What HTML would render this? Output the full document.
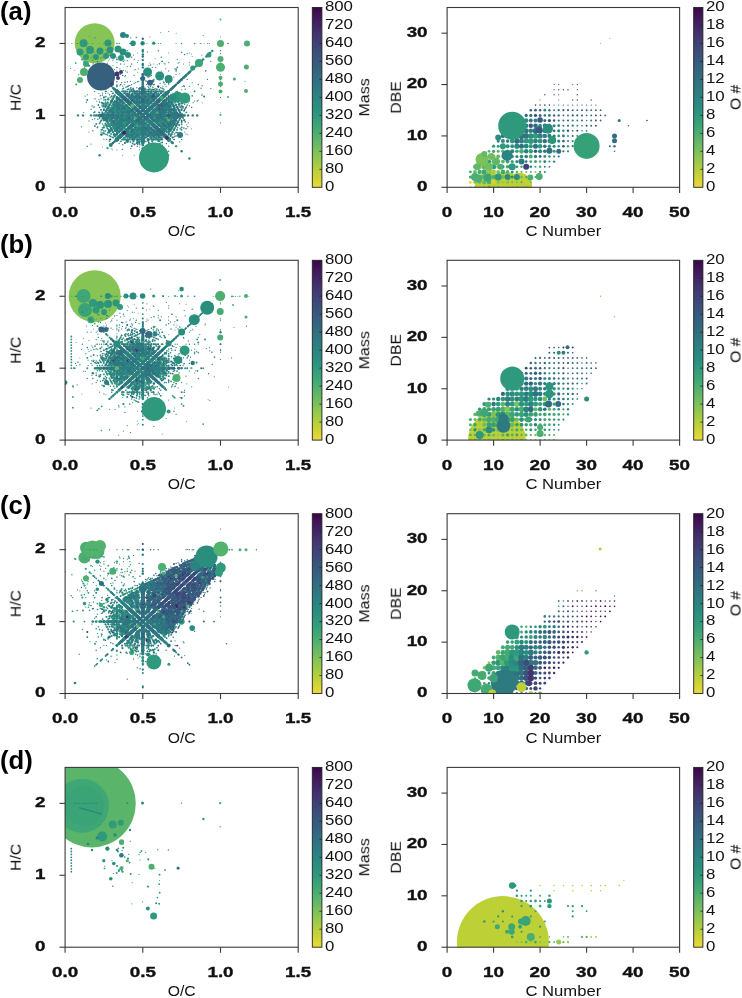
<!DOCTYPE html>
<html><head><meta charset="utf-8"><style>
html,body{margin:0;padding:0;background:#fff;}
svg{display:block;font-family:"Liberation Sans", sans-serif;}
text{will-change:transform;}
</style></head><body>
<svg width="742" height="998" viewBox="0 0 742 998">
<rect width="742" height="998" fill="#fff"/>
<defs><linearGradient id="vg" x1="0" y1="0" x2="0" y2="1"><stop offset="0.000" stop-color="#3b0648"/><stop offset="0.050" stop-color="#401657"/><stop offset="0.100" stop-color="#422566"/><stop offset="0.150" stop-color="#423470"/><stop offset="0.200" stop-color="#3f4177"/><stop offset="0.250" stop-color="#3b4e7b"/><stop offset="0.300" stop-color="#37597e"/><stop offset="0.350" stop-color="#346480"/><stop offset="0.400" stop-color="#306f81"/><stop offset="0.450" stop-color="#2d7a81"/><stop offset="0.500" stop-color="#2b8481"/><stop offset="0.550" stop-color="#2a8e7f"/><stop offset="0.600" stop-color="#2e997c"/><stop offset="0.650" stop-color="#3aa477"/><stop offset="0.700" stop-color="#4cae70"/><stop offset="0.750" stop-color="#63b866"/><stop offset="0.800" stop-color="#7bc15a"/><stop offset="0.850" stop-color="#97c94c"/><stop offset="0.900" stop-color="#b4cf3c"/><stop offset="0.950" stop-color="#d1d432"/><stop offset="1.000" stop-color="#ebd93e"/></linearGradient>
<clipPath id="cl0"><rect x="65.10" y="7.50" width="233.10" height="179.80"/></clipPath>
<clipPath id="cr0"><rect x="447.10" y="7.50" width="232.50" height="179.80"/></clipPath>
<clipPath id="cl1"><rect x="65.10" y="260.30" width="233.10" height="179.80"/></clipPath>
<clipPath id="cr1"><rect x="447.10" y="260.30" width="232.50" height="179.80"/></clipPath>
<clipPath id="cl2"><rect x="65.10" y="513.70" width="233.10" height="179.80"/></clipPath>
<clipPath id="cr2"><rect x="447.10" y="513.70" width="232.50" height="179.80"/></clipPath>
<clipPath id="cl3"><rect x="65.10" y="767.40" width="233.10" height="179.80"/></clipPath>
<clipPath id="cr3"><rect x="447.10" y="767.40" width="232.50" height="179.80"/></clipPath>
</defs>
<g clip-path="url(#cl0)">
<circle cx=94.7 cy=43.2 r=20 fill="#85c455"/>
<g fill="#2e997c"><circle cx=83.6 cy=43.2 r=4.0 /><circle cx=107.9 cy=43.0 r=3.5 /></g>
<circle cx=80.0 cy=52.0 r=3.5 fill="#319c7b"/>
<circle cx=90.0 cy=50.0 r=4.0 fill="#2e997c"/>
<g fill="#2c967d"><circle cx=100.0 cy=51.0 r=3.5 /><circle cx=110.0 cy=50.0 r=3.5 /></g>
<circle cx=118.0 cy=49.0 r=3.5 fill="#2b927e"/>
<circle cx=86.0 cy=57.0 r=3.0 fill="#319c7b"/>
<g fill="#2e997c"><circle cx=96.0 cy=57.0 r=3.0 /><circle cx=106.0 cy=56.0 r=3.0 /></g>
<g fill="#2a8e7f"><circle cx=123.0 cy=52.0 r=3.5 /><circle cx=128.0 cy=55.0 r=3.0 /></g>
<g fill="#2c967d"><circle cx=121.0 cy=58.0 r=3.0 /><circle cx=113.0 cy=56.0 r=3.0 /></g>
<g fill="#2b8481"><circle cx=123.0 cy=35.0 r=3.0 /><circle cx=127.0 cy=36.0 r=2.0 /></g>
<circle cx=133.0 cy=43.2 r=2.8 fill="#2a8e7f"/>
<g fill="#2a8780"><circle cx=116.9 cy=43.5 r=0.8 /><circle cx=106.5 cy=53.0 r=0.6 /><circle cx=116.9 cy=75.4 r=0.6 /><circle cx=103.9 cy=72.2 r=0.5 /><circle cx=94.7 cy=70.9 r=1.2 /><circle cx=109.5 cy=43.5 r=0.7 /><circle cx=93.4 cy=69.6 r=1.2 /><circle cx=119.2 cy=43.5 r=0.7 /><circle cx=114.8 cy=89.5 r=1.2 /><circle cx=92.8 cy=64.0 r=0.5 /><circle cx=106.5 cy=81.8 r=1.2 /><circle cx=106.5 cy=53.0 r=0.5 /><circle cx=112.6 cy=76.8 r=0.6 /></g>
<g fill="#2a8b80"><circle cx=113.7 cy=88.4 r=1.2 /><circle cx=102.1 cy=70.9 r=0.7 /><circle cx=93.4 cy=63.1 r=0.5 /><circle cx=107.5 cy=43.5 r=0.5 /><circle cx=105.6 cy=56.0 r=0.7 /><circle cx=84.5 cy=67.4 r=0.5 /><circle cx=108.6 cy=55.0 r=0.5 /><circle cx=114.8 cy=72.2 r=0.5 /><circle cx=89.0 cy=65.6 r=1.2 /><circle cx=101.0 cy=49.0 r=0.6 /><circle cx=99.6 cy=75.4 r=1.2 /><circle cx=111.1 cy=70.1 r=0.9 /><circle cx=87.3 cy=53.7 r=0.6 /><circle cx=70.5 cy=68.3 r=0.6 /><circle cx=75.8 cy=63.3 r=0.7 /><circle cx=75.5 cy=62.6 r=0.5 /><circle cx=101.4 cy=72.2 r=0.6 /></g>
<g fill="#2a8e7f"><circle cx=142.6 cy=43.2 r=2.2 /><circle cx=153.7 cy=43.2 r=1.6 /><circle cx=96.2 cy=72.2 r=1.2 /><circle cx=101.0 cy=76.7 r=1.2 /><circle cx=113.7 cy=79.4 r=0.6 /><circle cx=101.7 cy=85.8 r=0.8 /><circle cx=110.8 cy=43.5 r=0.6 /><circle cx=119.9 cy=68.8 r=0.6 /><circle cx=93.4 cy=56.5 r=0.5 /><circle cx=97.5 cy=73.4 r=1.2 /><circle cx=77.5 cy=43.5 r=0.5 /><circle cx=106.9 cy=76.7 r=0.6 /><circle cx=93.9 cy=80.8 r=0.6 /><circle cx=105.4 cy=75.4 r=0.7 /><circle cx=100.7 cy=58.4 r=0.6 /></g>
<g fill="#2b8481"><circle cx=108.3 cy=75.4 r=0.6 /><circle cx=106.0 cy=88.9 r=0.6 /><circle cx=116.9 cy=57.2 r=0.6 /><circle cx=100.4 cy=69.6 r=0.7 /><circle cx=107.5 cy=63.1 r=0.6 /><circle cx=105.6 cy=68.5 r=0.5 /><circle cx=103.9 cy=79.4 r=1.2 /><circle cx=103.9 cy=73.4 r=0.6 /><circle cx=110.4 cy=85.4 r=1.2 /><circle cx=108.6 cy=60.7 r=0.5 /><circle cx=108.6 cy=49.2 r=0.5 /><circle cx=112.9 cy=60.1 r=0.7 /><circle cx=92.8 cy=43.5 r=0.5 /><circle cx=85.8 cy=72.2 r=0.5 /><circle cx=91.0 cy=57.8 r=0.6 /><circle cx=96.2 cy=57.8 r=0.7 /><circle cx=106.5 cy=72.2 r=0.7 /><circle cx=105.7 cy=73.5 r=0.6 /></g>
<g fill="#2b927e"><circle cx=112.9 cy=87.7 r=1.2 /><circle cx=96.2 cy=72.2 r=1.2 /><circle cx=116.9 cy=81.8 r=0.5 /><circle cx=92.5 cy=60.4 r=0.7 /><circle cx=119.9 cy=85.8 r=0.6 /><circle cx=89.6 cy=35.9 r=0.5 /><circle cx=116.9 cy=84.6 r=0.6 /><circle cx=116.9 cy=70.9 r=0.5 /></g>
<g fill="#2c8081"><circle cx=114.5 cy=69.6 r=0.6 /><circle cx=92.1 cy=56.0 r=0.5 /><circle cx=97.5 cy=67.4 r=0.5 /><circle cx=96.2 cy=66.5 r=0.6 /><circle cx=102.4 cy=83.7 r=0.5 /><circle cx=106.9 cy=82.2 r=1.2 /><circle cx=106.9 cy=71.1 r=0.6 /><circle cx=112.9 cy=82.2 r=0.6 /><circle cx=116.9 cy=86.1 r=0.6 /><circle cx=81.2 cy=78.2 r=0.5 /><circle cx=86.5 cy=73.2 r=0.5 /><circle cx=116.9 cy=67.4 r=0.6 /></g>
<g fill="#2c967d"><circle cx=99.6 cy=75.4 r=1.2 /><circle cx=107.5 cy=82.7 r=1.2 /><circle cx=85.8 cy=62.6 r=1.2 /><circle cx=94.2 cy=52.4 r=0.5 /><circle cx=112.4 cy=81.0 r=0.7 /><circle cx=116.9 cy=73.4 r=0.6 /><circle cx=83.7 cy=43.5 r=0.5 /></g>
<g fill="#2d7a81"><circle cx=103.9 cy=65.0 r=0.7 /><circle cx=114.5 cy=56.5 r=0.6 /><circle cx=98.9 cy=68.5 r=0.5 /><circle cx=97.5 cy=61.4 r=0.6 /><circle cx=88.1 cy=80.8 r=0.5 /></g>
<g fill="#2d7d81"><circle cx=116.9 cy=62.6 r=0.5 /><circle cx=114.2 cy=88.9 r=1.2 /><circle cx=105.6 cy=49.7 r=0.5 /><circle cx=110.4 cy=79.4 r=0.6 /><circle cx=110.4 cy=55.4 r=0.8 /><circle cx=96.2 cy=83.7 r=0.5 /><circle cx=96.2 cy=55.0 r=0.6 /><circle cx=95.0 cy=37.9 r=0.6 /><circle cx=88.1 cy=48.8 r=0.5 /><circle cx=116.9 cy=59.4 r=0.9 /><circle cx=109.5 cy=74.3 r=0.6 /><circle cx=109.5 cy=58.9 r=0.5 /><circle cx=116.9 cy=86.6 r=0.8 /><circle cx=82.3 cy=71.6 r=0.6 /></g>
<g fill="#2e997c"><circle cx=93.4 cy=56.5 r=0.7 /><circle cx=116.9 cy=67.4 r=0.6 /><circle cx=112.9 cy=65.6 r=0.6 /><circle cx=84.5 cy=43.5 r=0.6 /><circle cx=83.4 cy=51.9 r=0.5 /><circle cx=92.5 cy=77.3 r=0.5 /><circle cx=76.6 cy=43.5 r=0.5 /></g>
<g fill="#2f7281"><circle cx=111.7 cy=77.0 r=0.6 /><circle cx=92.4 cy=68.7 r=0.6 /></g>
<g fill="#2f7681"><circle cx=114.5 cy=89.2 r=1.2 /><circle cx=116.9 cy=85.4 r=0.7 /><circle cx=103.9 cy=43.5 r=0.6 /><circle cx=97.3 cy=83.1 r=0.5 /><circle cx=97.3 cy=73.2 r=1.2 /><circle cx=101.4 cy=77.0 r=1.2 /></g>
<circle cx=111.1 cy=86.1 r=1.2 fill="#306f81"/>
<circle cx=116.9 cy=81.8 r=0.6 fill="#316c80"/>
<g fill="#319c7b"><circle cx=106.5 cy=43.5 r=0.5 /><circle cx=71.9 cy=43.5 r=0.6 /><circle cx=89.0 cy=43.5 r=0.5 /></g>
<g fill="#36a079"><circle cx=84.5 cy=61.4 r=1.2 /><circle cx=82.4 cy=59.4 r=1.2 /><circle cx=101.0 cy=65.6 r=0.6 /><circle cx=102.1 cy=57.2 r=0.7 /><circle cx=78.6 cy=74.7 r=0.6 /><circle cx=99.0 cy=86.0 r=0.6 /></g>
<g fill="#3aa477"><circle cx=107.5 cy=69.6 r=0.5 /><circle cx=76.2 cy=84.6 r=1.0 /></g>
<g fill="#3fa775"><circle cx=82.4 cy=43.5 r=0.5 /><circle cx=98.9 cy=43.5 r=0.5 /><circle cx=105.4 cy=64.8 r=0.5 /></g>
<circle cx=94.7 cy=77.7 r=0.7 fill="#422a69"/>
<circle cx=74.8 cy=70.4 r=0.5 fill="#45aa73"/>
<circle cx=86.3 cy=50.0 r=0.7 fill="#4cae70"/>
<circle cx=79.2 cy=43.5 r=0.5 fill="#5ab56a"/>
<circle cx=101.0 cy=76.5 r=14 fill="#35617f"/>
<g fill="#2a8b80"><circle cx=123.4 cy=133.4 r=2.0 /><circle cx=116.9 cy=107.4 r=1.3 /><circle cx=111.7 cy=101.0 r=1.3 /></g>
<g fill="#2a8e7f"><circle cx=162.2 cy=133.4 r=2.0 /><circle cx=134.2 cy=139.4 r=1.1 /><circle cx=168.7 cy=123.4 r=1.4 /></g>
<circle cx=116.9 cy=91.4 r=2.0 fill="#2b8481"/>
<g fill="#2b927e"><circle cx=142.8 cy=115.4 r=2.0 /><circle cx=142.8 cy=97.4 r=2.0 /><circle cx=116.9 cy=123.4 r=1.3 /><circle cx=134.2 cy=107.4 r=2.0 /><circle cx=151.4 cy=123.4 r=2.0 /></g>
<g fill="#2c967d"><circle cx=99.6 cy=123.4 r=0.9 /><circle cx=99.6 cy=107.4 r=0.8 /><circle cx=134.2 cy=91.4 r=1.2 /><circle cx=111.7 cy=144.1 r=1.2 /><circle cx=111.7 cy=115.4 r=2.0 /></g>
<g fill="#2e997c"><circle cx=153.9 cy=125.7 r=2.0 /><circle cx=123.4 cy=115.4 r=2.0 /><circle cx=123.4 cy=97.4 r=2.0 /><circle cx=116.9 cy=139.4 r=2.0 /><circle cx=127.3 cy=115.4 r=2.0 /><circle cx=127.3 cy=101.0 r=2.0 /></g>
<g fill="#319c7b"><circle cx=103.9 cy=115.4 r=2.0 /><circle cx=162.2 cy=115.4 r=2.0 /><circle cx=162.2 cy=97.4 r=2.0 /><circle cx=162.2 cy=61.4 r=0.8 /><circle cx=134.2 cy=123.4 r=2.0 /><circle cx=168.7 cy=139.4 r=2.0 /><circle cx=186.0 cy=75.4 r=1.2 /></g>
<g fill="#36a079"><circle cx=109.5 cy=125.7 r=1.2 /><circle cx=131.7 cy=125.7 r=2.0 /><circle cx=153.9 cy=105.1 r=2.0 /><circle cx=198.3 cy=84.6 r=0.8 /><circle cx=103.9 cy=133.4 r=1.2 /><circle cx=168.7 cy=107.4 r=1.3 /><circle cx=168.7 cy=91.4 r=1.2 /><circle cx=127.3 cy=129.8 r=2.0 /></g>
<g fill="#3aa477"><circle cx=142.8 cy=133.4 r=2.0 /><circle cx=151.4 cy=91.4 r=1.2 /></g>
<g fill="#3fa775"><circle cx=131.7 cy=105.1 r=2.0 /><circle cx=176.1 cy=146.2 r=1.2 /><circle cx=201.1 cy=43.5 r=0.6 /><circle cx=142.8 cy=144.1 r=1.3 /></g>
<g fill="#45aa73"><circle cx=176.1 cy=125.7 r=1.1 /><circle cx=176.1 cy=105.1 r=1.1 /><circle cx=201.1 cy=61.4 r=1.2 /></g>
<circle cx=220.5 cy=59.4 r=0.6 fill="#4cae70"/>
<circle cx=220.5 cy=61.4 r=0.9 fill="#6bbb62"/>
<circle cx=142.8 cy=129.8 r=3.9 fill="#2e997c"/>
<g fill="#2a8780"><circle cx=121.6 cy=135.0 r=2.0 /><circle cx=103.9 cy=115.4 r=2.0 /><circle cx=155.8 cy=67.4 r=0.6 /><circle cx=101.0 cy=109.8 r=0.9 /><circle cx=124.9 cy=120.9 r=1.3 /><circle cx=148.8 cy=98.8 r=1.2 /></g>
<g fill="#2a8b80"><circle cx=173.9 cy=86.6 r=1.2 /><circle cx=135.7 cy=121.9 r=2.0 /><circle cx=149.9 cy=95.8 r=1.2 /><circle cx=116.9 cy=91.4 r=2.0 /><circle cx=129.8 cy=103.4 r=2.0 /><circle cx=168.7 cy=151.3 r=0.8 /><circle cx=168.7 cy=103.4 r=1.4 /><circle cx=148.8 cy=132.0 r=1.3 /><circle cx=148.8 cy=120.9 r=2.0 /></g>
<g fill="#2a8e7f"><circle cx=173.9 cy=129.8 r=1.3 /><circle cx=149.9 cy=108.8 r=2.0 /><circle cx=164.0 cy=95.8 r=2.0 /><circle cx=116.9 cy=139.4 r=2.0 /><circle cx=116.9 cy=127.4 r=1.6 /><circle cx=142.8 cy=103.4 r=2.0 /><circle cx=155.8 cy=103.4 r=2.0 /><circle cx=168.7 cy=31.5 r=0.6 /><circle cx=181.6 cy=127.4 r=1.0 /><circle cx=112.9 cy=132.0 r=1.1 /><circle cx=112.9 cy=109.8 r=1.3 /><circle cx=124.9 cy=76.7 r=0.6 /><circle cx=136.8 cy=132.0 r=1.2 /></g>
<g fill="#2b8481"><circle cx=121.6 cy=95.8 r=2.0 /><circle cx=116.9 cy=103.4 r=1.4 /><circle cx=207.5 cy=79.4 r=0.6 /><circle cx=124.9 cy=98.8 r=2.0 /></g>
<g fill="#2b927e"><circle cx=107.5 cy=121.9 r=1.1 /><circle cx=107.5 cy=108.8 r=1.1 /><circle cx=135.7 cy=95.8 r=1.2 /><circle cx=164.0 cy=135.0 r=2.0 /><circle cx=178.1 cy=108.8 r=1.0 /><circle cx=178.1 cy=82.7 r=1.2 /><circle cx=192.2 cy=82.7 r=0.6 /><circle cx=248.8 cy=43.5 r=0.5 /><circle cx=103.9 cy=127.4 r=0.9 /><circle cx=142.8 cy=139.4 r=2.0 /><circle cx=155.8 cy=43.5 r=0.5 /><circle cx=168.7 cy=79.4 r=0.9 /><circle cx=148.8 cy=87.7 r=0.8 /></g>
<g fill="#2c8081"><circle cx=142.8 cy=79.4 r=1.2 /><circle cx=181.6 cy=115.4 r=2.0 /></g>
<g fill="#2c967d"><circle cx=142.8 cy=115.4 r=2.0 /><circle cx=142.8 cy=86.6 r=1.2 /><circle cx=158.3 cy=129.8 r=2.0 /><circle cx=121.6 cy=108.8 r=1.4 /><circle cx=135.7 cy=108.8 r=2.0 /><circle cx=149.9 cy=82.7 r=0.6 /><circle cx=142.8 cy=115.4 r=2.0 /><circle cx=155.8 cy=127.4 r=2.0 /><circle cx=168.7 cy=115.4 r=2.0 /><circle cx=112.9 cy=98.8 r=1.3 /><circle cx=124.9 cy=132.0 r=2.0 /><circle cx=136.8 cy=109.8 r=2.0 /><circle cx=148.8 cy=143.0 r=0.9 /><circle cx=148.8 cy=76.7 r=0.8 /><circle cx=148.8 cy=65.6 r=0.6 /></g>
<g fill="#2e997c"><circle cx=107.5 cy=148.1 r=1.2 /><circle cx=135.7 cy=82.7 r=0.6 /><circle cx=149.9 cy=121.9 r=2.0 /><circle cx=164.0 cy=121.9 r=1.3 /><circle cx=164.0 cy=82.7 r=0.6 /><circle cx=192.2 cy=95.8 r=0.9 /><circle cx=116.9 cy=115.4 r=2.0 /><circle cx=129.8 cy=127.4 r=2.0 /><circle cx=129.8 cy=115.4 r=2.0 /><circle cx=155.8 cy=139.4 r=1.1 /><circle cx=168.7 cy=127.4 r=1.5 /><circle cx=181.6 cy=79.4 r=1.2 /><circle cx=220.5 cy=43.5 r=1.2 /><circle cx=101.0 cy=132.0 r=0.7 /><circle cx=136.8 cy=143.0 r=1.0 /><circle cx=160.7 cy=143.0 r=0.8 /></g>
<g fill="#319c7b"><circle cx=142.8 cy=101.0 r=2.0 /><circle cx=158.3 cy=101.0 r=2.0 /><circle cx=155.8 cy=115.4 r=2.0 /><circle cx=155.8 cy=91.4 r=1.1 /><circle cx=168.7 cy=91.4 r=1.2 /><circle cx=220.5 cy=91.4 r=0.7 /><circle cx=89.0 cy=132.0 r=0.6 /><circle cx=101.0 cy=120.9 r=0.8 /><circle cx=101.0 cy=98.8 r=0.7 /><circle cx=124.9 cy=109.8 r=1.3 /></g>
<g fill="#36a079"><circle cx=173.9 cy=101.0 r=1.6 /><circle cx=135.7 cy=69.6 r=0.6 /><circle cx=178.1 cy=121.9 r=1.2 /><circle cx=142.8 cy=127.4 r=2.0 /><circle cx=168.7 cy=139.4 r=2.0 /><circle cx=207.5 cy=43.5 r=0.6 /><circle cx=124.9 cy=143.0 r=0.8 /><circle cx=136.8 cy=98.8 r=1.2 /><circle cx=136.8 cy=87.7 r=0.8 /><circle cx=148.8 cy=109.8 r=2.0 /></g>
<g fill="#3aa477"><circle cx=158.3 cy=86.6 r=1.0 /><circle cx=173.9 cy=115.4 r=2.0 /><circle cx=189.4 cy=101.0 r=0.6 /><circle cx=135.7 cy=135.0 r=1.2 /><circle cx=103.9 cy=139.4 r=0.7 /></g>
<g fill="#3fa775"><circle cx=158.3 cy=115.4 r=2.0 /><circle cx=129.8 cy=91.4 r=1.1 /><circle cx=194.6 cy=43.5 r=0.8 /><circle cx=112.9 cy=120.9 r=1.4 /></g>
<circle cx=136.8 cy=120.9 r=2.0 fill="#422f6d"/>
<circle cx=142.8 cy=91.4 r=2.0 fill="#5ab56a"/>
<circle cx=160.7 cy=132.0 r=4.2 fill="#2a8e7f"/>
<g fill="#2a8780"><circle cx=160.7 cy=87.7 r=0.7 /><circle cx=160.7 cy=43.5 r=0.6 /><circle cx=172.7 cy=120.9 r=1.2 /><circle cx=109.5 cy=94.8 r=0.8 /><circle cx=120.6 cy=125.7 r=1.5 /></g>
<g fill="#2a8b80"><circle cx=172.7 cy=87.7 r=1.2 /><circle cx=131.7 cy=115.4 r=2.0 /><circle cx=131.7 cy=64.0 r=0.6 /><circle cx=142.8 cy=115.4 r=2.0 /></g>
<g fill="#2a8e7f"><circle cx=160.7 cy=120.9 r=1.5 /><circle cx=184.6 cy=109.8 r=0.7 /><circle cx=109.5 cy=105.1 r=1.1 /><circle cx=120.6 cy=115.4 r=2.0 /><circle cx=142.8 cy=105.1 r=2.0 /><circle cx=153.9 cy=115.4 r=2.0 /><circle cx=153.9 cy=94.8 r=1.6 /><circle cx=153.9 cy=84.6 r=0.7 /></g>
<g fill="#2b8481"><circle cx=184.6 cy=132.0 r=0.6 /><circle cx=131.7 cy=94.8 r=1.2 /><circle cx=153.9 cy=125.7 r=2.0 /></g>
<g fill="#2b927e"><circle cx=184.6 cy=98.8 r=0.8 /><circle cx=184.6 cy=76.7 r=1.2 /><circle cx=220.5 cy=43.5 r=1.2 /><circle cx=109.5 cy=115.4 r=2.0 /><circle cx=142.8 cy=125.7 r=2.0 /><circle cx=165.0 cy=135.9 r=2.0 /></g>
<g fill="#2c8081"><circle cx=172.7 cy=98.8 r=1.0 /><circle cx=120.6 cy=74.3 r=0.6 /><circle cx=142.8 cy=94.8 r=2.0 /><circle cx=142.8 cy=74.3 r=1.2 /></g>
<g fill="#2c967d"><circle cx=160.7 cy=98.8 r=2.0 /><circle cx=98.4 cy=105.1 r=0.8 /><circle cx=109.5 cy=125.7 r=1.2 /><circle cx=120.6 cy=64.0 r=0.7 /><circle cx=165.0 cy=115.4 r=2.0 /></g>
<g fill="#2d7a81"><circle cx=131.7 cy=84.6 r=0.7 /><circle cx=153.9 cy=105.1 r=2.0 /></g>
<g fill="#2e997c"><circle cx=172.7 cy=109.8 r=1.2 /><circle cx=109.5 cy=135.9 r=0.9 /></g>
<circle cx=120.6 cy=105.1 r=1.5 fill="#2f7681"/>
<g fill="#319c7b"><circle cx=160.7 cy=32.4 r=0.5 /><circle cx=120.6 cy=135.9 r=2.0 /><circle cx=120.6 cy=94.8 r=2.0 /><circle cx=131.7 cy=135.9 r=1.4 /></g>
<circle cx=142.8 cy=135.9 r=2.0 fill="#36a079"/>
<g fill="#3aa477"><circle cx=98.4 cy=115.4 r=1.2 /><circle cx=131.7 cy=125.7 r=2.0 /></g>
<circle cx=165.0 cy=125.7 r=1.5 fill="#45aa73"/>
<circle cx=165.0 cy=105.1 r=3.4 fill="#2c8081"/>
<g fill="#2a8780"><circle cx=176.1 cy=115.4 r=2.0 /><circle cx=127.3 cy=91.4 r=0.9 /><circle cx=127.3 cy=81.8 r=0.6 /><circle cx=137.6 cy=91.4 r=1.2 /><circle cx=137.6 cy=81.8 r=0.8 /><circle cx=137.6 cy=62.6 r=0.5 /><circle cx=158.3 cy=72.2 r=0.7 /><circle cx=168.7 cy=120.2 r=1.2 /><circle cx=179.1 cy=81.8 r=1.2 /><circle cx=113.7 cy=115.4 r=2.0 /><circle cx=113.7 cy=106.4 r=1.3 /><circle cx=133.1 cy=133.4 r=1.4 /><circle cx=142.8 cy=97.4 r=2.0 /><circle cx=162.2 cy=106.4 r=1.5 /><circle cx=181.6 cy=106.4 r=1.3 /><circle cx=181.6 cy=97.4 r=0.9 /><circle cx=110.8 cy=111.1 r=1.1 /><circle cx=129.1 cy=111.1 r=1.5 /><circle cx=147.4 cy=51.9 r=0.6 /><circle cx=165.7 cy=94.2 r=2.0 /><circle cx=174.8 cy=128.1 r=1.1 /><circle cx=174.8 cy=102.7 r=0.9 /><circle cx=174.8 cy=94.2 r=0.7 /><circle cx=174.8 cy=68.8 r=0.6 /><circle cx=108.3 cy=115.4 r=2.0 /><circle cx=108.3 cy=107.4 r=1.5 /><circle cx=116.9 cy=131.4 r=1.2 /><circle cx=125.5 cy=139.4 r=1.1 /><circle cx=134.2 cy=99.4 r=1.3 /><circle cx=142.8 cy=155.3 r=1.2 /><circle cx=151.4 cy=91.4 r=1.3 /><circle cx=151.4 cy=83.4 r=0.7 /><circle cx=168.7 cy=99.4 r=1.3 /><circle cx=168.7 cy=83.4 r=0.7 /><circle cx=177.3 cy=99.4 r=1.1 /><circle cx=177.3 cy=91.4 r=0.7 /><circle cx=177.3 cy=67.4 r=0.8 /><circle cx=194.6 cy=43.5 r=0.6 /><circle cx=114.2 cy=141.9 r=1.2 /><circle cx=122.4 cy=111.6 r=1.2 /><circle cx=122.4 cy=104.0 r=1.2 /><circle cx=130.5 cy=66.2 r=0.7 /><circle cx=138.7 cy=126.7 r=1.4 /><circle cx=138.7 cy=96.5 r=1.2 /><circle cx=138.7 cy=81.3 r=0.6 /><circle cx=163.2 cy=104.0 r=1.3 /><circle cx=171.4 cy=88.9 r=1.2 /><circle cx=179.6 cy=104.0 r=0.9 /><circle cx=245.0 cy=81.3 r=0.5 /><circle cx=119.5 cy=129.8 r=1.2 /><circle cx=119.5 cy=101.0 r=1.3 /><circle cx=135.0 cy=122.6 r=2.0 /><circle cx=135.0 cy=108.2 r=2.0 /><circle cx=142.8 cy=129.8 r=2.0 /><circle cx=142.8 cy=101.0 r=2.0 /><circle cx=142.8 cy=65.0 r=1.2 /><circle cx=150.6 cy=144.1 r=0.9 /><circle cx=150.6 cy=86.6 r=0.8 /><circle cx=158.3 cy=115.4 r=2.0 /><circle cx=166.1 cy=137.0 r=2.0 /><circle cx=166.1 cy=93.8 r=2.0 /><circle cx=173.9 cy=108.2 r=1.3 /><circle cx=173.9 cy=93.8 r=0.8 /><circle cx=173.9 cy=86.6 r=1.2 /><circle cx=181.6 cy=79.4 r=1.2 /><circle cx=189.4 cy=158.5 r=1.2 /><circle cx=189.4 cy=86.6 r=0.6 /><circle cx=109.5 cy=132.5 r=0.9 /><circle cx=124.3 cy=132.5 r=2.0 /></g>
<g fill="#2a8b80"><circle cx=176.1 cy=74.3 r=0.6 /><circle cx=106.5 cy=110.6 r=1.1 /><circle cx=116.9 cy=110.6 r=1.4 /><circle cx=116.9 cy=101.0 r=1.2 /><circle cx=127.3 cy=139.4 r=1.0 /><circle cx=127.3 cy=101.0 r=2.0 /><circle cx=148.0 cy=139.4 r=1.2 /><circle cx=148.0 cy=110.6 r=2.0 /><circle cx=168.7 cy=81.8 r=0.9 /><circle cx=103.9 cy=97.4 r=1.0 /><circle cx=133.1 cy=88.4 r=0.9 /><circle cx=152.5 cy=115.4 r=2.2 /><circle cx=152.5 cy=97.4 r=1.8 /><circle cx=171.9 cy=124.4 r=1.2 /><circle cx=119.9 cy=102.7 r=1.2 /><circle cx=129.1 cy=136.5 r=1.1 /><circle cx=138.2 cy=128.1 r=1.2 /><circle cx=138.2 cy=94.2 r=1.3 /><circle cx=138.2 cy=68.8 r=0.6 /><circle cx=138.2 cy=60.4 r=0.5 /><circle cx=147.4 cy=111.1 r=2.0 /><circle cx=165.7 cy=111.1 r=1.2 /><circle cx=165.7 cy=68.8 r=0.6 /><circle cx=174.8 cy=136.5 r=0.8 /><circle cx=108.3 cy=99.4 r=1.2 /><circle cx=116.9 cy=115.4 r=2.0 /><circle cx=116.9 cy=107.4 r=1.3 /><circle cx=116.9 cy=91.4 r=2.0 /><circle cx=134.2 cy=59.4 r=0.6 /><circle cx=142.8 cy=139.4 r=2.0 /><circle cx=142.8 cy=83.4 r=1.2 /><circle cx=151.4 cy=123.4 r=2.0 /><circle cx=151.4 cy=107.4 r=2.0 /><circle cx=160.1 cy=147.3 r=0.7 /><circle cx=160.1 cy=131.4 r=2.0 /><circle cx=160.1 cy=99.4 r=2.0 /><circle cx=168.7 cy=139.4 r=2.0 /><circle cx=177.3 cy=59.4 r=0.6 /><circle cx=186.0 cy=75.4 r=1.2 /><circle cx=65.1 cy=104.0 r=0.5 /><circle cx=97.8 cy=126.7 r=0.6 /><circle cx=106.0 cy=134.3 r=0.9 /><circle cx=122.4 cy=149.4 r=0.7 /><circle cx=130.5 cy=126.7 r=2.0 /><circle cx=138.7 cy=119.2 r=2.0 /><circle cx=138.7 cy=111.6 r=2.0 /><circle cx=146.9 cy=134.3 r=1.2 /><circle cx=146.9 cy=119.2 r=2.0 /><circle cx=155.1 cy=126.7 r=2.0 /><circle cx=163.2 cy=119.2 r=1.2 /><circle cx=163.2 cy=111.6 r=1.3 /><circle cx=171.4 cy=134.3 r=1.2 /><circle cx=171.4 cy=104.0 r=1.1 /><circle cx=187.8 cy=126.7 r=0.7 /><circle cx=212.3 cy=51.0 r=1.2 /><circle cx=103.9 cy=115.4 r=2.0 /><circle cx=111.7 cy=115.4 r=2.0 /><circle cx=119.5 cy=122.6 r=1.5 /><circle cx=127.3 cy=122.6 r=1.6 /><circle cx=135.0 cy=144.1 r=0.8 /><circle cx=142.8 cy=122.6 r=2.0 /><circle cx=142.8 cy=79.4 r=1.2 /><circle cx=158.3 cy=129.8 r=2.0 /><circle cx=166.1 cy=115.4 r=2.0 /><circle cx=166.1 cy=86.6 r=0.6 /><circle cx=173.9 cy=129.8 r=1.3 /><circle cx=173.9 cy=115.4 r=2.0 /><circle cx=94.7 cy=91.4 r=0.6 /><circle cx=109.5 cy=118.8 r=1.2 /><circle cx=116.9 cy=105.1 r=1.1 /><circle cx=124.3 cy=125.7 r=1.2 /></g>
<g fill="#2a8e7f"><circle cx=176.1 cy=33.2 r=0.5 /><circle cx=106.5 cy=139.4 r=0.7 /><circle cx=116.9 cy=129.8 r=1.1 /><circle cx=127.3 cy=129.8 r=2.0 /><circle cx=127.3 cy=110.6 r=1.3 /><circle cx=137.6 cy=139.4 r=1.1 /><circle cx=137.6 cy=129.8 r=1.3 /><circle cx=137.6 cy=72.2 r=0.5 /><circle cx=148.0 cy=129.8 r=1.7 /><circle cx=158.3 cy=120.2 r=1.4 /><circle cx=158.3 cy=101.0 r=2.0 /><circle cx=158.3 cy=91.4 r=1.0 /><circle cx=168.7 cy=91.4 r=1.2 /><circle cx=168.7 cy=62.6 r=0.7 /><circle cx=168.7 cy=53.0 r=0.5 /><circle cx=179.1 cy=101.0 r=0.8 /><circle cx=179.1 cy=62.6 r=0.6 /><circle cx=189.4 cy=101.0 r=0.6 /><circle cx=189.4 cy=53.0 r=0.5 /><circle cx=103.9 cy=106.4 r=1.1 /><circle cx=113.7 cy=124.4 r=1.4 /><circle cx=113.7 cy=97.4 r=1.1 /><circle cx=123.4 cy=133.4 r=2.0 /><circle cx=123.4 cy=88.4 r=0.9 /><circle cx=123.4 cy=70.4 r=0.6 /><circle cx=133.1 cy=97.4 r=1.4 /><circle cx=142.8 cy=142.4 r=2.0 /><circle cx=162.2 cy=97.4 r=2.0 /><circle cx=171.9 cy=97.4 r=0.9 /><circle cx=101.7 cy=102.7 r=0.9 /><circle cx=119.9 cy=119.6 r=1.3 /><circle cx=119.9 cy=111.1 r=1.3 /><circle cx=129.1 cy=102.7 r=2.0 /><circle cx=138.2 cy=136.5 r=1.2 /><circle cx=138.2 cy=102.7 r=1.6 /><circle cx=147.4 cy=119.6 r=2.0 /><circle cx=156.5 cy=119.6 r=1.4 /><circle cx=156.5 cy=111.1 r=1.3 /><circle cx=165.7 cy=77.3 r=0.6 /><circle cx=183.9 cy=77.3 r=1.2 /><circle cx=193.1 cy=102.7 r=0.6 /><circle cx=202.2 cy=94.2 r=0.6 /><circle cx=91.0 cy=115.4 r=1.2 /><circle cx=125.5 cy=123.4 r=1.5 /><circle cx=125.5 cy=115.4 r=2.0 /><circle cx=125.5 cy=107.4 r=1.8 /><circle cx=134.2 cy=155.3 r=0.5 /><circle cx=134.2 cy=123.4 r=2.0 /><circle cx=134.2 cy=107.4 r=2.0 /><circle cx=142.8 cy=163.3 r=1.2 /><circle cx=142.8 cy=99.4 r=2.0 /><circle cx=142.8 cy=51.5 r=1.2 /><circle cx=151.4 cy=75.4 r=0.7 /><circle cx=168.7 cy=123.4 r=1.6 /><circle cx=106.0 cy=111.6 r=1.0 /><circle cx=114.2 cy=96.5 r=0.9 /><circle cx=122.4 cy=88.9 r=0.7 /><circle cx=130.5 cy=141.9 r=0.9 /><circle cx=130.5 cy=111.6 r=1.5 /><circle cx=130.5 cy=104.0 r=2.0 /><circle cx=130.5 cy=96.5 r=1.4 /><circle cx=146.9 cy=126.7 r=1.3 /><circle cx=146.9 cy=104.0 r=1.2 /><circle cx=111.7 cy=108.2 r=1.4 /><circle cx=142.8 cy=93.8 r=2.0 /><circle cx=150.6 cy=129.8 r=1.3 /><circle cx=150.6 cy=93.8 r=1.2 /><circle cx=158.3 cy=122.6 r=2.0 /><circle cx=158.3 cy=93.8 r=1.2 /><circle cx=181.6 cy=101.0 r=0.8 /><circle cx=220.5 cy=65.0 r=0.6 /><circle cx=102.1 cy=105.1 r=0.9 /><circle cx=109.5 cy=139.4 r=0.7 /><circle cx=116.9 cy=132.5 r=1.0 /></g>
<g fill="#2b8481"><circle cx=148.0 cy=120.2 r=2.0 /><circle cx=148.0 cy=101.0 r=1.3 /><circle cx=148.0 cy=91.4 r=0.9 /><circle cx=179.1 cy=110.6 r=1.0 /><circle cx=123.4 cy=106.4 r=1.6 /><circle cx=142.8 cy=133.4 r=2.0 /><circle cx=110.8 cy=145.0 r=1.9 /><circle cx=119.9 cy=128.1 r=1.2 /><circle cx=129.1 cy=128.1 r=2.0 /><circle cx=147.4 cy=128.1 r=1.3 /><circle cx=165.7 cy=136.5 r=2.0 /><circle cx=165.7 cy=128.1 r=1.3 /><circle cx=183.9 cy=128.1 r=0.8 /><circle cx=183.9 cy=111.1 r=0.7 /><circle cx=183.9 cy=85.8 r=0.8 /><circle cx=116.9 cy=99.4 r=1.2 /><circle cx=134.2 cy=115.4 r=2.0 /><circle cx=134.2 cy=91.4 r=1.0 /><circle cx=134.2 cy=83.4 r=0.7 /><circle cx=160.1 cy=115.4 r=2.0 /><circle cx=160.1 cy=107.4 r=1.5 /><circle cx=160.1 cy=91.4 r=1.1 /><circle cx=168.7 cy=131.4 r=1.3 /><circle cx=168.7 cy=91.4 r=1.2 /><circle cx=177.3 cy=107.4 r=1.2 /><circle cx=186.0 cy=107.4 r=0.7 /><circle cx=194.6 cy=91.4 r=0.9 /><circle cx=106.0 cy=104.0 r=1.2 /><circle cx=106.0 cy=96.5 r=0.7 /><circle cx=114.2 cy=134.3 r=1.4 /><circle cx=114.2 cy=111.6 r=1.4 /><circle cx=114.2 cy=104.0 r=1.2 /><circle cx=122.4 cy=134.3 r=2.0 /><circle cx=122.4 cy=119.2 r=1.2 /><circle cx=138.7 cy=141.9 r=1.4 /><circle cx=138.7 cy=134.3 r=1.3 /><circle cx=163.2 cy=134.3 r=2.0 /><circle cx=163.2 cy=126.7 r=1.2 /><circle cx=163.2 cy=81.3 r=0.6 /><circle cx=171.4 cy=141.9 r=1.2 /><circle cx=171.4 cy=119.2 r=1.1 /><circle cx=171.4 cy=111.6 r=1.1 /><circle cx=179.6 cy=81.3 r=1.2 /><circle cx=187.8 cy=134.3 r=0.5 /><circle cx=111.7 cy=129.8 r=1.5 /><circle cx=119.5 cy=137.0 r=2.0 /><circle cx=127.3 cy=115.4 r=2.0 /><circle cx=127.3 cy=108.2 r=1.6 /><circle cx=127.3 cy=50.7 r=0.7 /><circle cx=135.0 cy=137.0 r=1.3 /><circle cx=135.0 cy=101.0 r=1.4 /><circle cx=142.8 cy=108.2 r=2.0 /><circle cx=158.3 cy=137.0 r=1.2 /><circle cx=158.3 cy=101.0 r=2.0 /><circle cx=166.1 cy=101.0 r=1.2 /><circle cx=189.4 cy=72.2 r=1.2 /><circle cx=197.2 cy=101.0 r=0.7 /><circle cx=220.5 cy=86.6 r=0.6 /><circle cx=220.5 cy=50.7 r=0.7 /><circle cx=94.7 cy=118.8 r=0.7 /><circle cx=109.5 cy=125.7 r=1.2 /><circle cx=109.5 cy=105.1 r=1.1 /><circle cx=116.9 cy=112.0 r=1.2 /></g>
<g fill="#2b927e"><circle cx=165.0 cy=94.8 r=2.0 /><circle cx=176.1 cy=105.1 r=1.1 /><circle cx=187.2 cy=53.7 r=0.6 /><circle cx=220.5 cy=74.3 r=0.5 /><circle cx=116.9 cy=120.2 r=1.3 /><circle cx=137.6 cy=110.6 r=2.0 /><circle cx=137.6 cy=101.0 r=1.2 /><circle cx=158.3 cy=139.4 r=1.4 /><circle cx=158.3 cy=110.6 r=1.3 /><circle cx=168.7 cy=139.4 r=2.0 /><circle cx=189.4 cy=62.6 r=0.5 /><circle cx=94.2 cy=115.4 r=1.2 /><circle cx=103.9 cy=115.4 r=2.0 /><circle cx=142.8 cy=151.3 r=1.2 /><circle cx=142.8 cy=115.4 r=2.0 /><circle cx=152.5 cy=124.4 r=2.0 /><circle cx=162.2 cy=88.4 r=0.8 /><circle cx=171.9 cy=115.4 r=2.0 /><circle cx=181.6 cy=52.4 r=0.7 /><circle cx=210.8 cy=88.4 r=0.6 /><circle cx=220.5 cy=79.4 r=0.7 /><circle cx=92.5 cy=119.6 r=0.6 /><circle cx=147.4 cy=94.2 r=1.1 /><circle cx=156.5 cy=136.5 r=1.1 /><circle cx=165.7 cy=102.7 r=1.1 /><circle cx=174.8 cy=119.6 r=1.2 /><circle cx=202.2 cy=85.8 r=0.7 /><circle cx=220.5 cy=85.8 r=0.6 /><circle cx=125.5 cy=75.4 r=0.6 /><circle cx=134.2 cy=131.4 r=1.5 /><circle cx=142.8 cy=115.4 r=2.1 /><circle cx=160.1 cy=83.4 r=0.6 /><circle cx=203.2 cy=35.5 r=0.6 /><circle cx=97.8 cy=119.2 r=0.8 /><circle cx=130.5 cy=134.3 r=1.3 /><circle cx=146.9 cy=96.5 r=1.1 /><circle cx=171.4 cy=126.7 r=1.2 /><circle cx=127.3 cy=137.0 r=1.2 /><circle cx=135.0 cy=115.4 r=2.0 /><circle cx=135.0 cy=93.8 r=1.1 /><circle cx=142.8 cy=158.5 r=1.2 /><circle cx=166.1 cy=122.6 r=1.4 /><circle cx=173.9 cy=101.0 r=1.2 /><circle cx=87.3 cy=146.2 r=0.8 /><circle cx=124.3 cy=139.4 r=1.0 /></g>
<g fill="#2c8081"><circle cx=137.6 cy=120.2 r=2.0 /><circle cx=123.4 cy=61.4 r=0.6 /><circle cx=110.8 cy=119.6 r=1.1 /><circle cx=119.9 cy=94.2 r=2.0 /><circle cx=147.4 cy=102.7 r=1.4 /><circle cx=174.8 cy=111.1 r=1.1 /><circle cx=202.2 cy=102.7 r=0.5 /><circle cx=116.9 cy=123.4 r=1.3 /><circle cx=125.5 cy=99.4 r=2.0 /><circle cx=134.2 cy=75.4 r=0.6 /><circle cx=142.8 cy=91.4 r=2.0 /><circle cx=177.3 cy=123.4 r=1.1 /><circle cx=155.1 cy=134.3 r=1.2 /><circle cx=155.1 cy=88.9 r=0.8 /><circle cx=179.6 cy=141.9 r=0.7 /><circle cx=204.1 cy=96.5 r=1.0 /><circle cx=119.5 cy=115.4 r=2.0 /><circle cx=119.5 cy=108.2 r=1.3 /><circle cx=119.5 cy=93.8 r=2.0 /><circle cx=127.3 cy=93.8 r=1.2 /><circle cx=135.0 cy=129.8 r=1.4 /><circle cx=142.8 cy=137.0 r=2.0 /><circle cx=142.8 cy=86.6 r=1.5 /><circle cx=150.6 cy=137.0 r=1.2 /><circle cx=150.6 cy=122.6 r=2.0 /><circle cx=150.6 cy=108.2 r=2.0 /><circle cx=150.6 cy=101.0 r=1.3 /><circle cx=150.6 cy=65.0 r=0.7 /><circle cx=158.3 cy=79.4 r=0.7 /><circle cx=158.3 cy=50.7 r=0.7 /><circle cx=166.1 cy=108.2 r=1.3 /><circle cx=116.9 cy=139.4 r=2.0 /><circle cx=116.9 cy=125.7 r=1.1 /><circle cx=116.9 cy=98.3 r=1.2 /></g>
<g fill="#2c967d"><circle cx=176.1 cy=125.7 r=1.1 /><circle cx=187.2 cy=74.3 r=1.2 /><circle cx=106.5 cy=91.4 r=0.6 /><circle cx=158.3 cy=43.5 r=0.6 /><circle cx=168.7 cy=101.0 r=1.1 /><circle cx=123.4 cy=124.4 r=1.6 /><circle cx=133.1 cy=106.4 r=2.0 /><circle cx=142.8 cy=106.4 r=2.0 /><circle cx=162.2 cy=115.4 r=2.0 /><circle cx=210.8 cy=61.4 r=0.6 /><circle cx=220.5 cy=43.5 r=1.2 /><circle cx=110.8 cy=102.7 r=1.1 /><circle cx=129.1 cy=119.6 r=1.3 /><circle cx=138.2 cy=111.1 r=2.0 /><circle cx=156.5 cy=102.7 r=2.0 /><circle cx=142.8 cy=131.4 r=2.0 /><circle cx=142.8 cy=75.4 r=1.2 /><circle cx=151.4 cy=131.4 r=1.3 /><circle cx=151.4 cy=115.4 r=2.0 /><circle cx=151.4 cy=99.4 r=1.3 /><circle cx=160.1 cy=139.4 r=1.2 /><circle cx=168.7 cy=107.4 r=1.6 /><circle cx=81.5 cy=126.7 r=0.6 /><circle cx=130.5 cy=88.9 r=0.8 /><circle cx=146.9 cy=81.3 r=0.6 /><circle cx=146.9 cy=43.5 r=0.6 /><circle cx=111.7 cy=122.6 r=1.4 /><circle cx=150.6 cy=115.4 r=2.0 /><circle cx=189.4 cy=65.0 r=0.6 /><circle cx=94.7 cy=125.7 r=0.8 /></g>
<g fill="#2d7a81"><circle cx=162.2 cy=142.4 r=0.9 /><circle cx=162.2 cy=133.4 r=2.0 /><circle cx=147.4 cy=136.5 r=1.1 /><circle cx=108.3 cy=123.4 r=1.2 /><circle cx=125.5 cy=91.4 r=1.1 /><circle cx=122.4 cy=96.5 r=2.0 /><circle cx=130.5 cy=119.2 r=1.3 /><circle cx=138.7 cy=104.0 r=1.4 /><circle cx=155.1 cy=111.6 r=1.4 /><circle cx=155.1 cy=104.0 r=2.0 /><circle cx=179.6 cy=119.2 r=0.9 /></g>
<g fill="#2d7d81"><circle cx=123.4 cy=97.4 r=2.0 /><circle cx=110.8 cy=128.1 r=1.1 /><circle cx=129.1 cy=94.2 r=1.1 /><circle cx=156.5 cy=128.1 r=2.0 /><circle cx=165.7 cy=119.6 r=1.3 /><circle cx=168.7 cy=115.4 r=2.0 /><circle cx=130.5 cy=81.3 r=0.6 /><circle cx=138.7 cy=88.9 r=0.8 /><circle cx=155.1 cy=119.2 r=1.5 /><circle cx=155.1 cy=96.5 r=1.1 /><circle cx=163.2 cy=96.5 r=2.0 /><circle cx=163.2 cy=88.9 r=0.7 /><circle cx=171.4 cy=96.5 r=0.9 /><circle cx=179.6 cy=73.7 r=0.5 /><circle cx=142.8 cy=144.1 r=1.2 /><circle cx=173.9 cy=122.6 r=1.3 /><circle cx=181.6 cy=129.8 r=0.9 /><circle cx=181.6 cy=122.6 r=0.9 /><circle cx=197.2 cy=115.4 r=1.2 /><circle cx=102.1 cy=112.0 r=0.8 /><circle cx=109.5 cy=112.0 r=1.2 /></g>
<g fill="#2e997c"><circle cx=165.0 cy=64.0 r=0.7 /><circle cx=176.1 cy=43.5 r=0.6 /><circle cx=116.9 cy=91.4 r=2.0 /><circle cx=127.3 cy=120.2 r=1.4 /><circle cx=158.3 cy=129.8 r=2.0 /><circle cx=168.7 cy=129.8 r=1.2 /><circle cx=94.2 cy=106.4 r=0.6 /><circle cx=133.1 cy=124.4 r=2.0 /><circle cx=133.1 cy=115.4 r=2.0 /><circle cx=142.8 cy=88.4 r=2.0 /><circle cx=181.6 cy=124.4 r=0.9 /><circle cx=156.5 cy=94.2 r=1.0 /><circle cx=99.6 cy=115.4 r=1.5 /><circle cx=125.5 cy=131.4 r=2.0 /><circle cx=142.8 cy=123.4 r=2.0 /><circle cx=142.8 cy=107.4 r=2.0 /><circle cx=127.3 cy=86.6 r=0.9 /></g>
<circle cx=122.4 cy=126.7 r=1.2 fill="#2f7281"/>
<g fill="#2f7681"><circle cx=127.3 cy=129.8 r=2.0 /><circle cx=127.3 cy=101.0 r=2.0 /></g>
<circle cx=123.4 cy=115.4 r=2.0 fill="#306f81"/>
<g fill="#319c7b"><circle cx=116.9 cy=139.4 r=2.0 /><circle cx=142.8 cy=124.4 r=2.0 /><circle cx=152.5 cy=133.4 r=1.4 /><circle cx=110.8 cy=136.5 r=0.9 /><circle cx=138.2 cy=119.6 r=2.0 /><circle cx=146.9 cy=111.6 r=2.0 /><circle cx=166.1 cy=129.8 r=1.2 /><circle cx=94.7 cy=112.0 r=0.9 /></g>
<g fill="#36a079"><circle cx=168.7 cy=110.6 r=1.2 /><circle cx=181.6 cy=115.4 r=2.0 /><circle cx=160.1 cy=123.4 r=1.5 /></g>
<circle cx=209.4 cy=53.7 r=1.2 fill="#3aa477"/>
<circle cx=116.9 cy=118.8 r=1.2 fill="#3f4177"/>
<circle cx=187.2 cy=105.1 r=0.8 fill="#3fa775"/>
<circle cx=158.3 cy=108.2 r=1.5 fill="#403c75"/>
<circle cx=142.8 cy=160.3 r=1.2 fill="#422566"/>
<circle cx=158.3 cy=86.6 r=1.1 fill="#422a69"/>
<circle cx=111.7 cy=101.0 r=1.3 fill="#45aa73"/>
<circle cx=114.2 cy=126.7 r=1.1 fill="#4cae70"/>
<g fill="#53b26d"><circle cx=210.1 cy=53.0 r=1.2 /><circle cx=201.1 cy=88.4 r=0.8 /><circle cx=155.1 cy=58.6 r=0.6 /></g>
<circle cx=162.2 cy=124.4 r=1.8 fill="#5ab56a"/>
<circle cx=204.1 cy=43.5 r=0.5 fill="#63b866"/>
<circle cx=124.3 cy=118.8 r=3.2 fill="#2d7a81"/>
<g fill="#2a8780"><circle cx=131.7 cy=146.2 r=0.9 /><circle cx=131.7 cy=125.7 r=2.0 /><circle cx=131.7 cy=118.8 r=1.4 /><circle cx=131.7 cy=112.0 r=1.3 /><circle cx=131.7 cy=98.3 r=1.2 /><circle cx=139.1 cy=118.8 r=2.0 /><circle cx=146.5 cy=132.5 r=1.3 /><circle cx=146.5 cy=70.9 r=1.0 /><circle cx=153.9 cy=132.5 r=2.5 /><circle cx=161.3 cy=91.4 r=1.1 /><circle cx=161.3 cy=77.7 r=0.6 /><circle cx=168.7 cy=112.0 r=1.2 /><circle cx=176.1 cy=105.1 r=1.1 /><circle cx=176.1 cy=91.4 r=0.7 /><circle cx=114.5 cy=135.0 r=1.2 /><circle cx=114.5 cy=121.9 r=1.4 /><circle cx=121.6 cy=128.5 r=1.3 /><circle cx=121.6 cy=95.8 r=2.0 /><circle cx=128.7 cy=102.3 r=2.0 /><circle cx=135.7 cy=95.8 r=1.2 /><circle cx=142.8 cy=135.0 r=2.0 /><circle cx=142.8 cy=108.8 r=2.0 /><circle cx=142.8 cy=50.0 r=1.2 /><circle cx=149.9 cy=128.5 r=1.3 /><circle cx=149.9 cy=108.8 r=2.0 /><circle cx=149.9 cy=95.8 r=1.2 /><circle cx=164.0 cy=135.0 r=2.0 /><circle cx=164.0 cy=63.1 r=0.5 /><circle cx=178.1 cy=115.4 r=2.0 /><circle cx=192.2 cy=69.6 r=1.2 /><circle cx=206.4 cy=56.5 r=1.2 /><circle cx=112.4 cy=118.5 r=1.2 /><circle cx=119.2 cy=131.0 r=1.2 /><circle cx=125.9 cy=93.5 r=0.9 /><circle cx=132.7 cy=143.5 r=0.9 /><circle cx=132.7 cy=131.0 r=1.2 /><circle cx=132.7 cy=112.3 r=1.5 /><circle cx=139.4 cy=149.8 r=0.6 /><circle cx=139.4 cy=131.0 r=1.2 /><circle cx=146.2 cy=112.3 r=2.0 /><circle cx=146.2 cy=106.0 r=1.3 /><circle cx=152.9 cy=143.5 r=1.0 /><circle cx=152.9 cy=112.3 r=1.3 /><circle cx=166.4 cy=118.5 r=1.2 /><circle cx=166.4 cy=93.5 r=2.0 /><circle cx=173.2 cy=87.2 r=1.2 /><circle cx=207.0 cy=56.0 r=1.2 /><circle cx=220.5 cy=81.0 r=0.5 /><circle cx=97.5 cy=127.4 r=0.7 /><circle cx=103.9 cy=109.4 r=1.1 /><circle cx=110.4 cy=103.4 r=1.0 /><circle cx=116.9 cy=121.4 r=1.4 /><circle cx=123.4 cy=109.4 r=1.4 /><circle cx=123.4 cy=91.4 r=1.1 /><circle cx=129.8 cy=139.4 r=1.1 /><circle cx=129.8 cy=97.4 r=1.3 /><circle cx=136.3 cy=37.5 r=0.8 /><circle cx=142.8 cy=133.4 r=2.0 /><circle cx=142.8 cy=79.4 r=1.2 /><circle cx=149.3 cy=133.4 r=1.3 /><circle cx=155.8 cy=145.3 r=0.8 /><circle cx=162.2 cy=115.4 r=2.0 /><circle cx=168.7 cy=115.4 r=2.0 /></g>
<g fill="#2a8b80"><circle cx=131.7 cy=91.4 r=0.9 /><circle cx=146.5 cy=105.1 r=1.3 /><circle cx=153.9 cy=64.0 r=0.6 /><circle cx=176.1 cy=132.5 r=0.9 /><circle cx=205.7 cy=70.9 r=0.8 /><circle cx=100.4 cy=95.8 r=0.8 /><circle cx=114.5 cy=128.5 r=1.4 /><circle cx=114.5 cy=115.4 r=2.0 /><circle cx=135.7 cy=115.4 r=2.0 /><circle cx=142.8 cy=95.8 r=2.0 /><circle cx=149.9 cy=121.9 r=2.0 /><circle cx=164.0 cy=108.8 r=1.3 /><circle cx=192.2 cy=56.5 r=0.5 /><circle cx=92.1 cy=106.0 r=0.7 /><circle cx=98.9 cy=112.3 r=0.8 /><circle cx=105.6 cy=112.3 r=1.0 /><circle cx=119.2 cy=106.0 r=1.6 /><circle cx=125.9 cy=131.0 r=2.0 /><circle cx=125.9 cy=112.3 r=1.4 /><circle cx=152.9 cy=124.8 r=2.0 /><circle cx=159.7 cy=112.3 r=1.4 /><circle cx=180.0 cy=99.7 r=0.7 /><circle cx=186.7 cy=124.8 r=0.6 /><circle cx=103.9 cy=103.4 r=1.0 /><circle cx=103.9 cy=97.4 r=0.9 /><circle cx=116.9 cy=103.4 r=1.5 /><circle cx=129.8 cy=127.4 r=2.0 /><circle cx=142.8 cy=145.3 r=1.2 /><circle cx=142.8 cy=109.4 r=2.0 /><circle cx=142.8 cy=43.5 r=1.2 /><circle cx=149.3 cy=121.4 r=2.0 /><circle cx=162.2 cy=133.4 r=2.0 /></g>
<g fill="#2a8e7f"><circle cx=131.7 cy=57.2 r=0.7 /><circle cx=153.9 cy=146.2 r=0.7 /><circle cx=153.9 cy=125.7 r=2.0 /><circle cx=168.7 cy=146.2 r=0.7 /><circle cx=168.7 cy=132.5 r=1.0 /><circle cx=168.7 cy=105.1 r=1.1 /><circle cx=168.7 cy=98.3 r=1.0 /><circle cx=86.3 cy=102.3 r=0.7 /><circle cx=121.6 cy=135.0 r=2.0 /><circle cx=135.7 cy=135.0 r=1.2 /><circle cx=142.8 cy=121.9 r=2.1 /><circle cx=156.9 cy=128.5 r=2.0 /><circle cx=156.9 cy=76.2 r=0.6 /><circle cx=105.6 cy=106.0 r=1.0 /><circle cx=119.2 cy=143.5 r=0.7 /><circle cx=125.9 cy=87.2 r=0.7 /><circle cx=132.7 cy=118.5 r=1.4 /><circle cx=146.2 cy=137.3 r=1.1 /><circle cx=166.4 cy=124.8 r=1.2 /><circle cx=173.2 cy=124.8 r=1.2 /><circle cx=78.0 cy=115.4 r=1.2 /><circle cx=116.9 cy=133.4 r=1.2 /><circle cx=129.8 cy=121.4 r=1.6 /><circle cx=142.8 cy=127.4 r=2.0 /><circle cx=142.8 cy=103.4 r=2.0 /></g>
<g fill="#2b8481"><circle cx=131.7 cy=132.5 r=1.2 /><circle cx=131.7 cy=105.1 r=2.0 /><circle cx=139.1 cy=91.4 r=1.0 /><circle cx=146.5 cy=112.0 r=2.0 /><circle cx=153.9 cy=98.3 r=1.4 /><circle cx=161.3 cy=132.5 r=2.0 /><circle cx=161.3 cy=98.3 r=2.0 /><circle cx=168.7 cy=84.6 r=0.6 /><circle cx=168.7 cy=70.9 r=0.7 /><circle cx=176.1 cy=125.7 r=1.2 /><circle cx=176.1 cy=112.0 r=1.1 /><circle cx=107.5 cy=135.0 r=0.8 /><circle cx=107.5 cy=128.5 r=1.1 /><circle cx=114.5 cy=95.8 r=1.2 /><circle cx=128.7 cy=135.0 r=1.5 /><circle cx=128.7 cy=115.4 r=2.0 /><circle cx=128.7 cy=89.2 r=0.9 /><circle cx=135.7 cy=108.8 r=2.0 /><circle cx=142.8 cy=102.3 r=2.0 /><circle cx=142.8 cy=82.7 r=1.2 /><circle cx=149.9 cy=89.2 r=1.0 /><circle cx=164.0 cy=128.5 r=1.3 /><circle cx=164.0 cy=102.3 r=1.2 /><circle cx=164.0 cy=89.2 r=0.7 /><circle cx=164.0 cy=82.7 r=0.7 /><circle cx=171.1 cy=115.4 r=2.2 /><circle cx=171.1 cy=108.8 r=1.3 /><circle cx=178.1 cy=63.1 r=0.6 /><circle cx=220.5 cy=36.9 r=0.5 /><circle cx=105.6 cy=131.0 r=0.8 /><circle cx=119.2 cy=137.3 r=2.0 /><circle cx=119.2 cy=93.5 r=2.0 /><circle cx=125.9 cy=99.7 r=2.0 /><circle cx=132.7 cy=124.8 r=2.0 /><circle cx=139.4 cy=99.7 r=1.2 /><circle cx=146.2 cy=131.0 r=1.2 /><circle cx=159.7 cy=106.0 r=1.3 /><circle cx=166.4 cy=99.7 r=1.1 /><circle cx=173.2 cy=137.3 r=0.8 /><circle cx=180.0 cy=81.0 r=1.2 /><circle cx=110.4 cy=145.3 r=1.2 /><circle cx=110.4 cy=109.4 r=1.1 /><circle cx=116.9 cy=127.4 r=1.5 /><circle cx=123.4 cy=139.4 r=1.1 /><circle cx=123.4 cy=127.4 r=1.2 /><circle cx=129.8 cy=115.4 r=2.0 /><circle cx=129.8 cy=91.4 r=1.1 /><circle cx=136.3 cy=139.4 r=1.0 /><circle cx=142.8 cy=139.4 r=2.0 /><circle cx=149.3 cy=127.4 r=1.3 /><circle cx=155.8 cy=91.4 r=1.1 /><circle cx=162.2 cy=139.4 r=1.1 /><circle cx=162.2 cy=127.4 r=1.4 /><circle cx=162.2 cy=97.4 r=2.0 /><circle cx=162.2 cy=91.4 r=1.0 /><circle cx=168.7 cy=133.4 r=1.1 /></g>
<g fill="#2b927e"><circle cx=124.3 cy=84.6 r=0.6 /><circle cx=139.1 cy=132.5 r=1.2 /><circle cx=139.1 cy=125.7 r=1.4 /><circle cx=139.1 cy=105.1 r=1.3 /><circle cx=168.7 cy=118.8 r=1.2 /><circle cx=107.5 cy=121.9 r=1.1 /><circle cx=107.5 cy=115.4 r=2.0 /><circle cx=121.6 cy=121.9 r=1.3 /><circle cx=121.6 cy=82.7 r=0.6 /><circle cx=142.8 cy=141.5 r=2.0 /><circle cx=156.9 cy=135.0 r=1.3 /><circle cx=171.1 cy=128.5 r=1.4 /><circle cx=105.6 cy=124.8 r=0.9 /><circle cx=152.9 cy=131.0 r=1.3 /><circle cx=152.9 cy=118.5 r=2.3 /><circle cx=166.4 cy=106.0 r=1.2 /><circle cx=180.0 cy=112.3 r=1.1 /><circle cx=110.4 cy=127.4 r=1.1 /><circle cx=123.4 cy=61.4 r=0.6 /><circle cx=136.3 cy=121.4 r=2.0 /><circle cx=136.3 cy=115.4 r=2.0 /><circle cx=136.3 cy=109.4 r=2.0 /><circle cx=155.8 cy=109.4 r=1.6 /><circle cx=168.7 cy=139.4 r=2.0 /></g>
<g fill="#2c8081"><circle cx=124.3 cy=105.1 r=1.2 /><circle cx=131.7 cy=64.0 r=0.6 /><circle cx=139.1 cy=112.0 r=2.0 /><circle cx=139.1 cy=98.3 r=1.5 /><circle cx=153.9 cy=112.0 r=1.4 /><circle cx=161.3 cy=139.4 r=0.9 /><circle cx=161.3 cy=118.8 r=1.2 /><circle cx=161.3 cy=57.2 r=0.7 /><circle cx=183.5 cy=64.0 r=0.5 /><circle cx=100.4 cy=121.9 r=0.9 /><circle cx=128.7 cy=128.5 r=2.0 /><circle cx=128.7 cy=121.9 r=1.5 /><circle cx=128.7 cy=95.8 r=1.2 /><circle cx=135.7 cy=121.9 r=2.0 /><circle cx=135.7 cy=102.3 r=1.4 /><circle cx=142.8 cy=89.2 r=2.0 /><circle cx=149.9 cy=135.0 r=1.2 /><circle cx=149.9 cy=102.3 r=1.4 /><circle cx=156.9 cy=115.4 r=2.0 /><circle cx=156.9 cy=95.8 r=1.3 /><circle cx=156.9 cy=89.2 r=0.9 /><circle cx=164.0 cy=121.9 r=1.3 /><circle cx=185.2 cy=121.9 r=0.8 /><circle cx=185.2 cy=76.2 r=1.2 /><circle cx=98.9 cy=93.5 r=0.6 /><circle cx=112.4 cy=149.8 r=0.5 /><circle cx=112.4 cy=106.0 r=1.3 /><circle cx=112.4 cy=93.5 r=0.7 /><circle cx=119.2 cy=112.3 r=1.4 /><circle cx=132.7 cy=137.3 r=1.2 /><circle cx=139.4 cy=143.5 r=0.9 /><circle cx=139.4 cy=137.3 r=1.1 /><circle cx=139.4 cy=124.8 r=1.3 /><circle cx=139.4 cy=118.5 r=2.0 /><circle cx=146.2 cy=124.8 r=1.4 /><circle cx=146.2 cy=93.5 r=1.1 /><circle cx=152.9 cy=81.0 r=1.6 /><circle cx=159.7 cy=143.5 r=0.7 /><circle cx=159.7 cy=124.8 r=1.3 /><circle cx=159.7 cy=118.5 r=1.4 /><circle cx=180.0 cy=118.5 r=0.9 /><circle cx=200.2 cy=43.5 r=0.5 /><circle cx=91.0 cy=109.4 r=0.7 /><circle cx=123.4 cy=133.4 r=2.0 /><circle cx=123.4 cy=121.4 r=1.3 /><circle cx=129.8 cy=133.4 r=1.3 /><circle cx=136.3 cy=127.4 r=1.5 /><circle cx=149.3 cy=109.4 r=2.0 /><circle cx=149.3 cy=91.4 r=1.0 /><circle cx=155.8 cy=127.4 r=2.0 /><circle cx=168.7 cy=103.4 r=1.6 /></g>
<g fill="#2c967d"><circle cx=124.3 cy=91.4 r=0.8 /><circle cx=146.5 cy=125.7 r=1.3 /><circle cx=146.5 cy=91.4 r=0.9 /><circle cx=153.9 cy=105.1 r=2.0 /><circle cx=142.8 cy=128.5 r=2.0 /><circle cx=220.5 cy=63.1 r=0.5 /><circle cx=112.4 cy=124.8 r=1.3 /><circle cx=152.9 cy=93.5 r=1.0 /><circle cx=159.7 cy=131.0 r=2.0 /><circle cx=103.9 cy=127.4 r=1.0 /><circle cx=110.4 cy=121.4 r=1.2 /></g>
<g fill="#2d7a81"><circle cx=124.3 cy=64.0 r=0.6 /><circle cx=146.5 cy=84.6 r=0.6 /><circle cx=153.9 cy=91.4 r=1.0 /><circle cx=153.9 cy=84.6 r=0.7 /><circle cx=161.3 cy=125.7 r=1.2 /><circle cx=161.3 cy=112.0 r=1.3 /><circle cx=161.3 cy=70.9 r=0.5 /><circle cx=176.1 cy=98.3 r=0.9 /><circle cx=227.9 cy=43.5 r=0.8 /><circle cx=121.6 cy=115.4 r=2.0 /><circle cx=121.6 cy=108.8 r=1.5 /><circle cx=156.9 cy=108.8 r=1.5 /><circle cx=164.0 cy=115.4 r=2.1 /><circle cx=171.1 cy=102.3 r=1.5 /><circle cx=171.1 cy=89.2 r=1.2 /><circle cx=112.4 cy=112.3 r=1.1 /><circle cx=112.4 cy=99.7 r=1.1 /><circle cx=119.2 cy=118.5 r=1.3 /><circle cx=125.9 cy=106.0 r=1.4 /><circle cx=132.7 cy=93.5 r=1.1 /><circle cx=139.4 cy=93.5 r=1.2 /><circle cx=152.9 cy=99.7 r=1.2 /><circle cx=186.7 cy=112.3 r=0.7 /><circle cx=186.7 cy=106.0 r=0.6 /><circle cx=103.9 cy=115.4 r=2.0 /><circle cx=116.9 cy=115.4 r=2.0 /><circle cx=116.9 cy=109.4 r=1.5 /><circle cx=116.9 cy=91.4 r=2.0 /><circle cx=142.8 cy=91.4 r=2.0 /><circle cx=149.3 cy=115.4 r=2.0 /><circle cx=162.2 cy=61.4 r=0.6 /></g>
<g fill="#2d7d81"><circle cx=124.3 cy=112.0 r=1.3 /><circle cx=124.3 cy=98.3 r=2.0 /><circle cx=146.5 cy=98.3 r=1.4 /><circle cx=168.7 cy=125.7 r=1.6 /><circle cx=168.7 cy=91.4 r=1.2 /><circle cx=176.1 cy=70.9 r=0.8 /><circle cx=183.5 cy=77.7 r=1.2 /><circle cx=107.5 cy=102.3 r=1.0 /><circle cx=114.5 cy=108.8 r=1.5 /><circle cx=114.5 cy=102.3 r=1.6 /><circle cx=121.6 cy=102.3 r=1.2 /><circle cx=142.8 cy=115.4 r=2.0 /><circle cx=149.9 cy=115.4 r=2.0 /><circle cx=149.9 cy=36.9 r=0.5 /><circle cx=156.9 cy=121.9 r=1.5 /><circle cx=171.1 cy=121.9 r=1.4 /><circle cx=171.1 cy=95.8 r=1.0 /><circle cx=178.1 cy=121.9 r=1.1 /><circle cx=185.2 cy=95.8 r=0.8 /><circle cx=185.2 cy=89.2 r=0.7 /><circle cx=98.9 cy=99.7 r=0.6 /><circle cx=105.6 cy=118.5 r=1.1 /><circle cx=105.6 cy=99.7 r=1.0 /><circle cx=112.4 cy=137.3 r=0.8 /><circle cx=132.7 cy=106.0 r=2.0 /><circle cx=139.4 cy=106.0 r=1.2 /><circle cx=146.2 cy=99.7 r=1.2 /><circle cx=146.2 cy=81.0 r=0.6 /><circle cx=152.9 cy=106.0 r=2.0 /><circle cx=166.4 cy=143.5 r=0.7 /><circle cx=166.4 cy=112.3 r=1.3 /><circle cx=173.2 cy=106.0 r=1.2 /><circle cx=123.4 cy=103.4 r=1.3 /><circle cx=129.8 cy=109.4 r=1.5 /><circle cx=136.3 cy=133.4 r=1.2 /><circle cx=136.3 cy=97.4 r=1.3 /><circle cx=142.8 cy=121.4 r=2.1 /><circle cx=149.3 cy=139.4 r=1.0 /><circle cx=149.3 cy=103.4 r=1.5 /><circle cx=149.3 cy=97.4 r=1.3 /><circle cx=155.8 cy=139.4 r=1.1 /><circle cx=155.8 cy=133.4 r=2.6 /><circle cx=155.8 cy=103.4 r=2.0 /><circle cx=162.2 cy=145.3 r=0.7 /><circle cx=168.7 cy=127.4 r=1.4 /><circle cx=168.7 cy=121.4 r=1.5 /><circle cx=175.2 cy=121.4 r=1.1 /></g>
<g fill="#2e997c"><circle cx=139.1 cy=139.4 r=1.1 /><circle cx=128.7 cy=108.8 r=1.5 /><circle cx=164.0 cy=95.8 r=2.0 /><circle cx=112.4 cy=131.0 r=1.0 /><circle cx=152.9 cy=137.3 r=1.1 /></g>
<g fill="#2f7281"><circle cx=146.5 cy=118.8 r=2.0 /><circle cx=107.5 cy=108.8 r=1.1 /><circle cx=105.6 cy=93.5 r=0.6 /><circle cx=132.7 cy=99.7 r=1.1 /><circle cx=155.8 cy=97.4 r=1.3 /><circle cx=162.2 cy=109.4 r=1.3 /><circle cx=162.2 cy=103.4 r=1.3 /><circle cx=168.7 cy=97.4 r=1.1 /></g>
<g fill="#2f7681"><circle cx=176.1 cy=118.8 r=1.1 /><circle cx=142.8 cy=56.5 r=1.2 /><circle cx=149.9 cy=76.2 r=0.6 /><circle cx=149.9 cy=63.1 r=0.5 /><circle cx=156.9 cy=102.3 r=2.0 /><circle cx=178.1 cy=102.3 r=0.9 /><circle cx=185.2 cy=108.8 r=0.8 /><circle cx=119.2 cy=99.7 r=1.1 /><circle cx=125.9 cy=118.5 r=1.4 /><circle cx=146.2 cy=118.5 r=2.0 /><circle cx=159.7 cy=137.3 r=1.0 /><circle cx=159.7 cy=99.7 r=2.0 /><circle cx=173.2 cy=118.5 r=1.1 /><circle cx=110.4 cy=115.4 r=2.0 /><circle cx=116.9 cy=97.4 r=1.2 /><circle cx=123.4 cy=115.4 r=2.0 /><circle cx=129.8 cy=43.5 r=0.6 /><circle cx=142.8 cy=115.4 r=2.0 /><circle cx=142.8 cy=97.4 r=2.0 /><circle cx=155.8 cy=121.4 r=1.6 /><circle cx=155.8 cy=115.4 r=2.0 /><circle cx=168.7 cy=109.4 r=1.4 /></g>
<g fill="#306f81"><circle cx=152.9 cy=87.2 r=0.8 /><circle cx=123.4 cy=97.4 r=2.0 /><circle cx=129.8 cy=85.4 r=0.7 /><circle cx=136.3 cy=91.4 r=1.2 /></g>
<circle cx=139.4 cy=112.3 r=2.0 fill="#36a079"/>
<circle cx=168.7 cy=139.4 r=2.0 fill="#3aa477"/>
<circle cx=136.3 cy=103.4 r=1.3 fill="#3d497a"/>
<g fill="#3fa775"><circle cx=178.1 cy=108.8 r=1.0 /><circle cx=119.2 cy=124.8 r=1.5 /><circle cx=173.2 cy=112.3 r=1.1 /></g>
<circle cx=161.3 cy=105.1 r=1.2 fill="#422a69"/>
<circle cx=110.4 cy=139.4 r=0.9 fill="#423470"/>
<g fill="#45aa73"><circle cx=153.9 cy=139.4 r=1.2 /><circle cx=110.4 cy=97.4 r=0.9 /><circle cx=175.2 cy=127.4 r=1.0 /></g>
<circle cx=153.9 cy=118.8 r=1.4 fill="#4cae70"/>
<circle cx=162.2 cy=121.4 r=1.4 fill="#53b26d"/>
<circle cx=175.2 cy=115.4 r=3.7 fill="#2f7681"/>
<g fill="#2a8780"><circle cx=181.6 cy=139.4 r=0.7 /><circle cx=181.6 cy=43.5 r=0.7 /><circle cx=108.6 cy=112.5 r=1.1 /><circle cx=121.0 cy=135.5 r=2.0 /></g>
<g fill="#2a8b80"><circle cx=175.2 cy=109.4 r=1.1 /><circle cx=175.2 cy=85.4 r=1.2 /><circle cx=102.4 cy=124.0 r=0.8 /><circle cx=108.6 cy=129.8 r=1.0 /><circle cx=114.8 cy=106.7 r=1.3 /></g>
<g fill="#2a8e7f"><circle cx=83.7 cy=112.5 r=0.6 /><circle cx=96.2 cy=124.0 r=0.9 /><circle cx=108.6 cy=118.3 r=1.1 /><circle cx=114.8 cy=112.5 r=1.2 /><circle cx=114.8 cy=95.2 r=0.9 /></g>
<g fill="#2b8481"><circle cx=102.4 cy=129.8 r=0.7 /><circle cx=102.4 cy=118.3 r=0.9 /><circle cx=108.6 cy=124.0 r=1.1 /></g>
<g fill="#2c8081"><circle cx=175.2 cy=97.4 r=0.8 /><circle cx=181.6 cy=115.4 r=2.0 /><circle cx=207.5 cy=55.4 r=1.2 /><circle cx=220.5 cy=97.4 r=0.7 /><circle cx=102.4 cy=95.2 r=0.6 /></g>
<g fill="#2d7a81"><circle cx=181.6 cy=109.4 r=1.1 /><circle cx=220.5 cy=79.4 r=0.7 /><circle cx=102.4 cy=106.7 r=0.8 /><circle cx=108.6 cy=106.7 r=1.1 /><circle cx=114.8 cy=118.3 r=1.2 /></g>
<g fill="#2d7d81"><circle cx=181.6 cy=103.4 r=1.2 /><circle cx=114.8 cy=135.5 r=1.0 /><circle cx=114.8 cy=129.8 r=1.1 /><circle cx=121.0 cy=141.3 r=0.9 /></g>
<circle cx=102.4 cy=147.0 r=0.5 fill="#2f7281"/>
<g fill="#2f7681"><circle cx=188.1 cy=115.4 r=1.2 /><circle cx=114.8 cy=124.0 r=1.3 /><circle cx=121.0 cy=129.8 r=1.1 /></g>
<circle cx=114.8 cy=101.0 r=1.0 fill="#306f81"/>
<circle cx=181.6 cy=121.4 r=0.9 fill="#316c80"/>
<circle cx=181.6 cy=97.4 r=0.9 fill="#413873"/>
<circle cx=121.0 cy=124.0 r=2.9 fill="#2d7a81"/>
<g fill="#2a8780"><circle cx=127.3 cy=66.5 r=0.6 /><circle cx=139.7 cy=141.3 r=1.1 /><circle cx=139.7 cy=124.0 r=1.4 /><circle cx=139.7 cy=112.5 r=2.0 /><circle cx=152.1 cy=89.5 r=1.0 /><circle cx=158.3 cy=101.0 r=2.0 /><circle cx=164.6 cy=124.0 r=1.1 /><circle cx=170.8 cy=106.7 r=1.2 /><circle cx=95.0 cy=126.4 r=0.7 /><circle cx=95.0 cy=98.8 r=0.7 /></g>
<g fill="#2a8b80"><circle cx=145.9 cy=95.2 r=1.1 /><circle cx=164.6 cy=101.0 r=1.2 /><circle cx=106.9 cy=126.4 r=1.3 /><circle cx=106.9 cy=109.8 r=1.2 /><circle cx=112.9 cy=126.4 r=1.1 /></g>
<g fill="#2a8e7f"><circle cx=164.6 cy=118.3 r=1.2 /><circle cx=164.6 cy=106.7 r=1.2 /><circle cx=112.9 cy=132.0 r=1.2 /></g>
<g fill="#2b8481"><circle cx=127.3 cy=141.3 r=1.7 /><circle cx=127.3 cy=135.5 r=1.1 /><circle cx=139.7 cy=129.8 r=1.2 /><circle cx=145.9 cy=141.3 r=0.9 /><circle cx=145.9 cy=135.5 r=1.1 /><circle cx=145.9 cy=129.8 r=1.3 /><circle cx=152.1 cy=129.8 r=1.3 /><circle cx=158.3 cy=124.0 r=1.2 /><circle cx=158.3 cy=95.2 r=1.0 /><circle cx=164.6 cy=129.8 r=1.2 /><circle cx=201.9 cy=55.0 r=0.6 /><circle cx=83.0 cy=115.4 r=1.2 /><circle cx=112.9 cy=115.4 r=2.0 /></g>
<circle cx=177.0 cy=129.8 r=1.0 fill="#2b927e"/>
<g fill="#2c8081"><circle cx=121.0 cy=112.5 r=1.2 /><circle cx=121.0 cy=95.2 r=2.0 /><circle cx=127.3 cy=129.8 r=2.0 /><circle cx=127.3 cy=72.2 r=0.6 /><circle cx=133.5 cy=112.5 r=1.3 /><circle cx=133.5 cy=55.0 r=0.6 /><circle cx=139.7 cy=118.3 r=2.0 /><circle cx=139.7 cy=89.5 r=0.9 /><circle cx=152.1 cy=112.5 r=1.3 /><circle cx=158.3 cy=135.5 r=1.0 /><circle cx=164.6 cy=95.2 r=2.0 /><circle cx=170.8 cy=118.3 r=1.1 /><circle cx=177.0 cy=101.0 r=1.1 /><circle cx=183.2 cy=78.0 r=1.2 /><circle cx=201.9 cy=60.7 r=1.2 /></g>
<g fill="#2d7a81"><circle cx=121.0 cy=118.3 r=1.3 /><circle cx=121.0 cy=106.7 r=1.1 /><circle cx=121.0 cy=101.0 r=1.1 /><circle cx=133.5 cy=135.5 r=1.3 /><circle cx=133.5 cy=129.8 r=1.3 /><circle cx=133.5 cy=124.0 r=2.0 /><circle cx=139.7 cy=147.0 r=0.6 /><circle cx=139.7 cy=101.0 r=1.2 /><circle cx=152.1 cy=118.3 r=1.4 /><circle cx=152.1 cy=101.0 r=1.3 /><circle cx=158.3 cy=129.8 r=2.0 /><circle cx=164.6 cy=112.5 r=1.3 /><circle cx=177.0 cy=118.3 r=1.0 /><circle cx=183.2 cy=118.3 r=0.7 /><circle cx=183.2 cy=106.7 r=0.8 /><circle cx=101.0 cy=109.8 r=0.8 /><circle cx=106.9 cy=120.9 r=1.3 /></g>
<g fill="#2d7d81"><circle cx=127.3 cy=118.3 r=1.3 /><circle cx=133.5 cy=141.3 r=1.1 /><circle cx=133.5 cy=118.3 r=1.5 /><circle cx=133.5 cy=101.0 r=1.3 /><circle cx=133.5 cy=89.5 r=0.9 /><circle cx=139.7 cy=135.5 r=1.1 /><circle cx=139.7 cy=95.2 r=1.1 /><circle cx=145.9 cy=124.0 r=1.3 /><circle cx=145.9 cy=112.5 r=2.0 /><circle cx=145.9 cy=89.5 r=0.9 /><circle cx=152.1 cy=135.5 r=1.2 /><circle cx=152.1 cy=124.0 r=2.0 /><circle cx=152.1 cy=95.2 r=1.1 /><circle cx=158.3 cy=141.3 r=0.9 /><circle cx=170.8 cy=112.5 r=1.4 /></g>
<g fill="#2f7281"><circle cx=121.0 cy=60.7 r=0.5 /><circle cx=127.3 cy=101.0 r=2.0 /><circle cx=127.3 cy=95.2 r=1.1 /><circle cx=170.8 cy=89.5 r=1.2 /><circle cx=112.9 cy=143.0 r=1.2 /><circle cx=112.9 cy=120.9 r=1.2 /></g>
<g fill="#2f7681"><circle cx=127.3 cy=124.0 r=1.3 /><circle cx=145.9 cy=118.3 r=2.0 /><circle cx=145.9 cy=106.7 r=1.3 /><circle cx=145.9 cy=101.0 r=1.2 /><circle cx=152.1 cy=141.3 r=1.0 /><circle cx=152.1 cy=106.7 r=2.0 /><circle cx=158.3 cy=106.7 r=1.3 /><circle cx=164.6 cy=135.5 r=2.0 /><circle cx=170.8 cy=129.8 r=1.2 /><circle cx=170.8 cy=101.0 r=1.0 /><circle cx=177.0 cy=124.0 r=1.0 /><circle cx=195.6 cy=66.5 r=1.2 /><circle cx=106.9 cy=115.4 r=2.0 /></g>
<g fill="#306f81"><circle cx=127.3 cy=112.5 r=1.4 /><circle cx=127.3 cy=89.5 r=0.8 /><circle cx=133.5 cy=106.7 r=2.0 /><circle cx=158.3 cy=118.3 r=1.2 /><circle cx=158.3 cy=112.5 r=1.2 /><circle cx=170.8 cy=95.2 r=1.0 /></g>
<g fill="#316c80"><circle cx=127.3 cy=60.7 r=0.6 /><circle cx=170.8 cy=124.0 r=1.4 /><circle cx=177.0 cy=112.5 r=1.0 /></g>
<circle cx=177.0 cy=106.7 r=0.9 fill="#336880"/>
<circle cx=127.3 cy=106.7 r=1.3 fill="#3aa477"/>
<circle cx=139.7 cy=106.7 r=1.3 fill="#3e4579"/>
<circle cx=89.0 cy=120.9 r=0.7 fill="#3fa775"/>
<circle cx=106.9 cy=104.3 r=1.1 fill="#45aa73"/>
<circle cx=133.5 cy=95.2 r=1.1 fill="#4cae70"/>
<circle cx=112.9 cy=109.8 r=3.4 fill="#2b927e"/>
<g fill="#2a8780"><circle cx=118.9 cy=120.9 r=1.5 /><circle cx=118.9 cy=109.8 r=1.5 /><circle cx=124.9 cy=137.5 r=1.1 /><circle cx=124.9 cy=98.8 r=2.0 /><circle cx=130.8 cy=43.5 r=0.6 /><circle cx=136.8 cy=137.5 r=1.1 /><circle cx=136.8 cy=104.3 r=1.4 /><circle cx=142.8 cy=115.4 r=2.0 /><circle cx=154.8 cy=120.9 r=1.6 /></g>
<g fill="#2a8b80"><circle cx=130.8 cy=126.4 r=2.0 /><circle cx=148.8 cy=109.8 r=2.0 /><circle cx=154.8 cy=115.4 r=2.0 /></g>
<g fill="#2a8e7f"><circle cx=112.9 cy=98.8 r=1.0 /><circle cx=124.9 cy=132.0 r=2.0 /><circle cx=124.9 cy=126.4 r=1.3 /></g>
<g fill="#2b8481"><circle cx=118.9 cy=126.4 r=1.7 /><circle cx=118.9 cy=115.4 r=2.0 /><circle cx=130.8 cy=148.6 r=0.7 /><circle cx=136.8 cy=132.0 r=1.3 /><circle cx=154.8 cy=137.5 r=1.2 /><circle cx=160.7 cy=120.9 r=1.3 /></g>
<g fill="#2c8081"><circle cx=118.9 cy=137.5 r=2.0 /><circle cx=118.9 cy=93.3 r=2.0 /><circle cx=130.8 cy=137.5 r=1.2 /><circle cx=130.8 cy=120.9 r=1.5 /><circle cx=130.8 cy=115.4 r=2.0 /><circle cx=136.8 cy=126.4 r=1.7 /><circle cx=136.8 cy=115.4 r=2.1 /><circle cx=136.8 cy=93.3 r=1.1 /><circle cx=142.8 cy=137.5 r=2.0 /><circle cx=142.8 cy=109.8 r=2.0 /><circle cx=142.8 cy=54.5 r=1.2 /><circle cx=148.8 cy=143.0 r=0.9 /><circle cx=148.8 cy=126.4 r=1.3 /><circle cx=148.8 cy=93.3 r=1.1 /><circle cx=154.8 cy=109.8 r=1.7 /><circle cx=154.8 cy=98.8 r=1.3 /><circle cx=160.7 cy=126.4 r=1.4 /></g>
<g fill="#2d7a81"><circle cx=118.9 cy=104.3 r=1.4 /><circle cx=124.9 cy=143.0 r=1.0 /><circle cx=124.9 cy=120.9 r=1.3 /><circle cx=124.9 cy=82.2 r=0.7 /><circle cx=130.8 cy=37.9 r=0.6 /><circle cx=136.8 cy=120.9 r=2.0 /><circle cx=136.8 cy=98.8 r=1.3 /><circle cx=142.8 cy=126.4 r=2.0 /><circle cx=142.8 cy=43.5 r=1.2 /><circle cx=148.8 cy=104.3 r=1.3 /><circle cx=148.8 cy=98.8 r=1.3 /></g>
<g fill="#2d7d81"><circle cx=118.9 cy=132.0 r=1.2 /><circle cx=124.9 cy=109.8 r=1.3 /><circle cx=124.9 cy=60.1 r=0.6 /><circle cx=130.8 cy=132.0 r=1.4 /><circle cx=130.8 cy=109.8 r=1.5 /><circle cx=130.8 cy=98.8 r=1.4 /><circle cx=130.8 cy=87.7 r=0.8 /><circle cx=136.8 cy=143.0 r=0.9 /><circle cx=142.8 cy=104.3 r=2.0 /><circle cx=142.8 cy=93.3 r=2.0 /><circle cx=142.8 cy=60.1 r=1.2 /><circle cx=148.8 cy=115.4 r=2.0 /><circle cx=154.8 cy=126.4 r=2.0 /><circle cx=154.8 cy=93.3 r=1.2 /></g>
<g fill="#2f7281"><circle cx=130.8 cy=104.3 r=2.0 /><circle cx=142.8 cy=120.9 r=2.0 /><circle cx=160.7 cy=132.0 r=2.0 /></g>
<g fill="#2f7681"><circle cx=112.9 cy=104.3 r=1.1 /><circle cx=118.9 cy=98.8 r=1.4 /><circle cx=142.8 cy=132.0 r=2.0 /><circle cx=148.8 cy=132.0 r=1.4 /><circle cx=148.8 cy=120.9 r=2.0 /><circle cx=154.8 cy=132.0 r=1.4 /></g>
<g fill="#306f81"><circle cx=142.8 cy=98.8 r=2.0 /><circle cx=160.7 cy=137.5 r=1.1 /></g>
<circle cx=154.8 cy=104.3 r=2.0 fill="#316c80"/>
<circle cx=124.9 cy=93.3 r=1.0 fill="#336880"/>
<circle cx=142.8 cy=148.6 r=1.3 fill="#3e4579"/>
<circle cx=136.8 cy=109.8 r=2.0 fill="#3fa775"/>
<circle cx=124.9 cy=104.3 r=1.3 fill="#4cae70"/>
<circle cx=124.9 cy=115.4 r=2.0 fill="#53b26d"/>
<circle cx=160.7 cy=115.4 r=3.2 fill="#2d7d81"/>
<g fill="#2a8780"><circle cx=166.7 cy=137.5 r=2.0 /><circle cx=166.7 cy=126.4 r=1.5 /><circle cx=178.7 cy=115.4 r=2.0 /><circle cx=99.6 cy=118.0 r=0.9 /></g>
<g fill="#2a8e7f"><circle cx=93.9 cy=107.4 r=0.7 /><circle cx=99.6 cy=155.3 r=1.2 /></g>
<g fill="#2b8481"><circle cx=166.7 cy=132.0 r=1.2 /><circle cx=166.7 cy=120.9 r=1.6 /><circle cx=166.7 cy=109.8 r=1.4 /></g>
<circle cx=190.6 cy=71.1 r=1.2 fill="#2b927e"/>
<g fill="#2c8081"><circle cx=166.7 cy=115.4 r=2.0 /><circle cx=172.7 cy=137.5 r=0.9 /><circle cx=172.7 cy=87.7 r=1.2 /><circle cx=178.7 cy=109.8 r=1.1 /><circle cx=178.7 cy=82.2 r=1.2 /><circle cx=105.4 cy=123.4 r=1.0 /></g>
<g fill="#2d7a81"><circle cx=160.7 cy=104.3 r=1.2 /><circle cx=166.7 cy=98.8 r=1.2 /><circle cx=172.7 cy=126.4 r=1.2 /><circle cx=184.6 cy=54.5 r=0.7 /><circle cx=99.6 cy=112.7 r=0.8 /><circle cx=99.6 cy=102.1 r=0.8 /></g>
<g fill="#2d7d81"><circle cx=160.7 cy=98.8 r=2.0 /><circle cx=166.7 cy=82.2 r=0.7 /><circle cx=172.7 cy=104.3 r=1.2 /></g>
<g fill="#2f7281"><circle cx=172.7 cy=143.0 r=1.2 /><circle cx=178.7 cy=104.3 r=1.0 /></g>
<g fill="#2f7681"><circle cx=166.7 cy=104.3 r=1.5 /><circle cx=166.7 cy=93.3 r=2.0 /><circle cx=172.7 cy=132.0 r=1.1 /><circle cx=172.7 cy=98.8 r=0.9 /><circle cx=184.6 cy=115.4 r=1.2 /><circle cx=184.6 cy=109.8 r=0.7 /></g>
<g fill="#306f81"><circle cx=160.7 cy=93.3 r=1.0 /><circle cx=184.6 cy=104.3 r=0.7 /></g>
<circle cx=160.7 cy=109.8 r=1.4 fill="#316c80"/>
<circle cx=172.7 cy=109.8 r=1.3 fill="#336880"/>
<circle cx=93.9 cy=112.7 r=0.6 fill="#423470"/>
<circle cx=105.4 cy=118.0 r=3.2 fill="#2d7a81"/>
<g fill="#2a8780"><circle cx=111.1 cy=112.7 r=1.1 /><circle cx=116.9 cy=112.7 r=1.2 /></g>
<g fill="#2a8b80"><circle cx=111.1 cy=134.0 r=0.9 /><circle cx=111.1 cy=102.1 r=1.1 /></g>
<circle cx=105.4 cy=112.7 r=1.1 fill="#2a8e7f"/>
<g fill="#2b8481"><circle cx=105.4 cy=107.4 r=0.9 /><circle cx=111.1 cy=123.4 r=1.1 /><circle cx=111.1 cy=91.4 r=0.7 /><circle cx=122.7 cy=155.3 r=0.5 /><circle cx=122.7 cy=144.7 r=0.7 /></g>
<g fill="#2c8081"><circle cx=116.9 cy=150.0 r=0.6 /><circle cx=116.9 cy=107.4 r=1.3 /><circle cx=116.9 cy=91.4 r=2.0 /><circle cx=122.7 cy=128.7 r=1.2 /><circle cx=122.7 cy=123.4 r=1.3 /><circle cx=122.7 cy=118.0 r=1.3 /><circle cx=122.7 cy=96.7 r=2.0 /></g>
<g fill="#2d7a81"><circle cx=116.9 cy=123.4 r=1.4 /><circle cx=116.9 cy=96.7 r=1.0 /><circle cx=122.7 cy=134.0 r=2.0 /><circle cx=122.7 cy=107.4 r=1.2 /></g>
<g fill="#2d7d81"><circle cx=105.4 cy=102.1 r=0.8 /><circle cx=116.9 cy=139.4 r=2.0 /><circle cx=116.9 cy=134.0 r=1.0 /><circle cx=116.9 cy=128.7 r=1.4 /><circle cx=122.7 cy=112.7 r=1.2 /><circle cx=122.7 cy=102.1 r=1.2 /><circle cx=128.4 cy=139.4 r=1.0 /></g>
<g fill="#2f7281"><circle cx=105.4 cy=91.4 r=0.8 /><circle cx=111.1 cy=118.0 r=1.1 /><circle cx=116.9 cy=102.1 r=1.1 /></g>
<g fill="#2f7681"><circle cx=111.1 cy=128.7 r=1.1 /><circle cx=116.9 cy=118.0 r=1.2 /><circle cx=122.7 cy=75.4 r=0.7 /></g>
<circle cx=122.7 cy=86.1 r=0.6 fill="#306f81"/>
<circle cx=105.4 cy=96.7 r=0.9 fill="#4cae70"/>
<circle cx=128.4 cy=134.0 r=3.1 fill="#2c8081"/>
<circle cx=134.2 cy=134.0 r=1.2 fill="#2a8780"/>
<circle cx=128.4 cy=128.7 r=2.0 fill="#2a8b80"/>
<g fill="#2d7a81"><circle cx=128.4 cy=123.4 r=1.3 /><circle cx=128.4 cy=118.0 r=1.4 /><circle cx=128.4 cy=107.4 r=1.2 /><circle cx=128.4 cy=102.1 r=2.0 /></g>
<g fill="#2d7d81"><circle cx=128.4 cy=112.7 r=1.3 /><circle cx=128.4 cy=86.1 r=0.8 /></g>
<circle cx=128.4 cy=96.7 r=1.1 fill="#2f7281"/>
<circle cx=134.2 cy=139.4 r=1.1 fill="#2f7681"/>
<circle cx=134.2 cy=144.7 r=0.7 fill="#3e4579"/>
<circle cx=134.2 cy=123.4 r=3.4 fill="#2a8e7f"/>
<g fill="#2a8780"><circle cx=145.7 cy=123.4 r=1.7 /><circle cx=162.9 cy=134.0 r=2.0 /><circle cx=186.0 cy=75.4 r=1.2 /><circle cx=98.4 cy=115.4 r=1.2 /><circle cx=103.9 cy=120.5 r=0.9 /><circle cx=115.0 cy=130.8 r=1.3 /><circle cx=120.6 cy=115.4 r=2.0 /><circle cx=126.2 cy=120.5 r=1.3 /><circle cx=131.7 cy=120.5 r=1.6 /><circle cx=153.9 cy=110.2 r=1.5 /><circle cx=165.0 cy=94.8 r=2.0 /><circle cx=165.0 cy=84.6 r=0.7 /><circle cx=176.1 cy=69.1 r=0.9 /><circle cx=124.0 cy=117.9 r=1.4 /><circle cx=156.2 cy=117.9 r=1.4 /><circle cx=142.8 cy=139.4 r=2.0 /><circle cx=148.0 cy=105.8 r=1.4 /></g>
<g fill="#2a8b80"><circle cx=139.9 cy=128.7 r=1.2 /><circle cx=139.9 cy=112.7 r=2.0 /><circle cx=157.2 cy=139.4 r=0.9 /><circle cx=168.7 cy=139.4 r=2.0 /><circle cx=87.3 cy=100.0 r=1.0 /><circle cx=115.0 cy=135.9 r=1.6 /><circle cx=137.2 cy=141.1 r=1.1 /><circle cx=102.6 cy=132.7 r=0.8 /><circle cx=108.0 cy=112.9 r=1.4 /><circle cx=150.8 cy=107.9 r=2.0 /><circle cx=91.0 cy=144.1 r=0.6 /><circle cx=148.0 cy=125.0 r=1.3 /><circle cx=182.2 cy=86.6 r=0.6 /></g>
<g fill="#2a8e7f"><circle cx=157.2 cy=107.4 r=1.3 /><circle cx=109.5 cy=141.1 r=0.9 /><circle cx=126.2 cy=110.2 r=1.3 /><circle cx=131.7 cy=115.4 r=2.0 /><circle cx=176.1 cy=110.2 r=1.1 /><circle cx=113.3 cy=103.0 r=1.0 /><circle cx=124.0 cy=137.7 r=1.0 /><circle cx=151.1 cy=95.5 r=0.6 /><circle cx=179.0 cy=115.5 r=0.6 /></g>
<g fill="#2b8481"><circle cx=139.9 cy=139.4 r=1.2 /><circle cx=157.2 cy=123.4 r=1.3 /><circle cx=162.9 cy=118.0 r=1.2 /><circle cx=103.9 cy=130.8 r=0.9 /><circle cx=103.9 cy=115.4 r=2.0 /><circle cx=109.5 cy=130.8 r=1.8 /><circle cx=115.0 cy=141.1 r=1.2 /><circle cx=115.0 cy=115.4 r=2.0 /><circle cx=120.6 cy=110.2 r=1.4 /><circle cx=120.6 cy=94.8 r=2.0 /><circle cx=126.2 cy=115.4 r=2.0 /><circle cx=131.7 cy=135.9 r=1.2 /><circle cx=131.7 cy=105.1 r=2.0 /><circle cx=137.2 cy=146.2 r=0.7 /><circle cx=137.2 cy=130.8 r=1.7 /><circle cx=137.2 cy=105.1 r=1.3 /><circle cx=142.8 cy=130.8 r=2.0 /><circle cx=142.8 cy=105.1 r=2.0 /><circle cx=148.3 cy=141.1 r=1.1 /><circle cx=153.9 cy=115.4 r=2.0 /><circle cx=159.4 cy=120.5 r=1.4 /><circle cx=102.6 cy=127.8 r=0.9 /><circle cx=102.6 cy=117.9 r=0.8 /><circle cx=124.0 cy=127.8 r=1.4 /><circle cx=134.8 cy=122.8 r=2.0 /><circle cx=134.8 cy=107.9 r=2.0 /><circle cx=140.1 cy=137.7 r=1.1 /><circle cx=150.8 cy=112.9 r=1.3 /><circle cx=166.9 cy=107.9 r=1.3 /><circle cx=172.3 cy=132.7 r=0.9 /><circle cx=111.7 cy=125.0 r=1.3 /><circle cx=116.9 cy=120.2 r=1.3 /><circle cx=122.1 cy=134.6 r=2.0 /><circle cx=137.6 cy=105.8 r=1.3 /><circle cx=142.8 cy=125.0 r=2.0 /><circle cx=148.0 cy=120.2 r=2.0 /><circle cx=184.2 cy=115.4 r=1.2 /></g>
<g fill="#2b927e"><circle cx=109.5 cy=125.7 r=1.3 /><circle cx=142.8 cy=110.6 r=2.0 /></g>
<g fill="#2c8081"><circle cx=134.2 cy=112.7 r=1.3 /><circle cx=139.9 cy=134.0 r=1.3 /><circle cx=139.9 cy=123.4 r=1.3 /><circle cx=145.7 cy=112.7 r=2.0 /><circle cx=151.4 cy=134.0 r=1.2 /><circle cx=151.4 cy=112.7 r=1.3 /><circle cx=151.4 cy=102.1 r=1.2 /><circle cx=157.2 cy=128.7 r=2.0 /><circle cx=157.2 cy=75.4 r=0.7 /><circle cx=168.7 cy=128.7 r=1.1 /><circle cx=168.7 cy=123.4 r=1.4 /><circle cx=168.7 cy=112.7 r=1.3 /><circle cx=168.7 cy=96.7 r=0.9 /><circle cx=203.2 cy=59.4 r=1.2 /><circle cx=87.3 cy=94.8 r=0.6 /><circle cx=98.4 cy=105.1 r=0.8 /><circle cx=103.9 cy=105.1 r=1.0 /><circle cx=109.5 cy=120.5 r=1.2 /><circle cx=115.0 cy=125.7 r=1.2 /><circle cx=120.6 cy=120.5 r=1.8 /><circle cx=120.6 cy=105.1 r=1.5 /><circle cx=126.2 cy=125.7 r=1.2 /><circle cx=137.2 cy=135.9 r=1.3 /><circle cx=137.2 cy=110.2 r=2.0 /><circle cx=142.8 cy=115.4 r=2.0 /><circle cx=148.3 cy=130.8 r=1.2 /><circle cx=148.3 cy=120.5 r=2.0 /><circle cx=148.3 cy=105.1 r=1.3 /><circle cx=159.4 cy=100.0 r=2.0 /><circle cx=170.6 cy=125.7 r=1.3 /><circle cx=181.6 cy=151.3 r=1.2 /><circle cx=97.3 cy=127.8 r=0.7 /><circle cx=108.0 cy=103.0 r=0.9 /><circle cx=108.0 cy=98.0 r=0.8 /><circle cx=113.3 cy=127.8 r=1.1 /><circle cx=118.7 cy=132.7 r=1.0 /><circle cx=118.7 cy=112.9 r=1.2 /><circle cx=129.4 cy=122.8 r=1.4 /><circle cx=134.8 cy=103.0 r=1.2 /><circle cx=145.5 cy=103.0 r=1.2 /><circle cx=156.2 cy=122.8 r=1.2 /><circle cx=156.2 cy=103.0 r=2.0 /><circle cx=172.3 cy=122.8 r=1.2 /><circle cx=101.4 cy=129.8 r=0.9 /><circle cx=106.5 cy=125.0 r=1.0 /><circle cx=106.5 cy=115.4 r=2.0 /><circle cx=111.7 cy=120.2 r=1.3 /><circle cx=116.9 cy=110.6 r=1.2 /><circle cx=122.1 cy=129.8 r=1.3 /><circle cx=122.1 cy=125.0 r=1.6 /><circle cx=122.1 cy=110.6 r=1.4 /><circle cx=122.1 cy=105.8 r=1.5 /><circle cx=132.4 cy=115.4 r=2.0 /><circle cx=142.8 cy=67.4 r=1.2 /><circle cx=148.0 cy=96.2 r=1.2 /><circle cx=153.2 cy=134.6 r=1.2 /><circle cx=179.1 cy=120.2 r=0.9 /></g>
<g fill="#2c967d"><circle cx=92.8 cy=130.8 r=0.7 /><circle cx=129.4 cy=132.7 r=1.3 /></g>
<g fill="#2d7a81"><circle cx=134.2 cy=91.4 r=1.1 /><circle cx=139.9 cy=102.1 r=1.2 /><circle cx=145.7 cy=128.7 r=1.3 /><circle cx=151.4 cy=139.4 r=1.1 /><circle cx=157.2 cy=64.8 r=0.5 /><circle cx=162.9 cy=96.7 r=2.0 /><circle cx=168.7 cy=118.0 r=1.2 /><circle cx=174.5 cy=112.7 r=1.1 /><circle cx=174.5 cy=107.4 r=1.2 /><circle cx=180.2 cy=118.0 r=0.9 /><circle cx=180.2 cy=102.1 r=0.7 /><circle cx=103.9 cy=110.2 r=1.0 /><circle cx=103.9 cy=100.0 r=0.8 /><circle cx=115.0 cy=105.1 r=1.2 /><circle cx=120.6 cy=135.9 r=2.0 /><circle cx=131.7 cy=110.2 r=1.6 /><circle cx=137.2 cy=100.0 r=1.3 /><circle cx=142.8 cy=141.1 r=2.0 /><circle cx=142.8 cy=125.7 r=2.0 /><circle cx=142.8 cy=120.5 r=2.0 /><circle cx=142.8 cy=94.8 r=2.0 /><circle cx=148.3 cy=89.7 r=1.0 /><circle cx=159.4 cy=135.9 r=1.1 /><circle cx=159.4 cy=125.7 r=1.2 /><circle cx=159.4 cy=89.7 r=0.9 /><circle cx=165.0 cy=130.8 r=1.2 /><circle cx=165.0 cy=115.4 r=2.0 /><circle cx=165.0 cy=100.0 r=1.2 /><circle cx=170.6 cy=130.8 r=1.1 /><circle cx=170.6 cy=120.5 r=1.2 /><circle cx=176.1 cy=135.9 r=0.8 /><circle cx=176.1 cy=120.5 r=1.3 /><circle cx=192.7 cy=115.4 r=1.2 /><circle cx=198.3 cy=100.0 r=0.6 /><circle cx=102.6 cy=93.1 r=0.6 /><circle cx=108.0 cy=117.9 r=1.0 /><circle cx=113.3 cy=107.9 r=1.2 /><circle cx=118.7 cy=122.8 r=1.3 /><circle cx=118.7 cy=103.0 r=1.1 /><circle cx=124.0 cy=112.9 r=1.3 /><circle cx=124.0 cy=103.0 r=1.1 /><circle cx=129.4 cy=93.1 r=1.0 /><circle cx=134.8 cy=132.7 r=1.1 /><circle cx=140.1 cy=127.8 r=1.2 /><circle cx=140.1 cy=103.0 r=1.4 /><circle cx=145.5 cy=137.7 r=1.1 /><circle cx=145.5 cy=107.9 r=1.3 /><circle cx=145.5 cy=93.1 r=1.1 /><circle cx=150.8 cy=122.8 r=2.0 /><circle cx=156.2 cy=132.7 r=1.2 /><circle cx=156.2 cy=112.9 r=1.4 /><circle cx=156.2 cy=107.9 r=1.2 /><circle cx=161.6 cy=137.7 r=1.1 /><circle cx=161.6 cy=107.9 r=1.2 /><circle cx=166.9 cy=122.8 r=1.3 /><circle cx=166.9 cy=93.1 r=2.0 /><circle cx=172.3 cy=93.1 r=0.7 /><circle cx=106.5 cy=110.6 r=1.1 /><circle cx=122.1 cy=91.4 r=0.9 /><circle cx=127.3 cy=134.6 r=1.2 /><circle cx=127.3 cy=120.2 r=1.5 /><circle cx=132.4 cy=134.6 r=1.6 /><circle cx=132.4 cy=125.0 r=2.0 /><circle cx=132.4 cy=96.2 r=1.3 /><circle cx=137.6 cy=134.6 r=1.3 /><circle cx=137.6 cy=129.8 r=1.2 /><circle cx=137.6 cy=120.2 r=2.0 /><circle cx=137.6 cy=101.0 r=1.5 /><circle cx=137.6 cy=91.4 r=1.0 /><circle cx=142.8 cy=134.6 r=2.0 /><circle cx=142.8 cy=129.8 r=2.2 /><circle cx=153.2 cy=110.6 r=1.6 /><circle cx=153.2 cy=101.0 r=1.3 /><circle cx=158.3 cy=139.4 r=1.1 /><circle cx=158.3 cy=120.2 r=1.3 /><circle cx=158.3 cy=110.6 r=1.5 /><circle cx=163.5 cy=120.2 r=1.4 /><circle cx=163.5 cy=115.4 r=2.0 /><circle cx=163.5 cy=96.2 r=2.0 /><circle cx=163.5 cy=91.4 r=1.1 /><circle cx=173.9 cy=115.4 r=2.0 /><circle cx=179.1 cy=101.0 r=0.8 /><circle cx=152.3 cy=67.4 r=0.6 /><circle cx=161.0 cy=97.6 r=0.6 /><circle cx=201.9 cy=95.3 r=0.6 /></g>
<g fill="#2d7d81"><circle cx=145.7 cy=134.0 r=1.2 /><circle cx=145.7 cy=102.1 r=1.3 /><circle cx=145.7 cy=80.8 r=0.6 /><circle cx=151.4 cy=123.4 r=2.0 /><circle cx=157.2 cy=102.1 r=2.0 /><circle cx=157.2 cy=96.7 r=1.0 /><circle cx=162.9 cy=112.7 r=1.2 /><circle cx=162.9 cy=86.1 r=0.6 /><circle cx=174.5 cy=118.0 r=1.1 /><circle cx=180.2 cy=107.4 r=0.8 /><circle cx=115.0 cy=120.5 r=1.4 /><circle cx=120.6 cy=130.8 r=1.4 /><circle cx=120.6 cy=125.7 r=1.6 /><circle cx=126.2 cy=135.9 r=1.2 /><circle cx=126.2 cy=130.8 r=2.0 /><circle cx=142.8 cy=84.6 r=1.2 /><circle cx=142.8 cy=64.0 r=1.2 /><circle cx=148.3 cy=110.2 r=2.0 /><circle cx=165.0 cy=135.9 r=2.0 /><circle cx=181.6 cy=115.4 r=2.0 /><circle cx=209.4 cy=43.5 r=0.6 /><circle cx=108.0 cy=93.1 r=0.6 /><circle cx=118.7 cy=117.9 r=1.3 /><circle cx=118.7 cy=93.1 r=2.0 /><circle cx=129.4 cy=98.0 r=1.2 /><circle cx=134.8 cy=137.7 r=1.2 /><circle cx=134.8 cy=98.0 r=1.3 /><circle cx=140.1 cy=107.9 r=1.2 /><circle cx=145.5 cy=132.7 r=1.3 /><circle cx=145.5 cy=122.8 r=1.2 /><circle cx=145.5 cy=98.0 r=1.3 /><circle cx=150.8 cy=98.0 r=1.2 /><circle cx=156.2 cy=137.7 r=1.0 /><circle cx=161.6 cy=127.8 r=1.2 /><circle cx=172.3 cy=142.7 r=1.2 /><circle cx=172.3 cy=117.9 r=1.1 /><circle cx=172.3 cy=112.9 r=1.1 /><circle cx=188.3 cy=73.2 r=1.2 /><circle cx=101.4 cy=134.6 r=1.3 /><circle cx=116.9 cy=139.4 r=2.0 /><circle cx=116.9 cy=125.0 r=1.4 /><circle cx=116.9 cy=105.8 r=1.2 /><circle cx=116.9 cy=91.4 r=2.0 /><circle cx=122.1 cy=101.0 r=1.5 /><circle cx=127.3 cy=129.8 r=2.0 /><circle cx=127.3 cy=115.4 r=2.0 /><circle cx=127.3 cy=110.6 r=1.4 /><circle cx=127.3 cy=105.8 r=1.3 /><circle cx=132.4 cy=129.8 r=1.7 /><circle cx=132.4 cy=101.0 r=1.5 /><circle cx=132.4 cy=91.4 r=1.1 /><circle cx=137.6 cy=125.0 r=1.3 /><circle cx=137.6 cy=115.4 r=2.0 /><circle cx=142.8 cy=153.7 r=1.2 /><circle cx=142.8 cy=120.2 r=2.0 /><circle cx=142.8 cy=105.8 r=2.0 /><circle cx=142.8 cy=96.2 r=2.0 /><circle cx=148.0 cy=134.6 r=1.2 /><circle cx=153.2 cy=115.4 r=2.3 /><circle cx=153.2 cy=105.8 r=2.0 /><circle cx=163.5 cy=129.8 r=1.3 /><circle cx=210.1 cy=53.0 r=1.2 /></g>
<g fill="#2e997c"><circle cx=124.0 cy=122.8 r=1.2 /><circle cx=159.4 cy=63.6 r=0.6 /><circle cx=127.7 cy=122.0 r=0.6 /></g>
<g fill="#2f7281"><circle cx=134.2 cy=70.1 r=0.5 /><circle cx=139.9 cy=144.7 r=0.7 /><circle cx=145.7 cy=107.4 r=1.3 /><circle cx=151.4 cy=128.7 r=1.3 /><circle cx=151.4 cy=107.4 r=2.0 /><circle cx=151.4 cy=96.7 r=1.1 /><circle cx=157.2 cy=134.0 r=1.2 /><circle cx=157.2 cy=118.0 r=1.3 /><circle cx=162.9 cy=123.4 r=1.3 /><circle cx=162.9 cy=107.4 r=1.3 /><circle cx=168.7 cy=155.3 r=0.8 /><circle cx=168.7 cy=91.4 r=1.2 /><circle cx=174.5 cy=134.0 r=0.8 /><circle cx=174.5 cy=86.1 r=1.2 /><circle cx=180.2 cy=80.8 r=1.2 /><circle cx=191.7 cy=128.7 r=0.5 /><circle cx=131.7 cy=125.7 r=2.0 /><circle cx=142.8 cy=100.0 r=2.0 /><circle cx=148.3 cy=135.9 r=1.2 /><circle cx=153.9 cy=135.9 r=1.2 /><circle cx=153.9 cy=100.0 r=1.4 /><circle cx=153.9 cy=89.7 r=1.0 /><circle cx=159.4 cy=115.4 r=2.0 /><circle cx=165.0 cy=125.7 r=1.6 /><circle cx=170.6 cy=110.2 r=1.2 /><circle cx=170.6 cy=89.7 r=1.2 /><circle cx=176.1 cy=125.7 r=1.1 /><circle cx=102.6 cy=112.9 r=1.0 /><circle cx=108.0 cy=132.7 r=1.0 /><circle cx=129.4 cy=137.7 r=1.0 /><circle cx=129.4 cy=112.9 r=1.3 /><circle cx=134.8 cy=112.9 r=1.3 /><circle cx=140.1 cy=117.9 r=2.0 /><circle cx=145.5 cy=88.1 r=0.7 /><circle cx=150.8 cy=132.7 r=1.4 /><circle cx=150.8 cy=127.8 r=1.3 /><circle cx=156.2 cy=127.8 r=2.0 /><circle cx=161.6 cy=93.1 r=0.9 /><circle cx=166.9 cy=127.8 r=1.1 /><circle cx=166.9 cy=103.0 r=1.1 /><circle cx=172.3 cy=103.0 r=1.0 /><circle cx=177.6 cy=127.8 r=0.8 /><circle cx=177.6 cy=83.1 r=1.2 /><circle cx=183.0 cy=103.0 r=0.8 /><circle cx=96.2 cy=115.4 r=1.2 /><circle cx=106.5 cy=105.8 r=1.0 /><circle cx=111.7 cy=115.4 r=2.0 /><circle cx=111.7 cy=101.0 r=1.3 /><circle cx=116.9 cy=101.0 r=1.2 /><circle cx=127.3 cy=81.8 r=0.5 /><circle cx=137.6 cy=144.1 r=0.9 /><circle cx=142.8 cy=38.7 r=1.2 /><circle cx=148.0 cy=129.8 r=1.5 /><circle cx=148.0 cy=86.6 r=0.7 /><circle cx=148.0 cy=77.0 r=0.8 /><circle cx=153.2 cy=144.1 r=1.0 /><circle cx=153.2 cy=139.4 r=1.2 /><circle cx=153.2 cy=120.2 r=1.5 /><circle cx=158.3 cy=134.6 r=1.2 /><circle cx=158.3 cy=125.0 r=1.2 /><circle cx=158.3 cy=115.4 r=2.0 /><circle cx=163.5 cy=125.0 r=1.5 /><circle cx=163.5 cy=110.6 r=1.5 /><circle cx=168.7 cy=129.8 r=1.3 /><circle cx=173.9 cy=125.0 r=1.1 /><circle cx=179.1 cy=125.0 r=1.0 /><circle cx=189.4 cy=72.2 r=1.2 /><circle cx=85.1 cy=96.1 r=0.6 /></g>
<g fill="#2f7681"><circle cx=134.2 cy=118.0 r=1.3 /><circle cx=134.2 cy=107.4 r=2.0 /><circle cx=139.9 cy=118.0 r=2.0 /><circle cx=139.9 cy=96.7 r=1.2 /><circle cx=145.7 cy=118.0 r=2.0 /><circle cx=162.9 cy=128.7 r=1.2 /><circle cx=168.7 cy=107.4 r=1.3 /><circle cx=168.7 cy=102.1 r=1.1 /><circle cx=180.2 cy=128.7 r=0.8 /><circle cx=186.0 cy=128.7 r=0.8 /><circle cx=186.0 cy=112.7 r=0.7 /><circle cx=186.0 cy=107.4 r=0.9 /><circle cx=191.7 cy=54.1 r=0.5 /><circle cx=109.5 cy=115.4 r=2.0 /><circle cx=109.5 cy=110.2 r=1.3 /><circle cx=109.5 cy=105.1 r=1.1 /><circle cx=126.2 cy=105.1 r=1.2 /><circle cx=126.2 cy=94.8 r=1.1 /><circle cx=137.2 cy=115.4 r=2.0 /><circle cx=148.3 cy=125.7 r=1.4 /><circle cx=148.3 cy=94.8 r=1.2 /><circle cx=153.9 cy=125.7 r=2.0 /><circle cx=153.9 cy=120.5 r=1.6 /><circle cx=153.9 cy=105.1 r=2.0 /><circle cx=153.9 cy=84.6 r=0.8 /><circle cx=159.4 cy=141.1 r=0.9 /><circle cx=159.4 cy=130.8 r=2.0 /><circle cx=159.4 cy=94.8 r=1.1 /><circle cx=165.0 cy=120.5 r=1.4 /><circle cx=165.0 cy=110.2 r=1.4 /><circle cx=170.6 cy=115.4 r=2.0 /><circle cx=170.6 cy=105.1 r=1.1 /><circle cx=176.1 cy=115.4 r=2.0 /><circle cx=181.6 cy=110.2 r=0.9 /><circle cx=220.5 cy=53.7 r=0.6 /><circle cx=113.3 cy=137.7 r=0.8 /><circle cx=113.3 cy=117.9 r=1.2 /><circle cx=118.7 cy=127.8 r=1.3 /><circle cx=118.7 cy=107.9 r=1.5 /><circle cx=118.7 cy=98.0 r=1.0 /><circle cx=129.4 cy=127.8 r=2.0 /><circle cx=134.8 cy=127.8 r=1.3 /><circle cx=140.1 cy=122.8 r=2.5 /><circle cx=145.5 cy=112.9 r=2.0 /><circle cx=150.8 cy=137.7 r=1.3 /><circle cx=150.8 cy=117.9 r=1.3 /><circle cx=156.2 cy=98.0 r=1.2 /><circle cx=161.6 cy=112.9 r=1.3 /><circle cx=161.6 cy=103.0 r=1.1 /><circle cx=172.3 cy=127.8 r=1.0 /><circle cx=177.6 cy=132.7 r=0.8 /><circle cx=177.6 cy=122.8 r=1.0 /><circle cx=188.3 cy=122.8 r=0.6 /><circle cx=209.8 cy=53.4 r=1.2 /><circle cx=220.5 cy=122.8 r=0.6 /><circle cx=101.4 cy=120.2 r=0.9 /><circle cx=111.7 cy=110.6 r=1.4 /><circle cx=111.7 cy=96.2 r=1.0 /><circle cx=111.7 cy=91.4 r=0.7 /><circle cx=116.9 cy=134.6 r=1.2 /><circle cx=116.9 cy=129.8 r=1.4 /><circle cx=116.9 cy=115.4 r=2.0 /><circle cx=122.1 cy=139.4 r=1.0 /><circle cx=122.1 cy=120.2 r=1.4 /><circle cx=122.1 cy=115.4 r=2.0 /><circle cx=122.1 cy=96.2 r=2.0 /><circle cx=127.3 cy=125.0 r=1.3 /><circle cx=127.3 cy=96.2 r=1.1 /><circle cx=127.3 cy=53.0 r=0.6 /><circle cx=132.4 cy=120.2 r=1.5 /><circle cx=142.8 cy=115.4 r=2.0 /><circle cx=142.8 cy=81.8 r=1.2 /><circle cx=148.0 cy=115.4 r=2.0 /><circle cx=148.0 cy=110.6 r=2.0 /><circle cx=148.0 cy=101.0 r=1.3 /><circle cx=153.2 cy=129.8 r=1.3 /><circle cx=153.2 cy=125.0 r=2.0 /><circle cx=158.3 cy=96.2 r=1.1 /><circle cx=163.5 cy=134.6 r=2.0 /><circle cx=163.5 cy=105.8 r=1.6 /><circle cx=168.7 cy=134.6 r=1.1 /><circle cx=168.7 cy=110.6 r=1.2 /><circle cx=168.7 cy=91.4 r=1.2 /><circle cx=173.9 cy=139.4 r=0.7 /><circle cx=173.9 cy=105.8 r=1.3 /><circle cx=199.8 cy=62.6 r=1.2 /><circle cx=175.9 cy=103.1 r=0.6 /></g>
<g fill="#306f81"><circle cx=134.2 cy=102.1 r=1.2 /><circle cx=134.2 cy=96.7 r=1.3 /><circle cx=139.9 cy=91.4 r=0.9 /><circle cx=145.7 cy=96.7 r=1.3 /><circle cx=151.4 cy=118.0 r=1.3 /><circle cx=157.2 cy=91.4 r=0.9 /><circle cx=174.5 cy=123.4 r=1.4 /><circle cx=180.2 cy=112.7 r=1.1 /><circle cx=186.0 cy=96.7 r=0.6 /><circle cx=120.6 cy=100.0 r=1.3 /><circle cx=131.7 cy=130.8 r=1.4 /><circle cx=131.7 cy=89.7 r=0.9 /><circle cx=142.8 cy=110.2 r=2.0 /><circle cx=148.3 cy=115.4 r=2.0 /><circle cx=153.9 cy=130.8 r=1.4 /><circle cx=165.0 cy=105.1 r=1.8 /><circle cx=170.6 cy=135.9 r=1.1 /><circle cx=181.6 cy=120.5 r=0.9 /><circle cx=187.2 cy=79.4 r=0.6 /><circle cx=102.6 cy=103.0 r=0.9 /><circle cx=113.3 cy=112.9 r=1.3 /><circle cx=113.3 cy=93.1 r=0.8 /><circle cx=124.0 cy=93.1 r=0.9 /><circle cx=140.1 cy=98.0 r=1.2 /><circle cx=140.1 cy=88.1 r=1.1 /><circle cx=145.5 cy=117.9 r=2.0 /><circle cx=150.8 cy=103.0 r=1.2 /><circle cx=150.8 cy=93.1 r=1.1 /><circle cx=156.2 cy=93.1 r=1.0 /><circle cx=161.6 cy=122.8 r=1.1 /><circle cx=161.6 cy=117.9 r=1.3 /><circle cx=172.3 cy=137.7 r=0.7 /><circle cx=177.6 cy=107.9 r=0.9 /><circle cx=188.3 cy=103.0 r=0.5 /><circle cx=137.6 cy=139.4 r=1.1 /><circle cx=137.6 cy=96.2 r=1.3 /><circle cx=137.6 cy=53.0 r=0.5 /><circle cx=142.8 cy=91.4 r=2.0 /><circle cx=158.3 cy=105.8 r=1.8 /><circle cx=168.7 cy=105.8 r=1.3 /><circle cx=173.9 cy=120.2 r=1.3 /><circle cx=179.1 cy=105.8 r=0.9 /><circle cx=184.2 cy=110.6 r=0.9 /><circle cx=194.6 cy=101.0 r=0.6 /><circle cx=220.5 cy=91.4 r=0.8 /></g>
<g fill="#316c80"><circle cx=145.7 cy=91.4 r=1.0 /><circle cx=162.9 cy=102.1 r=1.1 /><circle cx=186.0 cy=134.0 r=0.6 /><circle cx=131.7 cy=94.8 r=1.2 /><circle cx=137.2 cy=120.5 r=2.0 /><circle cx=142.8 cy=89.7 r=2.0 /><circle cx=142.8 cy=74.3 r=1.2 /><circle cx=148.3 cy=100.0 r=1.3 /><circle cx=153.9 cy=146.2 r=1.1 /><circle cx=153.9 cy=94.8 r=1.5 /><circle cx=153.9 cy=79.4 r=0.7 /><circle cx=159.4 cy=64.0 r=0.5 /><circle cx=113.3 cy=122.8 r=1.1 /><circle cx=124.0 cy=107.9 r=1.2 /><circle cx=124.0 cy=98.0 r=2.0 /><circle cx=129.4 cy=117.9 r=1.5 /><circle cx=129.4 cy=107.9 r=1.2 /><circle cx=129.4 cy=103.0 r=2.0 /><circle cx=134.8 cy=93.1 r=1.2 /><circle cx=140.1 cy=112.9 r=2.0 /><circle cx=140.1 cy=93.1 r=1.0 /><circle cx=161.6 cy=132.7 r=2.0 /><circle cx=172.3 cy=88.1 r=1.2 /><circle cx=101.4 cy=115.4 r=2.0 /><circle cx=127.3 cy=139.4 r=1.0 /><circle cx=127.3 cy=101.0 r=2.0 /><circle cx=132.4 cy=139.4 r=1.3 /><circle cx=132.4 cy=110.6 r=1.5 /><circle cx=137.6 cy=110.6 r=2.0 /><circle cx=142.8 cy=86.6 r=1.2 /><circle cx=148.0 cy=139.4 r=1.2 /><circle cx=173.9 cy=110.6 r=1.3 /><circle cx=179.1 cy=115.4 r=2.0 /><circle cx=184.2 cy=120.2 r=1.1 /></g>
<g fill="#319c7b"><circle cx=125.7 cy=70.9 r=0.6 /><circle cx=181.7 cy=89.8 r=0.6 /></g>
<g fill="#336880"><circle cx=139.9 cy=107.4 r=1.3 /><circle cx=174.5 cy=139.4 r=0.7 /><circle cx=126.2 cy=100.0 r=2.0 /><circle cx=137.2 cy=94.8 r=1.1 /><circle cx=159.4 cy=110.2 r=1.3 /><circle cx=176.1 cy=84.6 r=1.2 /><circle cx=181.6 cy=100.0 r=0.7 /><circle cx=187.2 cy=94.8 r=0.8 /><circle cx=177.6 cy=117.9 r=1.0 /><circle cx=177.6 cy=112.9 r=0.9 /><circle cx=183.0 cy=107.9 r=0.8 /><circle cx=142.8 cy=101.0 r=2.0 /><circle cx=148.0 cy=91.4 r=1.0 /><circle cx=158.3 cy=129.8 r=2.0 /><circle cx=168.7 cy=125.0 r=1.2 /><circle cx=168.7 cy=101.0 r=1.2 /><circle cx=173.9 cy=77.0 r=0.6 /><circle cx=179.1 cy=110.6 r=1.2 /><circle cx=184.2 cy=86.6 r=0.7 /><circle cx=189.4 cy=105.8 r=0.6 /></g>
<g fill="#346480"><circle cx=120.6 cy=84.6 r=0.8 /><circle cx=142.8 cy=79.4 r=1.2 /><circle cx=159.4 cy=105.1 r=1.3 /><circle cx=181.6 cy=79.4 r=1.2 /><circle cx=145.5 cy=127.8 r=1.2 /><circle cx=166.9 cy=98.0 r=0.9 /><circle cx=183.0 cy=117.9 r=0.8 /><circle cx=158.3 cy=101.0 r=2.0 /></g>
<g fill="#35617f"><circle cx=131.7 cy=100.0 r=1.3 /><circle cx=163.5 cy=101.0 r=1.3 /><circle cx=168.7 cy=115.4 r=2.0 /><circle cx=168.7 cy=77.0 r=0.6 /></g>
<g fill="#36a079"><circle cx=192.6 cy=69.5 r=0.6 /><circle cx=96.8 cy=101.3 r=0.6 /></g>
<circle cx=153.2 cy=96.2 r=1.8 fill="#37597e"/>
<g fill="#3fa775"><circle cx=137.2 cy=125.7 r=1.4 /><circle cx=161.6 cy=98.0 r=2.0 /><circle cx=166.9 cy=117.9 r=1.2 /></g>
<circle cx=168.7 cy=96.2 r=0.9 fill="#403c75"/>
<circle cx=166.9 cy=137.7 r=2.0 fill="#413873"/>
<circle cx=124.0 cy=132.7 r=2.0 fill="#422566"/>
<circle cx=191.7 cy=107.4 r=0.6 fill="#422a69"/>
<circle cx=103.9 cy=125.7 r=1.0 fill="#45aa73"/>
<g fill="#4cae70"><circle cx=134.8 cy=117.9 r=1.3 /><circle cx=111.7 cy=105.8 r=1.3 /></g>
<g fill="#53b26d"><circle cx=157.2 cy=112.7 r=1.3 /><circle cx=220.5 cy=112.7 r=0.5 /><circle cx=132.4 cy=105.8 r=2.0 /></g>
<circle cx=168.7 cy=120.2 r=1.3 fill="#5ab56a"/>
<circle cx=111.7 cy=148.9 r=0.6 fill="#63b866"/>
<circle cx=84.0 cy=72.0 r=4.0 fill="#4cae70"/>
<circle cx=86.0 cy=64.0 r=3.0 fill="#3aa477"/>
<circle cx=80.0 cy=80.0 r=3.0 fill="#4cae70"/>
<g fill="#3f4177"><circle cx=118.0 cy=78.0 r=2.0 /><circle cx=112.0 cy=84.0 r=2.0 /></g>
<g fill="#423470"><circle cx=117.0 cy=74.0 r=2.5 /><circle cx=121.0 cy=72.0 r=2.0 /></g>
<g fill="#4cae70"><circle cx=220.5 cy=43.4 r=3.5 /><circle cx=247.0 cy=43.4 r=3.0 /><circle cx=220.5 cy=19.4 r=1.0 /><circle cx=220.5 cy=59.0 r=3.0 /><circle cx=220.5 cy=67.3 r=4.5 /><circle cx=220.5 cy=77.7 r=2.0 /><circle cx=220.5 cy=84.0 r=2.5 /><circle cx=220.5 cy=91.6 r=2.0 /><circle cx=220.5 cy=115.0 r=1.0 /><circle cx=246.4 cy=67.0 r=2.5 /><circle cx=246.0 cy=91.0 r=2.0 /><circle cx=234.4 cy=79.0 r=1.5 /><circle cx=228.0 cy=97.0 r=1.0 /></g>
<circle cx=199.0 cy=63.0 r=4.0 fill="#3aa477"/>
<g fill="#2e997c"><circle cx=192.7 cy=68.0 r=2.5 /><circle cx=208.9 cy=55.0 r=2.5 /></g>
<g fill="#2a8e7f"><circle cx=147.6 cy=72.0 r=4.5 /><circle cx=159.7 cy=76.0 r=4.5 /><circle cx=168.6 cy=79.0 r=4.0 /></g>
<circle cx=177.5 cy=97.0 r=5.5 fill="#2c967d"/>
<circle cx=184.8 cy=98.0 r=5.5 fill="#319c7b"/>
<circle cx=172.7 cy=98.0 r=4.0 fill="#2a8e7f"/>
<g fill="#346480"><circle cx=142.7 cy=78.6 r=2.5 /><circle cx=150.0 cy=82.7 r=3.0 /></g>
<circle cx=180.0 cy=135.0 r=3.0 fill="#2d7a81"/>
<circle cx=154.0 cy=157.5 r=15 fill="#319c7b"/>
</g>
<g clip-path="url(#cr0)">
<g fill="#bdd137"><circle cx=489.0 cy=185.8 r=14 /><circle cx=505.2 cy=185.8 r=14 /><circle cx=519.2 cy=185.8 r=13 /></g>
<circle cx=484.3 cy=161.6 r=2.3 fill="#2a8e7f"/>
<g fill="#3fa775"><circle cx=470.4 cy=177.0 r=1.5 /><circle cx=484.3 cy=171.9 r=2.6 /><circle cx=489.0 cy=177.0 r=2.2 /></g>
<g fill="#45aa73"><circle cx=470.4 cy=171.9 r=1.4 /><circle cx=479.7 cy=171.9 r=2.2 /></g>
<circle cx=489.0 cy=182.2 r=2.1 fill="#4cae70"/>
<circle cx=489.0 cy=187.3 r=1.7 fill="#53b26d"/>
<g fill="#5ab56a"><circle cx=479.7 cy=177.0 r=2.4 /><circle cx=484.3 cy=177.0 r=2.5 /></g>
<g fill="#63b866"><circle cx=475.0 cy=171.9 r=1.9 /><circle cx=484.3 cy=182.2 r=2.1 /><circle cx=484.3 cy=166.8 r=2.7 /></g>
<g fill="#6bbb62"><circle cx=475.0 cy=166.8 r=2.1 /><circle cx=484.3 cy=156.5 r=1.8 /></g>
<g fill="#73be5e"><circle cx=479.7 cy=182.2 r=1.7 /><circle cx=484.3 cy=187.3 r=1.4 /></g>
<g fill="#85c455"><circle cx=475.0 cy=182.2 r=1.6 /><circle cx=475.0 cy=177.0 r=1.8 /><circle cx=479.7 cy=161.6 r=1.6 /></g>
<g fill="#97c94c"><circle cx=470.4 cy=187.3 r=1.1 /><circle cx=475.0 cy=187.3 r=1.2 /><circle cx=479.7 cy=166.8 r=2.2 /></g>
<circle cx=479.7 cy=187.3 r=1.4 fill="#a0cb47"/>
<circle cx=470.4 cy=182.2 r=1.5 fill="#ebd93e"/>
<circle cx=489.0 cy=171.9 r=2.9 fill="#97c94c"/>
<circle cx=489.0 cy=166.8 r=2.9 fill="#319c7b"/>
<g fill="#2a8780"><circle cx=498.2 cy=141.1 r=1.6 /><circle cx=502.9 cy=166.8 r=1.7 /><circle cx=507.6 cy=141.1 r=1.8 /><circle cx=516.9 cy=146.2 r=2.6 /></g>
<g fill="#2a8b80"><circle cx=502.9 cy=141.1 r=2.0 /><circle cx=507.6 cy=156.5 r=1.9 /><circle cx=512.2 cy=177.0 r=1.5 /></g>
<circle cx=512.2 cy=146.2 r=1.9 fill="#2a8e7f"/>
<circle cx=512.2 cy=151.3 r=2.1 fill="#2b8481"/>
<g fill="#2b927e"><circle cx=507.6 cy=135.9 r=2.4 /><circle cx=512.2 cy=171.9 r=1.5 /></g>
<g fill="#2c8081"><circle cx=512.2 cy=130.8 r=2.6 /><circle cx=516.9 cy=156.5 r=1.5 /></g>
<g fill="#2c967d"><circle cx=493.6 cy=161.6 r=2.1 /><circle cx=507.6 cy=146.2 r=2.0 /><circle cx=512.2 cy=166.8 r=1.6 /><circle cx=512.2 cy=141.1 r=2.4 /><circle cx=516.9 cy=166.8 r=1.4 /><circle cx=516.9 cy=161.6 r=1.6 /></g>
<circle cx=507.6 cy=130.8 r=1.9 fill="#2d7a81"/>
<g fill="#2e997c"><circle cx=498.2 cy=161.6 r=1.8 /><circle cx=512.2 cy=156.5 r=1.8 /></g>
<circle cx=516.9 cy=141.1 r=2.7 fill="#316c80"/>
<g fill="#319c7b"><circle cx=489.0 cy=161.6 r=2.1 /><circle cx=493.6 cy=166.8 r=2.5 /><circle cx=498.2 cy=146.2 r=1.5 /><circle cx=507.6 cy=177.0 r=1.5 /></g>
<circle cx=502.9 cy=135.9 r=2.1 fill="#336880"/>
<g fill="#36a079"><circle cx=493.6 cy=146.2 r=1.6 /><circle cx=507.6 cy=151.3 r=1.9 /><circle cx=512.2 cy=161.6 r=1.6 /><circle cx=516.9 cy=177.0 r=1.3 /><circle cx=516.9 cy=151.3 r=1.8 /></g>
<g fill="#3aa477"><circle cx=489.0 cy=156.5 r=1.8 /><circle cx=507.6 cy=161.6 r=1.9 /></g>
<g fill="#3fa775"><circle cx=493.6 cy=151.3 r=1.6 /><circle cx=502.9 cy=171.9 r=2.3 /><circle cx=507.6 cy=166.8 r=1.8 /><circle cx=512.2 cy=135.9 r=2.5 /></g>
<circle cx=498.2 cy=177.0 r=2.5 fill="#45aa73"/>
<g fill="#4cae70"><circle cx=493.6 cy=177.0 r=2.1 /><circle cx=502.9 cy=146.2 r=2.0 /><circle cx=507.6 cy=171.9 r=1.8 /></g>
<g fill="#53b26d"><circle cx=489.0 cy=151.3 r=1.4 /><circle cx=498.2 cy=151.3 r=1.5 /><circle cx=516.9 cy=187.3 r=0.9 /><circle cx=516.9 cy=171.9 r=1.2 /></g>
<g fill="#5ab56a"><circle cx=493.6 cy=156.5 r=1.9 /><circle cx=502.9 cy=161.6 r=1.9 /><circle cx=502.9 cy=151.3 r=1.7 /></g>
<g fill="#63b866"><circle cx=498.2 cy=156.5 r=2.0 /><circle cx=512.2 cy=182.2 r=1.0 /></g>
<g fill="#6bbb62"><circle cx=498.2 cy=187.3 r=1.5 /><circle cx=502.9 cy=156.5 r=1.5 /><circle cx=512.2 cy=187.3 r=1.0 /></g>
<g fill="#73be5e"><circle cx=502.9 cy=177.0 r=1.9 /><circle cx=516.9 cy=182.2 r=1.0 /></g>
<g fill="#7bc15a"><circle cx=498.2 cy=171.9 r=2.0 /><circle cx=498.2 cy=166.8 r=1.9 /><circle cx=507.6 cy=187.3 r=1.0 /><circle cx=507.6 cy=182.2 r=1.4 /></g>
<g fill="#85c455"><circle cx=493.6 cy=187.3 r=1.4 /><circle cx=498.2 cy=182.2 r=1.6 /></g>
<circle cx=502.9 cy=187.3 r=1.1 fill="#97c94c"/>
<g fill="#a0cb47"><circle cx=493.6 cy=171.9 r=2.3 /><circle cx=502.9 cy=182.2 r=1.5 /></g>
<circle cx=493.6 cy=182.2 r=2.1 fill="#d1d432"/>
<circle cx=516.9 cy=135.9 r=2.9 fill="#2b8481"/>
<circle cx=521.5 cy=156.5 r=1.8 fill="#2a8e7f"/>
<circle cx=521.5 cy=141.1 r=2.5 fill="#2b8481"/>
<circle cx=521.5 cy=146.2 r=2.5 fill="#2f7281"/>
<circle cx=516.9 cy=125.7 r=2.0 fill="#336880"/>
<circle cx=516.9 cy=130.8 r=2.7 fill="#36a079"/>
<circle cx=521.5 cy=182.2 r=0.9 fill="#3aa477"/>
<g fill="#3fa775"><circle cx=521.5 cy=166.8 r=1.2 /><circle cx=521.5 cy=161.6 r=1.3 /></g>
<circle cx=521.5 cy=151.3 r=2.4 fill="#4cae70"/>
<circle cx=521.5 cy=177.0 r=1.2 fill="#63b866"/>
<circle cx=521.5 cy=171.9 r=1.1 fill="#73be5e"/>
<circle cx=521.5 cy=187.3 r=0.8 fill="#97c94c"/>
<circle cx=521.5 cy=135.9 r=3.1 fill="#2f7281"/>
<g fill="#2a8780"><circle cx=521.5 cy=120.5 r=2.4 /><circle cx=526.2 cy=146.2 r=2.4 /></g>
<g fill="#2c8081"><circle cx=526.2 cy=156.5 r=1.8 /><circle cx=526.2 cy=151.3 r=2.2 /></g>
<circle cx=526.2 cy=141.1 r=2.5 fill="#2e997c"/>
<circle cx=521.5 cy=130.8 r=2.4 fill="#2f7681"/>
<circle cx=526.2 cy=177.0 r=0.9 fill="#319c7b"/>
<circle cx=526.2 cy=161.6 r=1.3 fill="#336880"/>
<circle cx=521.5 cy=125.7 r=2.4 fill="#35617f"/>
<circle cx=526.2 cy=166.8 r=1.1 fill="#3aa477"/>
<circle cx=526.2 cy=187.3 r=1.1 fill="#63b866"/>
<circle cx=526.2 cy=171.9 r=1.0 fill="#73be5e"/>
<circle cx=526.2 cy=182.2 r=1.0 fill="#d1d432"/>
<circle cx=526.2 cy=135.9 r=2.9 fill="#2f7681"/>
<circle cx=530.8 cy=166.8 r=1.3 fill="#2a8b80"/>
<circle cx=526.2 cy=120.5 r=2.3 fill="#2a8e7f"/>
<circle cx=526.2 cy=125.7 r=2.2 fill="#2b8481"/>
<circle cx=530.8 cy=146.2 r=2.1 fill="#2e997c"/>
<circle cx=526.2 cy=130.8 r=2.5 fill="#2f7681"/>
<circle cx=526.2 cy=115.4 r=1.6 fill="#365d7f"/>
<circle cx=530.8 cy=151.3 r=2.2 fill="#36a079"/>
<circle cx=530.8 cy=161.6 r=1.4 fill="#3aa477"/>
<g fill="#45aa73"><circle cx=530.8 cy=177.0 r=0.9 /><circle cx=530.8 cy=156.5 r=1.9 /></g>
<circle cx=530.8 cy=171.9 r=1.0 fill="#5ab56a"/>
<circle cx=530.8 cy=182.2 r=0.9 fill="#63b866"/>
<circle cx=530.8 cy=141.1 r=2.9 fill="#2e997c"/>
<circle cx=535.5 cy=156.5 r=1.7 fill="#2a8780"/>
<circle cx=530.8 cy=135.9 r=2.6 fill="#2a8e7f"/>
<circle cx=535.5 cy=177.0 r=1.0 fill="#2c967d"/>
<g fill="#2d7d81"><circle cx=530.8 cy=130.8 r=2.3 /><circle cx=535.5 cy=141.1 r=2.4 /></g>
<g fill="#2f7281"><circle cx=530.8 cy=120.5 r=1.9 /><circle cx=535.5 cy=146.2 r=2.5 /></g>
<circle cx=530.8 cy=115.4 r=1.6 fill="#2f7681"/>
<circle cx=535.5 cy=135.9 r=2.8 fill="#319c7b"/>
<g fill="#365d7f"><circle cx=530.8 cy=110.2 r=1.3 /><circle cx=535.5 cy=151.3 r=1.8 /></g>
<circle cx=535.5 cy=166.8 r=1.0 fill="#36a079"/>
<circle cx=530.8 cy=125.7 r=2.2 fill="#37597e"/>
<circle cx=535.5 cy=161.6 r=1.5 fill="#3fa775"/>
<circle cx=535.5 cy=171.9 r=1.0 fill="#8ec650"/>
<circle cx=535.5 cy=130.8 r=2.8 fill="#316c80"/>
<g fill="#2a8780"><circle cx=540.1 cy=151.3 r=2.0 /><circle cx=544.8 cy=171.9 r=1.0 /><circle cx=544.8 cy=166.8 r=1.0 /><circle cx=549.4 cy=161.6 r=1.0 /><circle cx=568.0 cy=151.3 r=1.1 /><circle cx=577.3 cy=141.1 r=1.0 /><circle cx=586.6 cy=130.8 r=0.9 /></g>
<g fill="#2a8b80"><circle cx=554.1 cy=161.6 r=1.2 /><circle cx=558.7 cy=146.2 r=1.2 /></g>
<g fill="#2a8e7f"><circle cx=540.1 cy=125.7 r=1.9 /><circle cx=549.4 cy=156.5 r=1.2 /></g>
<g fill="#2b8481"><circle cx=540.1 cy=135.9 r=2.6 /><circle cx=544.8 cy=110.2 r=1.4 /><circle cx=554.1 cy=156.5 r=1.1 /><circle cx=558.7 cy=141.1 r=1.6 /><circle cx=558.7 cy=125.7 r=1.4 /><circle cx=568.0 cy=135.9 r=1.0 /></g>
<g fill="#2b927e"><circle cx=540.1 cy=141.1 r=2.4 /><circle cx=549.4 cy=146.2 r=1.7 /><circle cx=554.1 cy=151.3 r=1.5 /><circle cx=572.7 cy=141.1 r=1.1 /></g>
<g fill="#2c8081"><circle cx=549.4 cy=166.8 r=0.9 /><circle cx=554.1 cy=146.2 r=1.5 /><circle cx=558.7 cy=115.4 r=1.2 /><circle cx=563.4 cy=130.8 r=1.2 /><circle cx=572.7 cy=120.5 r=1.1 /><circle cx=577.3 cy=125.7 r=0.9 /></g>
<g fill="#2c967d"><circle cx=540.1 cy=171.9 r=1.1 /><circle cx=540.1 cy=146.2 r=2.2 /><circle cx=544.8 cy=156.5 r=1.4 /><circle cx=558.7 cy=151.3 r=1.2 /></g>
<g fill="#2d7a81"><circle cx=572.7 cy=146.2 r=1.1 /><circle cx=572.7 cy=130.8 r=0.9 /><circle cx=591.2 cy=120.5 r=1.0 /></g>
<g fill="#2d7d81"><circle cx=535.5 cy=120.5 r=2.0 /><circle cx=544.8 cy=115.4 r=1.3 /><circle cx=549.4 cy=151.3 r=1.5 /><circle cx=554.1 cy=125.7 r=1.5 /><circle cx=558.7 cy=130.8 r=1.5 /><circle cx=586.6 cy=115.4 r=0.9 /></g>
<circle cx=558.7 cy=135.9 r=1.4 fill="#2e997c"/>
<g fill="#2f7281"><circle cx=549.4 cy=110.2 r=1.2 /><circle cx=554.1 cy=130.8 r=1.4 /><circle cx=554.1 cy=105.1 r=0.7 /><circle cx=558.7 cy=156.5 r=1.1 /><circle cx=563.4 cy=135.9 r=1.4 /><circle cx=577.3 cy=135.9 r=0.9 /><circle cx=582.0 cy=130.8 r=0.8 /><circle cx=586.6 cy=120.5 r=0.8 /></g>
<g fill="#2f7681"><circle cx=544.8 cy=161.6 r=1.4 /><circle cx=544.8 cy=151.3 r=1.8 /><circle cx=544.8 cy=135.9 r=2.2 /><circle cx=544.8 cy=130.8 r=2.2 /><circle cx=549.4 cy=135.9 r=2.1 /><circle cx=549.4 cy=125.7 r=1.9 /><circle cx=549.4 cy=115.4 r=1.4 /><circle cx=568.0 cy=141.1 r=1.0 /><circle cx=577.3 cy=105.1 r=0.7 /></g>
<g fill="#306f81"><circle cx=544.8 cy=141.1 r=2.2 /><circle cx=544.8 cy=125.7 r=2.1 /><circle cx=554.1 cy=135.9 r=1.5 /><circle cx=558.7 cy=110.2 r=1.1 /><circle cx=558.7 cy=105.1 r=0.7 /><circle cx=568.0 cy=120.5 r=1.1 /><circle cx=568.0 cy=110.2 r=1.1 /><circle cx=577.3 cy=120.5 r=0.9 /><circle cx=582.0 cy=135.9 r=1.1 /></g>
<g fill="#316c80"><circle cx=540.1 cy=130.8 r=2.6 /><circle cx=540.1 cy=100.0 r=0.6 /><circle cx=544.8 cy=146.2 r=1.8 /><circle cx=554.1 cy=110.2 r=0.9 /><circle cx=558.7 cy=120.5 r=1.1 /><circle cx=563.4 cy=151.3 r=1.1 /><circle cx=563.4 cy=141.1 r=1.4 /><circle cx=563.4 cy=125.7 r=1.0 /><circle cx=568.0 cy=115.4 r=1.0 /><circle cx=577.3 cy=115.4 r=1.1 /><circle cx=582.0 cy=125.7 r=0.8 /><circle cx=591.2 cy=125.7 r=1.0 /></g>
<g fill="#336880"><circle cx=535.5 cy=125.7 r=2.3 /><circle cx=540.1 cy=156.5 r=1.4 /><circle cx=544.8 cy=120.5 r=1.5 /><circle cx=563.4 cy=105.1 r=0.6 /><circle cx=572.7 cy=135.9 r=1.0 /><circle cx=572.7 cy=125.7 r=1.1 /><circle cx=572.7 cy=84.6 r=0.6 /><circle cx=582.0 cy=120.5 r=1.0 /><circle cx=600.6 cy=120.5 r=0.9 /></g>
<g fill="#346480"><circle cx=535.5 cy=110.2 r=1.4 /><circle cx=540.1 cy=115.4 r=1.5 /><circle cx=563.4 cy=110.2 r=1.1 /><circle cx=577.3 cy=110.2 r=0.9 /><circle cx=582.0 cy=110.2 r=1.0 /><circle cx=591.2 cy=110.2 r=0.9 /></g>
<g fill="#35617f"><circle cx=540.1 cy=120.5 r=1.6 /><circle cx=540.1 cy=110.2 r=1.2 /><circle cx=544.8 cy=105.1 r=0.9 /><circle cx=549.4 cy=141.1 r=2.0 /><circle cx=549.4 cy=130.8 r=1.8 /><circle cx=554.1 cy=115.4 r=1.2 /><circle cx=554.1 cy=94.8 r=0.7 /><circle cx=568.0 cy=125.7 r=1.0 /><circle cx=568.0 cy=105.1 r=0.7 /><circle cx=600.6 cy=110.2 r=0.9 /><circle cx=605.2 cy=115.4 r=0.9 /></g>
<g fill="#365d7f"><circle cx=540.1 cy=105.1 r=0.8 /><circle cx=563.4 cy=120.5 r=1.0 /><circle cx=572.7 cy=115.4 r=1.1 /><circle cx=595.9 cy=125.7 r=1.0 /></g>
<g fill="#37597e"><circle cx=558.7 cy=100.0 r=0.6 /><circle cx=558.7 cy=89.7 r=0.7 /><circle cx=568.0 cy=130.8 r=1.2 /><circle cx=591.2 cy=115.4 r=0.9 /><circle cx=595.9 cy=110.2 r=0.9 /></g>
<g fill="#39557d"><circle cx=544.8 cy=94.8 r=0.7 /><circle cx=563.4 cy=115.4 r=0.9 /><circle cx=572.7 cy=100.0 r=0.7 /><circle cx=582.0 cy=115.4 r=1.0 /></g>
<g fill="#3a527c"><circle cx=535.5 cy=115.4 r=1.6 /><circle cx=554.1 cy=120.5 r=1.2 /><circle cx=572.7 cy=105.1 r=0.7 /><circle cx=586.6 cy=110.2 r=1.0 /><circle cx=586.6 cy=105.1 r=0.6 /></g>
<circle cx=540.1 cy=177.0 r=1.0 fill="#3aa477"/>
<g fill="#3b4e7b"><circle cx=549.4 cy=120.5 r=1.6 /><circle cx=558.7 cy=84.6 r=0.6 /><circle cx=577.3 cy=130.8 r=1.0 /><circle cx=586.6 cy=125.7 r=1.0 /></g>
<g fill="#3d497a"><circle cx=554.1 cy=89.7 r=0.6 /><circle cx=558.7 cy=94.8 r=0.6 /><circle cx=563.4 cy=146.2 r=1.3 /><circle cx=568.0 cy=89.7 r=0.7 /><circle cx=591.2 cy=105.1 r=0.6 /><circle cx=591.2 cy=100.0 r=0.7 /></g>
<g fill="#3e4579"><circle cx=535.5 cy=105.1 r=0.8 /><circle cx=549.4 cy=105.1 r=0.8 /><circle cx=572.7 cy=110.2 r=0.9 /></g>
<g fill="#3f4177"><circle cx=577.3 cy=94.8 r=0.7 /><circle cx=595.9 cy=105.1 r=0.6 /></g>
<g fill="#3fa775"><circle cx=554.1 cy=141.1 r=1.5 /><circle cx=568.0 cy=146.2 r=1.2 /></g>
<g fill="#403c75"><circle cx=563.4 cy=89.7 r=0.7 /><circle cx=582.0 cy=105.1 r=0.6 /><circle cx=595.9 cy=120.5 r=0.9 /></g>
<circle cx=577.3 cy=84.6 r=0.6 fill="#411c5d"/>
<g fill="#413873"><circle cx=577.3 cy=100.0 r=0.7 /><circle cx=577.3 cy=89.7 r=0.6 /><circle cx=595.9 cy=115.4 r=0.9 /><circle cx=600.6 cy=115.4 r=0.8 /></g>
<circle cx=554.1 cy=84.6 r=0.5 fill="#422a69"/>
<circle cx=540.1 cy=166.8 r=1.3 fill="#4cae70"/>
<circle cx=540.1 cy=161.6 r=1.3 fill="#53b26d"/>
<circle cx=482.0 cy=159.6 r=6.5 fill="#7bc15a"/>
<g fill="#4cae70"><circle cx=475.0 cy=177.0 r=4.0 /><circle cx=478.3 cy=178.6 r=4.0 /></g>
<circle cx=487.6 cy=177.5 r=4.0 fill="#3aa477"/>
<circle cx=507.1 cy=155.4 r=5.5 fill="#2b8481"/>
<circle cx=498.2 cy=137.5 r=3.0 fill="#2a8e7f"/>
<circle cx=526.2 cy=166.8 r=3.0 fill="#3f4177"/>
<circle cx=489.0 cy=166.8 r=4.0 fill="#73be5e"/>
<g fill="#63b866"><circle cx=495.9 cy=161.6 r=4.0 /><circle cx=477.3 cy=166.8 r=3.5 /></g>
<circle cx=498.2 cy=177.0 r=3.5 fill="#2e997c"/>
<g fill="#2a8e7f"><circle cx=507.6 cy=177.0 r=3.0 /><circle cx=516.9 cy=177.0 r=3.0 /></g>
<g fill="#2e997c"><circle cx=512.2 cy=166.8 r=3.5 /><circle cx=502.9 cy=146.2 r=3.0 /></g>
<circle cx=521.5 cy=161.6 r=3.0 fill="#2d7a81"/>
<circle cx=491.3 cy=156.5 r=3.5 fill="#73be5e"/>
<circle cx=484.3 cy=153.9 r=3.0 fill="#63b866"/>
<circle cx=500.6 cy=166.8 r=3.0 fill="#4cae70"/>
<g fill="#306f81"><circle cx=549.4 cy=150.8 r=3.0 /><circle cx=558.7 cy=151.3 r=2.5 /></g>
<g fill="#4cae70"><circle cx=539.2 cy=176.5 r=3.5 /><circle cx=530.3 cy=177.5 r=3.0 /></g>
<circle cx=548.0 cy=128.7 r=5.0 fill="#2a8e7f"/>
<circle cx=552.2 cy=140.0 r=4.0 fill="#2c967d"/>
<circle cx=539.2 cy=129.8 r=3.5 fill="#37597e"/>
<circle cx=540.1 cy=120.0 r=2.8 fill="#365d7f"/>
<circle cx=512.2 cy=125.7 r=14 fill="#2e997c"/>
<circle cx=586.6 cy=145.9 r=13 fill="#36a079"/>
<g fill="#306f81"><circle cx=614.5 cy=140.7 r=2.5 /><circle cx=614.5 cy=135.9 r=2.5 /><circle cx=619.2 cy=120.5 r=1.5 /><circle cx=628.5 cy=125.7 r=0.7 /><circle cx=614.5 cy=146.2 r=1.2 /><circle cx=609.9 cy=146.2 r=1.0 /><circle cx=614.5 cy=151.3 r=0.8 /></g>
<circle cx=647.0 cy=120.5 r=0.8 fill="#3f4177"/>
<g fill="#7bc15a"><circle cx=600.6 cy=43.5 r=0.6 /><circle cx=609.9 cy=38.3 r=0.6 /></g>
</g>
<rect x="65.10" y="7.50" width="233.10" height="179.80" fill="none" stroke="#3a3a3a" stroke-width="1.1"/>
<line x1="65.10" y1="187.30" x2="65.10" y2="192.90" stroke="#3a3a3a" stroke-width="1.1"/>
<text transform="translate(65.10,217.00) scale(1.240,1)" font-size="15.2" font-weight="bold" text-anchor="middle" fill="#111" stroke="#111" stroke-width="0.35">0.0</text>
<line x1="142.80" y1="187.30" x2="142.80" y2="192.90" stroke="#3a3a3a" stroke-width="1.1"/>
<text transform="translate(142.80,217.00) scale(1.240,1)" font-size="15.2" font-weight="bold" text-anchor="middle" fill="#111" stroke="#111" stroke-width="0.35">0.5</text>
<line x1="220.50" y1="187.30" x2="220.50" y2="192.90" stroke="#3a3a3a" stroke-width="1.1"/>
<text transform="translate(220.50,217.00) scale(1.240,1)" font-size="15.2" font-weight="bold" text-anchor="middle" fill="#111" stroke="#111" stroke-width="0.35">1.0</text>
<line x1="298.20" y1="187.30" x2="298.20" y2="192.90" stroke="#3a3a3a" stroke-width="1.1"/>
<text transform="translate(298.20,217.00) scale(1.240,1)" font-size="15.2" font-weight="bold" text-anchor="middle" fill="#111" stroke="#111" stroke-width="0.35">1.5</text>
<line x1="59.50" y1="187.30" x2="65.10" y2="187.30" stroke="#3a3a3a" stroke-width="1.1"/>
<text transform="translate(45.60,191.10) scale(1.240,1)" font-size="15.2" font-weight="bold" text-anchor="end" fill="#111" stroke="#111" stroke-width="0.35">0</text>
<line x1="59.50" y1="115.38" x2="65.10" y2="115.38" stroke="#3a3a3a" stroke-width="1.1"/>
<text transform="translate(45.60,119.18) scale(1.240,1)" font-size="15.2" font-weight="bold" text-anchor="end" fill="#111" stroke="#111" stroke-width="0.35">1</text>
<line x1="59.50" y1="43.46" x2="65.10" y2="43.46" stroke="#3a3a3a" stroke-width="1.1"/>
<text transform="translate(45.60,47.26) scale(1.240,1)" font-size="15.2" font-weight="bold" text-anchor="end" fill="#111" stroke="#111" stroke-width="0.35">2</text>
<text transform="translate(181.65,236.30) scale(1.050,1)" font-size="15" font-weight="normal" text-anchor="middle" fill="#111">O/C</text>
<text transform="translate(20.70,97.40) rotate(-90) scale(1.050,1)" font-size="15" font-weight="normal" text-anchor="middle" fill="#111">H/C</text>
<rect x="447.10" y="7.50" width="232.50" height="179.80" fill="none" stroke="#3a3a3a" stroke-width="1.1"/>
<line x1="447.10" y1="187.30" x2="447.10" y2="192.90" stroke="#3a3a3a" stroke-width="1.1"/>
<text transform="translate(447.10,217.00) scale(1.240,1)" font-size="15.2" font-weight="bold" text-anchor="middle" fill="#111" stroke="#111" stroke-width="0.35">0</text>
<line x1="493.60" y1="187.30" x2="493.60" y2="192.90" stroke="#3a3a3a" stroke-width="1.1"/>
<text transform="translate(493.60,217.00) scale(1.240,1)" font-size="15.2" font-weight="bold" text-anchor="middle" fill="#111" stroke="#111" stroke-width="0.35">10</text>
<line x1="540.10" y1="187.30" x2="540.10" y2="192.90" stroke="#3a3a3a" stroke-width="1.1"/>
<text transform="translate(540.10,217.00) scale(1.240,1)" font-size="15.2" font-weight="bold" text-anchor="middle" fill="#111" stroke="#111" stroke-width="0.35">20</text>
<line x1="586.60" y1="187.30" x2="586.60" y2="192.90" stroke="#3a3a3a" stroke-width="1.1"/>
<text transform="translate(586.60,217.00) scale(1.240,1)" font-size="15.2" font-weight="bold" text-anchor="middle" fill="#111" stroke="#111" stroke-width="0.35">30</text>
<line x1="633.10" y1="187.30" x2="633.10" y2="192.90" stroke="#3a3a3a" stroke-width="1.1"/>
<text transform="translate(633.10,217.00) scale(1.240,1)" font-size="15.2" font-weight="bold" text-anchor="middle" fill="#111" stroke="#111" stroke-width="0.35">40</text>
<line x1="679.60" y1="187.30" x2="679.60" y2="192.90" stroke="#3a3a3a" stroke-width="1.1"/>
<text transform="translate(679.60,217.00) scale(1.240,1)" font-size="15.2" font-weight="bold" text-anchor="middle" fill="#111" stroke="#111" stroke-width="0.35">50</text>
<line x1="441.50" y1="187.30" x2="447.10" y2="187.30" stroke="#3a3a3a" stroke-width="1.1"/>
<text transform="translate(427.60,191.10) scale(1.240,1)" font-size="15.2" font-weight="bold" text-anchor="end" fill="#111" stroke="#111" stroke-width="0.35">0</text>
<line x1="441.50" y1="135.93" x2="447.10" y2="135.93" stroke="#3a3a3a" stroke-width="1.1"/>
<text transform="translate(427.60,139.73) scale(1.240,1)" font-size="15.2" font-weight="bold" text-anchor="end" fill="#111" stroke="#111" stroke-width="0.35">10</text>
<line x1="441.50" y1="84.56" x2="447.10" y2="84.56" stroke="#3a3a3a" stroke-width="1.1"/>
<text transform="translate(427.60,88.36) scale(1.240,1)" font-size="15.2" font-weight="bold" text-anchor="end" fill="#111" stroke="#111" stroke-width="0.35">20</text>
<line x1="441.50" y1="33.19" x2="447.10" y2="33.19" stroke="#3a3a3a" stroke-width="1.1"/>
<text transform="translate(427.60,36.99) scale(1.240,1)" font-size="15.2" font-weight="bold" text-anchor="end" fill="#111" stroke="#111" stroke-width="0.35">30</text>
<text transform="translate(563.35,236.30) scale(1.110,1)" font-size="15" font-weight="normal" text-anchor="middle" fill="#111">C Number</text>
<text transform="translate(400.80,97.40) rotate(-90) scale(1.050,1)" font-size="15" font-weight="normal" text-anchor="middle" fill="#111">DBE</text>
<rect x="312.30" y="7.50" width="9.60" height="179.80" fill="url(#vg)" stroke="#222" stroke-width="0.9"/>
<text transform="translate(324.90,191.20) scale(1.100,1)" font-size="15.3" font-weight="normal" text-anchor="start" fill="#111">0</text>
<line x1="319.40" y1="169.32" x2="321.90" y2="169.32" stroke="#222" stroke-width="0.8"/>
<text transform="translate(324.90,173.22) scale(1.100,1)" font-size="15.3" font-weight="normal" text-anchor="start" fill="#111">80</text>
<line x1="319.40" y1="151.34" x2="321.90" y2="151.34" stroke="#222" stroke-width="0.8"/>
<text transform="translate(324.90,155.24) scale(1.100,1)" font-size="15.3" font-weight="normal" text-anchor="start" fill="#111">160</text>
<line x1="319.40" y1="133.36" x2="321.90" y2="133.36" stroke="#222" stroke-width="0.8"/>
<text transform="translate(324.90,137.26) scale(1.100,1)" font-size="15.3" font-weight="normal" text-anchor="start" fill="#111">240</text>
<line x1="319.40" y1="115.38" x2="321.90" y2="115.38" stroke="#222" stroke-width="0.8"/>
<text transform="translate(324.90,119.28) scale(1.100,1)" font-size="15.3" font-weight="normal" text-anchor="start" fill="#111">320</text>
<line x1="319.40" y1="97.40" x2="321.90" y2="97.40" stroke="#222" stroke-width="0.8"/>
<text transform="translate(324.90,101.30) scale(1.100,1)" font-size="15.3" font-weight="normal" text-anchor="start" fill="#111">400</text>
<line x1="319.40" y1="79.42" x2="321.90" y2="79.42" stroke="#222" stroke-width="0.8"/>
<text transform="translate(324.90,83.32) scale(1.100,1)" font-size="15.3" font-weight="normal" text-anchor="start" fill="#111">480</text>
<line x1="319.40" y1="61.44" x2="321.90" y2="61.44" stroke="#222" stroke-width="0.8"/>
<text transform="translate(324.90,65.34) scale(1.100,1)" font-size="15.3" font-weight="normal" text-anchor="start" fill="#111">560</text>
<line x1="319.40" y1="43.46" x2="321.90" y2="43.46" stroke="#222" stroke-width="0.8"/>
<text transform="translate(324.90,47.36) scale(1.100,1)" font-size="15.3" font-weight="normal" text-anchor="start" fill="#111">640</text>
<line x1="319.40" y1="25.48" x2="321.90" y2="25.48" stroke="#222" stroke-width="0.8"/>
<text transform="translate(324.90,29.38) scale(1.100,1)" font-size="15.3" font-weight="normal" text-anchor="start" fill="#111">720</text>
<text transform="translate(324.90,11.40) scale(1.100,1)" font-size="15.3" font-weight="normal" text-anchor="start" fill="#111">800</text>
<rect x="693.70" y="7.50" width="9.20" height="179.80" fill="url(#vg)" stroke="#222" stroke-width="0.9"/>
<text transform="translate(705.90,191.20) scale(1.100,1)" font-size="15.3" font-weight="normal" text-anchor="start" fill="#111">0</text>
<line x1="700.40" y1="169.32" x2="702.90" y2="169.32" stroke="#222" stroke-width="0.8"/>
<text transform="translate(705.90,173.22) scale(1.100,1)" font-size="15.3" font-weight="normal" text-anchor="start" fill="#111">2</text>
<line x1="700.40" y1="151.34" x2="702.90" y2="151.34" stroke="#222" stroke-width="0.8"/>
<text transform="translate(705.90,155.24) scale(1.100,1)" font-size="15.3" font-weight="normal" text-anchor="start" fill="#111">4</text>
<line x1="700.40" y1="133.36" x2="702.90" y2="133.36" stroke="#222" stroke-width="0.8"/>
<text transform="translate(705.90,137.26) scale(1.100,1)" font-size="15.3" font-weight="normal" text-anchor="start" fill="#111">6</text>
<line x1="700.40" y1="115.38" x2="702.90" y2="115.38" stroke="#222" stroke-width="0.8"/>
<text transform="translate(705.90,119.28) scale(1.100,1)" font-size="15.3" font-weight="normal" text-anchor="start" fill="#111">8</text>
<line x1="700.40" y1="97.40" x2="702.90" y2="97.40" stroke="#222" stroke-width="0.8"/>
<text transform="translate(705.90,101.30) scale(1.100,1)" font-size="15.3" font-weight="normal" text-anchor="start" fill="#111">10</text>
<line x1="700.40" y1="79.42" x2="702.90" y2="79.42" stroke="#222" stroke-width="0.8"/>
<text transform="translate(705.90,83.32) scale(1.100,1)" font-size="15.3" font-weight="normal" text-anchor="start" fill="#111">12</text>
<line x1="700.40" y1="61.44" x2="702.90" y2="61.44" stroke="#222" stroke-width="0.8"/>
<text transform="translate(705.90,65.34) scale(1.100,1)" font-size="15.3" font-weight="normal" text-anchor="start" fill="#111">14</text>
<line x1="700.40" y1="43.46" x2="702.90" y2="43.46" stroke="#222" stroke-width="0.8"/>
<text transform="translate(705.90,47.36) scale(1.100,1)" font-size="15.3" font-weight="normal" text-anchor="start" fill="#111">16</text>
<line x1="700.40" y1="25.48" x2="702.90" y2="25.48" stroke="#222" stroke-width="0.8"/>
<text transform="translate(705.90,29.38) scale(1.100,1)" font-size="15.3" font-weight="normal" text-anchor="start" fill="#111">18</text>
<text transform="translate(705.90,11.40) scale(1.100,1)" font-size="15.3" font-weight="normal" text-anchor="start" fill="#111">20</text>
<text transform="translate(369.20,97.40) rotate(-90) scale(1.030,1)" font-size="15.5" font-weight="normal" text-anchor="middle" fill="#111">Mass</text>
<text transform="translate(740.50,97.40) rotate(-90) scale(1.050,1)" font-size="15" font-weight="normal" text-anchor="middle" fill="#111">O #</text>
<text transform="translate(0.00,20.40) scale(1.030,1)" font-size="25" font-weight="bold" text-anchor="start" fill="#000">(a)</text>
<g clip-path="url(#cl1)">
<circle cx=94.7 cy=296.3 r=26 fill="#85c455"/>
<circle cx=83.6 cy=296.0 r=7.0 fill="#3fa775"/>
<circle cx=85.0 cy=310.0 r=7.0 fill="#3aa477"/>
<circle cx=93.0 cy=303.0 r=4.0 fill="#2e997c"/>
<g fill="#2c967d"><circle cx=100.0 cy=305.0 r=4.0 /><circle cx=108.0 cy=304.0 r=4.0 /><circle cx=116.0 cy=303.0 r=3.5 /></g>
<g fill="#2e997c"><circle cx=120.0 cy=307.0 r=3.0 /><circle cx=96.0 cy=310.0 r=3.5 /><circle cx=104.0 cy=312.0 r=3.0 /></g>
<circle cx=90.9 cy=319.8 r=3.5 fill="#3aa477"/>
<g fill="#2a8e7f"><circle cx=107.9 cy=296.0 r=3.0 /><circle cx=126.0 cy=296.0 r=2.5 /><circle cx=133.0 cy=296.0 r=3.5 /><circle cx=142.6 cy=296.0 r=2.8 /></g>
<g fill="#2a8780"><circle cx=123.4 cy=350.2 r=1.6 /><circle cx=151.4 cy=328.2 r=0.6 /></g>
<g fill="#2a8b80"><circle cx=127.3 cy=368.2 r=1.9 /><circle cx=142.8 cy=353.8 r=1.9 /><circle cx=121.6 cy=374.7 r=1.3 /><circle cx=135.7 cy=335.5 r=1.0 /><circle cx=129.8 cy=380.2 r=1.7 /></g>
<g fill="#2a8e7f"><circle cx=153.6 cy=296.0 r=1.5 /><circle cx=151.4 cy=360.2 r=1.8 /><circle cx=168.7 cy=376.2 r=1.0 /><circle cx=127.3 cy=339.4 r=1.0 /><circle cx=158.3 cy=353.8 r=1.5 /><circle cx=205.0 cy=339.4 r=1.0 /><circle cx=107.5 cy=374.7 r=1.0 /><circle cx=107.5 cy=361.6 r=1.1 /><circle cx=121.6 cy=335.5 r=0.9 /><circle cx=135.7 cy=348.6 r=1.3 /><circle cx=149.9 cy=335.5 r=0.8 /><circle cx=206.4 cy=348.6 r=0.6 /><circle cx=91.0 cy=332.2 r=0.6 /></g>
<circle cx=158.3 cy=368.2 r=1.7 fill="#2b8481"/>
<g fill="#2b927e"><circle cx=131.7 cy=357.9 r=1.9 /><circle cx=176.1 cy=337.4 r=0.9 /><circle cx=123.4 cy=314.2 r=0.7 /><circle cx=116.9 cy=392.2 r=1.2 /><circle cx=116.9 cy=360.2 r=1.3 /><circle cx=134.2 cy=312.2 r=0.5 /><circle cx=65.1 cy=368.2 r=1.0 /><circle cx=96.2 cy=368.2 r=1.3 /><circle cx=111.7 cy=382.6 r=1.1 /><circle cx=111.7 cy=368.2 r=1.8 /><circle cx=111.7 cy=339.4 r=1.1 /><circle cx=158.3 cy=310.6 r=0.6 /><circle cx=149.9 cy=361.6 r=1.8 /><circle cx=116.9 cy=356.2 r=1.6 /></g>
<g fill="#2c967d"><circle cx=109.5 cy=357.9 r=1.1 /><circle cx=153.9 cy=316.8 r=0.8 /><circle cx=162.2 cy=368.2 r=1.6 /><circle cx=151.4 cy=344.2 r=1.1 /><circle cx=127.3 cy=396.9 r=0.8 /><circle cx=121.6 cy=322.4 r=0.6 /><circle cx=135.7 cy=361.6 r=1.9 /><circle cx=149.9 cy=374.7 r=1.8 /><circle cx=164.0 cy=361.6 r=1.3 /><circle cx=164.0 cy=348.6 r=1.3 /><circle cx=178.1 cy=374.7 r=0.7 /><circle cx=178.1 cy=361.6 r=0.8 /><circle cx=178.1 cy=335.5 r=0.9 /><circle cx=116.9 cy=380.2 r=1.3 /><circle cx=116.9 cy=344.2 r=1.3 /></g>
<g fill="#2e997c"><circle cx=163.0 cy=296.0 r=1.0 /><circle cx=175.0 cy=296.0 r=1.0 /><circle cx=131.7 cy=378.5 r=1.8 /><circle cx=153.9 cy=378.5 r=1.6 /><circle cx=123.4 cy=386.2 r=1.5 /><circle cx=123.4 cy=368.2 r=1.9 /><circle cx=123.4 cy=296.3 r=0.6 /><circle cx=142.8 cy=332.2 r=1.2 /><circle cx=116.9 cy=344.2 r=1.3 /><circle cx=134.2 cy=344.2 r=1.2 /><circle cx=186.0 cy=344.2 r=0.6 /><circle cx=220.5 cy=344.2 r=0.9 /><circle cx=111.7 cy=396.9 r=1.0 /><circle cx=142.8 cy=396.9 r=1.3 /><circle cx=173.9 cy=396.9 r=0.9 /><circle cx=107.5 cy=348.6 r=0.9 /><circle cx=121.6 cy=348.6 r=1.6 /><circle cx=164.0 cy=335.5 r=0.7 /><circle cx=206.4 cy=309.3 r=0.9 /><circle cx=91.0 cy=320.2 r=0.9 /><circle cx=116.9 cy=368.2 r=1.8 /></g>
<g fill="#319c7b"><circle cx=131.7 cy=337.4 r=1.0 /><circle cx=176.1 cy=378.5 r=0.7 /><circle cx=103.9 cy=368.2 r=1.6 /><circle cx=142.8 cy=368.2 r=2.1 /><circle cx=142.8 cy=350.2 r=2.0 /><circle cx=116.9 cy=376.2 r=1.2 /><circle cx=168.7 cy=344.2 r=1.3 /><circle cx=203.2 cy=424.1 r=0.9 /><circle cx=203.2 cy=312.2 r=0.9 /><circle cx=111.7 cy=353.8 r=1.4 /><circle cx=127.3 cy=353.8 r=1.8 /><circle cx=158.3 cy=339.4 r=0.8 /><circle cx=205.0 cy=310.6 r=0.9 /><circle cx=107.5 cy=335.5 r=1.0 /><circle cx=121.6 cy=361.6 r=1.3 /><circle cx=135.7 cy=387.8 r=1.3 /><circle cx=135.7 cy=322.4 r=0.6 /><circle cx=149.9 cy=348.6 r=1.3 /><circle cx=116.9 cy=320.2 r=0.6 /></g>
<g fill="#36a079"><circle cx=142.8 cy=314.2 r=0.9 /><circle cx=162.2 cy=332.2 r=0.7 /><circle cx=65.1 cy=312.2 r=0.5 /><circle cx=134.2 cy=360.2 r=1.9 /><circle cx=151.4 cy=392.2 r=0.8 /><circle cx=186.0 cy=328.2 r=0.9 /><circle cx=127.3 cy=425.7 r=0.6 /><circle cx=127.3 cy=310.6 r=0.6 /><circle cx=142.8 cy=368.2 r=2.0 /><circle cx=149.9 cy=387.8 r=1.1 /><circle cx=164.0 cy=387.8 r=1.2 /><circle cx=164.0 cy=374.7 r=1.1 /><circle cx=248.8 cy=296.3 r=0.5 /><circle cx=91.0 cy=356.2 r=0.8 /><circle cx=103.9 cy=332.2 r=0.9 /></g>
<g fill="#3aa477"><circle cx=181.5 cy=296.0 r=1.5 /><circle cx=123.4 cy=404.1 r=0.8 /><circle cx=239.9 cy=296.3 r=0.7 /><circle cx=168.7 cy=360.2 r=1.1 /><circle cx=142.8 cy=382.6 r=1.7 /><circle cx=142.8 cy=339.4 r=1.5 /><circle cx=135.7 cy=400.9 r=0.8 /></g>
<g fill="#3fa775"><circle cx=153.9 cy=337.4 r=0.9 /><circle cx=142.8 cy=386.2 r=1.6 /><circle cx=162.2 cy=350.2 r=1.4 /><circle cx=201.1 cy=314.2 r=0.9 /><circle cx=151.4 cy=376.2 r=1.7 /><circle cx=127.3 cy=382.6 r=1.6 /><circle cx=173.9 cy=382.6 r=0.8 /><circle cx=173.9 cy=368.2 r=1.3 /><circle cx=173.9 cy=325.0 r=0.7 /><circle cx=135.7 cy=374.7 r=1.9 /><circle cx=149.9 cy=309.3 r=0.5 /></g>
<circle cx=205.0 cy=325.0 r=0.7 fill="#45aa73"/>
<g fill="#5ab56a"><circle cx=153.9 cy=357.9 r=1.7 /><circle cx=173.9 cy=339.4 r=1.0 /></g>
<g fill="#63b866"><circle cx=134.2 cy=376.2 r=1.8 /><circle cx=103.9 cy=380.2 r=0.8 /></g>
<circle cx=129.8 cy=368.2 r=3.6 fill="#2b927e"/>
<g fill="#2a8780"><circle cx=124.9 cy=351.6 r=1.7 /><circle cx=160.7 cy=395.8 r=0.8 /><circle cx=120.6 cy=368.2 r=1.8 /><circle cx=131.7 cy=337.4 r=1.0 /><circle cx=153.9 cy=399.0 r=0.8 /><circle cx=165.0 cy=388.7 r=1.1 /><circle cx=187.2 cy=347.6 r=0.8 /><circle cx=116.9 cy=373.0 r=1.2 /><circle cx=127.3 cy=344.2 r=1.1 /><circle cx=148.0 cy=382.6 r=1.3 /><circle cx=168.7 cy=344.2 r=1.1 /><circle cx=133.1 cy=350.2 r=1.5 /><circle cx=142.8 cy=341.2 r=1.5 /><circle cx=142.8 cy=332.2 r=1.2 /><circle cx=171.9 cy=341.2 r=1.0 /><circle cx=220.5 cy=350.2 r=0.8 /><circle cx=220.5 cy=332.2 r=1.2 /><circle cx=110.8 cy=347.0 r=1.0 /><circle cx=119.9 cy=380.9 r=1.0 /><circle cx=129.1 cy=296.3 r=0.7 /><circle cx=147.4 cy=347.0 r=1.1 /><circle cx=65.1 cy=352.2 r=0.6 /><circle cx=116.9 cy=368.2 r=2.0 /><circle cx=116.9 cy=352.2 r=1.3 /><circle cx=125.5 cy=328.2 r=0.7 /><circle cx=142.8 cy=408.1 r=1.1 /><circle cx=160.1 cy=376.2 r=1.3 /><circle cx=160.1 cy=360.2 r=1.5 /><circle cx=160.1 cy=352.2 r=1.5 /><circle cx=177.3 cy=320.2 r=1.0 /><circle cx=177.3 cy=296.3 r=0.6 /><circle cx=89.6 cy=319.0 r=0.9 /><circle cx=106.0 cy=349.3 r=0.9 /><circle cx=114.2 cy=364.4 r=1.3 /><circle cx=122.4 cy=364.4 r=1.4 /><circle cx=122.4 cy=341.7 r=0.8 /><circle cx=122.4 cy=326.5 r=0.6 /><circle cx=130.5 cy=341.7 r=1.0 /><circle cx=146.9 cy=356.8 r=1.3 /><circle cx=146.9 cy=341.7 r=0.9 /><circle cx=146.9 cy=334.1 r=0.8 /></g>
<g fill="#2a8b80"><circle cx=168.7 cy=308.2 r=0.6 /><circle cx=220.5 cy=344.2 r=0.8 /><circle cx=112.9 cy=362.6 r=1.2 /><circle cx=124.9 cy=362.6 r=1.3 /><circle cx=136.8 cy=384.8 r=1.2 /><circle cx=148.8 cy=362.6 r=1.8 /><circle cx=172.7 cy=340.5 r=1.0 /><circle cx=120.6 cy=357.9 r=1.5 /><circle cx=120.6 cy=316.8 r=0.6 /><circle cx=153.9 cy=368.2 r=1.8 /><circle cx=153.9 cy=357.9 r=1.7 /><circle cx=153.9 cy=306.5 r=0.6 /><circle cx=165.0 cy=368.2 r=1.5 /><circle cx=106.5 cy=344.2 r=1.0 /><circle cx=116.9 cy=353.8 r=1.1 /><circle cx=168.7 cy=334.6 r=0.5 /><circle cx=199.8 cy=334.6 r=0.6 /><circle cx=123.4 cy=377.2 r=1.5 /><circle cx=133.1 cy=377.2 r=1.8 /><circle cx=142.8 cy=386.2 r=1.6 /><circle cx=152.5 cy=368.2 r=2.0 /><circle cx=162.2 cy=368.2 r=2.2 /><circle cx=201.1 cy=368.2 r=1.0 /><circle cx=110.8 cy=372.4 r=1.2 /><circle cx=119.9 cy=355.5 r=1.3 /><circle cx=119.9 cy=347.0 r=1.5 /><circle cx=129.1 cy=380.9 r=1.7 /><circle cx=129.1 cy=338.6 r=1.2 /><circle cx=156.5 cy=380.9 r=1.5 /><circle cx=156.5 cy=372.4 r=1.4 /><circle cx=165.7 cy=347.0 r=1.2 /><circle cx=202.2 cy=304.7 r=0.5 /><circle cx=82.4 cy=296.3 r=0.5 /><circle cx=99.6 cy=328.2 r=0.9 /><circle cx=116.9 cy=328.2 r=0.6 /><circle cx=125.5 cy=336.2 r=0.9 /><circle cx=134.2 cy=376.2 r=1.8 /><circle cx=142.8 cy=384.2 r=1.7 /><circle cx=142.8 cy=352.2 r=1.8 /><circle cx=160.1 cy=320.2 r=1.0 /><circle cx=168.7 cy=368.2 r=1.4 /><circle cx=106.0 cy=319.0 r=0.5 /><circle cx=122.4 cy=387.1 r=1.4 /><circle cx=130.5 cy=379.5 r=1.8 /><circle cx=130.5 cy=349.3 r=1.2 /><circle cx=130.5 cy=334.1 r=0.8 /><circle cx=130.5 cy=326.5 r=0.7 /><circle cx=146.9 cy=379.5 r=1.4 /><circle cx=146.9 cy=303.8 r=0.6 /></g>
<g fill="#2a8e7f"><circle cx=142.8 cy=332.2 r=1.2 /><circle cx=168.7 cy=368.2 r=1.6 /><circle cx=112.9 cy=373.7 r=1.6 /><circle cx=148.8 cy=351.6 r=1.5 /><circle cx=160.7 cy=329.5 r=0.6 /><circle cx=172.7 cy=395.8 r=0.9 /><circle cx=76.2 cy=296.3 r=0.8 /><circle cx=120.6 cy=378.5 r=1.6 /><circle cx=153.9 cy=388.7 r=1.1 /><circle cx=153.9 cy=378.5 r=1.6 /><circle cx=165.0 cy=347.6 r=1.2 /><circle cx=231.6 cy=357.9 r=0.6 /><circle cx=116.9 cy=382.6 r=1.0 /><circle cx=127.3 cy=392.2 r=0.9 /><circle cx=137.6 cy=363.4 r=1.9 /><circle cx=137.6 cy=353.8 r=1.3 /><circle cx=158.3 cy=392.2 r=0.7 /><circle cx=123.4 cy=386.2 r=1.5 /><circle cx=123.4 cy=350.2 r=1.6 /><circle cx=152.5 cy=386.2 r=1.1 /><circle cx=152.5 cy=377.2 r=1.7 /><circle cx=171.9 cy=386.2 r=0.7 /><circle cx=181.6 cy=359.2 r=0.8 /><circle cx=191.4 cy=350.2 r=0.6 /><circle cx=201.1 cy=314.2 r=0.9 /><circle cx=110.8 cy=338.6 r=1.1 /><circle cx=138.2 cy=355.5 r=1.3 /><circle cx=147.4 cy=397.8 r=0.7 /><circle cx=147.4 cy=372.4 r=1.8 /><circle cx=174.8 cy=338.6 r=1.0 /><circle cx=174.8 cy=321.6 r=0.5 /><circle cx=108.3 cy=384.2 r=1.2 /><circle cx=108.3 cy=352.2 r=1.2 /><circle cx=125.5 cy=376.2 r=1.5 /><circle cx=134.2 cy=392.2 r=1.1 /><circle cx=134.2 cy=336.2 r=0.9 /><circle cx=160.1 cy=368.2 r=1.7 /><circle cx=160.1 cy=336.2 r=0.9 /><circle cx=168.7 cy=400.1 r=0.6 /><circle cx=186.0 cy=328.2 r=0.9 /><circle cx=237.8 cy=296.3 r=0.5 /><circle cx=97.8 cy=349.3 r=0.6 /><circle cx=106.0 cy=394.7 r=0.5 /><circle cx=106.0 cy=356.8 r=1.0 /><circle cx=106.0 cy=334.1 r=1.0 /><circle cx=114.2 cy=356.8 r=1.2 /><circle cx=130.5 cy=356.8 r=1.9 /><circle cx=138.7 cy=402.2 r=0.8 /><circle cx=138.7 cy=364.4 r=1.9 /></g>
<g fill="#2b8481"><circle cx=129.8 cy=356.2 r=1.8 /><circle cx=112.9 cy=351.6 r=2.3 /><circle cx=124.9 cy=340.5 r=1.0 /><circle cx=136.8 cy=395.8 r=1.0 /><circle cx=109.5 cy=357.9 r=1.1 /><circle cx=142.8 cy=337.4 r=1.4 /><circle cx=165.0 cy=378.5 r=1.1 /><circle cx=116.9 cy=325.0 r=0.5 /><circle cx=137.6 cy=344.2 r=1.1 /><circle cx=148.0 cy=373.0 r=1.8 /><circle cx=189.4 cy=344.2 r=0.8 /><circle cx=113.7 cy=368.2 r=1.7 /><circle cx=123.4 cy=359.2 r=1.5 /><circle cx=133.1 cy=359.2 r=1.9 /><circle cx=142.8 cy=350.2 r=1.9 /><circle cx=152.5 cy=341.2 r=0.9 /><circle cx=162.2 cy=359.2 r=1.4 /><circle cx=110.8 cy=363.9 r=1.1 /><circle cx=119.9 cy=363.9 r=1.3 /><circle cx=129.1 cy=372.4 r=1.4 /><circle cx=138.2 cy=389.3 r=1.2 /><circle cx=147.4 cy=380.9 r=1.3 /><circle cx=174.8 cy=330.1 r=0.5 /><circle cx=193.1 cy=330.1 r=0.5 /><circle cx=82.4 cy=312.2 r=0.9 /><circle cx=125.5 cy=352.2 r=1.7 /><circle cx=134.2 cy=368.2 r=2.0 /><circle cx=151.4 cy=360.2 r=1.8 /><circle cx=194.6 cy=344.2 r=0.8 /><circle cx=203.2 cy=368.2 r=0.9 /><circle cx=106.0 cy=364.4 r=1.0 /><circle cx=114.2 cy=341.7 r=1.2 /><circle cx=146.9 cy=364.4 r=1.9 /><circle cx=146.9 cy=319.0 r=0.5 /></g>
<g fill="#2b927e"><circle cx=142.8 cy=356.2 r=2.1 /><circle cx=155.8 cy=368.2 r=1.8 /><circle cx=155.8 cy=356.2 r=1.7 /><circle cx=168.7 cy=356.2 r=1.1 /><circle cx=101.0 cy=340.5 r=0.6 /><circle cx=112.9 cy=318.4 r=0.5 /><circle cx=136.8 cy=373.7 r=1.9 /><circle cx=136.8 cy=329.5 r=0.8 /><circle cx=148.8 cy=373.7 r=1.8 /><circle cx=172.7 cy=362.6 r=1.1 /><circle cx=87.3 cy=368.2 r=1.0 /><circle cx=109.5 cy=429.8 r=0.7 /><circle cx=120.6 cy=347.6 r=1.5 /><circle cx=120.6 cy=337.4 r=0.8 /><circle cx=131.7 cy=347.6 r=1.3 /><circle cx=142.8 cy=399.0 r=1.2 /><circle cx=142.8 cy=378.5 r=1.8 /><circle cx=198.3 cy=337.4 r=0.6 /><circle cx=220.5 cy=337.4 r=0.6 /><circle cx=127.3 cy=334.6 r=0.8 /><circle cx=137.6 cy=401.7 r=0.8 /><circle cx=137.6 cy=392.2 r=1.2 /><circle cx=137.6 cy=373.0 r=1.9 /><circle cx=148.0 cy=411.3 r=0.6 /><circle cx=148.0 cy=344.2 r=1.0 /><circle cx=103.9 cy=314.2 r=0.8 /><circle cx=113.7 cy=386.2 r=0.9 /><circle cx=113.7 cy=377.2 r=1.3 /><circle cx=113.7 cy=359.2 r=1.2 /><circle cx=123.4 cy=431.1 r=0.6 /><circle cx=123.4 cy=404.1 r=1.1 /><circle cx=142.8 cy=359.2 r=1.9 /><circle cx=142.8 cy=323.2 r=1.0 /><circle cx=171.9 cy=350.2 r=0.8 /><circle cx=181.6 cy=296.3 r=0.8 /><circle cx=83.4 cy=338.6 r=0.5 /><circle cx=110.8 cy=304.7 r=0.5 /><circle cx=119.9 cy=389.3 r=1.3 /><circle cx=119.9 cy=313.2 r=0.6 /><circle cx=129.1 cy=363.9 r=1.3 /><circle cx=138.2 cy=423.2 r=0.5 /><circle cx=138.2 cy=372.4 r=1.9 /><circle cx=138.2 cy=347.0 r=1.2 /><circle cx=138.2 cy=338.6 r=1.0 /><circle cx=147.4 cy=363.9 r=1.9 /><circle cx=156.5 cy=355.5 r=1.6 /><circle cx=156.5 cy=338.6 r=0.7 /><circle cx=156.5 cy=330.1 r=0.7 /><circle cx=174.8 cy=355.5 r=0.7 /><circle cx=183.9 cy=338.6 r=0.6 /><circle cx=91.0 cy=408.1 r=0.6 /><circle cx=116.9 cy=336.2 r=0.8 /><circle cx=134.2 cy=384.2 r=1.3 /><circle cx=142.8 cy=360.2 r=1.9 /><circle cx=142.8 cy=336.2 r=1.3 /><circle cx=151.4 cy=376.2 r=1.7 /><circle cx=168.7 cy=320.2 r=0.6 /><circle cx=177.3 cy=360.2 r=0.9 /><circle cx=194.6 cy=352.2 r=0.8 /><circle cx=81.5 cy=349.3 r=0.6 /><circle cx=106.0 cy=379.5 r=0.9 /><circle cx=106.0 cy=326.5 r=0.5 /><circle cx=122.4 cy=394.7 r=0.8 /><circle cx=130.5 cy=432.5 r=0.7 /><circle cx=138.7 cy=356.8 r=1.3 /><circle cx=146.9 cy=372.0 r=1.8 /><circle cx=155.1 cy=394.7 r=0.7 /><circle cx=155.1 cy=379.5 r=1.5 /></g>
<g fill="#2c8081"><circle cx=131.7 cy=378.5 r=1.8 /><circle cx=137.6 cy=334.6 r=1.0 /><circle cx=133.1 cy=368.2 r=1.9 /><circle cx=142.8 cy=368.2 r=2.3 /><circle cx=119.9 cy=338.6 r=0.8 /><circle cx=129.1 cy=355.5 r=1.8 /><circle cx=129.1 cy=330.1 r=1.0 /><circle cx=147.4 cy=330.1 r=0.7 /><circle cx=165.7 cy=363.9 r=1.1 /><circle cx=202.2 cy=313.2 r=0.9 /><circle cx=151.4 cy=368.2 r=1.8 /><circle cx=106.0 cy=372.0 r=1.0 /><circle cx=155.1 cy=387.1 r=0.9 /></g>
<g fill="#2c967d"><circle cx=155.8 cy=380.2 r=1.5 /><circle cx=168.7 cy=344.2 r=1.1 /><circle cx=168.7 cy=296.3 r=0.6 /><circle cx=181.6 cy=404.1 r=0.9 /><circle cx=181.6 cy=332.2 r=0.9 /><circle cx=112.9 cy=329.5 r=0.5 /><circle cx=136.8 cy=340.5 r=1.2 /><circle cx=148.8 cy=384.8 r=1.2 /><circle cx=148.8 cy=329.5 r=0.6 /><circle cx=98.4 cy=337.4 r=0.7 /><circle cx=109.5 cy=409.3 r=0.6 /><circle cx=131.7 cy=368.2 r=1.9 /><circle cx=131.7 cy=327.1 r=0.7 /><circle cx=142.8 cy=357.9 r=1.9 /><circle cx=142.8 cy=327.1 r=1.1 /><circle cx=187.2 cy=357.9 r=0.8 /><circle cx=106.5 cy=363.4 r=1.0 /><circle cx=116.9 cy=344.2 r=1.3 /><circle cx=127.3 cy=382.6 r=1.6 /><circle cx=127.3 cy=363.4 r=1.4 /><circle cx=148.0 cy=363.4 r=1.9 /><circle cx=158.3 cy=373.0 r=1.3 /><circle cx=158.3 cy=334.6 r=0.8 /><circle cx=74.8 cy=368.2 r=0.9 /><circle cx=103.9 cy=386.2 r=1.1 /><circle cx=113.7 cy=395.2 r=1.1 /><circle cx=113.7 cy=350.2 r=1.1 /><circle cx=133.1 cy=341.2 r=1.1 /><circle cx=142.8 cy=395.2 r=1.8 /><circle cx=152.5 cy=359.2 r=1.8 /><circle cx=162.2 cy=386.2 r=1.2 /><circle cx=162.2 cy=350.2 r=1.4 /><circle cx=92.5 cy=321.6 r=0.9 /><circle cx=101.7 cy=406.3 r=0.9 /><circle cx=101.7 cy=347.0 r=0.7 /><circle cx=101.7 cy=338.6 r=0.7 /><circle cx=110.8 cy=321.6 r=0.6 /><circle cx=119.9 cy=372.4 r=1.3 /><circle cx=138.2 cy=380.9 r=1.5 /><circle cx=138.2 cy=363.9 r=1.9 /><circle cx=211.4 cy=304.7 r=0.9 /><circle cx=82.4 cy=344.2 r=0.7 /><circle cx=99.6 cy=392.2 r=0.6 /><circle cx=108.3 cy=360.2 r=1.2 /><circle cx=108.3 cy=328.2 r=0.7 /><circle cx=116.9 cy=344.2 r=1.3 /><circle cx=125.5 cy=344.2 r=1.1 /><circle cx=134.2 cy=360.2 r=1.9 /><circle cx=134.2 cy=304.3 r=0.5 /><circle cx=151.4 cy=352.2 r=1.2 /><circle cx=220.5 cy=352.2 r=0.6 /><circle cx=73.3 cy=387.1 r=0.6 /><circle cx=97.8 cy=334.1 r=0.6 /><circle cx=114.2 cy=379.5 r=1.2 /><circle cx=122.4 cy=379.5 r=1.1 /><circle cx=130.5 cy=372.0 r=1.3 /><circle cx=146.9 cy=402.2 r=0.6 /><circle cx=146.9 cy=387.1 r=1.2 /></g>
<circle cx=152.5 cy=350.2 r=1.3 fill="#2d7a81"/>
<g fill="#2d7d81"><circle cx=112.9 cy=340.5 r=1.2 /><circle cx=127.3 cy=353.8 r=1.8 /><circle cx=125.5 cy=384.2 r=1.6 /><circle cx=134.2 cy=328.2 r=0.7 /><circle cx=186.0 cy=304.3 r=0.5 /><circle cx=211.9 cy=352.2 r=0.7 /><circle cx=114.2 cy=349.3 r=0.9 /><circle cx=122.4 cy=372.0 r=1.3 /><circle cx=122.4 cy=356.8 r=1.3 /><circle cx=130.5 cy=319.0 r=0.6 /><circle cx=138.7 cy=387.1 r=1.1 /><circle cx=138.7 cy=341.7 r=1.1 /></g>
<g fill="#2e997c"><circle cx=142.8 cy=380.2 r=1.8 /><circle cx=142.8 cy=368.2 r=1.9 /><circle cx=142.8 cy=344.2 r=1.6 /><circle cx=233.4 cy=296.3 r=0.5 /><circle cx=101.0 cy=362.6 r=0.9 /><circle cx=101.0 cy=318.4 r=0.6 /><circle cx=109.5 cy=368.2 r=1.6 /><circle cx=109.5 cy=347.6 r=0.9 /><circle cx=109.5 cy=337.4 r=1.0 /><circle cx=131.7 cy=388.7 r=1.2 /><circle cx=142.8 cy=368.2 r=1.9 /><circle cx=153.9 cy=347.6 r=1.1 /><circle cx=176.1 cy=337.4 r=0.9 /><circle cx=96.2 cy=373.0 r=0.7 /><circle cx=106.5 cy=353.8 r=0.9 /><circle cx=158.3 cy=353.8 r=1.5 /><circle cx=168.7 cy=305.8 r=0.6 /><circle cx=189.4 cy=325.0 r=0.9 /><circle cx=103.9 cy=359.2 r=1.1 /><circle cx=103.9 cy=341.2 r=1.0 /><circle cx=123.4 cy=395.2 r=1.1 /><circle cx=142.8 cy=404.1 r=1.1 /><circle cx=171.9 cy=368.2 r=1.3 /><circle cx=181.6 cy=332.2 r=0.9 /><circle cx=174.8 cy=397.8 r=0.9 /><circle cx=125.5 cy=360.2 r=1.8 /><circle cx=134.2 cy=344.2 r=1.2 /><circle cx=220.5 cy=320.2 r=0.6 /><circle cx=114.2 cy=372.0 r=1.1 /></g>
<g fill="#2f7681"><circle cx=129.1 cy=347.0 r=1.2 /><circle cx=134.2 cy=352.2 r=1.4 /><circle cx=142.8 cy=344.2 r=1.6 /><circle cx=177.3 cy=344.2 r=0.6 /><circle cx=130.5 cy=364.4 r=1.3 /><circle cx=138.7 cy=349.3 r=1.2 /></g>
<g fill="#319c7b"><circle cx=124.9 cy=373.7 r=1.3 /><circle cx=124.9 cy=296.3 r=0.6 /><circle cx=148.8 cy=340.5 r=0.9 /><circle cx=160.7 cy=362.6 r=1.3 /><circle cx=220.5 cy=329.5 r=0.6 /><circle cx=176.1 cy=327.1 r=0.6 /><circle cx=116.9 cy=363.4 r=1.3 /><circle cx=127.3 cy=373.0 r=1.4 /><circle cx=127.3 cy=325.0 r=0.8 /><circle cx=137.6 cy=420.9 r=0.5 /><circle cx=179.1 cy=334.6 r=0.9 /><circle cx=191.4 cy=323.2 r=0.9 /><circle cx=165.7 cy=372.4 r=1.0 /><circle cx=73.7 cy=368.2 r=0.9 /><circle cx=91.0 cy=320.2 r=0.9 /><circle cx=99.6 cy=368.2 r=1.7 /><circle cx=116.9 cy=384.2 r=1.2 /></g>
<g fill="#36a079"><circle cx=129.8 cy=320.2 r=0.6 /><circle cx=194.6 cy=296.3 r=0.9 /><circle cx=136.8 cy=362.6 r=1.9 /><circle cx=160.7 cy=351.6 r=1.4 /><circle cx=196.6 cy=351.6 r=0.8 /><circle cx=196.6 cy=318.4 r=0.9 /><circle cx=220.5 cy=318.4 r=0.5 /><circle cx=220.5 cy=296.3 r=0.9 /><circle cx=142.8 cy=347.6 r=1.7 /><circle cx=220.5 cy=296.3 r=0.9 /><circle cx=127.3 cy=305.8 r=0.5 /><circle cx=158.3 cy=315.4 r=0.6 /><circle cx=142.8 cy=377.2 r=1.8 /></g>
<g fill="#3aa477"><circle cx=160.7 cy=373.7 r=1.3 /><circle cx=172.7 cy=384.8 r=0.8 /><circle cx=196.6 cy=362.6 r=1.1 /><circle cx=208.5 cy=307.3 r=0.9 /><circle cx=142.8 cy=388.7 r=1.8 /><circle cx=153.9 cy=327.1 r=1.3 /><circle cx=96.2 cy=344.2 r=0.6 /><circle cx=181.6 cy=350.2 r=0.9 /></g>
<g fill="#3fa775"><circle cx=89.0 cy=351.6 r=0.7 /><circle cx=112.9 cy=395.8 r=1.0 /><circle cx=147.4 cy=389.3 r=1.0 /><circle cx=156.5 cy=363.9 r=1.4 /><circle cx=183.9 cy=363.9 r=0.7 /><circle cx=99.6 cy=344.2 r=0.6 /><circle cx=134.2 cy=400.1 r=0.8 /><circle cx=138.7 cy=379.5 r=1.2 /><circle cx=146.9 cy=349.3 r=1.1 /></g>
<circle cx=155.8 cy=332.2 r=0.7 fill="#403c75"/>
<circle cx=171.9 cy=314.2 r=0.7 fill="#422f6d"/>
<circle cx=131.7 cy=357.9 r=1.9 fill="#423470"/>
<g fill="#45aa73"><circle cx=124.9 cy=384.8 r=1.5 /><circle cx=109.5 cy=378.5 r=1.0 /><circle cx=147.4 cy=355.5 r=1.3 /><circle cx=183.9 cy=330.1 r=0.9 /><circle cx=142.8 cy=368.2 r=2.1 /></g>
<g fill="#4cae70"><circle cx=168.7 cy=373.0 r=1.0 /><circle cx=125.5 cy=368.2 r=1.9 /></g>
<g fill="#53b26d"><circle cx=165.0 cy=357.9 r=1.4 /><circle cx=148.0 cy=353.8 r=1.2 /><circle cx=191.4 cy=368.2 r=1.1 /></g>
<g fill="#5ab56a"><circle cx=138.2 cy=313.2 r=0.5 /><circle cx=116.9 cy=360.2 r=1.6 /></g>
<g fill="#63b866"><circle cx=158.3 cy=382.6 r=1.4 /><circle cx=158.3 cy=363.4 r=1.3 /></g>
<g fill="#2a8780"><circle cx=155.1 cy=372.0 r=3.4 /><circle cx=155.1 cy=334.1 r=2.5 /><circle cx=163.2 cy=387.1 r=1.2 /><circle cx=163.2 cy=379.5 r=0.9 /><circle cx=187.8 cy=296.3 r=0.7 /><circle cx=96.2 cy=382.6 r=0.7 /><circle cx=119.5 cy=325.0 r=0.7 /><circle cx=127.3 cy=353.8 r=1.8 /><circle cx=135.0 cy=382.6 r=1.4 /><circle cx=135.0 cy=353.8 r=1.5 /><circle cx=142.8 cy=296.3 r=0.9 /><circle cx=150.6 cy=332.2 r=0.7 /><circle cx=158.3 cy=375.4 r=1.5 /><circle cx=158.3 cy=361.0 r=1.6 /><circle cx=173.9 cy=411.3 r=0.7 /><circle cx=173.9 cy=339.4 r=1.0 /><circle cx=205.0 cy=310.6 r=0.9 /><circle cx=109.5 cy=399.0 r=1.0 /><circle cx=109.5 cy=364.8 r=1.1 /><circle cx=116.9 cy=351.1 r=1.1 /><circle cx=139.1 cy=351.1 r=1.2 /><circle cx=139.1 cy=344.2 r=1.2 /><circle cx=146.5 cy=364.8 r=1.9 /><circle cx=146.5 cy=351.1 r=1.2 /><circle cx=146.5 cy=344.2 r=1.0 /><circle cx=161.3 cy=357.9 r=1.1 /><circle cx=161.3 cy=337.4 r=0.6 /><circle cx=168.7 cy=371.6 r=0.9 /><circle cx=168.7 cy=316.8 r=0.6 /><circle cx=183.5 cy=405.9 r=0.9 /><circle cx=190.9 cy=323.7 r=0.9 /><circle cx=100.4 cy=361.6 r=0.9 /><circle cx=100.4 cy=329.0 r=0.9 /><circle cx=100.4 cy=322.4 r=0.7 /><circle cx=107.5 cy=355.1 r=1.0 /><circle cx=128.7 cy=394.3 r=0.9 /><circle cx=135.7 cy=368.2 r=2.0 /><circle cx=135.7 cy=355.1 r=1.4 /><circle cx=135.7 cy=335.5 r=1.0 /><circle cx=142.8 cy=348.6 r=1.8 /></g>
<g fill="#2a8b80"><circle cx=163.2 cy=372.0 r=1.1 /><circle cx=163.2 cy=364.4 r=1.1 /><circle cx=171.4 cy=341.7 r=1.0 /><circle cx=179.6 cy=326.5 r=0.5 /><circle cx=220.5 cy=303.8 r=0.6 /><circle cx=96.2 cy=332.2 r=0.6 /><circle cx=111.7 cy=353.8 r=1.2 /><circle cx=111.7 cy=339.4 r=1.1 /><circle cx=135.0 cy=368.2 r=1.9 /><circle cx=135.0 cy=361.0 r=1.9 /><circle cx=135.0 cy=346.6 r=1.3 /><circle cx=142.8 cy=375.4 r=1.9 /><circle cx=142.8 cy=368.2 r=1.9 /><circle cx=142.8 cy=346.6 r=1.9 /><circle cx=150.6 cy=353.8 r=1.3 /><circle cx=166.1 cy=389.8 r=1.1 /><circle cx=166.1 cy=368.2 r=1.6 /><circle cx=173.9 cy=346.6 r=0.7 /><circle cx=181.6 cy=289.1 r=2.3 /><circle cx=197.2 cy=339.4 r=0.9 /><circle cx=87.3 cy=357.9 r=0.9 /><circle cx=102.1 cy=357.9 r=1.2 /><circle cx=109.5 cy=371.6 r=1.0 /><circle cx=116.9 cy=337.4 r=0.7 /><circle cx=116.9 cy=296.3 r=0.7 /><circle cx=124.3 cy=351.1 r=1.7 /><circle cx=124.3 cy=344.2 r=1.0 /><circle cx=131.7 cy=378.5 r=1.8 /><circle cx=139.1 cy=399.0 r=0.8 /><circle cx=139.1 cy=364.8 r=1.9 /><circle cx=146.5 cy=371.6 r=1.9 /><circle cx=146.5 cy=337.4 r=0.8 /><circle cx=161.3 cy=385.3 r=1.2 /><circle cx=161.3 cy=344.2 r=0.7 /><circle cx=190.9 cy=330.5 r=0.5 /><circle cx=100.4 cy=374.7 r=0.9 /><circle cx=100.4 cy=355.1 r=0.9 /><circle cx=107.5 cy=342.0 r=0.8 /><circle cx=121.6 cy=374.7 r=1.4 /><circle cx=121.6 cy=342.0 r=1.1 /><circle cx=128.7 cy=361.6 r=1.7 /><circle cx=142.8 cy=361.6 r=2.2 /><circle cx=142.8 cy=302.8 r=0.9 /></g>
<g fill="#2a8e7f"><circle cx=155.1 cy=326.5 r=0.5 /><circle cx=163.2 cy=349.3 r=1.3 /><circle cx=179.6 cy=303.8 r=0.5 /><circle cx=212.3 cy=303.8 r=0.9 /><circle cx=220.5 cy=349.3 r=0.5 /><circle cx=103.9 cy=361.0 r=1.0 /><circle cx=111.7 cy=368.2 r=2.0 /><circle cx=111.7 cy=361.0 r=1.3 /><circle cx=111.7 cy=346.6 r=0.9 /><circle cx=119.5 cy=389.8 r=1.3 /><circle cx=119.5 cy=382.6 r=1.0 /><circle cx=119.5 cy=375.4 r=1.3 /><circle cx=119.5 cy=368.2 r=1.8 /><circle cx=142.8 cy=389.8 r=1.5 /><circle cx=142.8 cy=382.6 r=1.8 /><circle cx=150.6 cy=389.8 r=1.2 /><circle cx=150.6 cy=382.6 r=1.4 /><circle cx=150.6 cy=361.0 r=1.8 /><circle cx=150.6 cy=289.1 r=0.7 /><circle cx=166.1 cy=346.6 r=1.3 /><circle cx=166.1 cy=325.0 r=0.8 /><circle cx=173.9 cy=368.2 r=1.3 /><circle cx=181.6 cy=332.2 r=0.9 /><circle cx=124.3 cy=371.6 r=1.3 /><circle cx=153.9 cy=364.8 r=1.3 /><circle cx=168.7 cy=323.7 r=0.7 /><circle cx=198.3 cy=378.5 r=0.7 /><circle cx=114.5 cy=361.6 r=1.5 /><circle cx=121.6 cy=355.1 r=1.3 /><circle cx=128.7 cy=387.8 r=1.3 /><circle cx=142.8 cy=322.4 r=1.0 /></g>
<g fill="#2b8481"><circle cx=119.5 cy=361.0 r=1.3 /><circle cx=119.5 cy=346.6 r=1.5 /><circle cx=127.3 cy=396.9 r=0.9 /><circle cx=127.3 cy=346.6 r=1.3 /><circle cx=142.8 cy=411.3 r=1.8 /><circle cx=142.8 cy=353.8 r=2.2 /><circle cx=150.6 cy=368.2 r=1.8 /><circle cx=158.3 cy=382.6 r=1.4 /><circle cx=158.3 cy=368.2 r=2.0 /><circle cx=158.3 cy=346.6 r=1.0 /><circle cx=166.1 cy=418.5 r=0.5 /><circle cx=166.1 cy=382.6 r=0.8 /><circle cx=166.1 cy=361.0 r=1.4 /><circle cx=189.4 cy=325.0 r=0.9 /><circle cx=109.5 cy=357.9 r=1.4 /><circle cx=109.5 cy=310.0 r=0.6 /><circle cx=131.7 cy=364.8 r=1.6 /><circle cx=131.7 cy=357.9 r=1.9 /><circle cx=131.7 cy=330.5 r=0.9 /><circle cx=153.9 cy=344.2 r=1.1 /><circle cx=161.3 cy=378.5 r=1.1 /><circle cx=176.1 cy=364.8 r=1.0 /><circle cx=183.5 cy=357.9 r=0.6 /><circle cx=190.9 cy=316.8 r=0.5 /><circle cx=205.7 cy=323.7 r=0.5 /><circle cx=86.3 cy=309.3 r=0.6 /><circle cx=93.4 cy=361.6 r=0.8 /><circle cx=114.5 cy=348.6 r=1.2 /><circle cx=121.6 cy=381.3 r=1.4 /><circle cx=121.6 cy=368.2 r=1.8 /><circle cx=121.6 cy=348.6 r=1.6 /><circle cx=135.7 cy=387.8 r=1.2 /><circle cx=135.7 cy=361.6 r=1.9 /><circle cx=135.7 cy=348.6 r=1.3 /><circle cx=135.7 cy=322.4 r=0.6 /><circle cx=142.8 cy=342.0 r=1.7 /><circle cx=142.8 cy=335.5 r=1.3 /><circle cx=149.9 cy=381.3 r=1.5 /></g>
<g fill="#2b927e"><circle cx=171.4 cy=356.8 r=0.8 /><circle cx=187.8 cy=326.5 r=0.9 /><circle cx=96.2 cy=339.4 r=0.6 /><circle cx=103.9 cy=303.5 r=0.5 /><circle cx=111.7 cy=375.4 r=1.3 /><circle cx=127.3 cy=325.0 r=0.7 /><circle cx=142.8 cy=396.9 r=1.3 /><circle cx=189.4 cy=332.2 r=0.6 /><circle cx=116.9 cy=371.6 r=1.2 /><circle cx=116.9 cy=344.2 r=1.3 /><circle cx=124.3 cy=385.3 r=1.5 /><circle cx=131.7 cy=371.6 r=1.4 /><circle cx=153.9 cy=378.5 r=1.6 /><circle cx=153.9 cy=351.1 r=1.1 /><circle cx=168.7 cy=351.1 r=0.7 /><circle cx=235.3 cy=296.3 r=0.6 /><circle cx=114.5 cy=381.3 r=1.4 /><circle cx=114.5 cy=368.2 r=2.0 /><circle cx=128.7 cy=355.1 r=1.9 /></g>
<g fill="#2c8081"><circle cx=171.4 cy=387.1 r=0.6 /><circle cx=171.4 cy=364.4 r=1.0 /><circle cx=119.5 cy=353.8 r=1.2 /><circle cx=119.5 cy=339.4 r=0.8 /><circle cx=142.8 cy=361.0 r=1.9 /><circle cx=166.1 cy=375.4 r=1.1 /><circle cx=116.9 cy=357.9 r=1.2 /><circle cx=124.3 cy=378.5 r=1.2 /><circle cx=124.3 cy=357.9 r=1.2 /><circle cx=139.1 cy=385.3 r=1.1 /><circle cx=139.1 cy=371.6 r=1.9 /><circle cx=146.5 cy=392.2 r=0.9 /><circle cx=153.9 cy=426.4 r=0.6 /><circle cx=153.9 cy=371.6 r=1.3 /><circle cx=161.3 cy=371.6 r=1.2 /><circle cx=161.3 cy=316.8 r=0.6 /><circle cx=176.1 cy=378.5 r=0.7 /><circle cx=183.5 cy=337.4 r=0.6 /><circle cx=213.1 cy=296.3 r=0.5 /><circle cx=107.5 cy=361.6 r=1.3 /><circle cx=107.5 cy=315.9 r=0.6 /><circle cx=121.6 cy=335.5 r=0.8 /><circle cx=121.6 cy=322.4 r=0.6 /><circle cx=128.7 cy=368.2 r=1.9 /><circle cx=128.7 cy=335.5 r=1.0 /><circle cx=135.7 cy=381.3 r=1.4 /><circle cx=135.7 cy=342.0 r=1.1 /><circle cx=142.8 cy=387.8 r=1.9 /><circle cx=149.9 cy=387.8 r=1.1 /></g>
<g fill="#2c967d"><circle cx=111.7 cy=389.8 r=0.9 /><circle cx=127.3 cy=368.2 r=2.1 /><circle cx=142.8 cy=332.2 r=1.2 /><circle cx=150.6 cy=404.1 r=0.7 /><circle cx=158.3 cy=353.8 r=1.5 /><circle cx=166.1 cy=353.8 r=1.0 /><circle cx=87.3 cy=378.5 r=0.7 /><circle cx=102.1 cy=385.3 r=0.8 /><circle cx=153.9 cy=357.9 r=1.7 /><circle cx=100.4 cy=381.3 r=0.8 /><circle cx=142.8 cy=413.9 r=0.9 /></g>
<g fill="#2d7a81"><circle cx=127.3 cy=339.4 r=1.0 /><circle cx=135.0 cy=375.4 r=1.9 /><circle cx=142.8 cy=325.0 r=1.0 /><circle cx=116.9 cy=364.8 r=2.4 /><circle cx=131.7 cy=351.1 r=1.2 /><circle cx=139.1 cy=323.7 r=0.6 /><circle cx=146.5 cy=378.5 r=1.2 /><circle cx=168.7 cy=344.2 r=1.1 /><circle cx=114.5 cy=374.7 r=1.2 /><circle cx=114.5 cy=355.1 r=1.3 /><circle cx=114.5 cy=315.9 r=0.7 /><circle cx=135.7 cy=374.7 r=1.9 /><circle cx=142.8 cy=329.0 r=1.1 /></g>
<g fill="#2d7d81"><circle cx=196.0 cy=326.5 r=0.6 /><circle cx=96.2 cy=375.4 r=0.8 /><circle cx=127.3 cy=361.0 r=1.8 /><circle cx=150.6 cy=346.6 r=1.1 /><circle cx=158.3 cy=317.8 r=0.6 /><circle cx=181.6 cy=361.0 r=0.7 /><circle cx=109.5 cy=351.1 r=0.9 /><circle cx=124.3 cy=364.8 r=1.3 /><circle cx=131.7 cy=337.4 r=1.1 /><circle cx=131.7 cy=323.7 r=0.6 /><circle cx=146.5 cy=357.9 r=1.4 /><circle cx=146.5 cy=310.0 r=0.6 /><circle cx=153.9 cy=392.2 r=0.8 /><circle cx=198.3 cy=344.2 r=0.5 /><circle cx=198.3 cy=316.8 r=0.9 /><circle cx=100.4 cy=348.6 r=1.0 /><circle cx=121.6 cy=387.8 r=1.4 /><circle cx=128.7 cy=342.0 r=1.1 /><circle cx=142.8 cy=374.7 r=2.3 /><circle cx=142.8 cy=296.3 r=0.9 /></g>
<g fill="#2e997c"><circle cx=196.0 cy=319.0 r=0.9 /><circle cx=228.7 cy=387.1 r=0.5 /><circle cx=103.9 cy=353.8 r=0.8 /><circle cx=158.3 cy=404.1 r=0.9 /><circle cx=79.9 cy=364.8 r=0.7 /><circle cx=131.7 cy=385.3 r=1.1 /><circle cx=161.3 cy=364.8 r=1.2 /><circle cx=161.3 cy=351.1 r=1.4 /><circle cx=142.8 cy=394.3 r=1.3 /></g>
<g fill="#2f7281"><circle cx=139.1 cy=357.9 r=1.3 /><circle cx=183.5 cy=330.5 r=0.9 /><circle cx=128.7 cy=374.7 r=1.6 /></g>
<g fill="#2f7681"><circle cx=135.0 cy=339.4 r=1.0 /><circle cx=142.8 cy=339.4 r=1.4 /><circle cx=181.6 cy=382.6 r=0.6 /><circle cx=139.1 cy=378.5 r=1.3 /><circle cx=176.1 cy=337.4 r=1.0 /><circle cx=128.7 cy=348.6 r=1.4 /><circle cx=128.7 cy=329.0 r=0.7 /><circle cx=142.8 cy=381.3 r=1.8 /><circle cx=142.8 cy=368.2 r=1.9 /></g>
<g fill="#319c7b"><circle cx=127.3 cy=382.6 r=1.6 /><circle cx=127.3 cy=375.4 r=1.5 /><circle cx=150.6 cy=375.4 r=1.7 /><circle cx=100.4 cy=368.2 r=1.3 /><circle cx=121.6 cy=394.3 r=0.8 /></g>
<circle cx=79.9 cy=357.9 r=0.5 fill="#36a079"/>
<circle cx=212.3 cy=364.4 r=0.7 fill="#3aa477"/>
<circle cx=93.4 cy=355.1 r=0.8 fill="#3fa775"/>
<g fill="#422f6d"><circle cx=135.0 cy=389.8 r=1.2 /><circle cx=142.8 cy=355.1 r=1.9 /></g>
<g fill="#4cae70"><circle cx=94.7 cy=323.7 r=0.9 /><circle cx=121.6 cy=361.6 r=1.3 /><circle cx=121.6 cy=329.0 r=0.7 /><circle cx=128.7 cy=381.3 r=1.7 /></g>
<g fill="#53b26d"><circle cx=155.1 cy=356.8 r=1.7 /><circle cx=96.2 cy=361.0 r=0.8 /><circle cx=139.1 cy=337.4 r=0.9 /><circle cx=93.4 cy=329.0 r=0.5 /><circle cx=135.7 cy=329.0 r=0.8 /></g>
<circle cx=107.5 cy=368.2 r=1.5 fill="#5ab56a"/>
<g fill="#63b866"><circle cx=114.5 cy=342.0 r=1.2 /><circle cx=149.9 cy=374.7 r=1.8 /></g>
<circle cx=149.9 cy=368.2 r=3.5 fill="#2a8e7f"/>
<circle cx=156.9 cy=374.7 r=1.4 fill="#2a8780"/>
<circle cx=149.9 cy=355.1 r=1.4 fill="#2a8e7f"/>
<circle cx=156.9 cy=394.3 r=0.8 fill="#2c8081"/>
<g fill="#2d7d81"><circle cx=149.9 cy=342.0 r=1.0 /><circle cx=156.9 cy=381.3 r=1.5 /></g>
<circle cx=149.9 cy=361.6 r=1.8 fill="#2e997c"/>
<circle cx=149.9 cy=348.6 r=1.1 fill="#403c75"/>
<g fill="#2a8780"><circle cx=156.9 cy=368.2 r=3.7 /><circle cx=156.9 cy=355.1 r=1.6 /><circle cx=164.0 cy=374.7 r=1.0 /><circle cx=171.1 cy=348.6 r=0.8 /><circle cx=178.1 cy=329.0 r=0.7 /><circle cx=192.2 cy=361.6 r=0.7 /><circle cx=192.2 cy=322.4 r=0.9 /><circle cx=220.5 cy=309.3 r=0.6 /><circle cx=119.2 cy=371.3 r=1.2 /><circle cx=119.2 cy=352.5 r=1.2 /><circle cx=125.9 cy=371.3 r=1.4 /><circle cx=125.9 cy=365.1 r=1.3 /><circle cx=125.9 cy=333.8 r=0.9 /><circle cx=132.7 cy=365.1 r=1.4 /><circle cx=132.7 cy=358.8 r=1.9 /><circle cx=132.7 cy=340.0 r=1.1 /><circle cx=139.4 cy=396.3 r=0.9 /><circle cx=139.4 cy=371.3 r=1.9 /><circle cx=139.4 cy=358.8 r=1.5 /><circle cx=146.2 cy=377.6 r=1.2 /><circle cx=146.2 cy=352.5 r=1.3 /><circle cx=159.7 cy=383.8 r=1.3 /><circle cx=159.7 cy=358.8 r=1.1 /><circle cx=159.7 cy=333.8 r=0.6 /><circle cx=97.5 cy=314.2 r=0.7 /><circle cx=103.9 cy=386.2 r=0.9 /><circle cx=103.9 cy=314.2 r=0.9 /><circle cx=110.4 cy=356.2 r=1.2 /><circle cx=110.4 cy=302.3 r=0.7 /><circle cx=116.9 cy=386.2 r=1.0 /><circle cx=142.8 cy=398.1 r=1.2 /><circle cx=142.8 cy=350.2 r=1.8 /><circle cx=149.3 cy=380.2 r=1.4 /><circle cx=175.2 cy=356.2 r=0.7 /><circle cx=175.2 cy=344.2 r=0.6 /><circle cx=181.6 cy=368.2 r=1.1 /><circle cx=207.5 cy=308.2 r=0.9 /><circle cx=83.7 cy=371.1 r=0.6 /><circle cx=90.0 cy=313.5 r=0.5 /><circle cx=102.4 cy=371.1 r=0.9 /><circle cx=114.8 cy=382.6 r=0.9 /><circle cx=121.0 cy=382.6 r=1.0 /><circle cx=121.0 cy=371.1 r=1.2 /><circle cx=121.0 cy=342.3 r=0.9 /><circle cx=127.3 cy=382.6 r=1.6 /><circle cx=127.3 cy=330.8 r=0.7 /><circle cx=139.7 cy=382.6 r=1.2 /><circle cx=139.7 cy=348.0 r=1.2 /><circle cx=145.9 cy=365.3 r=1.9 /><circle cx=152.1 cy=365.3 r=1.4 /><circle cx=152.1 cy=359.5 r=1.8 /><circle cx=158.3 cy=371.1 r=1.5 /><circle cx=220.5 cy=330.8 r=0.5 /><circle cx=89.0 cy=340.5 r=0.6 /><circle cx=106.9 cy=357.1 r=1.0 /><circle cx=112.9 cy=395.8 r=1.0 /><circle cx=112.9 cy=357.1 r=1.1 /><circle cx=118.9 cy=368.2 r=1.8 /><circle cx=118.9 cy=340.5 r=0.9 /><circle cx=118.9 cy=329.5 r=0.6 /><circle cx=130.8 cy=379.2 r=1.8 /><circle cx=130.8 cy=362.6 r=1.6 /><circle cx=136.8 cy=362.6 r=1.9 /><circle cx=142.8 cy=379.2 r=1.8 /><circle cx=142.8 cy=357.1 r=2.0 /><circle cx=148.8 cy=351.6 r=1.2 /><circle cx=99.6 cy=370.8 r=0.8 /><circle cx=105.4 cy=376.2 r=0.8 /><circle cx=105.4 cy=354.9 r=1.0 /><circle cx=105.4 cy=322.9 r=0.5 /><circle cx=111.1 cy=376.2 r=1.1 /><circle cx=111.1 cy=370.8 r=1.0 /><circle cx=111.1 cy=365.5 r=1.1 /><circle cx=116.9 cy=392.2 r=1.2 /><circle cx=116.9 cy=386.8 r=0.9 /><circle cx=134.2 cy=376.2 r=1.8 /><circle cx=139.9 cy=392.2 r=0.9 /><circle cx=151.4 cy=360.2 r=1.8 /><circle cx=191.7 cy=386.8 r=0.6 /><circle cx=87.3 cy=332.2 r=0.6 /><circle cx=98.4 cy=321.9 r=0.7 /><circle cx=103.9 cy=342.5 r=0.6 /><circle cx=120.6 cy=383.6 r=1.2 /></g>
<g fill="#2a8b80"><circle cx=185.2 cy=368.2 r=1.0 /><circle cx=119.2 cy=383.8 r=1.1 /><circle cx=119.2 cy=365.1 r=1.3 /><circle cx=125.9 cy=358.8 r=1.3 /><circle cx=166.4 cy=302.5 r=0.6 /><circle cx=91.0 cy=320.2 r=0.9 /><circle cx=129.8 cy=392.2 r=1.1 /><circle cx=129.8 cy=380.2 r=1.7 /><circle cx=129.8 cy=344.2 r=1.2 /><circle cx=136.3 cy=392.2 r=1.1 /><circle cx=136.3 cy=356.2 r=1.3 /><circle cx=142.8 cy=392.2 r=1.4 /><circle cx=142.8 cy=338.2 r=1.5 /><circle cx=149.3 cy=344.2 r=1.0 /><circle cx=162.2 cy=386.2 r=1.2 /><circle cx=162.2 cy=350.2 r=1.4 /><circle cx=181.6 cy=362.2 r=0.8 /><circle cx=96.2 cy=319.3 r=0.5 /><circle cx=108.6 cy=365.3 r=1.0 /><circle cx=114.8 cy=342.3 r=1.2 /><circle cx=127.3 cy=365.3 r=1.3 /><circle cx=127.3 cy=348.0 r=1.2 /><circle cx=139.7 cy=342.3 r=1.0 /><circle cx=152.1 cy=388.3 r=0.9 /><circle cx=164.6 cy=365.3 r=1.1 /><circle cx=95.0 cy=346.1 r=0.9 /><circle cx=118.9 cy=384.8 r=1.1 /><circle cx=124.9 cy=412.4 r=0.7 /><circle cx=124.9 cy=362.6 r=1.4 /><circle cx=130.8 cy=351.6 r=1.5 /><circle cx=130.8 cy=346.1 r=1.2 /><circle cx=142.8 cy=406.9 r=1.2 /><circle cx=154.8 cy=357.1 r=1.7 /><circle cx=160.7 cy=379.2 r=1.0 /><circle cx=160.7 cy=362.6 r=1.3 /><circle cx=105.4 cy=360.2 r=0.9 /><circle cx=134.2 cy=381.5 r=1.2 /><circle cx=134.2 cy=370.8 r=1.4 /><circle cx=81.8 cy=393.9 r=0.5 /><circle cx=87.3 cy=347.6 r=0.8 /><circle cx=92.8 cy=347.6 r=0.6 /><circle cx=115.0 cy=393.9 r=1.1 /><circle cx=115.0 cy=373.3 r=1.1 /></g>
<g fill="#2a8e7f"><circle cx=164.0 cy=368.2 r=1.9 /><circle cx=220.5 cy=302.8 r=0.5 /><circle cx=98.9 cy=408.8 r=0.9 /><circle cx=112.4 cy=383.8 r=0.9 /><circle cx=125.9 cy=346.3 r=1.0 /><circle cx=132.7 cy=402.6 r=0.6 /><circle cx=146.2 cy=383.8 r=1.1 /><circle cx=146.2 cy=371.3 r=1.8 /><circle cx=146.2 cy=346.3 r=1.1 /><circle cx=146.2 cy=340.0 r=0.9 /><circle cx=159.7 cy=365.1 r=1.2 /><circle cx=180.0 cy=358.8 r=0.7 /><circle cx=97.5 cy=368.2 r=1.4 /><circle cx=97.5 cy=326.2 r=0.9 /><circle cx=110.4 cy=386.2 r=0.7 /><circle cx=116.9 cy=350.2 r=1.1 /><circle cx=142.8 cy=386.2 r=1.6 /><circle cx=142.8 cy=356.2 r=2.1 /><circle cx=142.8 cy=332.2 r=1.2 /><circle cx=162.2 cy=434.1 r=0.5 /><circle cx=162.2 cy=344.2 r=0.9 /><circle cx=102.4 cy=365.3 r=0.9 /><circle cx=121.0 cy=353.8 r=1.3 /><circle cx=127.3 cy=371.1 r=1.4 /><circle cx=139.7 cy=371.1 r=1.9 /><circle cx=145.9 cy=376.8 r=1.3 /><circle cx=152.1 cy=376.8 r=1.7 /><circle cx=106.9 cy=362.6 r=1.1 /><circle cx=148.8 cy=395.8 r=0.8 /><circle cx=160.7 cy=351.6 r=1.4 /><circle cx=172.7 cy=340.5 r=1.0 /><circle cx=220.5 cy=296.3 r=0.9 /><circle cx=122.7 cy=370.8 r=1.2 /><circle cx=134.2 cy=386.8 r=1.1 /><circle cx=145.7 cy=344.2 r=1.0 /><circle cx=76.2 cy=342.5 r=0.5 /><circle cx=103.9 cy=363.0 r=1.0 /><circle cx=109.5 cy=373.3 r=1.2 /></g>
<g fill="#2b8481"><circle cx=156.9 cy=361.6 r=1.5 /><circle cx=156.9 cy=329.0 r=0.8 /><circle cx=164.0 cy=361.6 r=1.1 /><circle cx=171.1 cy=381.3 r=0.9 /><circle cx=171.1 cy=342.0 r=1.0 /><circle cx=178.1 cy=368.2 r=1.2 /><circle cx=119.2 cy=358.8 r=1.3 /><circle cx=125.9 cy=352.5 r=2.0 /><circle cx=132.7 cy=377.6 r=1.8 /><circle cx=132.7 cy=371.3 r=1.6 /><circle cx=132.7 cy=333.8 r=0.8 /><circle cx=139.4 cy=377.6 r=1.3 /><circle cx=139.4 cy=352.5 r=1.2 /><circle cx=152.9 cy=377.6 r=1.6 /><circle cx=152.9 cy=371.3 r=1.4 /><circle cx=152.9 cy=340.0 r=1.0 /><circle cx=159.7 cy=352.5 r=1.5 /><circle cx=159.7 cy=346.3 r=1.0 /><circle cx=166.4 cy=352.5 r=0.8 /><circle cx=180.0 cy=346.3 r=0.6 /><circle cx=186.7 cy=421.3 r=0.5 /><circle cx=91.0 cy=350.2 r=0.6 /><circle cx=103.9 cy=344.2 r=0.7 /><circle cx=110.4 cy=374.2 r=1.3 /><circle cx=116.9 cy=326.2 r=0.6 /><circle cx=123.4 cy=392.2 r=1.1 /><circle cx=123.4 cy=350.2 r=1.6 /><circle cx=129.8 cy=386.2 r=1.2 /><circle cx=129.8 cy=374.2 r=1.5 /><circle cx=129.8 cy=368.2 r=2.0 /><circle cx=129.8 cy=338.2 r=1.2 /><circle cx=142.8 cy=362.2 r=1.9 /><circle cx=142.8 cy=344.2 r=1.7 /><circle cx=142.8 cy=308.2 r=0.9 /><circle cx=149.3 cy=362.2 r=1.8 /><circle cx=155.8 cy=344.2 r=1.0 /><circle cx=168.7 cy=380.2 r=0.9 /><circle cx=168.7 cy=362.2 r=1.1 /><circle cx=168.7 cy=344.2 r=1.1 /><circle cx=65.1 cy=382.6 r=2.4 /><circle cx=108.6 cy=353.8 r=0.9 /><circle cx=114.8 cy=296.3 r=0.6 /><circle cx=121.0 cy=365.3 r=1.4 /><circle cx=121.0 cy=296.3 r=0.6 /><circle cx=127.3 cy=359.5 r=1.3 /><circle cx=133.5 cy=388.3 r=1.1 /><circle cx=133.5 cy=371.1 r=1.4 /><circle cx=133.5 cy=342.3 r=1.1 /><circle cx=139.7 cy=365.3 r=1.9 /><circle cx=145.9 cy=388.3 r=1.1 /><circle cx=158.3 cy=365.3 r=1.2 /><circle cx=158.3 cy=348.0 r=0.9 /><circle cx=164.6 cy=371.1 r=1.1 /><circle cx=164.6 cy=359.5 r=1.0 /><circle cx=164.6 cy=353.8 r=1.0 /><circle cx=177.0 cy=365.3 r=0.8 /><circle cx=177.0 cy=336.5 r=0.9 /><circle cx=195.6 cy=319.3 r=0.9 /><circle cx=77.1 cy=384.8 r=0.6 /><circle cx=95.0 cy=368.2 r=1.2 /><circle cx=112.9 cy=368.2 r=1.7 /><circle cx=118.9 cy=406.9 r=0.7 /><circle cx=118.9 cy=373.7 r=1.5 /><circle cx=124.9 cy=406.9 r=0.6 /><circle cx=124.9 cy=384.8 r=1.5 /><circle cx=130.8 cy=395.8 r=1.0 /><circle cx=130.8 cy=384.8 r=1.3 /><circle cx=130.8 cy=357.1 r=1.9 /><circle cx=136.8 cy=390.3 r=1.2 /><circle cx=136.8 cy=357.1 r=1.4 /><circle cx=136.8 cy=340.5 r=1.0 /><circle cx=142.8 cy=373.7 r=1.9 /><circle cx=142.8 cy=362.6 r=1.9 /><circle cx=154.8 cy=351.6 r=1.6 /><circle cx=160.7 cy=395.8 r=0.8 /><circle cx=166.7 cy=373.7 r=1.1 /><circle cx=166.7 cy=346.1 r=1.2 /><circle cx=88.1 cy=365.5 r=0.6 /><circle cx=93.9 cy=360.2 r=0.8 /><circle cx=99.6 cy=376.2 r=1.2 /><circle cx=99.6 cy=360.2 r=0.8 /><circle cx=105.4 cy=381.5 r=0.9 /><circle cx=111.1 cy=381.5 r=0.9 /><circle cx=111.1 cy=328.2 r=0.6 /><circle cx=116.9 cy=370.8 r=1.1 /><circle cx=122.7 cy=376.2 r=1.1 /><circle cx=122.7 cy=360.2 r=1.3 /><circle cx=122.7 cy=349.5 r=1.6 /><circle cx=122.7 cy=344.2 r=0.9 /><circle cx=128.4 cy=370.8 r=1.3 /><circle cx=139.9 cy=397.5 r=0.7 /><circle cx=145.7 cy=370.8 r=1.9 /><circle cx=151.4 cy=381.5 r=1.1 /><circle cx=151.4 cy=354.9 r=1.1 /><circle cx=151.4 cy=344.2 r=1.0 /><circle cx=157.2 cy=360.2 r=1.1 /><circle cx=162.9 cy=349.5 r=1.3 /><circle cx=174.5 cy=386.8 r=0.5 /><circle cx=98.4 cy=368.2 r=1.3 /><circle cx=98.4 cy=363.0 r=1.1 /><circle cx=103.9 cy=378.5 r=1.1 /><circle cx=109.5 cy=357.9 r=1.2 /><circle cx=109.5 cy=347.6 r=0.9 /><circle cx=115.0 cy=409.3 r=0.6 /></g>
<g fill="#2b927e"><circle cx=71.9 cy=296.3 r=0.5 /><circle cx=85.4 cy=371.3 r=0.6 /><circle cx=92.1 cy=383.8 r=0.6 /><circle cx=92.1 cy=365.1 r=0.7 /><circle cx=112.4 cy=365.1 r=1.1 /><circle cx=125.9 cy=390.1 r=0.9 /><circle cx=132.7 cy=390.1 r=1.1 /><circle cx=234.0 cy=327.5 r=0.5 /><circle cx=103.9 cy=368.2 r=1.5 /><circle cx=103.9 cy=326.2 r=0.6 /><circle cx=110.4 cy=362.2 r=1.4 /><circle cx=116.9 cy=380.2 r=1.3 /><circle cx=116.9 cy=374.2 r=1.3 /><circle cx=149.3 cy=386.2 r=1.0 /><circle cx=108.6 cy=371.1 r=1.0 /><circle cx=139.7 cy=388.3 r=1.0 /><circle cx=83.0 cy=307.3 r=0.6 /><circle cx=106.9 cy=373.7 r=1.1 /></g>
<g fill="#2c8081"><circle cx=164.0 cy=335.5 r=0.7 /><circle cx=171.1 cy=329.0 r=0.7 /><circle cx=178.1 cy=387.8 r=0.6 /><circle cx=178.1 cy=355.1 r=0.7 /><circle cx=185.2 cy=329.0 r=0.9 /><circle cx=185.2 cy=315.9 r=0.6 /><circle cx=192.2 cy=329.0 r=0.5 /><circle cx=105.6 cy=365.1 r=1.0 /><circle cx=112.4 cy=377.6 r=1.1 /><circle cx=119.2 cy=390.1 r=1.3 /><circle cx=119.2 cy=327.5 r=0.5 /><circle cx=139.4 cy=383.8 r=1.2 /><circle cx=139.4 cy=333.8 r=0.8 /><circle cx=146.2 cy=390.1 r=1.2 /><circle cx=152.9 cy=352.5 r=1.3 /><circle cx=159.7 cy=377.6 r=1.0 /><circle cx=180.0 cy=327.5 r=0.6 /><circle cx=97.5 cy=362.2 r=0.8 /><circle cx=110.4 cy=350.2 r=0.9 /><circle cx=123.4 cy=374.2 r=1.4 /><circle cx=123.4 cy=368.2 r=1.9 /><circle cx=123.4 cy=344.2 r=1.0 /><circle cx=129.8 cy=404.1 r=0.8 /><circle cx=142.8 cy=326.2 r=1.1 /><circle cx=149.3 cy=356.2 r=1.3 /><circle cx=155.8 cy=374.2 r=1.5 /><circle cx=155.8 cy=362.2 r=1.7 /><circle cx=162.2 cy=380.2 r=1.0 /><circle cx=162.2 cy=356.2 r=1.2 /><circle cx=162.2 cy=332.2 r=0.8 /><circle cx=168.7 cy=368.2 r=1.8 /><circle cx=181.6 cy=398.1 r=1.1 /><circle cx=102.4 cy=353.8 r=0.7 /><circle cx=114.8 cy=371.1 r=1.3 /><circle cx=114.8 cy=353.8 r=1.0 /><circle cx=121.0 cy=376.8 r=1.2 /><circle cx=133.5 cy=394.1 r=1.1 /><circle cx=133.5 cy=365.3 r=1.4 /><circle cx=133.5 cy=353.8 r=1.2 /><circle cx=139.7 cy=394.1 r=1.0 /><circle cx=139.7 cy=376.8 r=1.4 /><circle cx=145.9 cy=371.1 r=1.9 /><circle cx=152.1 cy=399.8 r=0.6 /><circle cx=152.1 cy=371.1 r=1.4 /><circle cx=152.1 cy=353.8 r=1.1 /><circle cx=158.3 cy=376.8 r=1.1 /><circle cx=158.3 cy=353.8 r=1.5 /><circle cx=158.3 cy=330.8 r=0.7 /><circle cx=170.8 cy=342.3 r=1.0 /><circle cx=189.4 cy=319.3 r=0.5 /><circle cx=89.0 cy=301.8 r=0.6 /><circle cx=106.9 cy=351.6 r=1.2 /><circle cx=112.9 cy=390.3 r=0.9 /><circle cx=124.9 cy=346.1 r=1.2 /><circle cx=142.8 cy=368.2 r=1.9 /><circle cx=142.8 cy=318.4 r=1.0 /><circle cx=148.8 cy=368.2 r=2.0 /><circle cx=160.7 cy=384.8 r=1.3 /><circle cx=160.7 cy=368.2 r=1.7 /><circle cx=172.7 cy=379.2 r=0.7 /><circle cx=172.7 cy=368.2 r=1.3 /><circle cx=178.7 cy=290.7 r=0.5 /><circle cx=88.1 cy=360.2 r=0.6 /><circle cx=99.6 cy=328.2 r=0.9 /><circle cx=116.9 cy=338.9 r=0.7 /><circle cx=122.7 cy=386.8 r=1.4 /><circle cx=128.4 cy=386.8 r=1.0 /><circle cx=128.4 cy=349.5 r=1.2 /><circle cx=134.2 cy=397.5 r=0.8 /><circle cx=134.2 cy=365.5 r=1.4 /><circle cx=134.2 cy=354.9 r=1.4 /><circle cx=139.9 cy=381.5 r=1.3 /><circle cx=145.7 cy=349.5 r=1.1 /><circle cx=157.2 cy=381.5 r=1.4 /><circle cx=168.7 cy=381.5 r=0.7 /><circle cx=168.7 cy=365.5 r=1.0 /><circle cx=70.6 cy=342.5 r=0.6 /><circle cx=92.8 cy=373.3 r=1.2 /><circle cx=103.9 cy=393.9 r=0.6 /><circle cx=109.5 cy=368.2 r=1.6 /><circle cx=115.0 cy=378.5 r=1.3 /><circle cx=115.0 cy=352.8 r=1.2 /><circle cx=120.6 cy=373.3 r=1.5 /><circle cx=120.6 cy=368.2 r=1.8 /><circle cx=120.6 cy=357.9 r=1.5 /></g>
<g fill="#2c967d"><circle cx=112.4 cy=390.1 r=0.6 /><circle cx=146.2 cy=358.8 r=1.3 /><circle cx=103.9 cy=374.2 r=1.0 /><circle cx=114.8 cy=388.3 r=0.8 /><circle cx=76.6 cy=365.5 r=0.6 /><circle cx=122.7 cy=392.2 r=1.3 /><circle cx=128.4 cy=365.5 r=1.3 /></g>
<g fill="#2d7a81"><circle cx=192.2 cy=309.3 r=0.7 /><circle cx=105.6 cy=358.8 r=0.9 /><circle cx=112.4 cy=358.8 r=1.3 /><circle cx=125.9 cy=377.6 r=1.2 /><circle cx=132.7 cy=352.5 r=1.3 /><circle cx=139.4 cy=340.0 r=1.1 /><circle cx=152.9 cy=358.8 r=1.8 /><circle cx=166.4 cy=358.8 r=1.0 /><circle cx=173.2 cy=371.3 r=0.8 /><circle cx=110.4 cy=380.2 r=0.9 /><circle cx=110.4 cy=368.2 r=1.7 /><circle cx=129.8 cy=362.2 r=1.6 /><circle cx=136.3 cy=374.2 r=1.9 /><circle cx=136.3 cy=344.2 r=1.1 /><circle cx=149.3 cy=368.2 r=1.8 /><circle cx=175.2 cy=386.2 r=0.8 /><circle cx=108.6 cy=359.5 r=1.0 /><circle cx=121.0 cy=388.3 r=1.4 /><circle cx=121.0 cy=348.0 r=1.5 /><circle cx=127.3 cy=353.8 r=1.8 /><circle cx=133.5 cy=376.8 r=1.8 /><circle cx=139.7 cy=359.5 r=1.3 /><circle cx=145.9 cy=359.5 r=1.4 /><circle cx=145.9 cy=330.8 r=0.7 /><circle cx=152.1 cy=336.5 r=0.7 /><circle cx=158.3 cy=399.8 r=0.6 /><circle cx=158.3 cy=359.5 r=1.2 /><circle cx=189.4 cy=371.1 r=0.6 /><circle cx=189.4 cy=325.0 r=0.9 /><circle cx=195.6 cy=371.1 r=0.5 /><circle cx=208.1 cy=399.8 r=0.5 /><circle cx=112.9 cy=346.1 r=0.8 /><circle cx=118.9 cy=379.2 r=1.4 /><circle cx=124.9 cy=373.7 r=1.3 /><circle cx=124.9 cy=368.2 r=1.9 /><circle cx=124.9 cy=351.6 r=1.7 /><circle cx=136.8 cy=351.6 r=1.3 /><circle cx=142.8 cy=384.8 r=1.6 /><circle cx=154.8 cy=406.9 r=0.7 /><circle cx=154.8 cy=379.2 r=1.6 /><circle cx=154.8 cy=340.5 r=0.9 /><circle cx=160.7 cy=357.1 r=1.2 /><circle cx=172.7 cy=384.8 r=0.6 /><circle cx=184.6 cy=395.8 r=0.6 /><circle cx=190.6 cy=323.9 r=0.9 /><circle cx=208.5 cy=373.7 r=0.7 /><circle cx=111.1 cy=397.5 r=1.0 /><circle cx=111.1 cy=360.2 r=1.3 /><circle cx=111.1 cy=354.9 r=1.1 /><circle cx=116.9 cy=376.2 r=1.2 /><circle cx=116.9 cy=365.5 r=1.2 /><circle cx=116.9 cy=360.2 r=1.3 /><circle cx=122.7 cy=322.9 r=0.6 /><circle cx=134.2 cy=360.2 r=1.9 /><circle cx=134.2 cy=333.6 r=0.8 /><circle cx=139.9 cy=386.8 r=1.1 /><circle cx=139.9 cy=349.5 r=2.6 /><circle cx=145.7 cy=365.5 r=1.9 /><circle cx=145.7 cy=360.2 r=1.3 /><circle cx=151.4 cy=402.8 r=0.7 /><circle cx=151.4 cy=386.8 r=0.9 /><circle cx=151.4 cy=317.6 r=0.5 /><circle cx=157.2 cy=370.8 r=1.2 /><circle cx=157.2 cy=365.5 r=1.3 /><circle cx=157.2 cy=349.5 r=0.9 /><circle cx=232.0 cy=296.3 r=0.9 /><circle cx=92.8 cy=378.5 r=0.7 /><circle cx=109.5 cy=352.8 r=1.3 /><circle cx=115.0 cy=342.5 r=1.2 /></g>
<g fill="#2d7d81"><circle cx=185.2 cy=355.1 r=1.0 /><circle cx=112.4 cy=352.5 r=1.0 /><circle cx=119.2 cy=346.3 r=1.4 /><circle cx=125.9 cy=383.8 r=1.6 /><circle cx=132.7 cy=346.3 r=1.2 /><circle cx=139.4 cy=365.1 r=1.9 /><circle cx=146.2 cy=365.1 r=1.9 /><circle cx=152.9 cy=365.1 r=1.4 /><circle cx=159.7 cy=371.3 r=1.2 /><circle cx=200.2 cy=315.0 r=0.9 /><circle cx=97.5 cy=344.2 r=0.6 /><circle cx=103.9 cy=350.2 r=1.0 /><circle cx=116.9 cy=362.2 r=1.5 /><circle cx=116.9 cy=356.2 r=1.5 /><circle cx=129.8 cy=356.2 r=1.8 /><circle cx=136.3 cy=398.1 r=0.9 /><circle cx=136.3 cy=386.2 r=1.3 /><circle cx=136.3 cy=362.2 r=1.9 /><circle cx=136.3 cy=332.2 r=0.8 /><circle cx=136.3 cy=308.2 r=0.6 /><circle cx=142.8 cy=380.2 r=1.8 /><circle cx=142.8 cy=374.2 r=1.9 /><circle cx=142.8 cy=368.2 r=1.9 /><circle cx=149.3 cy=332.2 r=0.7 /><circle cx=155.8 cy=380.2 r=1.6 /><circle cx=155.8 cy=338.2 r=0.8 /><circle cx=162.2 cy=368.2 r=1.6 /><circle cx=188.1 cy=356.2 r=0.6 /><circle cx=102.4 cy=359.5 r=0.8 /><circle cx=121.0 cy=359.5 r=1.2 /><circle cx=127.3 cy=376.8 r=1.3 /><circle cx=133.5 cy=359.5 r=1.9 /><circle cx=145.9 cy=353.8 r=1.3 /><circle cx=152.1 cy=348.0 r=1.0 /><circle cx=164.6 cy=382.6 r=0.8 /><circle cx=164.6 cy=348.0 r=1.2 /><circle cx=164.6 cy=336.5 r=0.6 /><circle cx=177.0 cy=371.1 r=0.9 /><circle cx=177.0 cy=325.0 r=0.5 /><circle cx=95.0 cy=362.6 r=0.9 /><circle cx=101.0 cy=296.3 r=0.5 /><circle cx=106.9 cy=368.2 r=1.6 /><circle cx=106.9 cy=318.4 r=0.7 /><circle cx=112.9 cy=351.6 r=0.9 /><circle cx=118.9 cy=362.6 r=1.8 /><circle cx=124.9 cy=379.2 r=1.2 /><circle cx=124.9 cy=335.0 r=0.9 /><circle cx=136.8 cy=373.7 r=1.9 /><circle cx=136.8 cy=368.2 r=1.9 /><circle cx=136.8 cy=346.1 r=1.3 /><circle cx=142.8 cy=351.6 r=1.8 /><circle cx=142.8 cy=346.1 r=1.7 /><circle cx=142.8 cy=340.5 r=1.5 /><circle cx=142.8 cy=323.9 r=1.0 /><circle cx=148.8 cy=362.6 r=1.8 /><circle cx=154.8 cy=373.7 r=1.5 /><circle cx=154.8 cy=362.6 r=1.5 /><circle cx=160.7 cy=390.3 r=0.8 /><circle cx=88.1 cy=349.5 r=0.5 /><circle cx=93.9 cy=349.5 r=0.7 /><circle cx=105.4 cy=344.2 r=0.6 /><circle cx=111.1 cy=338.9 r=1.1 /><circle cx=116.9 cy=381.5 r=1.0 /><circle cx=122.7 cy=397.5 r=0.6 /><circle cx=122.7 cy=365.5 r=1.4 /><circle cx=128.4 cy=392.2 r=0.8 /><circle cx=128.4 cy=381.5 r=1.7 /><circle cx=128.4 cy=354.9 r=1.8 /><circle cx=128.4 cy=338.9 r=0.9 /><circle cx=128.4 cy=306.9 r=0.5 /><circle cx=134.2 cy=392.2 r=1.2 /><circle cx=139.9 cy=376.2 r=1.6 /><circle cx=139.9 cy=370.8 r=1.9 /><circle cx=139.9 cy=365.5 r=1.9 /><circle cx=139.9 cy=360.2 r=1.4 /><circle cx=139.9 cy=354.9 r=1.3 /><circle cx=139.9 cy=344.2 r=1.2 /><circle cx=139.9 cy=333.6 r=0.8 /><circle cx=145.7 cy=354.9 r=1.2 /><circle cx=151.4 cy=376.2 r=1.7 /><circle cx=151.4 cy=370.8 r=1.4 /><circle cx=151.4 cy=349.5 r=1.0 /><circle cx=157.2 cy=338.9 r=0.7 /><circle cx=162.9 cy=376.2 r=1.0 /><circle cx=174.5 cy=408.1 r=0.5 /><circle cx=174.5 cy=370.8 r=0.8 /><circle cx=103.9 cy=357.9 r=0.9 /><circle cx=109.5 cy=399.0 r=1.1 /><circle cx=115.0 cy=368.2 r=1.8 /></g>
<circle cx=112.4 cy=396.3 r=1.0 fill="#2e997c"/>
<g fill="#2f7281"><circle cx=112.4 cy=346.3 r=0.8 /><circle cx=110.4 cy=344.2 r=0.9 /><circle cx=149.3 cy=374.2 r=1.8 /><circle cx=175.2 cy=350.2 r=0.8 /><circle cx=246.4 cy=326.2 r=0.6 /><circle cx=114.8 cy=348.0 r=0.9 /><circle cx=133.5 cy=348.0 r=1.2 /><circle cx=139.7 cy=330.8 r=0.7 /><circle cx=101.0 cy=357.1 r=1.0 /><circle cx=118.9 cy=351.6 r=1.5 /><circle cx=130.8 cy=340.5 r=1.1 /><circle cx=130.8 cy=335.0 r=0.9 /><circle cx=136.8 cy=379.2 r=1.3 /><circle cx=148.8 cy=357.1 r=1.4 /><circle cx=154.8 cy=368.2 r=1.8 /><circle cx=172.7 cy=373.7 r=0.9 /><circle cx=178.7 cy=368.2 r=1.2 /><circle cx=184.6 cy=390.3 r=0.6 /><circle cx=105.4 cy=365.5 r=1.1 /><circle cx=134.2 cy=338.9 r=0.9 /><circle cx=151.4 cy=365.5 r=1.4 /><circle cx=157.2 cy=386.8 r=0.8 /><circle cx=162.9 cy=370.8 r=1.1 /><circle cx=162.9 cy=365.5 r=1.1 /><circle cx=174.5 cy=365.5 r=0.9 /><circle cx=180.2 cy=397.5 r=0.6 /><circle cx=115.0 cy=363.0 r=1.3 /></g>
<g fill="#2f7681"><circle cx=171.1 cy=361.6 r=1.1 /><circle cx=178.1 cy=361.6 r=0.9 /><circle cx=116.9 cy=344.2 r=1.3 /><circle cx=123.4 cy=362.2 r=1.3 /><circle cx=123.4 cy=356.2 r=1.3 /><circle cx=129.8 cy=350.2 r=1.3 /><circle cx=136.3 cy=320.2 r=0.7 /><circle cx=149.3 cy=350.2 r=1.2 /><circle cx=155.8 cy=368.2 r=1.9 /><circle cx=155.8 cy=356.2 r=1.7 /><circle cx=181.6 cy=392.2 r=0.9 /><circle cx=188.1 cy=326.2 r=0.9 /><circle cx=114.8 cy=365.3 r=1.3 /><circle cx=114.8 cy=359.5 r=1.5 /><circle cx=127.3 cy=394.1 r=0.8 /><circle cx=145.9 cy=348.0 r=1.1 /><circle cx=158.3 cy=382.6 r=1.4 /><circle cx=164.6 cy=388.3 r=1.1 /><circle cx=208.1 cy=307.8 r=0.9 /><circle cx=214.3 cy=376.8 r=0.6 /><circle cx=220.5 cy=336.5 r=0.7 /><circle cx=101.0 cy=368.2 r=1.4 /><circle cx=101.0 cy=351.6 r=0.8 /><circle cx=112.9 cy=362.6 r=1.3 /><circle cx=130.8 cy=373.7 r=1.7 /><circle cx=142.8 cy=390.3 r=1.8 /><circle cx=148.8 cy=373.7 r=1.8 /><circle cx=148.8 cy=346.1 r=1.0 /><circle cx=166.7 cy=362.6 r=1.3 /><circle cx=172.7 cy=362.6 r=0.9 /><circle cx=172.7 cy=346.1 r=0.6 /><circle cx=99.6 cy=365.5 r=0.8 /><circle cx=116.9 cy=344.2 r=1.3 /><circle cx=128.4 cy=376.2 r=1.3 /><circle cx=128.4 cy=333.6 r=0.7 /><circle cx=134.2 cy=349.5 r=1.3 /><circle cx=134.2 cy=344.2 r=1.2 /><circle cx=157.2 cy=376.2 r=1.4 /><circle cx=162.9 cy=386.8 r=1.2 /><circle cx=162.9 cy=354.9 r=1.0 /><circle cx=168.7 cy=344.2 r=1.1 /><circle cx=174.5 cy=338.9 r=1.0 /><circle cx=191.7 cy=322.9 r=0.9 /><circle cx=109.5 cy=363.0 r=1.3 /><circle cx=115.0 cy=383.6 r=0.9 /><circle cx=120.6 cy=378.5 r=1.5 /><circle cx=120.6 cy=363.0 r=1.5 /></g>
<g fill="#306f81"><circle cx=146.2 cy=321.3 r=0.6 /><circle cx=220.5 cy=359.5 r=0.6 /><circle cx=118.9 cy=357.1 r=1.5 /><circle cx=124.9 cy=357.1 r=1.3 /><circle cx=136.8 cy=401.4 r=0.7 /><circle cx=142.8 cy=329.5 r=1.1 /><circle cx=190.6 cy=357.1 r=0.7 /><circle cx=122.7 cy=354.9 r=1.2 /><circle cx=145.7 cy=376.2 r=1.3 /><circle cx=157.2 cy=344.2 r=0.8 /><circle cx=162.9 cy=344.2 r=0.8 /><circle cx=174.5 cy=360.2 r=0.9 /><circle cx=186.0 cy=376.2 r=0.6 /><circle cx=197.5 cy=370.8 r=0.9 /><circle cx=209.0 cy=306.9 r=0.9 /><circle cx=103.9 cy=368.2 r=1.4 /><circle cx=115.0 cy=347.6 r=0.9 /></g>
<g fill="#316c80"><circle cx=139.7 cy=353.8 r=1.2 /><circle cx=148.8 cy=379.2 r=1.2 /><circle cx=214.5 cy=357.1 r=0.8 /><circle cx=145.7 cy=333.6 r=0.9 /><circle cx=157.2 cy=354.9 r=1.6 /><circle cx=162.9 cy=360.2 r=1.0 /><circle cx=180.2 cy=365.5 r=0.8 /><circle cx=203.2 cy=312.2 r=0.9 /><circle cx=203.2 cy=306.9 r=0.7 /><circle cx=115.0 cy=357.9 r=1.2 /></g>
<g fill="#319c7b"><circle cx=98.9 cy=315.0 r=0.8 /><circle cx=136.3 cy=368.2 r=2.2 /></g>
<g fill="#336880"><circle cx=166.7 cy=340.5 r=0.8 /><circle cx=151.4 cy=328.2 r=0.6 /></g>
<g fill="#3aa477"><circle cx=164.0 cy=387.8 r=1.1 /><circle cx=162.2 cy=374.2 r=1.4 /></g>
<circle cx=93.9 cy=354.9 r=0.7 fill="#3d497a"/>
<circle cx=118.9 cy=346.1 r=1.4 fill="#3e4579"/>
<circle cx=166.7 cy=368.2 r=1.7 fill="#3fa775"/>
<circle cx=136.3 cy=380.2 r=1.4 fill="#403c75"/>
<g fill="#422566"><circle cx=136.3 cy=350.2 r=1.7 /><circle cx=128.4 cy=360.2 r=1.5 /></g>
<circle cx=78.0 cy=362.2 r=0.6 fill="#422f6d"/>
<g fill="#45aa73"><circle cx=220.5 cy=335.5 r=0.6 /><circle cx=186.7 cy=383.8 r=0.6 /><circle cx=127.3 cy=342.3 r=0.9 /><circle cx=116.9 cy=349.5 r=1.1 /></g>
<g fill="#4cae70"><circle cx=149.3 cy=338.2 r=0.9 /><circle cx=154.8 cy=296.3 r=0.6 /><circle cx=128.4 cy=344.2 r=1.0 /></g>
<g fill="#53b26d"><circle cx=123.4 cy=338.2 r=0.9 /><circle cx=145.9 cy=382.6 r=1.2 /><circle cx=105.4 cy=370.8 r=0.9 /><circle cx=116.9 cy=354.9 r=1.2 /></g>
<g fill="#5ab56a"><circle cx=108.6 cy=348.0 r=0.8 /><circle cx=133.5 cy=382.6 r=1.1 /><circle cx=124.9 cy=340.5 r=1.0 /><circle cx=116.9 cy=333.6 r=0.6 /></g>
<g fill="#63b866"><circle cx=164.0 cy=348.6 r=1.3 /><circle cx=148.8 cy=384.8 r=1.1 /></g>
<circle cx=120.6 cy=352.8 r=2.9 fill="#306f81"/>
<g fill="#2a8780"><circle cx=120.6 cy=342.5 r=0.9 /><circle cx=126.2 cy=368.2 r=1.9 /><circle cx=137.2 cy=424.7 r=0.5 /><circle cx=137.2 cy=373.3 r=1.9 /><circle cx=137.2 cy=357.9 r=2.6 /></g>
<g fill="#2a8b80"><circle cx=131.7 cy=383.6 r=1.5 /><circle cx=131.7 cy=378.5 r=1.8 /></g>
<g fill="#2a8e7f"><circle cx=126.2 cy=373.3 r=1.3 /><circle cx=137.2 cy=296.3 r=0.5 /><circle cx=142.8 cy=378.5 r=1.8 /></g>
<g fill="#2b8481"><circle cx=120.6 cy=337.4 r=0.9 /><circle cx=126.2 cy=357.9 r=1.6 /><circle cx=126.2 cy=327.1 r=0.6 /><circle cx=131.7 cy=373.3 r=1.6 /><circle cx=137.2 cy=342.5 r=1.3 /><circle cx=142.8 cy=419.6 r=0.9 /><circle cx=142.8 cy=363.0 r=1.9 /><circle cx=142.8 cy=357.9 r=1.9 /><circle cx=142.8 cy=321.9 r=1.0 /><circle cx=148.3 cy=378.5 r=1.2 /></g>
<g fill="#2c8081"><circle cx=126.2 cy=378.5 r=1.2 /><circle cx=126.2 cy=363.0 r=1.4 /><circle cx=126.2 cy=321.9 r=0.6 /><circle cx=131.7 cy=399.0 r=0.8 /><circle cx=131.7 cy=357.9 r=1.9 /><circle cx=142.8 cy=393.9 r=1.4 /><circle cx=148.3 cy=383.6 r=1.2 /></g>
<g fill="#2d7a81"><circle cx=120.6 cy=347.6 r=1.5 /><circle cx=131.7 cy=363.0 r=2.2 /><circle cx=131.7 cy=347.6 r=1.3 /><circle cx=137.2 cy=393.9 r=1.0 /><circle cx=137.2 cy=368.2 r=2.0 /><circle cx=137.2 cy=347.6 r=1.4 /><circle cx=137.2 cy=337.4 r=0.9 /><circle cx=142.8 cy=404.1 r=1.1 /><circle cx=142.8 cy=388.7 r=1.5 /><circle cx=142.8 cy=347.6 r=1.7 /><circle cx=148.3 cy=388.7 r=1.0 /><circle cx=148.3 cy=373.3 r=1.8 /></g>
<g fill="#2d7d81"><circle cx=131.7 cy=393.9 r=1.0 /><circle cx=131.7 cy=332.2 r=1.1 /><circle cx=137.2 cy=388.7 r=1.2 /><circle cx=142.8 cy=424.7 r=1.0 /><circle cx=142.8 cy=383.6 r=1.9 /><circle cx=142.8 cy=373.3 r=1.9 /></g>
<g fill="#2f7281"><circle cx=126.2 cy=347.6 r=1.2 /><circle cx=131.7 cy=368.2 r=1.9 /><circle cx=137.2 cy=378.5 r=1.4 /></g>
<g fill="#2f7681"><circle cx=126.2 cy=383.6 r=1.6 /><circle cx=126.2 cy=352.8 r=1.7 /><circle cx=131.7 cy=337.4 r=1.0 /><circle cx=137.2 cy=383.6 r=1.3 /><circle cx=137.2 cy=363.0 r=1.9 /><circle cx=137.2 cy=352.8 r=1.5 /><circle cx=142.8 cy=352.8 r=1.9 /><circle cx=142.8 cy=337.4 r=1.4 /></g>
<g fill="#306f81"><circle cx=137.2 cy=332.2 r=0.9 /><circle cx=142.8 cy=368.2 r=1.9 /><circle cx=142.8 cy=332.2 r=1.2 /></g>
<circle cx=131.7 cy=342.5 r=1.2 fill="#422f6d"/>
<circle cx=148.3 cy=393.9 r=0.9 fill="#423470"/>
<circle cx=142.8 cy=342.5 r=1.5 fill="#53b26d"/>
<circle cx=131.7 cy=352.8 r=1.5 fill="#63b866"/>
<circle cx=148.3 cy=368.2 r=4.7 fill="#2c8081"/>
<g fill="#2a8780"><circle cx=153.9 cy=393.9 r=0.8 /><circle cx=153.9 cy=357.9 r=2.3 /><circle cx=159.4 cy=388.7 r=0.8 /><circle cx=159.4 cy=368.2 r=1.7 /><circle cx=198.3 cy=342.5 r=1.0 /><circle cx=91.9 cy=360.7 r=0.7 /><circle cx=102.6 cy=380.6 r=0.8 /><circle cx=118.7 cy=390.5 r=1.3 /><circle cx=124.0 cy=385.5 r=1.5 /><circle cx=129.4 cy=365.7 r=1.3 /></g>
<g fill="#2a8b80"><circle cx=159.4 cy=399.0 r=0.8 /><circle cx=91.9 cy=375.6 r=0.6 /><circle cx=91.9 cy=345.9 r=0.6 /><circle cx=97.3 cy=355.8 r=0.7 /><circle cx=102.6 cy=360.7 r=0.9 /><circle cx=118.7 cy=405.4 r=0.6 /><circle cx=118.7 cy=380.6 r=1.0 /><circle cx=140.1 cy=370.7 r=1.9 /></g>
<g fill="#2a8e7f"><circle cx=148.3 cy=357.9 r=1.4 /><circle cx=140.1 cy=385.5 r=1.3 /></g>
<g fill="#2b8481"><circle cx=165.0 cy=368.2 r=1.6 /><circle cx=86.5 cy=326.0 r=0.6 /><circle cx=97.3 cy=370.7 r=0.7 /><circle cx=97.3 cy=365.7 r=0.8 /><circle cx=97.3 cy=331.0 r=0.5 /><circle cx=102.6 cy=355.8 r=0.9 /><circle cx=124.0 cy=370.7 r=1.3 /><circle cx=124.0 cy=355.8 r=1.4 /></g>
<circle cx=65.1 cy=365.7 r=0.5 fill="#2b927e"/>
<g fill="#2c8081"><circle cx=159.4 cy=393.9 r=0.8 /><circle cx=159.4 cy=383.6 r=1.3 /><circle cx=159.4 cy=332.2 r=0.7 /><circle cx=165.0 cy=373.3 r=1.3 /><circle cx=170.6 cy=373.3 r=0.9 /><circle cx=181.6 cy=368.2 r=1.1 /><circle cx=97.3 cy=410.3 r=0.9 /><circle cx=97.3 cy=380.6 r=0.6 /><circle cx=108.0 cy=370.7 r=0.9 /><circle cx=108.0 cy=355.8 r=0.9 /><circle cx=108.0 cy=345.9 r=0.8 /><circle cx=113.3 cy=380.6 r=0.9 /><circle cx=118.7 cy=435.1 r=0.6 /><circle cx=118.7 cy=370.7 r=1.5 /><circle cx=124.0 cy=360.7 r=1.2 /><circle cx=129.4 cy=360.7 r=1.4 /><circle cx=129.4 cy=355.8 r=1.8 /><circle cx=134.8 cy=375.6 r=1.9 /><circle cx=134.8 cy=345.9 r=1.2 /><circle cx=134.8 cy=331.0 r=0.9 /><circle cx=140.1 cy=375.6 r=1.3 /><circle cx=140.1 cy=365.7 r=1.9 /><circle cx=140.1 cy=360.7 r=1.3 /></g>
<circle cx=113.3 cy=375.6 r=1.1 fill="#2c967d"/>
<g fill="#2d7a81"><circle cx=148.3 cy=363.0 r=1.9 /><circle cx=148.3 cy=342.5 r=0.9 /><circle cx=153.9 cy=383.6 r=1.3 /><circle cx=153.9 cy=378.5 r=1.6 /><circle cx=153.9 cy=373.3 r=1.7 /><circle cx=159.4 cy=363.0 r=1.3 /><circle cx=159.4 cy=352.8 r=1.5 /><circle cx=170.6 cy=352.8 r=0.8 /><circle cx=192.7 cy=363.0 r=2.2 /><circle cx=102.6 cy=340.9 r=0.6 /><circle cx=102.6 cy=331.0 r=0.9 /><circle cx=108.0 cy=340.9 r=0.6 /><circle cx=113.3 cy=355.8 r=1.0 /><circle cx=118.7 cy=365.7 r=1.2 /><circle cx=118.7 cy=360.7 r=1.3 /><circle cx=118.7 cy=331.0 r=0.7 /><circle cx=140.1 cy=380.6 r=1.2 /><circle cx=140.1 cy=355.8 r=1.2 /></g>
<g fill="#2d7d81"><circle cx=148.3 cy=352.8 r=1.6 /><circle cx=148.3 cy=332.2 r=0.8 /><circle cx=153.9 cy=368.2 r=2.1 /><circle cx=153.9 cy=347.6 r=1.1 /><circle cx=153.9 cy=337.4 r=0.8 /><circle cx=165.0 cy=352.8 r=1.0 /><circle cx=165.0 cy=337.4 r=1.0 /><circle cx=176.1 cy=414.4 r=0.6 /><circle cx=176.1 cy=337.4 r=0.9 /><circle cx=113.3 cy=370.7 r=1.1 /><circle cx=124.0 cy=380.6 r=1.1 /><circle cx=134.8 cy=385.5 r=1.2 /><circle cx=134.8 cy=380.6 r=1.2 /></g>
<g fill="#2f7281"><circle cx=153.9 cy=332.2 r=0.8 /><circle cx=165.0 cy=347.6 r=1.2 /><circle cx=108.0 cy=365.7 r=1.0 /><circle cx=108.0 cy=360.7 r=1.1 /><circle cx=113.3 cy=340.9 r=1.2 /><circle cx=118.7 cy=350.8 r=1.0 /><circle cx=118.7 cy=340.9 r=1.0 /><circle cx=129.4 cy=370.7 r=1.5 /><circle cx=134.8 cy=350.8 r=1.2 /></g>
<g fill="#2f7681"><circle cx=148.3 cy=347.6 r=1.1 /><circle cx=153.9 cy=363.0 r=1.5 /><circle cx=153.9 cy=352.8 r=1.4 /><circle cx=159.4 cy=347.6 r=0.9 /><circle cx=170.6 cy=368.2 r=1.4 /><circle cx=176.1 cy=347.6 r=0.7 /><circle cx=181.6 cy=357.9 r=0.7 /><circle cx=187.2 cy=368.2 r=1.0 /><circle cx=198.3 cy=352.8 r=0.8 /><circle cx=209.4 cy=347.6 r=0.6 /><circle cx=118.7 cy=355.8 r=1.1 /><circle cx=124.0 cy=350.8 r=1.7 /><circle cx=124.0 cy=316.1 r=0.7 /><circle cx=129.4 cy=385.5 r=1.1 /><circle cx=129.4 cy=345.9 r=1.0 /><circle cx=134.8 cy=370.7 r=1.3 /><circle cx=134.8 cy=365.7 r=1.4 /><circle cx=134.8 cy=360.7 r=1.9 /></g>
<g fill="#306f81"><circle cx=159.4 cy=373.3 r=1.4 /><circle cx=159.4 cy=357.9 r=1.5 /><circle cx=170.6 cy=321.9 r=0.6 /><circle cx=176.1 cy=383.6 r=0.9 /><circle cx=113.3 cy=350.8 r=1.0 /><circle cx=118.7 cy=345.9 r=1.4 /><circle cx=124.0 cy=365.7 r=1.4 /><circle cx=124.0 cy=345.9 r=1.1 /><circle cx=129.4 cy=380.6 r=1.9 /><circle cx=140.1 cy=350.8 r=1.2 /></g>
<g fill="#316c80"><circle cx=176.1 cy=316.8 r=0.6 /><circle cx=129.4 cy=350.8 r=1.2 /><circle cx=134.8 cy=355.8 r=1.3 /></g>
<circle cx=113.3 cy=360.7 r=1.1 fill="#403c75"/>
<g fill="#45aa73"><circle cx=165.0 cy=363.0 r=1.3 /><circle cx=134.8 cy=390.5 r=1.0 /></g>
<circle cx=129.4 cy=375.6 r=1.2 fill="#5ab56a"/>
<circle cx=140.1 cy=345.9 r=3.1 fill="#2d7a81"/>
<g fill="#2a8780"><circle cx=96.2 cy=349.0 r=0.8 /><circle cx=101.4 cy=368.2 r=1.4 /></g>
<g fill="#2a8b80"><circle cx=145.5 cy=395.5 r=0.8 /><circle cx=150.8 cy=350.8 r=1.0 /><circle cx=166.9 cy=350.8 r=0.9 /><circle cx=75.5 cy=363.4 r=0.6 /><circle cx=111.7 cy=296.3 r=1.0 /></g>
<g fill="#2a8e7f"><circle cx=150.8 cy=360.7 r=1.8 /><circle cx=101.4 cy=430.5 r=0.7 /></g>
<g fill="#2b8481"><circle cx=145.5 cy=385.5 r=1.0 /><circle cx=145.5 cy=345.9 r=1.1 /><circle cx=150.8 cy=390.5 r=0.9 /><circle cx=150.8 cy=345.9 r=1.1 /><circle cx=156.2 cy=370.7 r=1.6 /><circle cx=172.3 cy=340.9 r=1.0 /><circle cx=75.5 cy=296.3 r=0.7 /></g>
<g fill="#2c8081"><circle cx=145.5 cy=375.6 r=1.3 /><circle cx=145.5 cy=370.7 r=1.9 /><circle cx=145.5 cy=350.8 r=1.2 /><circle cx=156.2 cy=345.9 r=0.9 /><circle cx=161.6 cy=385.5 r=1.2 /><circle cx=161.6 cy=370.7 r=1.2 /><circle cx=172.3 cy=345.9 r=0.8 /><circle cx=101.4 cy=344.2 r=0.7 /><circle cx=106.5 cy=325.0 r=0.6 /><circle cx=111.7 cy=363.4 r=1.3 /><circle cx=111.7 cy=358.6 r=1.5 /><circle cx=116.9 cy=373.0 r=1.2 /></g>
<circle cx=85.8 cy=353.8 r=0.7 fill="#2c967d"/>
<g fill="#2d7a81"><circle cx=145.5 cy=360.7 r=1.3 /><circle cx=145.5 cy=335.9 r=1.1 /><circle cx=150.8 cy=375.6 r=1.7 /><circle cx=150.8 cy=370.7 r=1.4 /><circle cx=156.2 cy=355.8 r=1.6 /><circle cx=156.2 cy=331.0 r=0.6 /><circle cx=161.6 cy=380.6 r=0.9 /><circle cx=166.9 cy=345.9 r=1.1 /><circle cx=188.3 cy=355.8 r=0.8 /><circle cx=101.4 cy=296.3 r=0.7 /><circle cx=106.5 cy=353.8 r=0.9 /><circle cx=106.5 cy=334.6 r=1.0 /></g>
<g fill="#2d7d81"><circle cx=145.5 cy=355.8 r=1.2 /><circle cx=150.8 cy=355.8 r=1.3 /><circle cx=156.2 cy=350.8 r=1.0 /><circle cx=166.9 cy=365.7 r=1.0 /><circle cx=172.3 cy=365.7 r=0.9 /><circle cx=91.0 cy=363.4 r=0.7 /><circle cx=96.2 cy=363.4 r=0.8 /><circle cx=101.4 cy=358.6 r=1.1 /><circle cx=106.5 cy=382.6 r=2.5 /><circle cx=106.5 cy=377.8 r=0.9 /><circle cx=111.7 cy=392.2 r=0.7 /></g>
<g fill="#2f7281"><circle cx=145.5 cy=340.9 r=0.9 /><circle cx=177.6 cy=335.9 r=0.9 /><circle cx=183.0 cy=365.7 r=0.6 /><circle cx=106.5 cy=315.4 r=0.6 /><circle cx=111.7 cy=377.8 r=1.1 /><circle cx=111.7 cy=353.8 r=1.4 /><circle cx=111.7 cy=349.0 r=0.9 /><circle cx=111.7 cy=320.2 r=0.6 /></g>
<g fill="#2f7681"><circle cx=145.5 cy=365.7 r=1.9 /><circle cx=156.2 cy=375.6 r=1.1 /><circle cx=166.9 cy=360.7 r=1.1 /><circle cx=199.1 cy=316.1 r=0.9 /><circle cx=209.8 cy=350.8 r=0.6 /><circle cx=106.5 cy=368.2 r=1.5 /><circle cx=106.5 cy=349.0 r=0.9 /><circle cx=111.7 cy=368.2 r=1.7 /><circle cx=111.7 cy=344.2 r=0.8 /><circle cx=116.9 cy=377.8 r=1.5 /><circle cx=116.9 cy=363.4 r=1.5 /></g>
<g fill="#306f81"><circle cx=150.8 cy=365.7 r=1.4 /><circle cx=156.2 cy=380.6 r=1.5 /><circle cx=161.6 cy=350.8 r=1.4 /><circle cx=166.9 cy=370.7 r=1.1 /><circle cx=193.7 cy=321.1 r=0.9 /><circle cx=106.5 cy=358.6 r=0.9 /><circle cx=116.9 cy=358.6 r=1.2 /></g>
<g fill="#316c80"><circle cx=156.2 cy=365.7 r=1.3 /><circle cx=220.5 cy=335.9 r=0.5 /><circle cx=106.5 cy=344.2 r=0.9 /><circle cx=116.9 cy=353.8 r=1.1 /></g>
<g fill="#35617f"><circle cx=188.3 cy=340.9 r=0.6 /><circle cx=209.8 cy=400.4 r=0.5 /></g>
<circle cx=177.6 cy=360.7 r=0.8 fill="#3f4177"/>
<circle cx=177.6 cy=365.7 r=0.7 fill="#3fa775"/>
<circle cx=156.2 cy=360.7 r=1.2 fill="#4cae70"/>
<circle cx=161.6 cy=360.7 r=1.0 fill="#53b26d"/>
<g fill="#63b866"><circle cx=116.9 cy=368.2 r=2.1 /><circle cx=116.9 cy=349.0 r=0.9 /></g>
<circle cx=116.9 cy=344.2 r=3.6 fill="#2a8b80"/>
<g fill="#2a8780"><circle cx=148.0 cy=392.2 r=0.9 /><circle cx=148.0 cy=387.4 r=1.1 /><circle cx=148.0 cy=382.6 r=1.2 /></g>
<circle cx=132.4 cy=387.4 r=1.2 fill="#2a8e7f"/>
<g fill="#2b8481"><circle cx=122.1 cy=382.6 r=1.2 /><circle cx=122.1 cy=377.8 r=1.5 /><circle cx=122.1 cy=373.0 r=1.4 /><circle cx=122.1 cy=339.4 r=1.0 /><circle cx=127.3 cy=353.8 r=1.8 /><circle cx=132.4 cy=392.2 r=1.5 /><circle cx=132.4 cy=339.4 r=1.0 /><circle cx=137.6 cy=411.3 r=0.5 /><circle cx=142.8 cy=387.4 r=1.6 /></g>
<g fill="#2c8081"><circle cx=122.1 cy=392.2 r=0.9 /><circle cx=127.3 cy=382.6 r=1.6 /><circle cx=127.3 cy=373.0 r=1.4 /><circle cx=132.4 cy=368.2 r=2.0 /><circle cx=137.6 cy=392.2 r=1.0 /><circle cx=142.8 cy=392.2 r=1.4 /></g>
<g fill="#2d7a81"><circle cx=116.9 cy=329.8 r=0.6 /><circle cx=116.9 cy=325.0 r=0.6 /><circle cx=122.1 cy=344.2 r=1.1 /><circle cx=127.3 cy=377.8 r=1.2 /><circle cx=127.3 cy=368.2 r=1.9 /><circle cx=132.4 cy=382.6 r=1.6 /><circle cx=132.4 cy=377.8 r=1.8 /><circle cx=137.6 cy=382.6 r=1.2 /><circle cx=137.6 cy=373.0 r=1.9 /><circle cx=137.6 cy=358.6 r=1.5 /></g>
<g fill="#2d7d81"><circle cx=122.1 cy=368.2 r=1.8 /><circle cx=127.3 cy=387.4 r=1.1 /><circle cx=132.4 cy=358.6 r=1.9 /><circle cx=137.6 cy=368.2 r=1.9 /><circle cx=142.8 cy=416.1 r=0.9 /><circle cx=142.8 cy=377.8 r=1.8 /><circle cx=142.8 cy=373.0 r=2.0 /><circle cx=142.8 cy=363.4 r=1.9 /></g>
<g fill="#2f7281"><circle cx=122.1 cy=363.4 r=1.5 /><circle cx=122.1 cy=358.6 r=1.6 /><circle cx=127.3 cy=339.4 r=1.4 /><circle cx=132.4 cy=363.4 r=1.6 /><circle cx=132.4 cy=349.0 r=1.3 /><circle cx=132.4 cy=344.2 r=1.2 /><circle cx=137.6 cy=344.2 r=1.1 /><circle cx=137.6 cy=334.6 r=0.8 /><circle cx=142.8 cy=382.6 r=1.7 /></g>
<g fill="#2f7681"><circle cx=122.1 cy=353.8 r=1.4 /><circle cx=122.1 cy=349.0 r=1.6 /><circle cx=127.3 cy=363.4 r=1.4 /><circle cx=127.3 cy=358.6 r=1.3 /><circle cx=127.3 cy=329.8 r=0.7 /><circle cx=132.4 cy=373.0 r=1.6 /><circle cx=137.6 cy=387.4 r=1.1 /><circle cx=137.6 cy=377.8 r=1.4 /><circle cx=137.6 cy=363.4 r=1.9 /><circle cx=137.6 cy=353.8 r=1.3 /><circle cx=137.6 cy=339.4 r=1.0 /><circle cx=142.8 cy=353.8 r=1.8 /><circle cx=142.8 cy=344.2 r=1.6 /><circle cx=142.8 cy=339.4 r=1.4 /><circle cx=148.0 cy=377.8 r=1.5 /></g>
<g fill="#306f81"><circle cx=116.9 cy=315.4 r=0.5 /><circle cx=132.4 cy=329.8 r=0.9 /><circle cx=142.8 cy=368.2 r=1.9 /><circle cx=142.8 cy=349.0 r=1.7 /></g>
<g fill="#316c80"><circle cx=127.3 cy=344.2 r=1.0 /><circle cx=127.3 cy=325.0 r=0.9 /><circle cx=132.4 cy=353.8 r=1.4 /><circle cx=132.4 cy=334.6 r=0.9 /><circle cx=132.4 cy=325.0 r=0.7 /><circle cx=137.6 cy=349.0 r=1.4 /></g>
<circle cx=142.8 cy=334.6 r=1.3 fill="#336880"/>
<circle cx=127.3 cy=349.0 r=1.2 fill="#365d7f"/>
<circle cx=142.8 cy=358.6 r=1.9 fill="#3aa477"/>
<circle cx=122.1 cy=387.4 r=1.4 fill="#3b4e7b"/>
<circle cx=132.4 cy=396.9 r=1.1 fill="#413873"/>
<circle cx=137.6 cy=401.7 r=0.7 fill="#63b866"/>
<circle cx=148.0 cy=373.0 r=3.6 fill="#2f7681"/>
<circle cx=113.9 cy=352.9 r=0.6 fill="#2a8780"/>
<circle cx=154.2 cy=331.6 r=0.6 fill="#2a8b80"/>
<g fill="#2a8e7f"><circle cx=71.3 cy=368.2 r=0.9 /><circle cx=71.3 cy=365.3 r=0.9 /><circle cx=71.3 cy=362.4 r=0.9 /><circle cx=71.3 cy=359.5 r=0.9 /><circle cx=71.3 cy=356.7 r=0.9 /><circle cx=71.3 cy=353.8 r=0.9 /><circle cx=71.3 cy=350.9 r=0.9 /><circle cx=71.3 cy=348.0 r=0.9 /><circle cx=71.3 cy=345.2 r=0.9 /><circle cx=71.3 cy=342.3 r=0.9 /><circle cx=71.3 cy=339.4 r=0.9 /><circle cx=71.3 cy=336.5 r=0.9 /><circle cx=72.9 cy=407.7 r=0.9 /><circle cx=72.9 cy=396.9 r=0.9 /><circle cx=72.9 cy=386.2 r=0.9 /></g>
<g fill="#2b8481"><circle cx=163.5 cy=377.8 r=1.3 /><circle cx=92.5 cy=325.4 r=0.6 /></g>
<g fill="#2b927e"><circle cx=132.4 cy=312.2 r=0.6 /><circle cx=153.6 cy=363.4 r=0.6 /></g>
<g fill="#2c8081"><circle cx=158.3 cy=373.0 r=1.3 /><circle cx=158.3 cy=368.2 r=2.3 /><circle cx=163.5 cy=358.6 r=1.4 /><circle cx=173.9 cy=339.4 r=1.0 /><circle cx=194.6 cy=353.8 r=0.7 /></g>
<circle cx=122.8 cy=322.4 r=0.6 fill="#2c967d"/>
<g fill="#2d7a81"><circle cx=153.2 cy=392.2 r=1.1 /><circle cx=153.2 cy=358.6 r=1.7 /><circle cx=153.2 cy=329.8 r=0.7 /><circle cx=168.7 cy=382.6 r=0.7 /><circle cx=168.7 cy=353.8 r=0.9 /><circle cx=168.7 cy=349.0 r=0.8 /><circle cx=210.1 cy=305.8 r=0.9 /><circle cx=189.6 cy=360.0 r=0.6 /></g>
<g fill="#2d7d81"><circle cx=148.0 cy=344.2 r=1.1 /><circle cx=148.0 cy=320.2 r=0.6 /><circle cx=153.2 cy=368.2 r=1.9 /><circle cx=153.2 cy=363.4 r=1.6 /><circle cx=158.3 cy=353.8 r=1.5 /><circle cx=168.7 cy=358.6 r=0.9 /><circle cx=173.9 cy=363.4 r=1.2 /><circle cx=184.2 cy=310.6 r=0.6 /></g>
<circle cx=133.4 cy=318.6 r=0.6 fill="#2e997c"/>
<g fill="#2f7281"><circle cx=148.0 cy=363.4 r=1.9 /><circle cx=153.2 cy=401.7 r=0.7 /><circle cx=153.2 cy=349.0 r=1.2 /><circle cx=179.1 cy=363.4 r=0.7 /><circle cx=184.2 cy=392.2 r=0.8 /><circle cx=189.4 cy=363.4 r=0.7 /><circle cx=194.6 cy=373.0 r=0.6 /><circle cx=215.3 cy=296.3 r=0.5 /></g>
<g fill="#2f7681"><circle cx=148.0 cy=358.6 r=1.6 /><circle cx=153.2 cy=377.8 r=1.6 /><circle cx=153.2 cy=353.8 r=1.3 /><circle cx=153.2 cy=305.8 r=0.6 /><circle cx=158.3 cy=363.4 r=1.3 /><circle cx=158.3 cy=344.2 r=0.9 /><circle cx=158.3 cy=329.8 r=0.6 /><circle cx=163.5 cy=373.0 r=1.3 /><circle cx=163.5 cy=368.2 r=1.7 /><circle cx=163.5 cy=349.0 r=1.3 /><circle cx=173.9 cy=358.6 r=1.0 /><circle cx=179.1 cy=373.0 r=0.7 /><circle cx=220.5 cy=344.2 r=0.8 /></g>
<g fill="#306f81"><circle cx=148.0 cy=353.8 r=1.2 /><circle cx=153.2 cy=373.0 r=1.6 /><circle cx=158.3 cy=382.6 r=1.4 /><circle cx=158.3 cy=334.6 r=0.6 /><circle cx=163.5 cy=363.4 r=1.3 /><circle cx=168.7 cy=368.2 r=1.4 /><circle cx=173.9 cy=368.2 r=1.5 /><circle cx=179.1 cy=368.2 r=1.2 /><circle cx=220.5 cy=339.4 r=0.6 /></g>
<g fill="#316c80"><circle cx=179.1 cy=353.8 r=0.7 /><circle cx=194.6 cy=349.0 r=0.6 /></g>
<circle cx=108.4 cy=316.3 r=0.6 fill="#319c7b"/>
<g fill="#336880"><circle cx=148.0 cy=368.2 r=1.9 /><circle cx=148.0 cy=349.0 r=1.2 /><circle cx=163.5 cy=296.3 r=0.6 /><circle cx=184.2 cy=363.4 r=0.7 /></g>
<circle cx=158.3 cy=358.6 r=1.7 fill="#346480"/>
<circle cx=158.3 cy=349.0 r=1.1 fill="#37597e"/>
<circle cx=138.9 cy=374.1 r=0.6 fill="#3aa477"/>
<circle cx=205.0 cy=310.6 r=0.9 fill="#422566"/>
<circle cx=153.2 cy=387.4 r=1.0 fill="#4cae70"/>
<g fill="#346480"><circle cx=101.4 cy=329.6 r=3.0 /><circle cx=106.0 cy=329.6 r=2.5 /></g>
<g fill="#316c80"><circle cx=142.6 cy=331.0 r=3.0 /><circle cx=149.0 cy=334.4 r=3.5 /></g>
<g fill="#2a8e7f"><circle cx=168.6 cy=343.5 r=3.0 /><circle cx=181.6 cy=332.0 r=3.5 /><circle cx=194.3 cy=319.7 r=5.5 /><circle cx=207.2 cy=307.8 r=7.0 /></g>
<circle cx=220.2 cy=296.1 r=5.0 fill="#4cae70"/>
<g fill="#45aa73"><circle cx=220.2 cy=311.6 r=3.5 /><circle cx=220.2 cy=337.5 r=3.0 /></g>
<circle cx=246.0 cy=296.0 r=2.0 fill="#4cae70"/>
<circle cx=184.6 cy=350.5 r=5.0 fill="#2e997c"/>
<circle cx=178.0 cy=360.0 r=4.0 fill="#2a8e7f"/>
<circle cx=176.5 cy=378.0 r=4.0 fill="#4cae70"/>
<g fill="#2e997c"><circle cx=154.0 cy=409.0 r=12 /><circle cx=168.6 cy=411.4 r=2.0 /></g>
<g fill="#4cae70"><circle cx=220.2 cy=280.0 r=1.0 /><circle cx=233.0 cy=305.0 r=1.0 /><circle cx=246.0 cy=317.0 r=1.5 /></g>
</g>
<g clip-path="url(#cr1)">
<circle cx=496.9 cy=440.1 r=29 fill="#bdd137"/>
<circle cx=479.7 cy=409.3 r=1.7 fill="#2b927e"/>
<g fill="#2c967d"><circle cx=475.0 cy=429.8 r=1.7 /><circle cx=484.3 cy=404.1 r=2.0 /></g>
<circle cx=479.7 cy=414.4 r=2.2 fill="#2e997c"/>
<g fill="#36a079"><circle cx=475.0 cy=440.1 r=1.2 /><circle cx=489.0 cy=429.8 r=2.4 /><circle cx=489.0 cy=424.7 r=2.4 /></g>
<circle cx=475.0 cy=424.7 r=1.8 fill="#3aa477"/>
<g fill="#45aa73"><circle cx=479.7 cy=419.6 r=2.0 /><circle cx=484.3 cy=429.8 r=1.7 /><circle cx=484.3 cy=414.4 r=2.6 /><circle cx=484.3 cy=409.3 r=2.2 /></g>
<g fill="#4cae70"><circle cx=470.4 cy=435.0 r=1.3 /><circle cx=470.4 cy=419.6 r=1.6 /><circle cx=489.0 cy=435.0 r=1.6 /></g>
<g fill="#53b26d"><circle cx=470.4 cy=424.7 r=1.5 /><circle cx=475.0 cy=435.0 r=1.2 /></g>
<g fill="#5ab56a"><circle cx=475.0 cy=414.4 r=1.7 /><circle cx=484.3 cy=419.6 r=2.2 /></g>
<circle cx=479.7 cy=440.1 r=1.3 fill="#63b866"/>
<g fill="#6bbb62"><circle cx=470.4 cy=440.1 r=1.2 /><circle cx=470.4 cy=429.8 r=1.3 /><circle cx=475.0 cy=419.6 r=1.5 /><circle cx=484.3 cy=435.0 r=1.6 /><circle cx=484.3 cy=424.7 r=2.1 /></g>
<circle cx=489.0 cy=440.1 r=1.5 fill="#73be5e"/>
<g fill="#85c455"><circle cx=479.7 cy=429.8 r=1.7 /><circle cx=484.3 cy=440.1 r=1.3 /></g>
<g fill="#abcd40"><circle cx=479.7 cy=435.0 r=1.4 /><circle cx=479.7 cy=424.7 r=1.8 /></g>
<circle cx=489.0 cy=419.6 r=2.9 fill="#45aa73"/>
<circle cx=493.6 cy=399.0 r=1.6 fill="#2a8780"/>
<circle cx=489.0 cy=399.0 r=1.6 fill="#2b8481"/>
<circle cx=489.0 cy=404.1 r=2.2 fill="#2c967d"/>
<circle cx=493.6 cy=429.8 r=1.9 fill="#2e997c"/>
<circle cx=493.6 cy=404.1 r=2.3 fill="#2f7681"/>
<circle cx=489.0 cy=414.4 r=2.4 fill="#319c7b"/>
<g fill="#36a079"><circle cx=489.0 cy=409.3 r=2.1 /><circle cx=493.6 cy=424.7 r=2.6 /><circle cx=493.6 cy=409.3 r=2.4 /></g>
<circle cx=493.6 cy=419.6 r=2.5 fill="#4cae70"/>
<circle cx=498.2 cy=424.7 r=2.6 fill="#63b866"/>
<g fill="#6bbb62"><circle cx=493.6 cy=435.0 r=1.6 /><circle cx=498.2 cy=440.1 r=1.2 /></g>
<circle cx=493.6 cy=414.4 r=2.7 fill="#7bc15a"/>
<circle cx=498.2 cy=429.8 r=2.3 fill="#85c455"/>
<circle cx=493.6 cy=440.1 r=1.5 fill="#97c94c"/>
<circle cx=498.2 cy=435.0 r=1.7 fill="#a0cb47"/>
<circle cx=498.2 cy=419.6 r=3.2 fill="#3fa775"/>
<circle cx=498.2 cy=399.0 r=2.2 fill="#2a8780"/>
<circle cx=498.2 cy=414.4 r=2.5 fill="#2b927e"/>
<g fill="#319c7b"><circle cx=498.2 cy=404.1 r=2.4 /><circle cx=502.9 cy=429.8 r=2.3 /></g>
<circle cx=498.2 cy=409.3 r=2.5 fill="#36a079"/>
<g fill="#45aa73"><circle cx=502.9 cy=440.1 r=1.2 /><circle cx=502.9 cy=424.7 r=2.6 /><circle cx=502.9 cy=419.6 r=2.6 /></g>
<circle cx=502.9 cy=435.0 r=1.6 fill="#53b26d"/>
<circle cx=502.9 cy=414.4 r=3.1 fill="#2b927e"/>
<circle cx=502.9 cy=399.0 r=2.3 fill="#2c967d"/>
<circle cx=507.6 cy=424.7 r=2.5 fill="#2e997c"/>
<circle cx=502.9 cy=393.9 r=2.1 fill="#316c80"/>
<circle cx=507.6 cy=419.6 r=2.8 fill="#319c7b"/>
<circle cx=507.6 cy=435.0 r=1.8 fill="#3fa775"/>
<circle cx=502.9 cy=409.3 r=2.7 fill="#4cae70"/>
<g fill="#5ab56a"><circle cx=502.9 cy=404.1 r=2.4 /><circle cx=507.6 cy=440.1 r=1.1 /><circle cx=507.6 cy=429.8 r=1.8 /><circle cx=507.6 cy=414.4 r=3.1 /></g>
<circle cx=507.6 cy=409.3 r=3.1 fill="#85c455"/>
<circle cx=507.6 cy=388.7 r=2.2 fill="#2a8780"/>
<g fill="#2a8e7f"><circle cx=507.6 cy=393.9 r=2.4 /><circle cx=512.2 cy=393.9 r=2.7 /><circle cx=516.9 cy=409.3 r=2.3 /></g>
<circle cx=507.6 cy=404.1 r=2.6 fill="#2b8481"/>
<circle cx=512.2 cy=399.0 r=2.5 fill="#2b927e"/>
<circle cx=507.6 cy=399.0 r=2.8 fill="#2c8081"/>
<circle cx=516.9 cy=424.7 r=1.7 fill="#2c967d"/>
<circle cx=512.2 cy=404.1 r=2.5 fill="#2e997c"/>
<circle cx=516.9 cy=414.4 r=2.3 fill="#319c7b"/>
<circle cx=512.2 cy=383.6 r=2.0 fill="#336880"/>
<circle cx=512.2 cy=419.6 r=2.5 fill="#36a079"/>
<g fill="#3aa477"><circle cx=512.2 cy=414.4 r=2.7 /><circle cx=512.2 cy=409.3 r=2.6 /><circle cx=516.9 cy=435.0 r=1.4 /></g>
<circle cx=516.9 cy=429.8 r=1.6 fill="#3fa775"/>
<circle cx=512.2 cy=435.0 r=1.4 fill="#4cae70"/>
<circle cx=512.2 cy=388.7 r=2.4 fill="#5ab56a"/>
<g fill="#63b866"><circle cx=512.2 cy=424.7 r=2.2 /><circle cx=516.9 cy=419.6 r=2.0 /></g>
<g fill="#6bbb62"><circle cx=512.2 cy=440.1 r=1.4 /><circle cx=512.2 cy=429.8 r=1.5 /></g>
<circle cx=516.9 cy=440.1 r=1.2 fill="#73be5e"/>
<circle cx=516.9 cy=404.1 r=2.9 fill="#7bc15a"/>
<circle cx=516.9 cy=378.5 r=1.9 fill="#2a8b80"/>
<circle cx=516.9 cy=383.6 r=2.3 fill="#2b8481"/>
<g fill="#2b927e"><circle cx=516.9 cy=393.9 r=2.3 /><circle cx=521.5 cy=424.7 r=1.9 /><circle cx=521.5 cy=419.6 r=2.4 /></g>
<circle cx=516.9 cy=399.0 r=2.4 fill="#2c8081"/>
<circle cx=516.9 cy=388.7 r=2.1 fill="#2e997c"/>
<circle cx=521.5 cy=414.4 r=2.6 fill="#3aa477"/>
<circle cx=521.5 cy=440.1 r=1.2 fill="#3fa775"/>
<circle cx=521.5 cy=435.0 r=1.2 fill="#53b26d"/>
<circle cx=521.5 cy=429.8 r=1.5 fill="#6bbb62"/>
<circle cx=521.5 cy=409.3 r=2.8 fill="#4cae70"/>
<circle cx=521.5 cy=404.1 r=2.7 fill="#2b927e"/>
<circle cx=521.5 cy=399.0 r=3.0 fill="#2c967d"/>
<circle cx=521.5 cy=388.7 r=2.3 fill="#2b8481"/>
<circle cx=526.2 cy=414.4 r=2.5 fill="#2b927e"/>
<circle cx=521.5 cy=393.9 r=2.6 fill="#2c967d"/>
<circle cx=521.5 cy=383.6 r=2.1 fill="#2f7681"/>
<circle cx=521.5 cy=373.3 r=1.6 fill="#316c80"/>
<circle cx=521.5 cy=378.5 r=2.0 fill="#365d7f"/>
<circle cx=526.2 cy=424.7 r=1.8 fill="#36a079"/>
<circle cx=526.2 cy=429.8 r=1.3 fill="#4cae70"/>
<circle cx=526.2 cy=419.6 r=2.1 fill="#5ab56a"/>
<circle cx=526.2 cy=435.0 r=1.4 fill="#63b866"/>
<circle cx=526.2 cy=440.1 r=1.1 fill="#8ec650"/>
<circle cx=526.2 cy=409.3 r=2.9 fill="#2b8481"/>
<circle cx=526.2 cy=404.1 r=2.3 fill="#2e997c"/>
<circle cx=526.2 cy=399.0 r=3.0 fill="#2c8081"/>
<circle cx=526.2 cy=388.7 r=2.4 fill="#2b8481"/>
<circle cx=530.8 cy=429.8 r=1.5 fill="#2b927e"/>
<circle cx=526.2 cy=393.9 r=2.4 fill="#2d7a81"/>
<circle cx=526.2 cy=378.5 r=2.1 fill="#2d7d81"/>
<g fill="#316c80"><circle cx=526.2 cy=383.6 r=2.2 /><circle cx=530.8 cy=409.3 r=2.8 /></g>
<circle cx=530.8 cy=419.6 r=1.8 fill="#319c7b"/>
<circle cx=526.2 cy=373.3 r=1.5 fill="#336880"/>
<circle cx=530.8 cy=414.4 r=2.4 fill="#36a079"/>
<circle cx=530.8 cy=440.1 r=0.9 fill="#3aa477"/>
<circle cx=526.2 cy=368.2 r=1.4 fill="#3b4e7b"/>
<g fill="#4cae70"><circle cx=530.8 cy=435.0 r=1.1 /><circle cx=530.8 cy=424.7 r=1.8 /></g>
<circle cx=530.8 cy=404.1 r=2.9 fill="#2b8481"/>
<circle cx=530.8 cy=399.0 r=2.9 fill="#319c7b"/>
<g fill="#2a8b80"><circle cx=530.8 cy=393.9 r=2.8 /><circle cx=535.5 cy=419.6 r=1.6 /></g>
<g fill="#2b927e"><circle cx=530.8 cy=388.7 r=2.5 /><circle cx=535.5 cy=399.0 r=2.2 /></g>
<circle cx=535.5 cy=424.7 r=1.7 fill="#2d7d81"/>
<circle cx=530.8 cy=373.3 r=1.4 fill="#316c80"/>
<circle cx=535.5 cy=404.1 r=2.5 fill="#319c7b"/>
<circle cx=530.8 cy=378.5 r=1.6 fill="#336880"/>
<g fill="#346480"><circle cx=530.8 cy=383.6 r=2.2 /><circle cx=530.8 cy=363.0 r=1.3 /></g>
<g fill="#36a079"><circle cx=535.5 cy=429.8 r=1.3 /><circle cx=535.5 cy=414.4 r=2.3 /></g>
<circle cx=530.8 cy=368.2 r=1.3 fill="#3a527c"/>
<circle cx=535.5 cy=409.3 r=2.1 fill="#63b866"/>
<circle cx=535.5 cy=435.0 r=1.2 fill="#73be5e"/>
<circle cx=535.5 cy=440.1 r=1.1 fill="#85c455"/>
<circle cx=535.5 cy=393.9 r=2.8 fill="#2f7281"/>
<g fill="#2a8780"><circle cx=540.1 cy=388.7 r=2.0 /><circle cx=549.4 cy=373.3 r=1.1 /><circle cx=558.7 cy=429.8 r=0.9 /><circle cx=563.4 cy=383.6 r=1.2 /><circle cx=582.0 cy=388.7 r=0.8 /></g>
<g fill="#2a8b80"><circle cx=535.5 cy=383.6 r=1.7 /><circle cx=540.1 cy=399.0 r=2.3 /><circle cx=549.4 cy=429.8 r=1.1 /><circle cx=549.4 cy=393.9 r=1.7 /><circle cx=563.4 cy=419.6 r=1.1 /></g>
<g fill="#2a8e7f"><circle cx=554.1 cy=429.8 r=0.9 /><circle cx=554.1 cy=424.7 r=1.2 /><circle cx=554.1 cy=393.9 r=1.6 /></g>
<g fill="#2b8481"><circle cx=544.8 cy=393.9 r=1.8 /><circle cx=549.4 cy=378.5 r=1.5 /><circle cx=558.7 cy=409.3 r=1.3 /><circle cx=563.4 cy=393.9 r=1.1 /><circle cx=586.6 cy=363.0 r=1.0 /></g>
<g fill="#2b927e"><circle cx=554.1 cy=399.0 r=1.6 /><circle cx=554.1 cy=388.7 r=1.7 /><circle cx=563.4 cy=409.3 r=1.1 /><circle cx=568.0 cy=399.0 r=1.2 /></g>
<g fill="#2c8081"><circle cx=554.1 cy=373.3 r=1.2 /><circle cx=558.7 cy=383.6 r=1.4 /><circle cx=563.4 cy=388.7 r=1.1 /><circle cx=568.0 cy=414.4 r=1.1 /><circle cx=568.0 cy=388.7 r=1.3 /><circle cx=572.7 cy=399.0 r=1.0 /><circle cx=582.0 cy=383.6 r=0.8 /></g>
<g fill="#2c967d"><circle cx=540.1 cy=419.6 r=1.5 /><circle cx=540.1 cy=409.3 r=2.2 /><circle cx=544.8 cy=404.1 r=2.2 /><circle cx=568.0 cy=409.3 r=1.2 /><circle cx=568.0 cy=404.1 r=1.2 /><circle cx=572.7 cy=404.1 r=1.0 /></g>
<g fill="#2d7a81"><circle cx=535.5 cy=388.7 r=2.5 /><circle cx=540.1 cy=383.6 r=2.1 /><circle cx=544.8 cy=388.7 r=1.8 /><circle cx=544.8 cy=383.6 r=1.6 /><circle cx=549.4 cy=388.7 r=2.0 /><circle cx=554.1 cy=368.2 r=1.0 /><circle cx=563.4 cy=404.1 r=1.3 /><circle cx=568.0 cy=393.9 r=1.2 /></g>
<g fill="#2d7d81"><circle cx=558.7 cy=399.0 r=1.4 /><circle cx=558.7 cy=368.2 r=1.1 /><circle cx=586.6 cy=383.6 r=1.0 /></g>
<g fill="#2e997c"><circle cx=544.8 cy=378.5 r=1.6 /><circle cx=549.4 cy=414.4 r=1.4 /><circle cx=554.1 cy=409.3 r=1.4 /><circle cx=558.7 cy=424.7 r=1.0 /></g>
<g fill="#2f7281"><circle cx=535.5 cy=363.0 r=1.2 /><circle cx=540.1 cy=363.0 r=1.0 /><circle cx=540.1 cy=357.9 r=1.1 /><circle cx=544.8 cy=373.3 r=1.2 /><circle cx=549.4 cy=368.2 r=1.1 /><circle cx=554.1 cy=383.6 r=1.6 /><circle cx=554.1 cy=378.5 r=1.3 /><circle cx=568.0 cy=378.5 r=1.0 /><circle cx=568.0 cy=373.3 r=0.9 /><circle cx=577.3 cy=383.6 r=1.0 /></g>
<g fill="#2f7681"><circle cx=535.5 cy=378.5 r=1.6 /><circle cx=540.1 cy=393.9 r=2.3 /><circle cx=544.8 cy=368.2 r=1.1 /><circle cx=549.4 cy=404.1 r=2.1 /><circle cx=549.4 cy=399.0 r=1.6 /><circle cx=549.4 cy=383.6 r=1.5 /><circle cx=558.7 cy=404.1 r=1.5 /><circle cx=563.4 cy=399.0 r=1.3 /><circle cx=563.4 cy=378.5 r=1.2 /><circle cx=577.3 cy=368.2 r=0.9 /><circle cx=582.0 cy=378.5 r=1.0 /><circle cx=582.0 cy=363.0 r=0.8 /></g>
<g fill="#306f81"><circle cx=544.8 cy=409.3 r=1.8 /><circle cx=549.4 cy=352.8 r=1.0 /><circle cx=577.3 cy=393.9 r=0.9 /><circle cx=577.3 cy=363.0 r=0.9 /><circle cx=586.6 cy=373.3 r=0.8 /><circle cx=586.6 cy=368.2 r=0.9 /></g>
<g fill="#316c80"><circle cx=572.7 cy=378.5 r=0.9 /><circle cx=572.7 cy=373.3 r=0.9 /><circle cx=572.7 cy=363.0 r=1.0 /></g>
<g fill="#319c7b"><circle cx=540.1 cy=424.7 r=1.5 /><circle cx=544.8 cy=429.8 r=1.4 /><circle cx=554.1 cy=404.1 r=1.6 /><circle cx=558.7 cy=419.6 r=1.2 /><circle cx=577.3 cy=388.7 r=0.8 /></g>
<g fill="#336880"><circle cx=535.5 cy=368.2 r=1.4 /><circle cx=540.1 cy=373.3 r=1.5 /><circle cx=554.1 cy=347.6 r=0.9 /><circle cx=558.7 cy=373.3 r=1.0 /><circle cx=558.7 cy=363.0 r=1.1 /><circle cx=558.7 cy=352.8 r=0.9 /><circle cx=568.0 cy=383.6 r=1.1 /><circle cx=572.7 cy=393.9 r=1.2 /></g>
<g fill="#346480"><circle cx=544.8 cy=363.0 r=1.2 /><circle cx=544.8 cy=357.9 r=0.9 /><circle cx=549.4 cy=363.0 r=1.1 /><circle cx=549.4 cy=347.6 r=0.9 /><circle cx=558.7 cy=393.9 r=1.6 /><circle cx=563.4 cy=357.9 r=0.9 /><circle cx=577.3 cy=378.5 r=0.9 /><circle cx=586.6 cy=378.5 r=1.0 /><circle cx=591.2 cy=373.3 r=0.8 /></g>
<g fill="#35617f"><circle cx=535.5 cy=373.3 r=1.7 /><circle cx=549.4 cy=357.9 r=1.1 /><circle cx=554.1 cy=363.0 r=1.0 /><circle cx=568.0 cy=352.8 r=1.0 /></g>
<g fill="#365d7f"><circle cx=540.1 cy=378.5 r=1.8 /><circle cx=558.7 cy=378.5 r=1.1 /><circle cx=558.7 cy=357.9 r=1.0 /><circle cx=572.7 cy=368.2 r=0.9 /><circle cx=572.7 cy=357.9 r=1.0 /><circle cx=577.3 cy=357.9 r=0.9 /><circle cx=586.6 cy=357.9 r=0.8 /></g>
<g fill="#36a079"><circle cx=540.1 cy=429.8 r=1.3 /><circle cx=540.1 cy=404.1 r=2.1 /><circle cx=549.4 cy=435.0 r=1.1 /><circle cx=558.7 cy=414.4 r=1.3 /><circle cx=558.7 cy=388.7 r=1.4 /><circle cx=572.7 cy=388.7 r=1.1 /><circle cx=577.3 cy=399.0 r=0.9 /></g>
<g fill="#37597e"><circle cx=563.4 cy=352.8 r=0.8 /><circle cx=572.7 cy=383.6 r=1.1 /><circle cx=577.3 cy=373.3 r=1.0 /><circle cx=582.0 cy=357.9 r=0.8 /></g>
<g fill="#39557d"><circle cx=535.5 cy=357.9 r=1.0 /><circle cx=563.4 cy=368.2 r=1.1 /><circle cx=568.0 cy=357.9 r=0.9 /><circle cx=595.9 cy=368.2 r=0.9 /></g>
<g fill="#3a527c"><circle cx=563.4 cy=363.0 r=0.9 /><circle cx=568.0 cy=368.2 r=0.8 /><circle cx=582.0 cy=368.2 r=0.9 /><circle cx=591.2 cy=368.2 r=0.9 /></g>
<g fill="#3aa477"><circle cx=544.8 cy=414.4 r=1.8 /><circle cx=549.4 cy=419.6 r=1.4 /></g>
<g fill="#3b4e7b"><circle cx=540.1 cy=368.2 r=1.2 /><circle cx=554.1 cy=357.9 r=1.0 /><circle cx=554.1 cy=352.8 r=1.0 /><circle cx=558.7 cy=347.6 r=0.8 /><circle cx=563.4 cy=373.3 r=1.1 /></g>
<g fill="#3d497a"><circle cx=568.0 cy=363.0 r=1.1 /><circle cx=572.7 cy=352.8 r=0.8 /><circle cx=572.7 cy=347.6 r=1.0 /><circle cx=582.0 cy=373.3 r=0.9 /></g>
<circle cx=568.0 cy=347.6 r=0.9 fill="#3e4579"/>
<circle cx=595.9 cy=363.0 r=0.8 fill="#3f4177"/>
<circle cx=554.1 cy=419.6 r=1.3 fill="#3fa775"/>
<circle cx=591.2 cy=363.0 r=0.8 fill="#422f6d"/>
<circle cx=563.4 cy=347.6 r=1.0 fill="#423470"/>
<g fill="#45aa73"><circle cx=540.1 cy=414.4 r=1.6 /><circle cx=544.8 cy=440.1 r=1.0 /><circle cx=544.8 cy=424.7 r=1.5 /><circle cx=544.8 cy=419.6 r=1.5 /><circle cx=549.4 cy=424.7 r=1.4 /><circle cx=563.4 cy=414.4 r=1.1 /></g>
<circle cx=554.1 cy=414.4 r=1.6 fill="#4cae70"/>
<g fill="#5ab56a"><circle cx=544.8 cy=435.0 r=1.2 /><circle cx=554.1 cy=440.1 r=1.1 /></g>
<g fill="#63b866"><circle cx=540.1 cy=440.1 r=1.1 /><circle cx=554.1 cy=435.0 r=1.1 /></g>
<g fill="#6bbb62"><circle cx=540.1 cy=435.0 r=1.1 /><circle cx=544.8 cy=399.0 r=2.4 /><circle cx=549.4 cy=409.3 r=1.7 /></g>
<circle cx=549.4 cy=440.1 r=1.1 fill="#abcd40"/>
<circle cx=512.2 cy=378.5 r=12 fill="#2e997c"/>
<g fill="#2d7a81"><circle cx=503.4 cy=425.7 r=7.0 /><circle cx=503.4 cy=418.5 r=5.0 /></g>
<g fill="#316c80"><circle cx=548.5 cy=404.1 r=3.5 /><circle cx=558.2 cy=404.1 r=3.0 /></g>
<circle cx=586.6 cy=399.0 r=2.5 fill="#2a8e7f"/>
<g fill="#2c967d"><circle cx=549.4 cy=386.2 r=4.0 /><circle cx=549.4 cy=393.9 r=4.5 /></g>
<g fill="#4cae70"><circle cx=488.0 cy=404.7 r=3.0 /><circle cx=478.7 cy=413.4 r=3.0 /></g>
<circle cx=484.3 cy=412.4 r=4.0 fill="#3fa775"/>
<g fill="#4cae70"><circle cx=540.1 cy=433.4 r=3.5 /><circle cx=540.1 cy=427.3 r=3.0 /></g>
<circle cx=528.5 cy=419.6 r=3.0 fill="#3aa477"/>
<g fill="#97c94c"><circle cx=600.6 cy=296.3 r=0.8 /><circle cx=614.5 cy=316.8 r=0.8 /></g>
<circle cx=479.7 cy=435.0 r=4.0 fill="#2e997c"/>
<g fill="#2a8e7f"><circle cx=489.0 cy=429.8 r=3.5 /><circle cx=558.7 cy=352.8 r=2.0 /></g>
<circle cx=563.4 cy=352.8 r=2.0 fill="#2b8481"/>
<circle cx=567.5 cy=347.3 r=2.0 fill="#306f81"/>
</g>
<rect x="65.10" y="260.30" width="233.10" height="179.80" fill="none" stroke="#3a3a3a" stroke-width="1.1"/>
<line x1="65.10" y1="440.10" x2="65.10" y2="445.70" stroke="#3a3a3a" stroke-width="1.1"/>
<text transform="translate(65.10,469.80) scale(1.240,1)" font-size="15.2" font-weight="bold" text-anchor="middle" fill="#111" stroke="#111" stroke-width="0.35">0.0</text>
<line x1="142.80" y1="440.10" x2="142.80" y2="445.70" stroke="#3a3a3a" stroke-width="1.1"/>
<text transform="translate(142.80,469.80) scale(1.240,1)" font-size="15.2" font-weight="bold" text-anchor="middle" fill="#111" stroke="#111" stroke-width="0.35">0.5</text>
<line x1="220.50" y1="440.10" x2="220.50" y2="445.70" stroke="#3a3a3a" stroke-width="1.1"/>
<text transform="translate(220.50,469.80) scale(1.240,1)" font-size="15.2" font-weight="bold" text-anchor="middle" fill="#111" stroke="#111" stroke-width="0.35">1.0</text>
<line x1="298.20" y1="440.10" x2="298.20" y2="445.70" stroke="#3a3a3a" stroke-width="1.1"/>
<text transform="translate(298.20,469.80) scale(1.240,1)" font-size="15.2" font-weight="bold" text-anchor="middle" fill="#111" stroke="#111" stroke-width="0.35">1.5</text>
<line x1="59.50" y1="440.10" x2="65.10" y2="440.10" stroke="#3a3a3a" stroke-width="1.1"/>
<text transform="translate(45.60,443.90) scale(1.240,1)" font-size="15.2" font-weight="bold" text-anchor="end" fill="#111" stroke="#111" stroke-width="0.35">0</text>
<line x1="59.50" y1="368.18" x2="65.10" y2="368.18" stroke="#3a3a3a" stroke-width="1.1"/>
<text transform="translate(45.60,371.98) scale(1.240,1)" font-size="15.2" font-weight="bold" text-anchor="end" fill="#111" stroke="#111" stroke-width="0.35">1</text>
<line x1="59.50" y1="296.26" x2="65.10" y2="296.26" stroke="#3a3a3a" stroke-width="1.1"/>
<text transform="translate(45.60,300.06) scale(1.240,1)" font-size="15.2" font-weight="bold" text-anchor="end" fill="#111" stroke="#111" stroke-width="0.35">2</text>
<text transform="translate(181.65,489.10) scale(1.050,1)" font-size="15" font-weight="normal" text-anchor="middle" fill="#111">O/C</text>
<text transform="translate(20.70,350.20) rotate(-90) scale(1.050,1)" font-size="15" font-weight="normal" text-anchor="middle" fill="#111">H/C</text>
<rect x="447.10" y="260.30" width="232.50" height="179.80" fill="none" stroke="#3a3a3a" stroke-width="1.1"/>
<line x1="447.10" y1="440.10" x2="447.10" y2="445.70" stroke="#3a3a3a" stroke-width="1.1"/>
<text transform="translate(447.10,469.80) scale(1.240,1)" font-size="15.2" font-weight="bold" text-anchor="middle" fill="#111" stroke="#111" stroke-width="0.35">0</text>
<line x1="493.60" y1="440.10" x2="493.60" y2="445.70" stroke="#3a3a3a" stroke-width="1.1"/>
<text transform="translate(493.60,469.80) scale(1.240,1)" font-size="15.2" font-weight="bold" text-anchor="middle" fill="#111" stroke="#111" stroke-width="0.35">10</text>
<line x1="540.10" y1="440.10" x2="540.10" y2="445.70" stroke="#3a3a3a" stroke-width="1.1"/>
<text transform="translate(540.10,469.80) scale(1.240,1)" font-size="15.2" font-weight="bold" text-anchor="middle" fill="#111" stroke="#111" stroke-width="0.35">20</text>
<line x1="586.60" y1="440.10" x2="586.60" y2="445.70" stroke="#3a3a3a" stroke-width="1.1"/>
<text transform="translate(586.60,469.80) scale(1.240,1)" font-size="15.2" font-weight="bold" text-anchor="middle" fill="#111" stroke="#111" stroke-width="0.35">30</text>
<line x1="633.10" y1="440.10" x2="633.10" y2="445.70" stroke="#3a3a3a" stroke-width="1.1"/>
<text transform="translate(633.10,469.80) scale(1.240,1)" font-size="15.2" font-weight="bold" text-anchor="middle" fill="#111" stroke="#111" stroke-width="0.35">40</text>
<line x1="679.60" y1="440.10" x2="679.60" y2="445.70" stroke="#3a3a3a" stroke-width="1.1"/>
<text transform="translate(679.60,469.80) scale(1.240,1)" font-size="15.2" font-weight="bold" text-anchor="middle" fill="#111" stroke="#111" stroke-width="0.35">50</text>
<line x1="441.50" y1="440.10" x2="447.10" y2="440.10" stroke="#3a3a3a" stroke-width="1.1"/>
<text transform="translate(427.60,443.90) scale(1.240,1)" font-size="15.2" font-weight="bold" text-anchor="end" fill="#111" stroke="#111" stroke-width="0.35">0</text>
<line x1="441.50" y1="388.73" x2="447.10" y2="388.73" stroke="#3a3a3a" stroke-width="1.1"/>
<text transform="translate(427.60,392.53) scale(1.240,1)" font-size="15.2" font-weight="bold" text-anchor="end" fill="#111" stroke="#111" stroke-width="0.35">10</text>
<line x1="441.50" y1="337.36" x2="447.10" y2="337.36" stroke="#3a3a3a" stroke-width="1.1"/>
<text transform="translate(427.60,341.16) scale(1.240,1)" font-size="15.2" font-weight="bold" text-anchor="end" fill="#111" stroke="#111" stroke-width="0.35">20</text>
<line x1="441.50" y1="285.99" x2="447.10" y2="285.99" stroke="#3a3a3a" stroke-width="1.1"/>
<text transform="translate(427.60,289.79) scale(1.240,1)" font-size="15.2" font-weight="bold" text-anchor="end" fill="#111" stroke="#111" stroke-width="0.35">30</text>
<text transform="translate(563.35,489.10) scale(1.110,1)" font-size="15" font-weight="normal" text-anchor="middle" fill="#111">C Number</text>
<text transform="translate(400.80,350.20) rotate(-90) scale(1.050,1)" font-size="15" font-weight="normal" text-anchor="middle" fill="#111">DBE</text>
<rect x="312.30" y="260.30" width="9.60" height="179.80" fill="url(#vg)" stroke="#222" stroke-width="0.9"/>
<text transform="translate(324.90,444.00) scale(1.100,1)" font-size="15.3" font-weight="normal" text-anchor="start" fill="#111">0</text>
<line x1="319.40" y1="422.12" x2="321.90" y2="422.12" stroke="#222" stroke-width="0.8"/>
<text transform="translate(324.90,426.02) scale(1.100,1)" font-size="15.3" font-weight="normal" text-anchor="start" fill="#111">80</text>
<line x1="319.40" y1="404.14" x2="321.90" y2="404.14" stroke="#222" stroke-width="0.8"/>
<text transform="translate(324.90,408.04) scale(1.100,1)" font-size="15.3" font-weight="normal" text-anchor="start" fill="#111">160</text>
<line x1="319.40" y1="386.16" x2="321.90" y2="386.16" stroke="#222" stroke-width="0.8"/>
<text transform="translate(324.90,390.06) scale(1.100,1)" font-size="15.3" font-weight="normal" text-anchor="start" fill="#111">240</text>
<line x1="319.40" y1="368.18" x2="321.90" y2="368.18" stroke="#222" stroke-width="0.8"/>
<text transform="translate(324.90,372.08) scale(1.100,1)" font-size="15.3" font-weight="normal" text-anchor="start" fill="#111">320</text>
<line x1="319.40" y1="350.20" x2="321.90" y2="350.20" stroke="#222" stroke-width="0.8"/>
<text transform="translate(324.90,354.10) scale(1.100,1)" font-size="15.3" font-weight="normal" text-anchor="start" fill="#111">400</text>
<line x1="319.40" y1="332.22" x2="321.90" y2="332.22" stroke="#222" stroke-width="0.8"/>
<text transform="translate(324.90,336.12) scale(1.100,1)" font-size="15.3" font-weight="normal" text-anchor="start" fill="#111">480</text>
<line x1="319.40" y1="314.24" x2="321.90" y2="314.24" stroke="#222" stroke-width="0.8"/>
<text transform="translate(324.90,318.14) scale(1.100,1)" font-size="15.3" font-weight="normal" text-anchor="start" fill="#111">560</text>
<line x1="319.40" y1="296.26" x2="321.90" y2="296.26" stroke="#222" stroke-width="0.8"/>
<text transform="translate(324.90,300.16) scale(1.100,1)" font-size="15.3" font-weight="normal" text-anchor="start" fill="#111">640</text>
<line x1="319.40" y1="278.28" x2="321.90" y2="278.28" stroke="#222" stroke-width="0.8"/>
<text transform="translate(324.90,282.18) scale(1.100,1)" font-size="15.3" font-weight="normal" text-anchor="start" fill="#111">720</text>
<text transform="translate(324.90,264.20) scale(1.100,1)" font-size="15.3" font-weight="normal" text-anchor="start" fill="#111">800</text>
<rect x="693.70" y="260.30" width="9.20" height="179.80" fill="url(#vg)" stroke="#222" stroke-width="0.9"/>
<text transform="translate(705.90,444.00) scale(1.100,1)" font-size="15.3" font-weight="normal" text-anchor="start" fill="#111">0</text>
<line x1="700.40" y1="422.12" x2="702.90" y2="422.12" stroke="#222" stroke-width="0.8"/>
<text transform="translate(705.90,426.02) scale(1.100,1)" font-size="15.3" font-weight="normal" text-anchor="start" fill="#111">2</text>
<line x1="700.40" y1="404.14" x2="702.90" y2="404.14" stroke="#222" stroke-width="0.8"/>
<text transform="translate(705.90,408.04) scale(1.100,1)" font-size="15.3" font-weight="normal" text-anchor="start" fill="#111">4</text>
<line x1="700.40" y1="386.16" x2="702.90" y2="386.16" stroke="#222" stroke-width="0.8"/>
<text transform="translate(705.90,390.06) scale(1.100,1)" font-size="15.3" font-weight="normal" text-anchor="start" fill="#111">6</text>
<line x1="700.40" y1="368.18" x2="702.90" y2="368.18" stroke="#222" stroke-width="0.8"/>
<text transform="translate(705.90,372.08) scale(1.100,1)" font-size="15.3" font-weight="normal" text-anchor="start" fill="#111">8</text>
<line x1="700.40" y1="350.20" x2="702.90" y2="350.20" stroke="#222" stroke-width="0.8"/>
<text transform="translate(705.90,354.10) scale(1.100,1)" font-size="15.3" font-weight="normal" text-anchor="start" fill="#111">10</text>
<line x1="700.40" y1="332.22" x2="702.90" y2="332.22" stroke="#222" stroke-width="0.8"/>
<text transform="translate(705.90,336.12) scale(1.100,1)" font-size="15.3" font-weight="normal" text-anchor="start" fill="#111">12</text>
<line x1="700.40" y1="314.24" x2="702.90" y2="314.24" stroke="#222" stroke-width="0.8"/>
<text transform="translate(705.90,318.14) scale(1.100,1)" font-size="15.3" font-weight="normal" text-anchor="start" fill="#111">14</text>
<line x1="700.40" y1="296.26" x2="702.90" y2="296.26" stroke="#222" stroke-width="0.8"/>
<text transform="translate(705.90,300.16) scale(1.100,1)" font-size="15.3" font-weight="normal" text-anchor="start" fill="#111">16</text>
<line x1="700.40" y1="278.28" x2="702.90" y2="278.28" stroke="#222" stroke-width="0.8"/>
<text transform="translate(705.90,282.18) scale(1.100,1)" font-size="15.3" font-weight="normal" text-anchor="start" fill="#111">18</text>
<text transform="translate(705.90,264.20) scale(1.100,1)" font-size="15.3" font-weight="normal" text-anchor="start" fill="#111">20</text>
<text transform="translate(369.20,350.20) rotate(-90) scale(1.030,1)" font-size="15.5" font-weight="normal" text-anchor="middle" fill="#111">Mass</text>
<text transform="translate(740.50,350.20) rotate(-90) scale(1.050,1)" font-size="15" font-weight="normal" text-anchor="middle" fill="#111">O #</text>
<text transform="translate(0.00,253.40) scale(1.030,1)" font-size="25" font-weight="bold" text-anchor="start" fill="#000">(b)</text>
<g clip-path="url(#cl2)">
<g fill="#4cae70"><circle cx=86.0 cy=547.8 r=6.0 /><circle cx=84.4 cy=557.5 r=6.0 /><circle cx=96.5 cy=551.0 r=8.0 /></g>
<g fill="#53b26d"><circle cx=92.5 cy=549.4 r=9.0 /><circle cx=100.0 cy=546.0 r=6.0 /></g>
<g fill="#2a8780"><circle cx=176.1 cy=590.8 r=2.0 /><circle cx=168.7 cy=613.6 r=1.4 /><circle cx=168.7 cy=597.6 r=1.6 /><circle cx=203.2 cy=549.7 r=0.7 /><circle cx=111.7 cy=621.6 r=1.5 /><circle cx=205.0 cy=578.4 r=1.5 /><circle cx=149.9 cy=602.0 r=1.4 /><circle cx=178.1 cy=628.1 r=0.9 /><circle cx=192.2 cy=549.7 r=0.7 /><circle cx=142.8 cy=633.6 r=2.1 /><circle cx=142.8 cy=597.6 r=1.8 /></g>
<g fill="#2a8b80"><circle cx=176.1 cy=570.2 r=1.5 /><circle cx=151.4 cy=581.6 r=1.3 /><circle cx=111.7 cy=592.8 r=1.1 /><circle cx=142.8 cy=592.8 r=1.9 /><circle cx=173.9 cy=621.6 r=2.2 /><circle cx=173.9 cy=564.0 r=0.9 /><circle cx=205.0 cy=564.0 r=1.7 /><circle cx=135.7 cy=628.1 r=1.8 /><circle cx=149.9 cy=588.9 r=1.5 /><circle cx=178.1 cy=654.3 r=1.0 /><circle cx=192.2 cy=628.1 r=2.8 /><circle cx=116.9 cy=621.6 r=1.7 /><circle cx=116.9 cy=597.6 r=1.3 /><circle cx=142.8 cy=645.6 r=1.8 /><circle cx=168.7 cy=621.6 r=1.9 /></g>
<g fill="#2a8e7f"><circle cx=153.9 cy=611.3 r=1.8 /><circle cx=153.9 cy=590.8 r=1.4 /><circle cx=220.5 cy=529.1 r=0.6 /><circle cx=142.8 cy=603.6 r=1.9 /><circle cx=162.2 cy=621.6 r=1.8 /><circle cx=201.1 cy=567.6 r=1.5 /><circle cx=142.8 cy=564.0 r=1.1 /><circle cx=121.6 cy=615.0 r=1.2 /><circle cx=149.9 cy=628.1 r=1.8 /><circle cx=220.5 cy=575.8 r=0.6 /><circle cx=129.8 cy=621.6 r=1.8 /><circle cx=142.8 cy=609.6 r=2.0 /><circle cx=155.8 cy=633.6 r=1.7 /><circle cx=155.8 cy=597.6 r=1.5 /><circle cx=168.7 cy=573.6 r=1.5 /></g>
<g fill="#2b8481"><circle cx=162.2 cy=585.6 r=1.5 /><circle cx=181.6 cy=603.6 r=1.8 /><circle cx=158.3 cy=607.2 r=1.8 /><circle cx=158.3 cy=592.8 r=1.5 /><circle cx=158.3 cy=578.4 r=1.6 /><circle cx=164.0 cy=588.9 r=1.3 /><circle cx=164.0 cy=575.8 r=1.4 /><circle cx=178.1 cy=615.0 r=1.4 /><circle cx=129.8 cy=597.6 r=1.7 /></g>
<g fill="#2b927e"><circle cx=198.3 cy=570.2 r=1.5 /><circle cx=142.8 cy=657.5 r=1.2 /><circle cx=181.6 cy=621.6 r=1.4 /><circle cx=134.2 cy=597.6 r=1.3 /><circle cx=96.2 cy=621.6 r=1.4 /><circle cx=142.8 cy=650.3 r=1.5 /><circle cx=158.3 cy=621.6 r=1.9 /><circle cx=135.7 cy=641.2 r=1.2 /><circle cx=135.7 cy=602.0 r=1.3 /><circle cx=149.9 cy=641.2 r=1.2 /><circle cx=149.9 cy=615.0 r=1.8 /><circle cx=164.0 cy=615.0 r=1.4 /><circle cx=103.9 cy=621.6 r=1.3 /><circle cx=103.9 cy=609.6 r=0.8 /><circle cx=103.9 cy=585.6 r=0.9 /></g>
<g fill="#2c8081"><circle cx=198.3 cy=590.8 r=1.4 /><circle cx=151.4 cy=597.6 r=1.3 /><circle cx=203.2 cy=565.6 r=1.6 /><circle cx=173.9 cy=592.8 r=1.6 /><circle cx=189.4 cy=549.7 r=0.6 /><circle cx=205.0 cy=592.8 r=0.8 /><circle cx=155.8 cy=609.6 r=1.7 /></g>
<g fill="#2c967d"><circle cx=176.1 cy=631.9 r=1.0 /><circle cx=116.9 cy=629.6 r=1.3 /><circle cx=116.9 cy=613.6 r=1.1 /><circle cx=151.4 cy=613.6 r=1.8 /><circle cx=96.2 cy=592.8 r=0.7 /><circle cx=111.7 cy=578.4 r=0.7 /><circle cx=142.8 cy=621.6 r=1.9 /><circle cx=121.6 cy=641.2 r=1.5 /><circle cx=121.6 cy=602.0 r=1.5 /><circle cx=135.7 cy=654.3 r=0.8 /><circle cx=116.9 cy=633.6 r=1.3 /><circle cx=116.9 cy=609.6 r=1.4 /><circle cx=129.8 cy=645.6 r=1.3 /><circle cx=142.8 cy=621.6 r=1.8 /><circle cx=142.8 cy=585.6 r=1.9 /><circle cx=155.8 cy=621.6 r=1.8 /></g>
<g fill="#2d7a81"><circle cx=181.6 cy=585.6 r=1.7 /><circle cx=186.0 cy=597.6 r=1.3 /><circle cx=186.0 cy=581.6 r=1.6 /><circle cx=203.2 cy=581.6 r=2.5 /><circle cx=173.9 cy=607.2 r=1.7 /><circle cx=189.4 cy=564.0 r=1.4 /><circle cx=178.1 cy=588.9 r=1.6 /><circle cx=206.4 cy=588.9 r=0.7 /></g>
<g fill="#2d7d81"><circle cx=201.1 cy=585.6 r=1.4 /><circle cx=168.7 cy=581.6 r=1.4 /><circle cx=173.9 cy=578.4 r=1.7 /><circle cx=189.4 cy=607.2 r=1.0 /><circle cx=192.2 cy=588.9 r=1.3 /><circle cx=206.4 cy=575.8 r=1.2 /><circle cx=168.7 cy=597.6 r=2.2 /></g>
<g fill="#2e997c"><circle cx=131.7 cy=631.9 r=1.8 /><circle cx=131.7 cy=611.3 r=1.8 /><circle cx=103.9 cy=621.6 r=1.4 /><circle cx=123.4 cy=585.6 r=1.0 /><circle cx=142.8 cy=639.6 r=2.1 /><circle cx=142.8 cy=621.6 r=2.0 /><circle cx=99.6 cy=581.6 r=0.9 /><circle cx=127.3 cy=636.0 r=1.7 /><circle cx=127.3 cy=621.6 r=2.0 /><circle cx=127.3 cy=592.8 r=1.0 /><circle cx=93.4 cy=575.8 r=0.9 /><circle cx=107.5 cy=602.0 r=0.8 /><circle cx=121.6 cy=588.9 r=0.9 /><circle cx=121.6 cy=575.8 r=0.7 /><circle cx=135.7 cy=615.0 r=1.8 /><circle cx=135.7 cy=588.9 r=0.8 /><circle cx=164.0 cy=628.1 r=1.4 /><circle cx=129.8 cy=633.6 r=2.0 /><circle cx=142.8 cy=657.5 r=1.3 /><circle cx=155.8 cy=585.6 r=1.7 /><circle cx=168.7 cy=633.6 r=1.1 /></g>
<g fill="#2f7281"><circle cx=186.0 cy=565.6 r=1.3 /><circle cx=189.4 cy=592.8 r=1.4 /><circle cx=189.4 cy=578.4 r=1.8 /><circle cx=178.1 cy=575.8 r=1.4 /><circle cx=168.7 cy=609.6 r=1.6 /></g>
<g fill="#2f7681"><circle cx=162.2 cy=603.6 r=1.6 /><circle cx=164.0 cy=602.0 r=1.5 /></g>
<g fill="#306f81"><circle cx=192.2 cy=602.0 r=1.4 /><circle cx=192.2 cy=575.8 r=2.0 /></g>
<g fill="#319c7b"><circle cx=151.4 cy=629.6 r=1.8 /><circle cx=127.3 cy=607.2 r=1.7 /><circle cx=103.9 cy=561.6 r=0.7 /><circle cx=116.9 cy=561.6 r=1.2 /><circle cx=129.8 cy=609.6 r=1.7 /><circle cx=129.8 cy=561.6 r=0.7 /></g>
<g fill="#36a079"><circle cx=109.5 cy=611.3 r=1.0 /><circle cx=131.7 cy=652.4 r=2.5 /><circle cx=131.7 cy=590.8 r=1.0 /><circle cx=153.9 cy=631.9 r=1.8 /><circle cx=220.5 cy=567.6 r=0.8 /><circle cx=82.4 cy=597.6 r=1.0 /><circle cx=116.9 cy=645.6 r=1.3 /><circle cx=134.2 cy=613.6 r=1.8 /><circle cx=151.4 cy=645.6 r=1.1 /><circle cx=168.7 cy=629.6 r=1.5 /><circle cx=111.7 cy=607.2 r=1.7 /><circle cx=142.8 cy=636.0 r=1.8 /></g>
<g fill="#3aa477"><circle cx=131.7 cy=570.2 r=0.8 /><circle cx=220.5 cy=570.2 r=0.7 /><circle cx=123.4 cy=603.6 r=1.5 /><circle cx=142.8 cy=585.6 r=2.0 /><circle cx=107.5 cy=575.8 r=0.6 /><circle cx=116.9 cy=645.6 r=1.3 /></g>
<g fill="#3d497a"><circle cx=123.4 cy=621.6 r=1.9 /><circle cx=121.6 cy=628.1 r=1.9 /></g>
<circle cx=134.2 cy=629.6 r=1.8 fill="#3e4579"/>
<circle cx=107.5 cy=654.3 r=1.0 fill="#3f4177"/>
<g fill="#3fa775"><circle cx=84.5 cy=585.6 r=1.0 /><circle cx=123.4 cy=639.6 r=1.5 /><circle cx=173.9 cy=650.3 r=1.1 /></g>
<circle cx=176.1 cy=611.3 r=1.6 fill="#403c75"/>
<circle cx=181.6 cy=567.6 r=1.8 fill="#422566"/>
<circle cx=168.7 cy=585.6 r=1.5 fill="#422a69"/>
<circle cx=142.8 cy=607.2 r=2.1 fill="#422f6d"/>
<circle cx=162.2 cy=639.6 r=1.5 fill="#45aa73"/>
<g fill="#4cae70"><circle cx=99.6 cy=565.6 r=0.7 /><circle cx=158.3 cy=636.0 r=1.7 /></g>
<circle cx=181.6 cy=621.6 r=3.1 fill="#2e997c"/>
<circle cx=148.8 cy=616.0 r=1.8 fill="#2a8780"/>
<g fill="#2a8b80"><circle cx=112.9 cy=605.0 r=1.0 /><circle cx=136.8 cy=616.0 r=1.8 /></g>
<g fill="#2a8e7f"><circle cx=181.6 cy=561.6 r=0.7 /><circle cx=207.5 cy=561.6 r=1.5 /><circle cx=124.9 cy=627.1 r=1.4 /></g>
<circle cx=136.8 cy=627.1 r=1.8 fill="#2b8481"/>
<g fill="#2b927e"><circle cx=181.6 cy=573.6 r=1.6 /><circle cx=112.9 cy=649.2 r=1.1 /><circle cx=124.9 cy=605.0 r=1.6 /><circle cx=136.8 cy=638.2 r=1.2 /><circle cx=136.8 cy=593.9 r=1.5 /><circle cx=148.8 cy=638.2 r=1.2 /><circle cx=148.8 cy=627.1 r=1.8 /><circle cx=148.8 cy=605.0 r=1.3 /><circle cx=160.7 cy=627.1 r=1.5 /></g>
<g fill="#2c8081"><circle cx=181.6 cy=597.6 r=1.4 /><circle cx=194.6 cy=561.6 r=1.4 /><circle cx=148.8 cy=593.9 r=1.3 /></g>
<g fill="#2c967d"><circle cx=112.9 cy=593.9 r=1.1 /><circle cx=124.9 cy=638.2 r=1.6 /><circle cx=124.9 cy=593.9 r=1.0 /><circle cx=160.7 cy=638.2 r=1.6 /></g>
<g fill="#2d7a81"><circle cx=194.6 cy=597.6 r=1.7 /><circle cx=136.8 cy=605.0 r=1.4 /><circle cx=160.7 cy=616.0 r=1.3 /></g>
<g fill="#2d7d81"><circle cx=181.6 cy=585.6 r=1.6 /><circle cx=194.6 cy=585.6 r=1.5 /><circle cx=207.5 cy=573.6 r=1.3 /><circle cx=220.5 cy=597.6 r=1.0 /></g>
<g fill="#2e997c"><circle cx=124.9 cy=571.8 r=0.7 /><circle cx=148.8 cy=582.9 r=1.4 /></g>
<circle cx=181.6 cy=609.6 r=1.6 fill="#2f7281"/>
<circle cx=194.6 cy=573.6 r=1.6 fill="#2f7681"/>
<g fill="#319c7b"><circle cx=89.0 cy=605.0 r=0.8 /><circle cx=124.9 cy=616.0 r=1.2 /><circle cx=136.8 cy=649.2 r=0.9 /></g>
<circle cx=112.9 cy=582.9 r=0.7 fill="#36a079"/>
<g fill="#3aa477"><circle cx=89.0 cy=560.7 r=0.8 /><circle cx=112.9 cy=616.0 r=1.0 /></g>
<circle cx=101.0 cy=660.3 r=0.9 fill="#3b4e7b"/>
<circle cx=101.0 cy=605.0 r=2.2 fill="#3fa775"/>
<circle cx=160.7 cy=605.0 r=3.1 fill="#2d7a81"/>
<g fill="#2a8780"><circle cx=196.6 cy=560.7 r=1.6 /><circle cx=208.5 cy=560.7 r=1.7 /><circle cx=120.6 cy=621.6 r=1.7 /></g>
<g fill="#2a8b80"><circle cx=172.7 cy=616.0 r=1.3 /><circle cx=220.5 cy=571.8 r=1.0 /><circle cx=109.5 cy=621.6 r=1.4 /><circle cx=142.8 cy=601.0 r=1.9 /><circle cx=142.8 cy=590.8 r=2.1 /></g>
<g fill="#2a8e7f"><circle cx=109.5 cy=631.9 r=0.9 /><circle cx=120.6 cy=611.3 r=1.4 /><circle cx=120.6 cy=601.0 r=1.4 /><circle cx=131.7 cy=642.1 r=1.3 /><circle cx=131.7 cy=621.6 r=1.8 /></g>
<g fill="#2b8481"><circle cx=256.4 cy=549.7 r=0.7 /><circle cx=153.9 cy=631.9 r=1.8 /><circle cx=153.9 cy=549.7 r=0.7 /></g>
<g fill="#2b927e"><circle cx=142.8 cy=642.1 r=1.7 /><circle cx=142.8 cy=611.3 r=1.9 /><circle cx=165.0 cy=642.1 r=1.4 /><circle cx=165.0 cy=631.9 r=1.6 /></g>
<g fill="#2c8081"><circle cx=160.7 cy=593.9 r=1.3 /><circle cx=184.6 cy=560.7 r=0.6 /><circle cx=153.9 cy=642.1 r=1.2 /><circle cx=153.9 cy=621.6 r=1.9 /><circle cx=153.9 cy=601.0 r=1.5 /></g>
<g fill="#2c967d"><circle cx=172.7 cy=627.1 r=1.4 /><circle cx=98.4 cy=580.5 r=0.9 /><circle cx=120.6 cy=631.9 r=1.5 /><circle cx=120.6 cy=590.8 r=1.0 /><circle cx=131.7 cy=590.8 r=1.0 /></g>
<circle cx=172.7 cy=571.8 r=1.2 fill="#2d7a81"/>
<g fill="#2d7d81"><circle cx=208.5 cy=571.8 r=1.2 /><circle cx=131.7 cy=631.9 r=1.8 /></g>
<g fill="#2e997c"><circle cx=131.7 cy=611.3 r=1.8 /><circle cx=142.8 cy=631.9 r=1.8 /></g>
<g fill="#2f7681"><circle cx=172.7 cy=605.0 r=1.4 /><circle cx=172.7 cy=582.9 r=1.2 /><circle cx=184.6 cy=605.0 r=1.3 /><circle cx=196.6 cy=593.9 r=1.6 /><circle cx=196.6 cy=582.9 r=1.3 /><circle cx=208.5 cy=582.9 r=1.4 /><circle cx=153.9 cy=590.8 r=1.4 /><circle cx=153.9 cy=580.5 r=1.3 /></g>
<g fill="#306f81"><circle cx=184.6 cy=593.9 r=1.4 /><circle cx=196.6 cy=571.8 r=1.7 /><circle cx=153.9 cy=611.3 r=1.8 /></g>
<circle cx=109.5 cy=590.8 r=1.0 fill="#319c7b"/>
<circle cx=184.6 cy=582.9 r=1.7 fill="#336880"/>
<circle cx=172.7 cy=593.9 r=1.6 fill="#35617f"/>
<circle cx=120.6 cy=642.1 r=1.4 fill="#3aa477"/>
<circle cx=131.7 cy=601.0 r=1.4 fill="#3fa775"/>
<circle cx=184.6 cy=571.8 r=1.5 fill="#422a69"/>
<circle cx=65.1 cy=549.7 r=0.9 fill="#45aa73"/>
<circle cx=142.8 cy=621.6 r=1.9 fill="#5ab56a"/>
<circle cx=165.0 cy=621.6 r=3.3 fill="#2c8081"/>
<g fill="#2a8780"><circle cx=176.1 cy=631.9 r=0.8 /><circle cx=209.4 cy=559.9 r=1.6 /><circle cx=137.6 cy=597.6 r=1.3 /><circle cx=148.0 cy=607.2 r=1.3 /><circle cx=148.0 cy=588.0 r=1.3 /><circle cx=220.5 cy=568.8 r=0.7 /><circle cx=133.1 cy=594.6 r=1.4 /><circle cx=142.8 cy=603.6 r=2.0 /><circle cx=152.5 cy=621.6 r=2.0 /><circle cx=162.2 cy=630.6 r=1.8 /><circle cx=210.8 cy=567.6 r=1.4 /><circle cx=138.2 cy=625.8 r=1.8 /><circle cx=138.2 cy=592.0 r=1.6 /><circle cx=147.4 cy=651.2 r=0.9 /><circle cx=147.4 cy=642.7 r=1.0 /><circle cx=156.5 cy=625.8 r=1.4 /><circle cx=174.8 cy=625.8 r=0.8 /><circle cx=108.3 cy=621.6 r=1.5 /><circle cx=134.2 cy=645.6 r=1.1 /><circle cx=134.2 cy=637.6 r=1.3 /></g>
<g fill="#2a8b80"><circle cx=165.0 cy=570.2 r=0.7 /><circle cx=176.1 cy=652.4 r=1.0 /><circle cx=127.3 cy=597.6 r=1.4 /><circle cx=137.6 cy=626.4 r=1.8 /><circle cx=137.6 cy=588.0 r=0.8 /><circle cx=148.0 cy=578.4 r=0.7 /><circle cx=168.7 cy=626.4 r=1.3 /><circle cx=103.9 cy=603.6 r=0.9 /><circle cx=113.7 cy=630.6 r=1.1 /><circle cx=113.7 cy=621.6 r=1.9 /><circle cx=123.4 cy=603.6 r=1.5 /><circle cx=123.4 cy=558.6 r=0.7 /><circle cx=133.1 cy=621.6 r=2.0 /><circle cx=133.1 cy=603.6 r=1.3 /><circle cx=142.8 cy=621.6 r=1.8 /><circle cx=142.8 cy=612.6 r=2.2 /><circle cx=162.2 cy=621.6 r=2.0 /><circle cx=220.5 cy=567.6 r=0.7 /><circle cx=101.7 cy=608.9 r=1.0 /><circle cx=119.9 cy=625.8 r=1.3 /><circle cx=138.2 cy=617.3 r=1.8 /><circle cx=147.4 cy=617.3 r=1.8 /><circle cx=108.3 cy=637.6 r=1.1 /><circle cx=108.3 cy=629.6 r=1.0 /><circle cx=116.9 cy=605.6 r=1.0 /><circle cx=125.5 cy=621.6 r=1.7 /><circle cx=125.5 cy=605.6 r=1.6 /><circle cx=134.2 cy=605.6 r=1.3 /><circle cx=142.8 cy=629.6 r=1.9 /><circle cx=142.8 cy=613.6 r=1.8 /></g>
<g fill="#2a8e7f"><circle cx=116.9 cy=626.4 r=1.3 /><circle cx=116.9 cy=607.2 r=1.0 /><circle cx=127.3 cy=645.6 r=1.2 /><circle cx=127.3 cy=626.4 r=1.3 /><circle cx=148.0 cy=616.8 r=1.8 /><circle cx=179.1 cy=626.4 r=0.7 /><circle cx=113.7 cy=567.6 r=0.7 /><circle cx=123.4 cy=639.6 r=1.5 /><circle cx=123.4 cy=576.6 r=1.0 /><circle cx=142.8 cy=639.6 r=2.4 /><circle cx=142.8 cy=585.6 r=1.9 /><circle cx=152.5 cy=630.6 r=1.8 /><circle cx=92.5 cy=558.1 r=0.6 /><circle cx=110.8 cy=642.7 r=0.8 /><circle cx=119.9 cy=575.0 r=0.6 /><circle cx=138.2 cy=634.3 r=1.6 /><circle cx=82.4 cy=597.6 r=0.6 /><circle cx=108.3 cy=597.6 r=0.9 /><circle cx=108.3 cy=573.6 r=1.1 /><circle cx=116.9 cy=629.6 r=1.1 /><circle cx=125.5 cy=637.6 r=1.6 /><circle cx=125.5 cy=629.6 r=1.5 /><circle cx=134.2 cy=629.6 r=1.8 /><circle cx=134.2 cy=621.6 r=1.8 /><circle cx=134.2 cy=597.6 r=2.4 /></g>
<g fill="#2b8481"><circle cx=165.0 cy=590.8 r=1.9 /><circle cx=127.3 cy=616.8 r=1.3 /><circle cx=137.6 cy=636.0 r=1.2 /><circle cx=137.6 cy=607.2 r=1.3 /><circle cx=148.0 cy=636.0 r=1.3 /><circle cx=158.3 cy=626.4 r=1.5 /><circle cx=168.7 cy=578.4 r=1.2 /><circle cx=199.8 cy=578.4 r=1.6 /><circle cx=123.4 cy=630.6 r=1.5 /><circle cx=123.4 cy=621.6 r=1.8 /><circle cx=142.8 cy=648.5 r=1.5 /><circle cx=142.8 cy=549.7 r=1.2 /><circle cx=152.5 cy=594.6 r=1.3 /><circle cx=152.5 cy=585.6 r=1.3 /><circle cx=171.9 cy=576.6 r=1.3 /><circle cx=210.8 cy=558.6 r=1.6 /><circle cx=110.8 cy=592.0 r=1.1 /><circle cx=119.9 cy=617.3 r=1.2 /><circle cx=119.9 cy=558.1 r=0.7 /><circle cx=129.1 cy=575.0 r=0.7 /><circle cx=138.2 cy=642.7 r=1.1 /><circle cx=138.2 cy=608.9 r=1.3 /><circle cx=138.2 cy=600.4 r=1.4 /><circle cx=147.4 cy=583.5 r=1.3 /><circle cx=156.5 cy=642.7 r=1.1 /><circle cx=165.7 cy=634.3 r=1.4 /><circle cx=165.7 cy=625.8 r=1.4 /><circle cx=174.8 cy=651.2 r=1.1 /><circle cx=183.9 cy=642.7 r=0.7 /><circle cx=229.6 cy=549.7 r=0.7 /><circle cx=108.3 cy=661.5 r=0.9 /><circle cx=125.5 cy=597.6 r=1.6 /><circle cx=134.2 cy=613.6 r=1.8 /><circle cx=142.8 cy=653.5 r=1.5 /></g>
<g fill="#2b927e"><circle cx=220.5 cy=570.2 r=0.8 /><circle cx=106.5 cy=626.4 r=0.9 /><circle cx=106.5 cy=616.8 r=0.9 /><circle cx=116.9 cy=655.1 r=0.7 /><circle cx=116.9 cy=597.6 r=1.3 /><circle cx=116.9 cy=568.8 r=0.8 /><circle cx=127.3 cy=559.2 r=0.6 /><circle cx=158.3 cy=645.6 r=0.9 /><circle cx=84.5 cy=594.6 r=0.8 /><circle cx=103.9 cy=585.6 r=0.9 /><circle cx=133.1 cy=612.6 r=1.8 /><circle cx=142.8 cy=594.6 r=1.9 /><circle cx=83.4 cy=583.5 r=1.0 /><circle cx=92.5 cy=608.9 r=0.8 /><circle cx=119.9 cy=608.9 r=1.0 /><circle cx=129.1 cy=617.3 r=1.5 /><circle cx=129.1 cy=600.4 r=1.5 /><circle cx=129.1 cy=558.1 r=1.0 /><circle cx=147.4 cy=625.8 r=1.8 /><circle cx=108.3 cy=565.6 r=0.9 /><circle cx=116.9 cy=637.6 r=1.0 /><circle cx=116.9 cy=621.6 r=1.6 /><circle cx=125.5 cy=613.6 r=1.5 /></g>
<g fill="#2c8081"><circle cx=187.2 cy=559.9 r=0.8 /><circle cx=198.3 cy=559.9 r=1.8 /><circle cx=209.4 cy=580.5 r=1.5 /><circle cx=127.3 cy=636.0 r=1.7 /><circle cx=168.7 cy=645.6 r=2.0 /><circle cx=179.1 cy=607.2 r=1.4 /><circle cx=199.8 cy=568.8 r=1.6 /><circle cx=123.4 cy=612.6 r=1.5 /><circle cx=133.1 cy=630.6 r=1.8 /><circle cx=162.2 cy=585.6 r=1.4 /><circle cx=171.9 cy=594.6 r=1.7 /><circle cx=210.8 cy=549.7 r=0.6 /><circle cx=129.1 cy=625.8 r=1.3 /><circle cx=156.5 cy=634.3 r=1.7 /><circle cx=156.5 cy=600.4 r=1.3 /><circle cx=156.5 cy=583.5 r=1.4 /><circle cx=202.2 cy=566.6 r=1.6 /><circle cx=211.4 cy=558.1 r=1.9 /><circle cx=134.2 cy=589.6 r=0.9 /><circle cx=142.8 cy=637.6 r=2.3 /><circle cx=142.8 cy=621.6 r=2.0 /></g>
<g fill="#2c967d"><circle cx=96.2 cy=616.8 r=0.7 /><circle cx=106.5 cy=607.2 r=0.8 /><circle cx=116.9 cy=636.0 r=1.1 /><circle cx=137.6 cy=645.6 r=1.0 /><circle cx=148.0 cy=655.1 r=0.8 /><circle cx=220.5 cy=549.7 r=0.9 /><circle cx=113.7 cy=612.6 r=1.0 /><circle cx=133.1 cy=576.6 r=0.9 /><circle cx=142.8 cy=630.6 r=1.8 /><circle cx=101.7 cy=583.5 r=0.9 /><circle cx=119.9 cy=642.7 r=1.4 /><circle cx=119.9 cy=634.3 r=1.0 /><circle cx=119.9 cy=600.4 r=1.4 /><circle cx=119.9 cy=592.0 r=0.8 /><circle cx=129.1 cy=642.7 r=1.2 /><circle cx=129.1 cy=634.3 r=1.7 /><circle cx=129.1 cy=566.6 r=0.6 /><circle cx=165.7 cy=642.7 r=1.4 /><circle cx=65.1 cy=549.7 r=0.9 /><circle cx=91.0 cy=605.6 r=0.8 /><circle cx=116.9 cy=613.6 r=1.4 /><circle cx=125.5 cy=589.6 r=0.8 /></g>
<g fill="#2d7a81"><circle cx=165.0 cy=611.3 r=1.7 /><circle cx=187.2 cy=601.0 r=1.7 /><circle cx=148.0 cy=626.4 r=1.8 /><circle cx=158.3 cy=597.6 r=1.3 /><circle cx=168.7 cy=568.8 r=0.6 /><circle cx=179.1 cy=616.8 r=1.5 /><circle cx=179.1 cy=578.4 r=1.3 /><circle cx=210.1 cy=578.4 r=1.2 /><circle cx=133.1 cy=639.6 r=1.2 /><circle cx=171.9 cy=621.6 r=2.1 /><circle cx=171.9 cy=567.6 r=0.7 /><circle cx=191.4 cy=594.6 r=1.6 /><circle cx=191.4 cy=567.6 r=1.3 /><circle cx=210.8 cy=576.6 r=1.3 /><circle cx=156.5 cy=617.3 r=1.4 /><circle cx=165.7 cy=608.9 r=1.4 /><circle cx=165.7 cy=583.5 r=1.2 /><circle cx=174.8 cy=600.4 r=1.3 /><circle cx=174.8 cy=575.0 r=1.3 /><circle cx=211.4 cy=566.6 r=1.2 /></g>
<g fill="#2d7d81"><circle cx=176.1 cy=570.2 r=1.6 /><circle cx=187.2 cy=580.5 r=1.6 /><circle cx=198.3 cy=580.5 r=1.3 /><circle cx=158.3 cy=616.8 r=1.3 /><circle cx=179.1 cy=568.8 r=1.2 /><circle cx=199.8 cy=559.2 r=1.3 /><circle cx=210.1 cy=549.7 r=0.6 /><circle cx=152.5 cy=612.6 r=1.8 /><circle cx=162.2 cy=594.6 r=1.5 /><circle cx=147.4 cy=634.3 r=1.4 /><circle cx=147.4 cy=600.4 r=1.3 /><circle cx=156.5 cy=608.9 r=1.8 /><circle cx=156.5 cy=592.0 r=1.4 /><circle cx=165.7 cy=617.3 r=1.5 /><circle cx=174.8 cy=617.3 r=1.3 /><circle cx=211.4 cy=575.0 r=1.3 /></g>
<g fill="#2e997c"><circle cx=85.8 cy=607.2 r=0.6 /><circle cx=85.8 cy=588.0 r=0.7 /><circle cx=85.8 cy=559.2 r=0.6 /><circle cx=127.3 cy=607.2 r=1.7 /><circle cx=148.0 cy=645.6 r=1.0 /><circle cx=158.3 cy=636.0 r=1.7 /><circle cx=168.7 cy=636.0 r=0.8 /><circle cx=123.4 cy=594.6 r=1.3 /><circle cx=92.5 cy=566.6 r=0.6 /><circle cx=101.7 cy=634.3 r=1.0 /><circle cx=101.7 cy=600.4 r=0.7 /><circle cx=73.7 cy=621.6 r=1.1 /><circle cx=82.4 cy=629.6 r=0.7 /><circle cx=82.4 cy=581.6 r=0.8 /><circle cx=108.3 cy=605.6 r=1.0 /></g>
<g fill="#2f7281"><circle cx=176.1 cy=621.6 r=2.0 /><circle cx=198.3 cy=570.2 r=1.6 /><circle cx=158.3 cy=607.2 r=1.7 /><circle cx=168.7 cy=597.6 r=1.6 /><circle cx=189.4 cy=597.6 r=1.4 /><circle cx=199.8 cy=588.0 r=1.6 /><circle cx=210.1 cy=588.0 r=0.7 /><circle cx=210.1 cy=568.8 r=1.2 /><circle cx=152.5 cy=603.6 r=1.4 /><circle cx=181.6 cy=603.6 r=2.3 /><circle cx=165.7 cy=575.0 r=1.3 /><circle cx=183.9 cy=592.0 r=1.3 /><circle cx=202.2 cy=558.1 r=1.4 /></g>
<g fill="#2f7681"><circle cx=165.0 cy=580.5 r=2.0 /><circle cx=176.1 cy=590.8 r=1.6 /><circle cx=187.2 cy=611.3 r=0.9 /><circle cx=198.3 cy=590.8 r=1.8 /><circle cx=158.3 cy=578.4 r=1.5 /><circle cx=168.7 cy=588.0 r=1.2 /><circle cx=189.4 cy=578.4 r=1.6 /><circle cx=162.2 cy=612.6 r=1.7 /><circle cx=181.6 cy=612.6 r=1.7 /><circle cx=191.4 cy=603.6 r=1.4 /><circle cx=201.1 cy=585.6 r=1.5 /><circle cx=201.1 cy=576.6 r=1.4 /><circle cx=147.4 cy=608.9 r=1.3 /><circle cx=147.4 cy=592.0 r=1.3 /><circle cx=183.9 cy=617.3 r=0.8 /><circle cx=193.1 cy=600.4 r=1.3 /></g>
<g fill="#306f81"><circle cx=165.0 cy=601.0 r=1.5 /><circle cx=176.1 cy=601.0 r=1.4 /><circle cx=176.1 cy=580.5 r=1.3 /><circle cx=187.2 cy=570.2 r=1.5 /><circle cx=220.5 cy=590.8 r=0.7 /><circle cx=168.7 cy=607.2 r=1.3 /><circle cx=179.1 cy=588.0 r=1.6 /><circle cx=171.9 cy=603.6 r=1.4 /><circle cx=181.6 cy=567.6 r=1.6 /><circle cx=201.1 cy=567.6 r=1.7 /><circle cx=201.1 cy=558.6 r=1.4 /><circle cx=165.7 cy=592.0 r=1.4 /><circle cx=174.8 cy=608.9 r=1.5 /><circle cx=174.8 cy=583.5 r=1.4 /><circle cx=193.1 cy=575.0 r=1.7 /><circle cx=202.2 cy=575.0 r=1.4 /></g>
<g fill="#316c80"><circle cx=209.4 cy=570.2 r=1.5 /><circle cx=189.4 cy=568.8 r=1.4 /><circle cx=162.2 cy=576.6 r=1.5 /><circle cx=171.9 cy=585.6 r=1.3 /><circle cx=191.4 cy=585.6 r=1.5 /><circle cx=165.7 cy=600.4 r=1.5 /><circle cx=183.9 cy=583.5 r=1.5 /><circle cx=183.9 cy=575.0 r=1.3 /><circle cx=183.9 cy=566.6 r=1.4 /><circle cx=193.1 cy=592.0 r=1.4 /><circle cx=193.1 cy=583.5 r=1.4 /></g>
<g fill="#319c7b"><circle cx=116.9 cy=616.8 r=1.4 /><circle cx=84.5 cy=603.6 r=1.8 /><circle cx=84.5 cy=558.6 r=0.7 /><circle cx=152.5 cy=639.6 r=1.1 /><circle cx=138.2 cy=651.2 r=1.0 /><circle cx=220.5 cy=566.6 r=0.6 /><circle cx=99.6 cy=621.6 r=1.4 /><circle cx=125.5 cy=645.6 r=1.1 /><circle cx=142.8 cy=661.5 r=1.3 /></g>
<g fill="#336880"><circle cx=176.1 cy=611.3 r=1.7 /><circle cx=189.4 cy=588.0 r=1.3 /><circle cx=162.2 cy=603.6 r=1.5 /><circle cx=181.6 cy=594.6 r=1.4 /></g>
<g fill="#346480"><circle cx=179.1 cy=597.6 r=1.3 /><circle cx=171.9 cy=612.6 r=1.4 /></g>
<circle cx=191.4 cy=576.6 r=1.6 fill="#35617f"/>
<g fill="#365d7f"><circle cx=181.6 cy=576.6 r=1.6 /><circle cx=174.8 cy=592.0 r=1.7 /></g>
<g fill="#36a079"><circle cx=85.8 cy=568.8 r=1.1 /><circle cx=106.5 cy=588.0 r=1.0 /><circle cx=84.5 cy=585.6 r=0.9 /><circle cx=94.2 cy=558.6 r=0.6 /><circle cx=103.9 cy=621.6 r=1.2 /><circle cx=133.1 cy=648.5 r=1.0 /><circle cx=129.1 cy=592.0 r=1.1 /></g>
<circle cx=193.1 cy=566.6 r=1.3 fill="#37597e"/>
<g fill="#3aa477"><circle cx=85.8 cy=597.6 r=0.7 /><circle cx=103.9 cy=639.6 r=1.1 /><circle cx=91.0 cy=557.7 r=0.6 /></g>
<circle cx=108.3 cy=589.6 r=1.0 fill="#3b4e7b"/>
<circle cx=110.8 cy=583.5 r=0.6 fill="#3f4177"/>
<g fill="#3fa775"><circle cx=74.8 cy=558.6 r=0.9 /><circle cx=84.5 cy=576.6 r=0.7 /><circle cx=99.6 cy=557.7 r=0.7 /></g>
<g fill="#413873"><circle cx=168.7 cy=616.8 r=1.4 /><circle cx=210.1 cy=559.2 r=1.7 /></g>
<circle cx=183.9 cy=600.4 r=1.4 fill="#422a69"/>
<circle cx=91.0 cy=565.6 r=0.9 fill="#45aa73"/>
<g fill="#4cae70"><circle cx=137.6 cy=616.8 r=1.8 /><circle cx=148.0 cy=597.6 r=1.3 /><circle cx=181.6 cy=585.6 r=1.6 /><circle cx=211.4 cy=549.7 r=0.6 /></g>
<circle cx=129.1 cy=608.9 r=1.7 fill="#53b26d"/>
<circle cx=142.8 cy=605.6 r=3.7 fill="#2b8481"/>
<circle cx=151.4 cy=613.6 r=1.8 fill="#2a8780"/>
<g fill="#2a8b80"><circle cx=151.4 cy=645.6 r=1.1 /><circle cx=151.4 cy=629.6 r=1.8 /></g>
<circle cx=142.8 cy=589.6 r=2.1 fill="#2b8481"/>
<g fill="#2c8081"><circle cx=142.8 cy=573.6 r=1.2 /><circle cx=151.4 cy=637.6 r=1.3 /></g>
<circle cx=151.4 cy=621.6 r=2.1 fill="#2d7d81"/>
<circle cx=151.4 cy=605.6 r=1.5 fill="#413873"/>
<circle cx=142.8 cy=597.6 r=2.1 fill="#422566"/>
<circle cx=151.4 cy=597.6 r=3.0 fill="#2f7681"/>
<g fill="#2a8780"><circle cx=122.4 cy=610.2 r=1.3 /><circle cx=130.5 cy=564.8 r=0.7 /><circle cx=146.9 cy=648.1 r=0.9 /><circle cx=155.1 cy=640.5 r=1.0 /><circle cx=171.4 cy=617.8 r=1.3 /><circle cx=111.7 cy=650.3 r=1.1 /><circle cx=111.7 cy=578.4 r=0.8 /><circle cx=127.3 cy=607.2 r=1.7 /><circle cx=135.0 cy=650.3 r=1.1 /><circle cx=135.0 cy=571.2 r=0.6 /><circle cx=142.8 cy=592.8 r=2.3 /><circle cx=150.6 cy=614.4 r=1.8 /><circle cx=181.6 cy=621.6 r=1.2 /><circle cx=94.7 cy=666.1 r=0.9 /><circle cx=116.9 cy=577.1 r=0.8 /><circle cx=124.3 cy=583.9 r=0.7 /><circle cx=139.1 cy=645.6 r=1.0 /><circle cx=153.9 cy=631.9 r=1.8 /><circle cx=161.3 cy=631.9 r=1.2 /><circle cx=168.7 cy=631.9 r=1.3 /><circle cx=93.4 cy=595.4 r=0.7 /><circle cx=114.5 cy=621.6 r=1.7 /><circle cx=121.6 cy=634.7 r=1.5 /><circle cx=128.7 cy=556.2 r=0.8 /><circle cx=135.7 cy=634.7 r=1.5 /><circle cx=135.7 cy=608.5 r=1.3 /><circle cx=142.8 cy=647.7 r=1.5 /><circle cx=142.8 cy=628.1 r=1.9 /><circle cx=171.1 cy=634.7 r=1.0 /><circle cx=220.5 cy=569.3 r=0.6 /><circle cx=112.4 cy=618.5 r=1.1 /><circle cx=119.2 cy=612.2 r=1.0 /><circle cx=125.9 cy=637.2 r=1.6 /><circle cx=125.9 cy=631.0 r=2.7 /><circle cx=132.7 cy=618.5 r=1.3 /><circle cx=139.4 cy=624.7 r=1.8 /><circle cx=173.2 cy=637.2 r=0.8 /><circle cx=220.5 cy=568.4 r=0.6 /><circle cx=97.5 cy=603.6 r=0.9 /><circle cx=129.8 cy=621.6 r=2.2 /><circle cx=136.3 cy=615.6 r=1.8 /><circle cx=136.3 cy=597.6 r=1.7 /><circle cx=142.8 cy=621.6 r=2.0 /><circle cx=149.3 cy=657.5 r=0.9 /><circle cx=149.3 cy=585.6 r=1.3 /><circle cx=168.7 cy=633.6 r=1.1 /><circle cx=102.4 cy=630.2 r=0.7 /><circle cx=114.8 cy=630.2 r=1.3 /><circle cx=121.0 cy=601.4 r=1.5 /><circle cx=121.0 cy=572.7 r=0.6 /><circle cx=133.5 cy=659.0 r=0.7 /><circle cx=133.5 cy=647.5 r=1.0 /><circle cx=133.5 cy=612.9 r=1.8 /><circle cx=139.7 cy=630.2 r=1.3 /><circle cx=101.0 cy=660.3 r=0.9 /><circle cx=106.9 cy=599.5 r=1.7 /><circle cx=112.9 cy=649.2 r=1.1 /><circle cx=118.9 cy=610.5 r=1.5 /><circle cx=124.9 cy=643.7 r=1.0 /><circle cx=124.9 cy=616.0 r=1.4 /><circle cx=124.9 cy=605.0 r=1.6 /><circle cx=136.8 cy=610.5 r=1.4 /><circle cx=142.8 cy=627.1 r=1.8 /></g>
<g fill="#2a8b80"><circle cx=160.1 cy=629.6 r=1.6 /><circle cx=89.6 cy=610.2 r=0.8 /><circle cx=122.4 cy=632.9 r=1.3 /><circle cx=122.4 cy=617.8 r=1.2 /><circle cx=130.5 cy=625.4 r=1.5 /><circle cx=130.5 cy=595.1 r=1.3 /><circle cx=138.7 cy=625.4 r=1.8 /><circle cx=138.7 cy=602.7 r=1.2 /><circle cx=146.9 cy=610.2 r=1.3 /><circle cx=88.4 cy=607.2 r=0.7 /><circle cx=96.2 cy=592.8 r=1.0 /><circle cx=103.9 cy=571.2 r=0.6 /><circle cx=103.9 cy=564.0 r=0.7 /><circle cx=111.7 cy=621.6 r=1.5 /><circle cx=119.5 cy=643.2 r=1.4 /><circle cx=135.0 cy=614.4 r=1.8 /><circle cx=135.0 cy=607.2 r=1.4 /><circle cx=142.8 cy=621.6 r=2.0 /><circle cx=150.6 cy=592.8 r=1.4 /><circle cx=79.9 cy=590.8 r=0.6 /><circle cx=116.9 cy=590.8 r=0.7 /><circle cx=124.3 cy=625.0 r=1.8 /><circle cx=124.3 cy=618.2 r=1.2 /><circle cx=131.7 cy=590.8 r=0.8 /><circle cx=146.5 cy=638.7 r=1.2 /><circle cx=153.9 cy=652.4 r=1.1 /><circle cx=93.4 cy=608.5 r=0.7 /><circle cx=93.4 cy=602.0 r=0.7 /><circle cx=93.4 cy=549.7 r=0.6 /><circle cx=100.4 cy=621.6 r=1.1 /><circle cx=100.4 cy=608.5 r=0.8 /><circle cx=107.5 cy=595.4 r=0.7 /><circle cx=114.5 cy=615.0 r=1.5 /><circle cx=121.6 cy=608.5 r=1.1 /><circle cx=121.6 cy=569.3 r=0.9 /><circle cx=128.7 cy=602.0 r=1.4 /><circle cx=149.9 cy=654.3 r=0.9 /><circle cx=149.9 cy=628.1 r=1.8 /><circle cx=164.0 cy=621.6 r=2.0 /><circle cx=125.9 cy=618.5 r=1.4 /><circle cx=125.9 cy=605.9 r=1.6 /><circle cx=125.9 cy=593.4 r=0.8 /><circle cx=132.7 cy=593.4 r=1.4 /><circle cx=116.9 cy=549.7 r=0.7 /><circle cx=123.4 cy=615.6 r=1.5 /><circle cx=123.4 cy=603.6 r=1.5 /><circle cx=129.8 cy=627.6 r=1.5 /><circle cx=129.8 cy=591.6 r=0.9 /><circle cx=142.8 cy=669.5 r=1.0 /><circle cx=142.8 cy=663.5 r=1.1 /><circle cx=149.3 cy=645.6 r=1.0 /><circle cx=96.2 cy=549.7 r=0.7 /><circle cx=114.8 cy=618.7 r=1.2 /><circle cx=127.3 cy=624.5 r=1.5 /><circle cx=127.3 cy=549.7 r=0.8 /><circle cx=101.0 cy=566.3 r=0.6 /><circle cx=106.9 cy=621.6 r=1.6 /><circle cx=112.9 cy=643.7 r=0.8 /><circle cx=118.9 cy=605.0 r=1.3 /><circle cx=136.8 cy=599.5 r=1.4 /></g>
<g fill="#2a8e7f"><circle cx=168.7 cy=629.6 r=1.6 /><circle cx=106.0 cy=602.7 r=0.7 /><circle cx=114.2 cy=625.4 r=1.1 /><circle cx=114.2 cy=617.8 r=1.4 /><circle cx=114.2 cy=572.4 r=0.7 /><circle cx=122.4 cy=572.4 r=0.6 /><circle cx=130.5 cy=648.1 r=0.9 /><circle cx=130.5 cy=572.4 r=0.9 /><circle cx=138.7 cy=632.9 r=1.2 /><circle cx=138.7 cy=610.2 r=1.3 /><circle cx=111.7 cy=600.0 r=0.9 /><circle cx=119.5 cy=621.6 r=1.7 /><circle cx=119.5 cy=556.9 r=0.7 /><circle cx=127.3 cy=636.0 r=1.7 /><circle cx=135.0 cy=636.0 r=1.3 /><circle cx=135.0 cy=628.8 r=1.8 /><circle cx=135.0 cy=600.0 r=1.3 /><circle cx=142.8 cy=585.6 r=2.3 /><circle cx=150.6 cy=650.3 r=1.2 /><circle cx=150.6 cy=643.2 r=1.1 /><circle cx=150.6 cy=636.0 r=1.2 /><circle cx=150.6 cy=628.8 r=1.8 /><circle cx=150.6 cy=621.6 r=2.0 /><circle cx=158.3 cy=614.4 r=1.8 /><circle cx=166.1 cy=650.3 r=0.8 /><circle cx=87.3 cy=583.9 r=0.6 /><circle cx=94.7 cy=618.2 r=0.7 /><circle cx=94.7 cy=597.6 r=0.9 /><circle cx=94.7 cy=590.8 r=0.7 /><circle cx=102.1 cy=556.5 r=0.7 /><circle cx=116.9 cy=625.0 r=1.5 /><circle cx=116.9 cy=563.4 r=0.6 /><circle cx=124.3 cy=631.9 r=1.1 /><circle cx=124.3 cy=604.5 r=1.6 /><circle cx=139.1 cy=583.9 r=0.7 /><circle cx=146.5 cy=645.6 r=1.1 /><circle cx=93.4 cy=582.4 r=0.6 /><circle cx=114.5 cy=634.7 r=1.8 /><circle cx=114.5 cy=628.1 r=1.2 /><circle cx=114.5 cy=588.9 r=0.9 /><circle cx=121.6 cy=621.6 r=1.7 /><circle cx=121.6 cy=588.9 r=0.7 /><circle cx=128.7 cy=647.7 r=1.1 /><circle cx=128.7 cy=608.5 r=1.7 /><circle cx=125.9 cy=612.2 r=1.2 /><circle cx=173.2 cy=631.0 r=0.9 /><circle cx=97.5 cy=633.6 r=0.7 /><circle cx=162.2 cy=633.6 r=1.3 /><circle cx=90.0 cy=641.7 r=0.6 /><circle cx=90.0 cy=549.7 r=0.7 /><circle cx=102.4 cy=584.2 r=0.9 /><circle cx=127.3 cy=653.2 r=0.8 /><circle cx=65.1 cy=571.8 r=0.7 /><circle cx=112.9 cy=621.6 r=2.2 /><circle cx=118.9 cy=621.6 r=1.7 /><circle cx=118.9 cy=616.0 r=1.2 /><circle cx=130.8 cy=649.2 r=1.1 /></g>
<g fill="#2b8481"><circle cx=151.4 cy=581.6 r=1.3 /><circle cx=177.3 cy=621.6 r=2.0 /><circle cx=211.9 cy=557.7 r=1.6 /><circle cx=114.2 cy=602.7 r=1.0 /><circle cx=122.4 cy=625.4 r=1.3 /><circle cx=130.5 cy=617.8 r=1.3 /><circle cx=138.7 cy=595.1 r=1.2 /><circle cx=138.7 cy=587.5 r=0.7 /><circle cx=146.9 cy=595.1 r=1.2 /><circle cx=111.7 cy=592.8 r=1.1 /><circle cx=119.5 cy=592.8 r=0.8 /><circle cx=119.5 cy=564.0 r=0.6 /><circle cx=127.3 cy=643.2 r=1.5 /><circle cx=127.3 cy=614.4 r=1.6 /><circle cx=127.3 cy=600.0 r=2.0 /><circle cx=142.8 cy=628.8 r=1.8 /><circle cx=142.8 cy=600.0 r=1.9 /><circle cx=166.1 cy=628.8 r=1.4 /><circle cx=87.3 cy=590.8 r=0.8 /><circle cx=94.7 cy=577.1 r=0.9 /><circle cx=109.5 cy=597.6 r=0.8 /><circle cx=124.3 cy=638.7 r=1.6 /><circle cx=124.3 cy=590.8 r=0.8 /><circle cx=131.7 cy=638.7 r=1.1 /><circle cx=131.7 cy=625.0 r=1.3 /><circle cx=131.7 cy=604.5 r=1.2 /><circle cx=139.1 cy=638.7 r=1.2 /><circle cx=139.1 cy=625.0 r=1.8 /><circle cx=161.3 cy=638.7 r=1.6 /><circle cx=161.3 cy=625.0 r=1.7 /><circle cx=100.4 cy=660.8 r=0.9 /><circle cx=100.4 cy=569.3 r=0.7 /><circle cx=128.7 cy=641.2 r=1.2 /><circle cx=128.7 cy=615.0 r=1.5 /><circle cx=142.8 cy=654.3 r=1.3 /><circle cx=142.8 cy=634.7 r=2.1 /><circle cx=142.8 cy=621.6 r=1.9 /><circle cx=164.0 cy=634.7 r=1.3 /><circle cx=105.6 cy=624.7 r=0.8 /><circle cx=112.4 cy=624.7 r=1.1 /><circle cx=112.4 cy=605.9 r=0.8 /><circle cx=119.2 cy=618.5 r=1.2 /><circle cx=139.4 cy=612.2 r=1.2 /><circle cx=146.2 cy=587.2 r=1.2 /><circle cx=110.4 cy=621.6 r=1.4 /><circle cx=116.9 cy=627.6 r=1.3 /><circle cx=116.9 cy=621.6 r=1.7 /><circle cx=116.9 cy=609.6 r=1.4 /><circle cx=129.8 cy=603.6 r=1.7 /><circle cx=142.8 cy=687.5 r=1.1 /><circle cx=142.8 cy=645.6 r=1.6 /><circle cx=162.2 cy=627.6 r=1.4 /><circle cx=214.0 cy=567.6 r=1.3 /><circle cx=108.6 cy=624.5 r=0.9 /><circle cx=108.6 cy=618.7 r=0.8 /><circle cx=114.8 cy=624.5 r=1.1 /><circle cx=139.7 cy=584.2 r=0.6 /><circle cx=112.9 cy=616.0 r=1.1 /><circle cx=124.9 cy=632.6 r=2.5 /><circle cx=124.9 cy=599.5 r=2.5 /><circle cx=130.8 cy=621.6 r=1.8 /><circle cx=130.8 cy=616.0 r=1.6 /><circle cx=136.8 cy=649.2 r=1.0 /><circle cx=142.8 cy=649.2 r=1.5 /></g>
<g fill="#2b927e"><circle cx=220.5 cy=565.6 r=0.7 /><circle cx=81.5 cy=579.9 r=0.6 /><circle cx=106.0 cy=610.2 r=1.0 /><circle cx=114.2 cy=587.5 r=0.6 /><circle cx=122.4 cy=602.7 r=1.5 /><circle cx=130.5 cy=632.9 r=1.7 /><circle cx=130.5 cy=610.2 r=1.7 /><circle cx=163.2 cy=632.9 r=1.3 /><circle cx=179.6 cy=625.4 r=0.8 /><circle cx=88.4 cy=592.8 r=0.9 /><circle cx=96.2 cy=628.8 r=0.8 /><circle cx=96.2 cy=585.6 r=0.7 /><circle cx=103.9 cy=621.6 r=1.5 /><circle cx=111.7 cy=585.6 r=0.8 /><circle cx=119.5 cy=607.2 r=1.2 /><circle cx=127.3 cy=571.2 r=0.8 /><circle cx=135.0 cy=585.6 r=0.8 /><circle cx=158.3 cy=636.0 r=1.7 /><circle cx=65.1 cy=611.3 r=0.7 /><circle cx=94.7 cy=570.2 r=0.7 /><circle cx=102.1 cy=597.6 r=0.9 /><circle cx=116.9 cy=659.3 r=0.7 /><circle cx=116.9 cy=638.7 r=1.0 /><circle cx=116.9 cy=597.6 r=1.3 /><circle cx=116.9 cy=570.2 r=0.7 /><circle cx=131.7 cy=631.9 r=1.8 /><circle cx=86.3 cy=575.8 r=0.8 /><circle cx=135.7 cy=588.9 r=0.9 /><circle cx=119.2 cy=637.2 r=1.1 /><circle cx=119.2 cy=631.0 r=1.1 /><circle cx=119.2 cy=605.9 r=1.2 /><circle cx=84.5 cy=621.6 r=0.9 /><circle cx=97.5 cy=561.6 r=2.2 /><circle cx=123.4 cy=633.6 r=1.2 /><circle cx=77.5 cy=589.9 r=0.6 /><circle cx=96.2 cy=641.7 r=0.7 /></g>
<g fill="#2c8081"><circle cx=160.1 cy=621.6 r=2.0 /><circle cx=203.2 cy=573.6 r=1.3 /><circle cx=203.2 cy=565.6 r=1.8 /><circle cx=211.9 cy=565.6 r=1.3 /><circle cx=114.2 cy=595.1 r=1.2 /><circle cx=146.9 cy=617.8 r=1.8 /><circle cx=146.9 cy=602.7 r=1.4 /><circle cx=146.9 cy=587.5 r=1.4 /><circle cx=155.1 cy=602.7 r=1.3 /><circle cx=163.2 cy=625.4 r=1.5 /><circle cx=179.6 cy=617.8 r=1.6 /><circle cx=187.8 cy=663.2 r=0.9 /><circle cx=119.5 cy=600.0 r=1.4 /><circle cx=135.0 cy=578.4 r=0.7 /><circle cx=142.8 cy=686.3 r=1.0 /><circle cx=150.6 cy=585.6 r=1.4 /><circle cx=116.9 cy=618.2 r=1.0 /><circle cx=124.3 cy=577.1 r=0.6 /><circle cx=139.1 cy=597.6 r=1.4 /><circle cx=146.5 cy=631.9 r=1.2 /><circle cx=146.5 cy=611.3 r=1.3 /><circle cx=153.9 cy=618.2 r=1.5 /><circle cx=198.3 cy=563.4 r=1.4 /><circle cx=114.5 cy=608.5 r=1.4 /><circle cx=128.7 cy=634.7 r=1.7 /><circle cx=128.7 cy=628.1 r=1.7 /><circle cx=128.7 cy=595.4 r=1.4 /><circle cx=128.7 cy=588.9 r=1.0 /><circle cx=135.7 cy=641.2 r=1.1 /><circle cx=135.7 cy=621.6 r=1.9 /><circle cx=135.7 cy=602.0 r=1.3 /><circle cx=142.8 cy=582.4 r=1.1 /><circle cx=142.8 cy=549.7 r=1.0 /><circle cx=156.9 cy=628.1 r=1.5 /><circle cx=171.1 cy=628.1 r=1.8 /><circle cx=213.4 cy=562.7 r=1.5 /><circle cx=112.4 cy=612.2 r=1.1 /><circle cx=132.7 cy=631.0 r=1.8 /><circle cx=132.7 cy=612.2 r=1.8 /><circle cx=139.4 cy=618.5 r=1.8 /><circle cx=146.2 cy=618.5 r=1.8 /><circle cx=152.9 cy=624.7 r=1.3 /><circle cx=159.7 cy=624.7 r=1.3 /><circle cx=166.4 cy=631.0 r=1.2 /><circle cx=166.4 cy=580.9 r=1.5 /><circle cx=213.7 cy=562.2 r=1.2 /><circle cx=220.5 cy=562.2 r=0.8 /><circle cx=97.5 cy=609.6 r=0.8 /><circle cx=110.4 cy=603.6 r=0.8 /><circle cx=116.9 cy=651.5 r=0.8 /><circle cx=116.9 cy=615.6 r=1.2 /><circle cx=123.4 cy=561.6 r=0.6 /><circle cx=129.8 cy=639.6 r=1.3 /><circle cx=129.8 cy=609.6 r=1.7 /><circle cx=136.3 cy=621.6 r=1.8 /><circle cx=136.3 cy=591.6 r=1.3 /><circle cx=142.8 cy=591.6 r=1.9 /><circle cx=142.8 cy=573.6 r=1.1 /><circle cx=149.3 cy=621.6 r=2.2 /><circle cx=149.3 cy=609.6 r=1.3 /><circle cx=149.3 cy=579.6 r=0.7 /><circle cx=155.8 cy=579.6 r=1.5 /><circle cx=162.2 cy=639.6 r=1.5 /><circle cx=207.5 cy=567.6 r=1.4 /><circle cx=139.7 cy=618.7 r=1.8 /><circle cx=145.9 cy=624.5 r=1.8 /><circle cx=201.9 cy=566.9 r=1.8 /><circle cx=214.3 cy=561.2 r=1.2 /><circle cx=214.3 cy=555.4 r=0.9 /><circle cx=83.0 cy=610.5 r=0.9 /><circle cx=95.0 cy=643.7 r=0.9 /><circle cx=101.0 cy=621.6 r=1.2 /><circle cx=118.9 cy=599.5 r=1.4 /><circle cx=124.9 cy=638.2 r=1.6 /><circle cx=124.9 cy=627.1 r=1.4 /><circle cx=124.9 cy=621.6 r=1.7 /><circle cx=130.8 cy=627.1 r=1.5 /><circle cx=130.8 cy=588.4 r=0.8 /><circle cx=136.8 cy=616.0 r=1.8 /><circle cx=136.8 cy=593.9 r=1.3 /><circle cx=142.8 cy=621.6 r=1.8 /></g>
<g fill="#2c967d"><circle cx=114.2 cy=632.9 r=0.9 /><circle cx=122.4 cy=595.1 r=0.8 /><circle cx=146.9 cy=625.4 r=1.8 /><circle cx=155.1 cy=632.9 r=1.7 /><circle cx=103.9 cy=607.2 r=1.2 /><circle cx=103.9 cy=578.4 r=0.8 /><circle cx=72.5 cy=611.3 r=0.9 /><circle cx=72.5 cy=597.6 r=0.7 /><circle cx=116.9 cy=611.3 r=1.3 /><circle cx=93.4 cy=575.8 r=1.1 /><circle cx=100.4 cy=647.7 r=0.7 /><circle cx=100.4 cy=562.7 r=0.7 /><circle cx=107.5 cy=608.5 r=0.8 /><circle cx=107.5 cy=602.0 r=0.7 /><circle cx=121.6 cy=602.0 r=1.5 /><circle cx=121.6 cy=582.4 r=0.7 /><circle cx=128.7 cy=621.6 r=1.8 /><circle cx=71.9 cy=574.7 r=0.7 /><circle cx=105.6 cy=656.0 r=1.0 /><circle cx=152.9 cy=649.7 r=1.0 /><circle cx=103.9 cy=645.6 r=0.7 /><circle cx=110.4 cy=615.6 r=0.9 /><circle cx=110.4 cy=573.6 r=0.8 /><circle cx=102.4 cy=612.9 r=0.8 /></g>
<g fill="#2d7a81"><circle cx=160.1 cy=573.6 r=0.7 /><circle cx=168.7 cy=589.6 r=1.4 /><circle cx=177.3 cy=605.6 r=1.8 /><circle cx=194.6 cy=597.6 r=1.8 /><circle cx=211.9 cy=549.7 r=0.6 /><circle cx=138.7 cy=617.8 r=1.8 /><circle cx=171.4 cy=632.9 r=0.8 /><circle cx=212.3 cy=557.2 r=1.8 /><circle cx=142.8 cy=607.2 r=1.8 /><circle cx=142.8 cy=571.2 r=1.1 /><circle cx=158.3 cy=621.6 r=1.9 /><circle cx=158.3 cy=592.8 r=1.6 /><circle cx=173.9 cy=628.8 r=0.9 /><circle cx=181.6 cy=614.4 r=1.4 /><circle cx=205.0 cy=556.9 r=1.4 /><circle cx=109.5 cy=618.2 r=1.0 /><circle cx=139.1 cy=631.9 r=1.4 /><circle cx=146.5 cy=625.0 r=1.8 /><circle cx=146.5 cy=604.5 r=1.5 /><circle cx=153.9 cy=583.9 r=1.3 /><circle cx=161.3 cy=618.2 r=1.3 /><circle cx=213.1 cy=563.4 r=1.3 /><circle cx=213.1 cy=556.5 r=1.7 /><circle cx=121.6 cy=628.1 r=1.3 /><circle cx=135.7 cy=595.4 r=1.3 /><circle cx=142.8 cy=615.0 r=1.8 /><circle cx=142.8 cy=608.5 r=1.9 /><circle cx=149.9 cy=588.9 r=1.3 /><circle cx=156.9 cy=615.0 r=1.6 /><circle cx=156.9 cy=588.9 r=1.4 /><circle cx=164.0 cy=615.0 r=1.4 /><circle cx=171.1 cy=641.2 r=0.9 /><circle cx=171.1 cy=621.6 r=1.9 /><circle cx=178.1 cy=562.7 r=0.6 /><circle cx=206.4 cy=562.7 r=1.8 /><circle cx=119.2 cy=624.7 r=1.1 /><circle cx=125.9 cy=624.7 r=1.2 /><circle cx=132.7 cy=624.7 r=1.3 /><circle cx=139.4 cy=631.0 r=1.3 /><circle cx=146.2 cy=624.7 r=1.8 /><circle cx=146.2 cy=612.2 r=1.3 /><circle cx=152.9 cy=618.5 r=1.4 /><circle cx=159.7 cy=637.2 r=1.6 /><circle cx=159.7 cy=580.9 r=1.5 /><circle cx=166.4 cy=587.2 r=1.3 /><circle cx=173.2 cy=649.7 r=1.1 /><circle cx=110.4 cy=633.6 r=0.9 /><circle cx=123.4 cy=621.6 r=2.1 /><circle cx=129.8 cy=633.6 r=1.7 /><circle cx=136.3 cy=651.5 r=1.0 /><circle cx=136.3 cy=639.6 r=1.2 /><circle cx=142.8 cy=627.6 r=1.9 /><circle cx=149.3 cy=615.6 r=1.8 /><circle cx=155.8 cy=573.6 r=0.8 /><circle cx=162.2 cy=615.6 r=1.4 /><circle cx=175.2 cy=621.6 r=1.9 /><circle cx=214.0 cy=549.7 r=0.6 /><circle cx=220.5 cy=567.6 r=0.8 /><circle cx=108.6 cy=601.4 r=0.7 /><circle cx=114.8 cy=572.7 r=0.9 /><circle cx=121.0 cy=612.9 r=1.0 /><circle cx=133.5 cy=618.7 r=1.5 /><circle cx=145.9 cy=584.2 r=1.2 /><circle cx=152.1 cy=578.4 r=0.8 /><circle cx=183.2 cy=641.7 r=0.6 /><circle cx=208.1 cy=555.4 r=1.2 /><circle cx=220.5 cy=566.9 r=0.9 /><circle cx=130.8 cy=610.5 r=1.7 /><circle cx=136.8 cy=621.6 r=1.9 /><circle cx=136.8 cy=588.4 r=0.7 /></g>
<g fill="#2d7d81"><circle cx=160.1 cy=613.6 r=1.7 /><circle cx=203.2 cy=557.7 r=1.4 /><circle cx=114.2 cy=610.2 r=0.9 /><circle cx=122.4 cy=648.1 r=1.1 /><circle cx=146.9 cy=579.9 r=0.8 /><circle cx=155.1 cy=617.8 r=1.5 /><circle cx=155.1 cy=610.2 r=1.7 /><circle cx=171.4 cy=572.4 r=1.5 /><circle cx=196.0 cy=557.2 r=1.2 /><circle cx=127.3 cy=621.6 r=1.8 /><circle cx=135.0 cy=621.6 r=1.8 /><circle cx=135.0 cy=592.8 r=1.4 /><circle cx=142.8 cy=643.2 r=1.9 /><circle cx=142.8 cy=636.0 r=1.8 /><circle cx=142.8 cy=549.7 r=1.0 /><circle cx=166.1 cy=621.6 r=2.0 /><circle cx=181.6 cy=571.2 r=1.4 /><circle cx=212.7 cy=564.0 r=1.3 /><circle cx=168.7 cy=625.0 r=1.4 /><circle cx=176.1 cy=645.6 r=0.7 /><circle cx=183.5 cy=570.2 r=1.3 /><circle cx=213.1 cy=570.2 r=1.3 /><circle cx=114.5 cy=562.7 r=0.6 /><circle cx=121.6 cy=641.2 r=1.5 /><circle cx=128.7 cy=549.7 r=0.8 /><circle cx=135.7 cy=615.0 r=1.8 /><circle cx=142.8 cy=641.2 r=1.9 /><circle cx=149.9 cy=634.7 r=1.3 /><circle cx=156.9 cy=647.7 r=0.9 /><circle cx=156.9 cy=641.2 r=1.1 /><circle cx=156.9 cy=575.8 r=0.8 /><circle cx=132.7 cy=587.2 r=0.7 /><circle cx=152.9 cy=580.9 r=1.2 /><circle cx=159.7 cy=574.7 r=0.7 /><circle cx=116.9 cy=633.6 r=1.4 /><circle cx=123.4 cy=627.6 r=1.3 /><circle cx=129.8 cy=615.6 r=1.6 /><circle cx=136.3 cy=627.6 r=1.8 /><circle cx=136.3 cy=603.6 r=1.4 /><circle cx=142.8 cy=633.6 r=1.8 /><circle cx=142.8 cy=615.6 r=1.8 /><circle cx=142.8 cy=597.6 r=2.0 /><circle cx=149.3 cy=651.5 r=0.9 /><circle cx=155.8 cy=627.6 r=1.6 /><circle cx=162.2 cy=621.6 r=2.0 /><circle cx=175.2 cy=645.6 r=0.7 /><circle cx=181.6 cy=621.6 r=1.2 /><circle cx=108.6 cy=612.9 r=0.8 /><circle cx=121.0 cy=641.7 r=1.5 /><circle cx=121.0 cy=630.2 r=1.3 /><circle cx=127.3 cy=630.2 r=1.3 /><circle cx=127.3 cy=607.2 r=1.7 /><circle cx=133.5 cy=624.5 r=1.3 /><circle cx=152.1 cy=612.9 r=1.8 /><circle cx=158.3 cy=636.0 r=1.7 /><circle cx=158.3 cy=630.2 r=1.4 /><circle cx=164.6 cy=641.7 r=1.5 /><circle cx=164.6 cy=612.9 r=1.2 /><circle cx=77.1 cy=610.5 r=0.8 /><circle cx=112.9 cy=627.1 r=1.0 /><circle cx=112.9 cy=610.5 r=1.0 /><circle cx=112.9 cy=593.9 r=1.1 /><circle cx=118.9 cy=627.1 r=1.3 /><circle cx=130.8 cy=643.7 r=1.2 /><circle cx=130.8 cy=638.2 r=1.3 /><circle cx=130.8 cy=605.0 r=1.5 /><circle cx=130.8 cy=593.9 r=1.4 /><circle cx=136.8 cy=632.6 r=1.4 /><circle cx=136.8 cy=605.0 r=1.3 /><circle cx=142.8 cy=660.3 r=1.2 /></g>
<g fill="#2e997c"><circle cx=160.1 cy=637.6 r=1.6 /><circle cx=89.6 cy=602.7 r=0.7 /><circle cx=89.6 cy=557.2 r=0.6 /><circle cx=106.0 cy=579.9 r=0.6 /><circle cx=130.5 cy=602.7 r=1.3 /><circle cx=96.2 cy=578.4 r=0.9 /><circle cx=119.5 cy=614.4 r=1.2 /><circle cx=94.7 cy=556.5 r=0.6 /><circle cx=79.2 cy=654.3 r=0.7 /></g>
<g fill="#2f7281"><circle cx=160.1 cy=589.6 r=1.6 /><circle cx=168.7 cy=621.6 r=2.1 /><circle cx=168.7 cy=573.6 r=1.5 /><circle cx=177.3 cy=597.6 r=1.6 /><circle cx=186.0 cy=605.6 r=1.4 /><circle cx=186.0 cy=597.6 r=1.3 /><circle cx=194.6 cy=589.6 r=1.4 /><circle cx=163.2 cy=610.2 r=1.4 /><circle cx=187.8 cy=549.7 r=0.6 /><circle cx=196.0 cy=564.8 r=1.3 /><circle cx=150.6 cy=549.7 r=0.8 /><circle cx=158.3 cy=628.8 r=1.6 /><circle cx=158.3 cy=585.6 r=1.4 /><circle cx=173.9 cy=614.4 r=1.5 /><circle cx=173.9 cy=578.4 r=1.8 /><circle cx=181.6 cy=578.4 r=1.3 /><circle cx=212.7 cy=549.7 r=0.7 /><circle cx=146.5 cy=583.9 r=1.3 /><circle cx=161.3 cy=590.8 r=1.2 /><circle cx=168.7 cy=618.2 r=1.3 /><circle cx=183.5 cy=611.3 r=1.3 /><circle cx=190.9 cy=611.3 r=0.9 /><circle cx=190.9 cy=563.4 r=1.2 /><circle cx=142.8 cy=595.4 r=1.8 /><circle cx=171.1 cy=615.0 r=1.6 /><circle cx=192.2 cy=569.3 r=1.4 /><circle cx=146.2 cy=631.0 r=1.2 /><circle cx=152.9 cy=612.2 r=1.8 /><circle cx=152.9 cy=587.2 r=1.3 /><circle cx=159.7 cy=618.5 r=1.3 /><circle cx=159.7 cy=612.2 r=1.2 /><circle cx=166.4 cy=624.7 r=1.6 /><circle cx=166.4 cy=593.4 r=1.2 /><circle cx=173.2 cy=624.7 r=1.5 /><circle cx=173.2 cy=574.7 r=1.3 /><circle cx=193.5 cy=562.2 r=1.2 /><circle cx=207.0 cy=562.2 r=1.6 /><circle cx=207.0 cy=555.9 r=1.3 /><circle cx=213.7 cy=568.4 r=1.2 /><circle cx=142.8 cy=651.5 r=1.4 /><circle cx=142.8 cy=609.6 r=1.8 /><circle cx=142.8 cy=585.6 r=2.5 /><circle cx=149.3 cy=639.6 r=1.3 /><circle cx=149.3 cy=627.6 r=1.8 /><circle cx=149.3 cy=597.6 r=1.4 /><circle cx=155.8 cy=633.6 r=1.7 /><circle cx=155.8 cy=621.6 r=1.9 /><circle cx=155.8 cy=615.6 r=1.7 /><circle cx=168.7 cy=579.6 r=1.4 /><circle cx=121.0 cy=618.7 r=1.5 /><circle cx=133.5 cy=630.2 r=1.8 /><circle cx=133.5 cy=595.7 r=1.4 /><circle cx=152.1 cy=630.2 r=1.8 /><circle cx=152.1 cy=624.5 r=1.3 /><circle cx=158.3 cy=612.9 r=1.3 /><circle cx=158.3 cy=607.2 r=1.7 /><circle cx=164.6 cy=630.2 r=1.3 /><circle cx=164.6 cy=624.5 r=1.3 /><circle cx=170.8 cy=624.5 r=1.5 /><circle cx=183.2 cy=566.9 r=1.2 /><circle cx=201.9 cy=561.2 r=1.3 /><circle cx=136.8 cy=638.2 r=1.2 /><circle cx=142.8 cy=638.2 r=2.3 /><circle cx=142.8 cy=616.0 r=1.8 /><circle cx=142.8 cy=599.5 r=1.8 /><circle cx=142.8 cy=593.9 r=1.9 /></g>
<g fill="#2f7681"><circle cx=151.4 cy=589.6 r=1.7 /><circle cx=177.3 cy=613.6 r=1.7 /><circle cx=194.6 cy=557.7 r=0.9 /><circle cx=211.9 cy=573.6 r=1.5 /><circle cx=229.1 cy=549.7 r=0.7 /><circle cx=155.1 cy=595.1 r=1.4 /><circle cx=155.1 cy=579.9 r=1.4 /><circle cx=171.4 cy=625.4 r=1.4 /><circle cx=171.4 cy=587.5 r=1.5 /><circle cx=179.6 cy=648.1 r=0.7 /><circle cx=187.8 cy=602.7 r=1.5 /><circle cx=204.1 cy=557.2 r=1.2 /><circle cx=212.3 cy=572.4 r=2.3 /><circle cx=212.3 cy=564.8 r=1.2 /><circle cx=142.8 cy=614.4 r=1.8 /><circle cx=150.6 cy=578.4 r=0.7 /><circle cx=181.6 cy=607.2 r=1.3 /><circle cx=197.2 cy=556.9 r=1.3 /><circle cx=205.0 cy=564.0 r=1.5 /><circle cx=139.1 cy=604.5 r=1.2 /><circle cx=139.1 cy=563.4 r=0.7 /><circle cx=139.1 cy=549.7 r=0.8 /><circle cx=146.5 cy=618.2 r=1.8 /><circle cx=153.9 cy=590.8 r=1.4 /><circle cx=161.3 cy=577.1 r=1.3 /><circle cx=205.7 cy=570.2 r=1.2 /><circle cx=205.7 cy=556.5 r=1.2 /><circle cx=135.7 cy=647.7 r=1.4 /><circle cx=135.7 cy=628.1 r=1.8 /><circle cx=142.8 cy=588.9 r=1.9 /><circle cx=149.9 cy=602.0 r=1.3 /><circle cx=149.9 cy=582.4 r=1.5 /><circle cx=156.9 cy=621.6 r=2.3 /><circle cx=199.3 cy=588.9 r=1.3 /><circle cx=206.4 cy=556.2 r=1.2 /><circle cx=159.7 cy=631.0 r=1.2 /><circle cx=166.4 cy=618.5 r=1.4 /><circle cx=173.2 cy=618.5 r=1.4 /><circle cx=173.2 cy=599.7 r=1.2 /><circle cx=123.4 cy=639.6 r=1.5 /><circle cx=136.3 cy=633.6 r=1.3 /><circle cx=149.3 cy=591.6 r=1.4 /><circle cx=155.8 cy=639.6 r=1.2 /><circle cx=155.8 cy=591.6 r=1.5 /><circle cx=162.2 cy=579.6 r=1.3 /><circle cx=168.7 cy=615.6 r=1.6 /><circle cx=188.1 cy=609.6 r=0.9 /><circle cx=214.0 cy=561.6 r=1.2 /><circle cx=133.5 cy=555.4 r=0.6 /><circle cx=145.9 cy=612.9 r=1.3 /><circle cx=152.1 cy=584.2 r=1.3 /><circle cx=112.9 cy=599.5 r=0.8 /><circle cx=124.9 cy=610.5 r=1.1 /><circle cx=130.8 cy=632.6 r=1.7 /><circle cx=130.8 cy=599.5 r=1.5 /><circle cx=136.8 cy=627.1 r=1.8 /></g>
<g fill="#306f81"><circle cx=160.1 cy=581.6 r=1.5 /><circle cx=168.7 cy=597.6 r=1.6 /><circle cx=177.3 cy=581.6 r=1.5 /><circle cx=194.6 cy=573.6 r=1.6 /><circle cx=220.5 cy=589.6 r=0.7 /><circle cx=163.2 cy=617.8 r=1.5 /><circle cx=171.4 cy=595.1 r=1.6 /><circle cx=179.6 cy=602.7 r=1.3 /><circle cx=187.8 cy=579.9 r=1.7 /><circle cx=196.0 cy=572.4 r=1.6 /><circle cx=204.1 cy=587.5 r=1.4 /><circle cx=150.6 cy=607.2 r=1.4 /><circle cx=166.1 cy=585.6 r=1.4 /><circle cx=189.4 cy=578.4 r=1.8 /><circle cx=197.2 cy=578.4 r=1.3 /><circle cx=205.0 cy=578.4 r=1.5 /><circle cx=212.7 cy=571.2 r=1.3 /><circle cx=139.1 cy=618.2 r=1.8 /><circle cx=139.1 cy=611.3 r=1.5 /><circle cx=161.3 cy=570.2 r=0.7 /><circle cx=168.7 cy=611.3 r=1.5 /><circle cx=168.7 cy=590.8 r=1.2 /><circle cx=168.7 cy=577.1 r=1.2 /><circle cx=176.1 cy=618.2 r=1.6 /><circle cx=176.1 cy=604.5 r=1.3 /><circle cx=190.9 cy=597.6 r=1.3 /><circle cx=190.9 cy=590.8 r=1.3 /><circle cx=190.9 cy=577.1 r=1.6 /><circle cx=213.1 cy=577.1 r=1.2 /><circle cx=156.9 cy=595.4 r=1.5 /><circle cx=164.0 cy=628.1 r=1.4 /><circle cx=164.0 cy=608.5 r=1.6 /><circle cx=164.0 cy=575.8 r=1.6 /><circle cx=185.2 cy=615.0 r=0.8 /><circle cx=185.2 cy=602.0 r=1.7 /><circle cx=199.3 cy=556.2 r=1.4 /><circle cx=213.4 cy=575.8 r=1.4 /><circle cx=213.4 cy=569.3 r=1.3 /><circle cx=152.9 cy=593.4 r=1.5 /><circle cx=173.2 cy=612.2 r=1.5 /><circle cx=200.2 cy=593.4 r=1.3 /><circle cx=200.2 cy=555.9 r=0.6 /><circle cx=213.7 cy=574.7 r=1.4 /><circle cx=142.8 cy=639.6 r=1.7 /><circle cx=181.6 cy=573.6 r=1.4 /><circle cx=188.1 cy=567.6 r=1.3 /><circle cx=188.1 cy=561.6 r=1.4 /><circle cx=201.1 cy=567.6 r=1.9 /><circle cx=207.5 cy=585.6 r=0.8 /><circle cx=139.7 cy=612.9 r=1.2 /><circle cx=158.3 cy=624.5 r=1.3 /><circle cx=158.3 cy=589.9 r=1.2 /><circle cx=183.2 cy=618.7 r=0.6 /><circle cx=214.3 cy=566.9 r=1.3 /><circle cx=142.8 cy=605.0 r=1.8 /></g>
<g fill="#316c80"><circle cx=160.1 cy=605.6 r=1.6 /><circle cx=168.7 cy=645.6 r=1.3 /><circle cx=168.7 cy=613.6 r=1.6 /><circle cx=177.3 cy=573.6 r=1.6 /><circle cx=203.2 cy=581.6 r=1.3 /><circle cx=155.1 cy=625.4 r=1.3 /><circle cx=179.6 cy=579.9 r=1.3 /><circle cx=179.6 cy=572.4 r=1.3 /><circle cx=187.8 cy=595.1 r=1.3 /><circle cx=196.0 cy=595.1 r=1.2 /><circle cx=204.1 cy=579.9 r=1.2 /><circle cx=173.9 cy=621.6 r=2.0 /><circle cx=173.9 cy=571.2 r=2.4 /><circle cx=189.4 cy=571.2 r=1.3 /><circle cx=197.2 cy=571.2 r=1.6 /><circle cx=197.2 cy=564.0 r=1.3 /><circle cx=212.7 cy=556.9 r=1.7 /><circle cx=153.9 cy=611.3 r=1.8 /><circle cx=161.3 cy=611.3 r=1.4 /><circle cx=161.3 cy=604.5 r=1.6 /><circle cx=168.7 cy=604.5 r=1.3 /><circle cx=198.3 cy=570.2 r=1.6 /><circle cx=198.3 cy=556.5 r=1.2 /><circle cx=205.7 cy=563.4 r=1.7 /><circle cx=149.9 cy=641.2 r=1.1 /><circle cx=149.9 cy=608.5 r=1.6 /><circle cx=178.1 cy=621.6 r=1.3 /><circle cx=192.2 cy=602.0 r=1.5 /><circle cx=206.4 cy=582.4 r=1.4 /><circle cx=166.4 cy=574.7 r=1.4 /><circle cx=180.0 cy=605.9 r=1.3 /><circle cx=186.7 cy=568.4 r=1.3 /><circle cx=200.2 cy=580.9 r=1.5 /><circle cx=207.0 cy=587.2 r=0.7 /><circle cx=207.0 cy=580.9 r=1.2 /><circle cx=207.0 cy=568.4 r=1.3 /><circle cx=220.5 cy=605.9 r=0.7 /><circle cx=129.8 cy=597.6 r=1.4 /><circle cx=149.3 cy=633.6 r=1.4 /><circle cx=155.8 cy=597.6 r=1.4 /><circle cx=168.7 cy=621.6 r=1.9 /><circle cx=168.7 cy=573.6 r=1.6 /><circle cx=175.2 cy=609.6 r=1.4 /><circle cx=175.2 cy=597.6 r=1.3 /><circle cx=181.6 cy=609.6 r=1.6 /><circle cx=181.6 cy=591.6 r=1.4 /><circle cx=194.6 cy=561.6 r=1.4 /><circle cx=194.6 cy=555.7 r=0.8 /><circle cx=201.1 cy=561.6 r=1.3 /><circle cx=201.1 cy=555.7 r=0.6 /><circle cx=207.5 cy=555.7 r=1.3 /><circle cx=214.0 cy=573.6 r=1.3 /><circle cx=139.7 cy=624.5 r=1.8 /><circle cx=152.1 cy=589.9 r=1.2 /><circle cx=158.3 cy=584.2 r=1.2 /><circle cx=164.6 cy=572.7 r=0.6 /><circle cx=177.0 cy=618.7 r=1.3 /><circle cx=189.4 cy=566.9 r=1.2 /><circle cx=208.1 cy=578.4 r=1.3 /><circle cx=142.8 cy=643.7 r=2.2 /><circle cx=142.8 cy=610.5 r=1.8 /></g>
<g fill="#319c7b"><circle cx=81.5 cy=595.1 r=0.9 /><circle cx=89.6 cy=572.4 r=1.1 /><circle cx=103.9 cy=556.9 r=0.9 /><circle cx=102.1 cy=659.3 r=1.0 /><circle cx=71.3 cy=595.7 r=0.7 /></g>
<g fill="#336880"><circle cx=160.1 cy=597.6 r=1.7 /><circle cx=186.0 cy=565.6 r=1.3 /><circle cx=203.2 cy=589.6 r=1.3 /><circle cx=196.0 cy=587.5 r=1.3 /><circle cx=196.0 cy=579.9 r=1.2 /><circle cx=158.3 cy=607.2 r=1.7 /><circle cx=166.1 cy=592.8 r=1.3 /><circle cx=205.0 cy=585.6 r=1.6 /><circle cx=153.9 cy=604.5 r=1.2 /><circle cx=183.5 cy=604.5 r=1.3 /><circle cx=183.5 cy=583.9 r=1.7 /><circle cx=183.5 cy=577.1 r=1.3 /><circle cx=183.5 cy=563.4 r=1.2 /><circle cx=198.3 cy=583.9 r=1.2 /><circle cx=164.0 cy=595.4 r=1.4 /><circle cx=178.1 cy=615.0 r=1.6 /><circle cx=185.2 cy=608.5 r=1.7 /><circle cx=185.2 cy=588.9 r=1.7 /><circle cx=185.2 cy=569.3 r=1.4 /><circle cx=166.4 cy=605.9 r=1.4 /><circle cx=166.4 cy=599.7 r=1.7 /><circle cx=166.4 cy=568.4 r=0.6 /><circle cx=173.2 cy=580.9 r=1.2 /><circle cx=180.0 cy=618.5 r=1.4 /><circle cx=180.0 cy=612.2 r=1.4 /><circle cx=186.7 cy=580.9 r=1.7 /><circle cx=186.7 cy=562.2 r=1.3 /><circle cx=193.5 cy=580.9 r=1.2 /><circle cx=220.5 cy=580.9 r=0.9 /><circle cx=142.8 cy=549.7 r=0.9 /><circle cx=149.3 cy=603.6 r=1.5 /><circle cx=155.8 cy=585.6 r=1.8 /><circle cx=162.2 cy=597.6 r=1.7 /><circle cx=162.2 cy=591.6 r=1.3 /><circle cx=175.2 cy=585.6 r=1.3 /><circle cx=188.1 cy=603.6 r=1.6 /><circle cx=201.1 cy=591.6 r=1.3 /><circle cx=145.9 cy=618.7 r=2.0 /><circle cx=152.1 cy=618.7 r=1.4 /><circle cx=158.3 cy=618.7 r=1.3 /><circle cx=164.6 cy=595.7 r=1.3 /><circle cx=170.8 cy=618.7 r=1.4 /><circle cx=170.8 cy=566.9 r=0.6 /><circle cx=177.0 cy=612.9 r=1.3 /><circle cx=177.0 cy=607.2 r=1.2 /><circle cx=183.2 cy=612.9 r=1.2 /><circle cx=189.4 cy=612.9 r=0.9 /><circle cx=201.9 cy=578.4 r=1.3 /><circle cx=208.1 cy=572.7 r=1.2 /><circle cx=208.1 cy=566.9 r=1.6 /><circle cx=208.1 cy=561.2 r=1.6 /><circle cx=214.3 cy=572.7 r=1.2 /></g>
<g fill="#346480"><circle cx=168.7 cy=581.6 r=1.3 /><circle cx=186.0 cy=589.6 r=1.3 /><circle cx=186.0 cy=581.6 r=1.7 /><circle cx=186.0 cy=573.6 r=1.5 /><circle cx=163.2 cy=602.7 r=1.5 /><circle cx=163.2 cy=595.1 r=2.0 /><circle cx=163.2 cy=587.5 r=1.3 /><circle cx=171.4 cy=579.9 r=1.2 /><circle cx=179.6 cy=595.1 r=1.3 /><circle cx=187.8 cy=564.8 r=1.2 /><circle cx=166.1 cy=614.4 r=1.7 /><circle cx=166.1 cy=578.4 r=1.5 /><circle cx=181.6 cy=600.0 r=1.3 /><circle cx=197.2 cy=592.8 r=1.3 /><circle cx=197.2 cy=585.6 r=1.3 /><circle cx=168.7 cy=570.2 r=0.6 /><circle cx=183.5 cy=618.2 r=0.7 /><circle cx=190.9 cy=583.9 r=1.4 /><circle cx=198.3 cy=597.6 r=0.6 /><circle cx=198.3 cy=577.1 r=1.5 /><circle cx=205.7 cy=583.9 r=1.2 /><circle cx=205.7 cy=577.1 r=1.3 /><circle cx=156.9 cy=608.5 r=1.7 /><circle cx=164.0 cy=588.9 r=1.5 /><circle cx=171.1 cy=608.5 r=1.8 /><circle cx=171.1 cy=602.0 r=1.9 /><circle cx=171.1 cy=582.4 r=1.5 /><circle cx=171.1 cy=575.8 r=1.4 /><circle cx=178.1 cy=602.0 r=1.4 /><circle cx=178.1 cy=569.3 r=1.4 /><circle cx=185.2 cy=562.7 r=1.5 /><circle cx=206.4 cy=575.8 r=1.3 /><circle cx=206.4 cy=569.3 r=1.3 /><circle cx=159.7 cy=605.9 r=1.6 /><circle cx=173.2 cy=593.4 r=1.6 /><circle cx=173.2 cy=587.2 r=1.2 /><circle cx=186.7 cy=574.7 r=1.2 /><circle cx=193.5 cy=568.4 r=1.2 /><circle cx=200.2 cy=587.2 r=1.2 /><circle cx=200.2 cy=568.4 r=1.5 /><circle cx=207.0 cy=574.7 r=1.2 /><circle cx=162.2 cy=585.6 r=1.5 /><circle cx=175.2 cy=615.6 r=1.4 /><circle cx=175.2 cy=573.6 r=1.3 /><circle cx=181.6 cy=579.6 r=1.4 /><circle cx=194.6 cy=597.6 r=1.7 /><circle cx=201.1 cy=549.7 r=0.7 /><circle cx=214.0 cy=621.6 r=0.9 /><circle cx=145.9 cy=630.2 r=1.3 /><circle cx=189.4 cy=578.4 r=1.6 /></g>
<g fill="#35617f"><circle cx=168.7 cy=605.6 r=1.4 /><circle cx=171.4 cy=602.7 r=1.4 /><circle cx=187.8 cy=572.4 r=1.2 /><circle cx=173.9 cy=607.2 r=1.7 /><circle cx=181.6 cy=585.6 r=1.6 /><circle cx=189.4 cy=592.8 r=1.7 /><circle cx=189.4 cy=585.6 r=1.5 /><circle cx=161.3 cy=583.9 r=1.3 /><circle cx=168.7 cy=597.6 r=1.8 /><circle cx=168.7 cy=583.9 r=1.3 /><circle cx=176.1 cy=597.6 r=1.3 /><circle cx=176.1 cy=563.4 r=0.7 /><circle cx=183.5 cy=597.6 r=1.5 /><circle cx=183.5 cy=590.8 r=1.2 /><circle cx=190.9 cy=570.2 r=1.3 /><circle cx=156.9 cy=602.0 r=1.5 /><circle cx=178.1 cy=608.5 r=1.3 /><circle cx=178.1 cy=582.4 r=1.3 /><circle cx=185.2 cy=575.8 r=1.3 /><circle cx=199.3 cy=575.8 r=1.4 /><circle cx=152.9 cy=631.0 r=1.8 /><circle cx=159.7 cy=587.2 r=1.3 /><circle cx=180.0 cy=599.7 r=1.2 /><circle cx=180.0 cy=580.9 r=1.2 /><circle cx=186.7 cy=599.7 r=1.3 /><circle cx=193.5 cy=599.7 r=1.4 /><circle cx=193.5 cy=587.2 r=1.3 /><circle cx=193.5 cy=574.7 r=1.8 /><circle cx=155.8 cy=609.6 r=1.7 /><circle cx=168.7 cy=585.6 r=2.0 /><circle cx=175.2 cy=579.6 r=1.3 /><circle cx=181.6 cy=585.6 r=1.7 /><circle cx=188.1 cy=585.6 r=1.3 /><circle cx=188.1 cy=579.6 r=1.5 /><circle cx=201.1 cy=579.6 r=1.3 /><circle cx=164.6 cy=584.2 r=1.3 /><circle cx=170.8 cy=612.9 r=1.5 /><circle cx=170.8 cy=601.4 r=1.3 /><circle cx=177.0 cy=595.7 r=1.3 /><circle cx=177.0 cy=572.7 r=1.2 /><circle cx=189.4 cy=607.2 r=0.7 /><circle cx=189.4 cy=561.2 r=1.3 /><circle cx=195.6 cy=578.4 r=1.3 /><circle cx=195.6 cy=561.2 r=1.4 /><circle cx=195.6 cy=555.4 r=0.6 /><circle cx=201.9 cy=589.9 r=1.2 /><circle cx=201.9 cy=584.2 r=1.3 /><circle cx=201.9 cy=572.7 r=1.2 /></g>
<g fill="#365d7f"><circle cx=177.3 cy=589.6 r=1.8 /><circle cx=179.6 cy=587.5 r=1.6 /><circle cx=187.8 cy=587.5 r=1.3 /><circle cx=158.3 cy=600.0 r=1.5 /><circle cx=173.9 cy=600.0 r=1.6 /><circle cx=173.9 cy=585.6 r=2.4 /><circle cx=164.0 cy=582.4 r=1.6 /><circle cx=171.1 cy=595.4 r=1.7 /><circle cx=171.1 cy=588.9 r=1.4 /><circle cx=192.2 cy=588.9 r=1.5 /><circle cx=192.2 cy=575.8 r=1.9 /><circle cx=192.2 cy=562.7 r=1.3 /><circle cx=199.3 cy=582.4 r=1.7 /><circle cx=199.3 cy=569.3 r=1.7 /><circle cx=206.4 cy=588.9 r=0.7 /><circle cx=173.2 cy=568.4 r=1.5 /><circle cx=180.0 cy=593.4 r=1.3 /><circle cx=193.5 cy=593.4 r=1.3 /><circle cx=200.2 cy=562.2 r=1.2 /><circle cx=155.8 cy=603.6 r=1.5 /><circle cx=162.2 cy=609.6 r=1.3 /><circle cx=168.7 cy=609.6 r=1.6 /><circle cx=168.7 cy=597.6 r=1.8 /><circle cx=175.2 cy=603.6 r=1.5 /><circle cx=175.2 cy=567.6 r=1.3 /><circle cx=181.6 cy=561.6 r=0.6 /><circle cx=194.6 cy=585.6 r=1.5 /><circle cx=194.6 cy=579.6 r=1.3 /><circle cx=201.1 cy=573.6 r=1.3 /><circle cx=207.5 cy=591.6 r=1.0 /><circle cx=207.5 cy=579.6 r=1.4 /><circle cx=158.3 cy=578.4 r=1.4 /><circle cx=164.6 cy=589.9 r=1.3 /><circle cx=164.6 cy=578.4 r=1.2 /><circle cx=170.8 cy=589.9 r=1.4 /><circle cx=177.0 cy=578.4 r=1.2 /><circle cx=177.0 cy=566.9 r=1.2 /><circle cx=183.2 cy=589.9 r=1.2 /><circle cx=189.4 cy=601.4 r=1.5 /><circle cx=189.4 cy=589.9 r=1.3 /><circle cx=195.6 cy=589.9 r=1.6 /><circle cx=195.6 cy=572.7 r=1.8 /></g>
<g fill="#36a079"><circle cx=65.1 cy=549.7 r=1.0 /><circle cx=105.6 cy=568.4 r=0.6 /></g>
<g fill="#37597e"><circle cx=171.4 cy=610.2 r=1.3 /><circle cx=176.1 cy=590.8 r=1.6 /><circle cx=190.9 cy=604.5 r=1.3 /><circle cx=164.0 cy=602.0 r=1.7 /><circle cx=178.1 cy=588.9 r=1.8 /><circle cx=185.2 cy=595.4 r=1.7 /><circle cx=185.2 cy=582.4 r=1.6 /><circle cx=159.7 cy=593.4 r=1.2 /><circle cx=166.4 cy=612.2 r=1.2 /><circle cx=180.0 cy=574.7 r=1.2 /><circle cx=200.2 cy=574.7 r=1.2 /><circle cx=168.7 cy=591.6 r=1.5 /><circle cx=188.1 cy=597.6 r=1.8 /><circle cx=188.1 cy=573.6 r=1.3 /><circle cx=194.6 cy=591.6 r=1.4 /><circle cx=194.6 cy=573.6 r=1.6 /><circle cx=201.1 cy=585.6 r=1.4 /><circle cx=177.0 cy=601.4 r=1.3 /><circle cx=183.2 cy=607.2 r=1.3 /><circle cx=183.2 cy=595.7 r=1.2 /><circle cx=189.4 cy=595.7 r=1.3 /><circle cx=189.4 cy=584.2 r=1.3 /><circle cx=195.6 cy=595.7 r=1.3 /></g>
<g fill="#39557d"><circle cx=173.9 cy=592.8 r=1.6 /><circle cx=189.4 cy=600.0 r=1.9 /><circle cx=186.7 cy=605.9 r=1.3 /><circle cx=186.7 cy=587.2 r=1.2 /><circle cx=162.2 cy=603.6 r=1.9 /><circle cx=201.1 cy=597.6 r=0.7 /><circle cx=170.8 cy=595.7 r=1.7 /><circle cx=183.2 cy=601.4 r=1.2 /><circle cx=183.2 cy=578.4 r=1.3 /><circle cx=189.4 cy=572.7 r=1.2 /><circle cx=195.6 cy=584.2 r=1.2 /></g>
<g fill="#3a527c"><circle cx=166.1 cy=600.0 r=1.7 /><circle cx=176.1 cy=611.3 r=1.5 /><circle cx=178.1 cy=575.8 r=1.4 /><circle cx=192.2 cy=595.4 r=1.4 /><circle cx=168.7 cy=603.6 r=1.4 /><circle cx=175.2 cy=591.6 r=1.7 /><circle cx=181.6 cy=603.6 r=1.7 /><circle cx=188.1 cy=591.6 r=1.3 /><circle cx=177.0 cy=589.9 r=1.6 /><circle cx=177.0 cy=584.2 r=1.2 /></g>
<g fill="#3aa477"><circle cx=109.5 cy=611.3 r=1.2 /><circle cx=127.3 cy=612.9 r=1.1 /></g>
<g fill="#3b4e7b"><circle cx=212.7 cy=578.4 r=1.6 /><circle cx=176.1 cy=583.9 r=1.3 /><circle cx=178.1 cy=595.4 r=1.3 /><circle cx=173.2 cy=605.9 r=1.3 /><circle cx=181.6 cy=597.6 r=1.4 /></g>
<g fill="#3d497a"><circle cx=181.6 cy=592.8 r=1.4 /><circle cx=142.8 cy=602.0 r=2.5 /><circle cx=156.9 cy=634.7 r=1.7 /><circle cx=199.3 cy=562.7 r=1.4 /><circle cx=180.0 cy=587.2 r=1.6 /><circle cx=183.2 cy=572.7 r=1.3 /></g>
<g fill="#3f4177"><circle cx=127.3 cy=636.0 r=1.7 /><circle cx=142.8 cy=632.6 r=1.9 /></g>
<g fill="#3fa775"><circle cx=150.6 cy=600.0 r=1.3 /><circle cx=86.3 cy=549.7 r=0.7 /><circle cx=93.4 cy=556.2 r=0.7 /><circle cx=91.0 cy=573.6 r=0.9 /><circle cx=175.2 cy=627.6 r=1.2 /></g>
<g fill="#403c75"><circle cx=81.5 cy=587.5 r=0.7 /><circle cx=207.5 cy=573.6 r=1.3 /><circle cx=183.2 cy=584.2 r=1.7 /></g>
<g fill="#413873"><circle cx=87.3 cy=631.9 r=1.0 /><circle cx=112.9 cy=632.6 r=1.0 /></g>
<g fill="#422566"><circle cx=146.9 cy=640.5 r=1.4 /><circle cx=170.8 cy=578.4 r=1.4 /></g>
<g fill="#422a69"><circle cx=179.6 cy=610.2 r=1.6 /><circle cx=146.5 cy=597.6 r=1.3 /></g>
<g fill="#422f6d"><circle cx=131.7 cy=611.3 r=1.8 /><circle cx=207.5 cy=561.6 r=1.6 /><circle cx=106.9 cy=627.1 r=1.0 /></g>
<g fill="#423470"><circle cx=177.3 cy=645.6 r=0.9 /><circle cx=142.8 cy=603.6 r=1.8 /><circle cx=168.7 cy=627.6 r=1.5 /></g>
<g fill="#45aa73"><circle cx=204.1 cy=564.8 r=1.6 /><circle cx=127.3 cy=592.8 r=0.9 /><circle cx=142.8 cy=650.3 r=1.5 /><circle cx=158.3 cy=578.4 r=1.4 /><circle cx=153.9 cy=625.0 r=1.5 /><circle cx=100.4 cy=575.8 r=0.8 /><circle cx=136.3 cy=609.6 r=1.4 /><circle cx=181.6 cy=615.6 r=1.5 /><circle cx=208.1 cy=584.2 r=1.3 /></g>
<circle cx=133.5 cy=653.2 r=0.8 fill="#4cae70"/>
<g fill="#53b26d"><circle cx=124.3 cy=611.3 r=1.1 /><circle cx=149.9 cy=621.6 r=1.8 /><circle cx=156.9 cy=582.4 r=1.4 /></g>
<circle cx=189.4 cy=564.0 r=1.4 fill="#63b866"/>
<g fill="#2a8780"><circle cx=142.8 cy=588.4 r=4.0 /><circle cx=148.8 cy=654.8 r=0.9 /><circle cx=148.8 cy=643.7 r=1.1 /><circle cx=148.8 cy=582.9 r=1.4 /><circle cx=111.1 cy=656.2 r=0.7 /><circle cx=111.1 cy=624.2 r=1.0 /><circle cx=111.1 cy=592.3 r=1.1 /><circle cx=122.7 cy=592.3 r=0.7 /><circle cx=139.9 cy=656.2 r=0.7 /><circle cx=139.9 cy=624.2 r=2.5 /><circle cx=151.4 cy=629.6 r=1.8 /></g>
<g fill="#2a8b80"><circle cx=166.7 cy=638.2 r=0.9 /><circle cx=99.6 cy=629.6 r=0.8 /></g>
<circle cx=65.1 cy=549.7 r=0.9 fill="#2a8e7f"/>
<g fill="#2b8481"><circle cx=154.8 cy=643.7 r=1.1 /><circle cx=166.7 cy=643.7 r=1.4 /><circle cx=99.6 cy=581.6 r=0.9 /><circle cx=116.9 cy=618.9 r=1.1 /><circle cx=116.9 cy=597.6 r=1.3 /><circle cx=122.7 cy=629.6 r=1.1 /></g>
<g fill="#2b927e"><circle cx=154.8 cy=649.2 r=1.0 /><circle cx=122.7 cy=602.9 r=1.5 /></g>
<g fill="#2c8081"><circle cx=154.8 cy=627.1 r=1.5 /><circle cx=160.7 cy=660.3 r=0.7 /><circle cx=160.7 cy=627.1 r=1.4 /><circle cx=214.5 cy=560.7 r=1.3 /><circle cx=99.6 cy=602.9 r=0.7 /><circle cx=116.9 cy=645.6 r=1.3 /><circle cx=122.7 cy=624.2 r=1.1 /><circle cx=122.7 cy=549.7 r=0.6 /><circle cx=128.4 cy=624.2 r=1.4 /><circle cx=128.4 cy=613.6 r=1.2 /><circle cx=134.2 cy=629.6 r=1.8 /><circle cx=139.9 cy=618.9 r=1.8 /></g>
<circle cx=88.1 cy=581.6 r=0.7 fill="#2c967d"/>
<g fill="#2d7a81"><circle cx=148.8 cy=638.2 r=1.2 /><circle cx=148.8 cy=588.4 r=1.4 /><circle cx=154.8 cy=632.6 r=1.7 /><circle cx=160.7 cy=571.8 r=0.9 /><circle cx=172.7 cy=616.0 r=1.4 /><circle cx=178.7 cy=621.6 r=1.3 /><circle cx=220.5 cy=571.8 r=0.7 /><circle cx=105.4 cy=624.2 r=1.0 /><circle cx=111.1 cy=629.6 r=1.0 /><circle cx=116.9 cy=624.2 r=1.1 /><circle cx=116.9 cy=613.6 r=1.4 /><circle cx=128.4 cy=618.9 r=1.2 /><circle cx=128.4 cy=608.3 r=1.9 /><circle cx=134.2 cy=613.6 r=1.8 /><circle cx=134.2 cy=597.6 r=1.4 /><circle cx=134.2 cy=581.6 r=0.8 /><circle cx=139.9 cy=613.6 r=1.4 /><circle cx=139.9 cy=587.0 r=1.2 /><circle cx=145.7 cy=661.5 r=0.7 /><circle cx=145.7 cy=629.6 r=1.4 /><circle cx=151.4 cy=624.2 r=1.4 /><circle cx=157.2 cy=634.9 r=1.7 /></g>
<g fill="#2d7d81"><circle cx=148.8 cy=616.0 r=1.8 /><circle cx=148.8 cy=577.3 r=0.6 /><circle cx=154.8 cy=616.0 r=1.7 /><circle cx=160.7 cy=638.2 r=1.6 /><circle cx=166.7 cy=632.6 r=1.6 /><circle cx=122.7 cy=640.2 r=1.5 /><circle cx=134.2 cy=618.9 r=1.3 /><circle cx=151.4 cy=581.6 r=1.4 /><circle cx=162.9 cy=640.2 r=1.5 /><circle cx=162.9 cy=629.6 r=1.2 /><circle cx=162.9 cy=624.2 r=1.3 /></g>
<g fill="#2f7281"><circle cx=148.8 cy=649.2 r=0.9 /><circle cx=148.8 cy=632.6 r=1.4 /><circle cx=148.8 cy=621.6 r=2.4 /><circle cx=148.8 cy=599.5 r=1.3 /><circle cx=160.7 cy=632.6 r=1.3 /><circle cx=166.7 cy=616.0 r=1.6 /><circle cx=196.6 cy=566.3 r=1.3 /><circle cx=122.7 cy=618.9 r=1.2 /><circle cx=122.7 cy=613.6 r=1.1 /><circle cx=139.9 cy=576.3 r=0.8 /><circle cx=145.7 cy=624.2 r=1.8 /><circle cx=151.4 cy=618.9 r=1.5 /><circle cx=157.2 cy=629.6 r=1.2 /><circle cx=157.2 cy=618.9 r=1.3 /><circle cx=162.9 cy=581.6 r=1.2 /><circle cx=174.5 cy=618.9 r=1.3 /></g>
<g fill="#2f7681"><circle cx=154.8 cy=621.6 r=2.1 /><circle cx=160.7 cy=605.0 r=1.6 /><circle cx=166.7 cy=627.1 r=1.6 /><circle cx=202.6 cy=560.7 r=1.4 /><circle cx=116.9 cy=629.6 r=1.5 /><circle cx=128.4 cy=634.9 r=1.7 /><circle cx=139.9 cy=629.6 r=1.2 /><circle cx=145.7 cy=587.0 r=1.2 /><circle cx=145.7 cy=581.6 r=0.6 /><circle cx=174.5 cy=656.2 r=0.6 /></g>
<g fill="#306f81"><circle cx=154.8 cy=610.5 r=1.7 /><circle cx=160.7 cy=577.3 r=1.3 /><circle cx=166.7 cy=577.3 r=1.6 /><circle cx=172.7 cy=621.6 r=1.9 /><circle cx=172.7 cy=577.3 r=1.3 /><circle cx=184.6 cy=616.0 r=0.8 /><circle cx=196.6 cy=582.9 r=1.3 /><circle cx=208.5 cy=577.3 r=1.3 /><circle cx=134.2 cy=624.2 r=1.3 /><circle cx=145.7 cy=613.6 r=1.3 /><circle cx=151.4 cy=587.0 r=1.5 /><circle cx=174.5 cy=624.2 r=1.3 /><circle cx=180.2 cy=613.6 r=1.3 /></g>
<g fill="#316c80"><circle cx=148.8 cy=610.5 r=1.5 /><circle cx=148.8 cy=605.0 r=1.4 /><circle cx=154.8 cy=599.5 r=1.5 /><circle cx=160.7 cy=588.4 r=1.7 /><circle cx=172.7 cy=627.1 r=1.5 /><circle cx=178.7 cy=654.8 r=1.0 /><circle cx=178.7 cy=627.1 r=0.9 /><circle cx=178.7 cy=605.0 r=1.7 /><circle cx=178.7 cy=599.5 r=1.6 /><circle cx=196.6 cy=560.7 r=1.5 /><circle cx=202.6 cy=571.8 r=1.3 /><circle cx=214.5 cy=566.3 r=1.4 /><circle cx=157.2 cy=613.6 r=1.2 /><circle cx=157.2 cy=592.3 r=1.2 /><circle cx=157.2 cy=581.6 r=1.4 /><circle cx=162.9 cy=618.9 r=1.4 /><circle cx=197.5 cy=565.6 r=1.3 /></g>
<g fill="#336880"><circle cx=148.8 cy=627.1 r=1.8 /><circle cx=148.8 cy=593.9 r=1.4 /><circle cx=154.8 cy=588.4 r=1.4 /><circle cx=154.8 cy=582.9 r=1.5 /><circle cx=166.7 cy=621.6 r=2.0 /><circle cx=166.7 cy=571.8 r=1.4 /><circle cx=172.7 cy=610.5 r=1.3 /><circle cx=172.7 cy=588.4 r=1.4 /><circle cx=178.7 cy=616.0 r=1.6 /><circle cx=184.6 cy=599.5 r=1.3 /><circle cx=202.6 cy=582.9 r=1.6 /><circle cx=128.4 cy=629.6 r=1.2 /><circle cx=145.7 cy=618.9 r=1.8 /><circle cx=157.2 cy=624.2 r=1.3 /><circle cx=162.9 cy=587.0 r=1.3 /><circle cx=162.9 cy=571.0 r=0.6 /><circle cx=168.7 cy=618.9 r=1.4 /><circle cx=180.2 cy=592.3 r=1.2 /><circle cx=197.5 cy=581.6 r=1.2 /><circle cx=197.5 cy=576.3 r=1.2 /></g>
<g fill="#346480"><circle cx=160.7 cy=643.7 r=0.9 /><circle cx=160.7 cy=621.6 r=2.0 /><circle cx=160.7 cy=582.9 r=1.5 /><circle cx=166.7 cy=610.5 r=1.6 /><circle cx=166.7 cy=582.9 r=1.4 /><circle cx=178.7 cy=610.5 r=1.5 /><circle cx=178.7 cy=582.9 r=1.5 /><circle cx=184.6 cy=577.3 r=1.3 /><circle cx=190.6 cy=571.8 r=1.3 /><circle cx=208.5 cy=560.7 r=2.1 /><circle cx=208.5 cy=555.2 r=1.5 /><circle cx=226.5 cy=643.7 r=0.7 /><circle cx=151.4 cy=613.6 r=1.8 /><circle cx=151.4 cy=597.6 r=1.7 /><circle cx=162.9 cy=613.6 r=1.2 /><circle cx=168.7 cy=624.2 r=1.4 /><circle cx=168.7 cy=587.0 r=1.3 /><circle cx=186.0 cy=571.0 r=1.2 /><circle cx=191.7 cy=560.3 r=1.2 /><circle cx=197.5 cy=560.3 r=1.4 /></g>
<g fill="#35617f"><circle cx=154.8 cy=605.0 r=1.5 /><circle cx=154.8 cy=593.9 r=1.6 /><circle cx=160.7 cy=616.0 r=1.7 /><circle cx=172.7 cy=571.8 r=1.4 /><circle cx=178.7 cy=571.8 r=1.6 /><circle cx=184.6 cy=610.5 r=1.4 /><circle cx=190.6 cy=610.5 r=0.8 /><circle cx=190.6 cy=599.5 r=1.8 /><circle cx=190.6 cy=593.9 r=1.4 /><circle cx=190.6 cy=582.9 r=1.5 /><circle cx=202.6 cy=566.3 r=2.1 /><circle cx=208.5 cy=566.3 r=1.2 /><circle cx=157.2 cy=608.3 r=1.7 /><circle cx=162.9 cy=576.3 r=1.2 /><circle cx=168.7 cy=613.6 r=1.4 /><circle cx=168.7 cy=597.6 r=1.8 /><circle cx=174.5 cy=650.9 r=1.1 /><circle cx=174.5 cy=602.9 r=1.4 /><circle cx=180.2 cy=597.6 r=1.2 /><circle cx=186.0 cy=549.7 r=0.6 /><circle cx=203.2 cy=581.6 r=1.7 /></g>
<g fill="#365d7f"><circle cx=160.7 cy=599.5 r=1.3 /><circle cx=172.7 cy=582.9 r=1.2 /><circle cx=178.7 cy=588.4 r=1.6 /><circle cx=184.6 cy=605.0 r=1.4 /><circle cx=190.6 cy=566.3 r=1.5 /><circle cx=196.6 cy=593.9 r=1.4 /><circle cx=157.2 cy=587.0 r=1.3 /><circle cx=162.9 cy=592.3 r=1.3 /><circle cx=174.5 cy=608.3 r=1.3 /><circle cx=174.5 cy=592.3 r=1.9 /><circle cx=174.5 cy=576.3 r=1.2 /><circle cx=186.0 cy=565.6 r=1.3 /><circle cx=191.7 cy=608.3 r=0.6 /><circle cx=191.7 cy=581.6 r=1.2 /><circle cx=191.7 cy=571.0 r=1.2 /><circle cx=197.5 cy=587.0 r=1.2 /><circle cx=203.2 cy=592.3 r=0.7 /><circle cx=203.2 cy=587.0 r=1.3 /></g>
<g fill="#37597e"><circle cx=172.7 cy=605.0 r=1.4 /><circle cx=172.7 cy=593.9 r=1.6 /><circle cx=184.6 cy=566.3 r=1.3 /><circle cx=190.6 cy=605.0 r=1.6 /><circle cx=190.6 cy=560.7 r=1.3 /><circle cx=196.6 cy=588.4 r=1.4 /><circle cx=208.5 cy=582.9 r=1.3 /><circle cx=208.5 cy=571.8 r=1.5 /><circle cx=168.7 cy=592.3 r=1.2 /><circle cx=168.7 cy=581.6 r=1.3 /><circle cx=168.7 cy=571.0 r=1.2 /><circle cx=174.5 cy=587.0 r=1.3 /><circle cx=174.5 cy=571.0 r=1.3 /><circle cx=180.2 cy=602.9 r=1.4 /><circle cx=180.2 cy=571.0 r=1.3 /><circle cx=180.2 cy=565.6 r=1.3 /><circle cx=186.0 cy=608.3 r=1.6 /><circle cx=186.0 cy=597.6 r=1.3 /><circle cx=191.7 cy=576.3 r=1.6 /><circle cx=197.5 cy=592.3 r=1.2 /><circle cx=203.2 cy=576.3 r=1.3 /></g>
<g fill="#39557d"><circle cx=166.7 cy=599.5 r=1.5 /><circle cx=166.7 cy=593.9 r=1.5 /><circle cx=166.7 cy=588.4 r=1.7 /><circle cx=172.7 cy=599.5 r=1.3 /><circle cx=178.7 cy=593.9 r=1.4 /><circle cx=184.6 cy=593.9 r=1.4 /><circle cx=184.6 cy=588.4 r=1.2 /><circle cx=184.6 cy=582.9 r=1.6 /><circle cx=196.6 cy=571.8 r=1.6 /><circle cx=186.0 cy=592.3 r=1.3 /><circle cx=191.7 cy=565.6 r=1.2 /></g>
<g fill="#3a527c"><circle cx=190.6 cy=577.3 r=1.7 /><circle cx=202.6 cy=588.4 r=1.5 /><circle cx=180.2 cy=608.3 r=1.3 /><circle cx=180.2 cy=581.6 r=1.2 /><circle cx=180.2 cy=576.3 r=1.2 /><circle cx=186.0 cy=581.6 r=1.7 /><circle cx=186.0 cy=576.3 r=1.2 /><circle cx=197.5 cy=571.0 r=1.6 /></g>
<g fill="#3b4e7b"><circle cx=196.6 cy=577.3 r=1.4 /><circle cx=111.1 cy=613.6 r=0.9 /><circle cx=162.9 cy=602.9 r=1.5 /><circle cx=191.7 cy=587.0 r=1.2 /></g>
<g fill="#3d497a"><circle cx=166.7 cy=605.0 r=2.0 /><circle cx=197.5 cy=602.9 r=0.8 /></g>
<g fill="#3e4579"><circle cx=184.6 cy=571.8 r=1.2 /><circle cx=174.5 cy=597.6 r=1.3 /><circle cx=180.2 cy=587.0 r=1.6 /><circle cx=191.7 cy=602.9 r=1.5 /></g>
<g fill="#3fa775"><circle cx=202.6 cy=577.3 r=1.3 /><circle cx=186.0 cy=602.9 r=1.2 /></g>
<circle cx=105.4 cy=640.2 r=0.7 fill="#403c75"/>
<circle cx=111.1 cy=602.9 r=0.7 fill="#422566"/>
<circle cx=172.7 cy=632.6 r=0.8 fill="#422a69"/>
<circle cx=142.8 cy=544.1 r=1.0 fill="#422f6d"/>
<circle cx=168.7 cy=576.3 r=1.2 fill="#423470"/>
<g fill="#45aa73"><circle cx=160.7 cy=593.9 r=1.4 /><circle cx=168.7 cy=629.6 r=1.5 /></g>
<circle cx=191.7 cy=613.6 r=0.6 fill="#5ab56a"/>
<circle cx=203.2 cy=571.0 r=3.0 fill="#2f7681"/>
<g fill="#2a8780"><circle cx=92.8 cy=621.6 r=1.3 /><circle cx=98.4 cy=626.7 r=0.8 /><circle cx=109.5 cy=606.2 r=1.1 /><circle cx=120.6 cy=606.2 r=1.3 /><circle cx=126.2 cy=626.7 r=1.6 /><circle cx=126.2 cy=616.4 r=1.3 /><circle cx=142.8 cy=554.8 r=1.2 /><circle cx=148.3 cy=637.0 r=1.2 /><circle cx=101.4 cy=636.0 r=0.8 /><circle cx=101.4 cy=583.2 r=0.9 /></g>
<g fill="#2a8b80"><circle cx=115.0 cy=616.4 r=1.2 /><circle cx=126.2 cy=606.2 r=1.6 /><circle cx=131.7 cy=626.7 r=1.6 /><circle cx=108.0 cy=589.3 r=1.0 /><circle cx=118.7 cy=599.3 r=1.4 /><circle cx=156.2 cy=624.1 r=1.4 /><circle cx=96.2 cy=616.8 r=0.7 /><circle cx=106.5 cy=621.6 r=1.3 /></g>
<g fill="#2a8e7f"><circle cx=109.5 cy=616.4 r=1.1 /><circle cx=115.0 cy=601.0 r=0.9 /><circle cx=131.7 cy=642.1 r=1.3 /><circle cx=165.0 cy=637.0 r=1.0 /><circle cx=97.3 cy=589.3 r=1.7 /><circle cx=108.0 cy=638.9 r=0.8 /></g>
<g fill="#2b8481"><circle cx=115.0 cy=662.7 r=0.6 /><circle cx=115.0 cy=580.5 r=0.8 /><circle cx=120.6 cy=611.3 r=1.5 /><circle cx=126.2 cy=652.4 r=0.9 /><circle cx=126.2 cy=611.3 r=1.6 /><circle cx=126.2 cy=601.0 r=1.5 /><circle cx=131.7 cy=616.4 r=1.7 /><circle cx=137.2 cy=590.8 r=1.3 /><circle cx=142.8 cy=585.6 r=2.1 /><circle cx=159.4 cy=637.0 r=1.6 /><circle cx=97.3 cy=663.7 r=0.9 /><circle cx=102.6 cy=619.1 r=0.9 /><circle cx=102.6 cy=609.2 r=0.8 /><circle cx=113.3 cy=619.1 r=1.0 /><circle cx=113.3 cy=614.1 r=0.9 /><circle cx=124.0 cy=638.9 r=1.6 /><circle cx=124.0 cy=619.1 r=1.2 /><circle cx=96.2 cy=650.3 r=0.8 /><circle cx=111.7 cy=636.0 r=1.1 /><circle cx=111.7 cy=621.6 r=1.7 /><circle cx=127.3 cy=640.8 r=1.1 /></g>
<g fill="#2b927e"><circle cx=87.3 cy=637.0 r=0.9 /><circle cx=142.8 cy=657.5 r=1.2 /></g>
<g fill="#2c8081"><circle cx=98.4 cy=637.0 r=0.8 /><circle cx=103.9 cy=611.3 r=1.2 /><circle cx=120.6 cy=595.9 r=1.0 /><circle cx=126.2 cy=590.8 r=0.9 /><circle cx=137.2 cy=667.8 r=0.7 /><circle cx=137.2 cy=601.0 r=1.3 /><circle cx=142.8 cy=652.4 r=1.5 /><circle cx=91.9 cy=624.1 r=0.7 /><circle cx=97.3 cy=614.1 r=0.7 /><circle cx=108.0 cy=629.0 r=0.8 /><circle cx=113.3 cy=624.1 r=1.1 /><circle cx=118.7 cy=624.1 r=1.1 /><circle cx=124.0 cy=594.3 r=0.8 /><circle cx=134.8 cy=643.9 r=1.3 /><circle cx=134.8 cy=599.3 r=1.4 /><circle cx=140.1 cy=668.7 r=0.8 /><circle cx=140.1 cy=584.4 r=0.6 /><circle cx=145.5 cy=624.1 r=1.8 /><circle cx=101.4 cy=621.6 r=1.2 /><circle cx=111.7 cy=616.8 r=1.2 /><circle cx=111.7 cy=602.4 r=1.0 /><circle cx=116.9 cy=621.6 r=1.6 /><circle cx=116.9 cy=612.0 r=1.1 /><circle cx=116.9 cy=607.2 r=1.3 /><circle cx=116.9 cy=592.8 r=0.8 /><circle cx=122.1 cy=645.6 r=1.1 /><circle cx=122.1 cy=621.6 r=1.7 /><circle cx=122.1 cy=612.0 r=1.4 /><circle cx=122.1 cy=602.4 r=1.5 /><circle cx=122.1 cy=592.8 r=1.0 /><circle cx=127.3 cy=631.2 r=1.3 /></g>
<g fill="#2c967d"><circle cx=115.0 cy=611.3 r=1.0 /><circle cx=108.0 cy=619.1 r=0.8 /></g>
<g fill="#2d7a81"><circle cx=103.9 cy=621.6 r=1.3 /><circle cx=109.5 cy=631.9 r=1.0 /><circle cx=115.0 cy=621.6 r=1.9 /><circle cx=120.6 cy=642.1 r=1.4 /><circle cx=131.7 cy=631.9 r=1.8 /><circle cx=131.7 cy=595.9 r=1.3 /><circle cx=137.2 cy=616.4 r=1.8 /><circle cx=142.8 cy=647.3 r=1.5 /><circle cx=142.8 cy=642.1 r=1.7 /><circle cx=142.8 cy=626.7 r=1.9 /><circle cx=142.8 cy=595.9 r=1.8 /><circle cx=148.3 cy=631.9 r=1.9 /><circle cx=148.3 cy=595.9 r=1.4 /><circle cx=153.9 cy=631.9 r=1.8 /><circle cx=153.9 cy=626.7 r=1.5 /><circle cx=159.4 cy=626.7 r=1.7 /><circle cx=159.4 cy=621.6 r=1.8 /><circle cx=159.4 cy=590.8 r=1.5 /><circle cx=165.0 cy=626.7 r=1.6 /><circle cx=124.0 cy=629.0 r=1.1 /><circle cx=124.0 cy=604.2 r=1.6 /><circle cx=156.2 cy=653.8 r=0.7 /><circle cx=161.6 cy=638.9 r=1.6 /><circle cx=96.2 cy=664.7 r=0.9 /><circle cx=106.5 cy=655.1 r=1.0 /><circle cx=111.7 cy=626.4 r=1.1 /><circle cx=122.1 cy=636.0 r=1.3 /><circle cx=122.1 cy=616.8 r=1.4 /><circle cx=122.1 cy=607.2 r=1.1 /><circle cx=127.3 cy=626.4 r=1.3 /></g>
<g fill="#2d7d81"><circle cx=109.5 cy=637.0 r=1.4 /><circle cx=109.5 cy=621.6 r=1.4 /><circle cx=120.6 cy=626.7 r=1.5 /><circle cx=120.6 cy=621.6 r=1.7 /><circle cx=131.7 cy=601.0 r=1.6 /><circle cx=137.2 cy=611.3 r=1.4 /><circle cx=137.2 cy=585.6 r=0.9 /><circle cx=142.8 cy=673.0 r=1.0 /><circle cx=142.8 cy=611.3 r=1.9 /><circle cx=153.9 cy=621.6 r=1.8 /><circle cx=97.3 cy=658.8 r=0.8 /><circle cx=102.6 cy=584.4 r=1.1 /><circle cx=108.0 cy=624.1 r=1.0 /><circle cx=118.7 cy=643.9 r=1.4 /><circle cx=156.2 cy=634.0 r=1.7 /><circle cx=106.5 cy=659.9 r=0.7 /><circle cx=106.5 cy=616.8 r=0.9 /><circle cx=111.7 cy=607.2 r=1.1 /><circle cx=116.9 cy=636.0 r=1.1 /><circle cx=116.9 cy=616.8 r=1.1 /><circle cx=116.9 cy=602.4 r=1.0 /></g>
<g fill="#2f7281"><circle cx=209.0 cy=555.0 r=1.4 /><circle cx=214.7 cy=565.6 r=1.3 /><circle cx=214.7 cy=555.0 r=1.0 /><circle cx=120.6 cy=590.8 r=1.1 /><circle cx=131.7 cy=621.6 r=1.8 /><circle cx=131.7 cy=611.3 r=1.8 /><circle cx=137.2 cy=647.3 r=1.0 /><circle cx=137.2 cy=642.1 r=1.1 /><circle cx=137.2 cy=606.2 r=1.4 /><circle cx=142.8 cy=631.9 r=1.8 /><circle cx=142.8 cy=621.6 r=1.8 /><circle cx=142.8 cy=616.4 r=1.8 /><circle cx=142.8 cy=601.0 r=2.4 /><circle cx=148.3 cy=621.6 r=1.8 /><circle cx=148.3 cy=585.6 r=1.3 /><circle cx=159.4 cy=580.5 r=1.3 /><circle cx=181.6 cy=657.5 r=0.9 /><circle cx=129.4 cy=634.0 r=1.7 /><circle cx=140.1 cy=653.8 r=0.8 /><circle cx=140.1 cy=589.3 r=1.2 /><circle cx=145.5 cy=584.4 r=1.7 /><circle cx=150.8 cy=614.1 r=1.8 /><circle cx=150.8 cy=589.3 r=1.4 /><circle cx=150.8 cy=579.4 r=0.7 /><circle cx=156.2 cy=609.2 r=1.7 /><circle cx=156.2 cy=584.4 r=1.5 /><circle cx=209.8 cy=559.6 r=1.6 /><circle cx=111.7 cy=631.2 r=1.2 /><circle cx=116.9 cy=650.3 r=0.9 /><circle cx=122.1 cy=631.2 r=1.4 /></g>
<g fill="#2f7681"><circle cx=109.5 cy=626.7 r=1.0 /><circle cx=109.5 cy=611.3 r=1.0 /><circle cx=120.6 cy=652.4 r=0.9 /><circle cx=126.2 cy=621.6 r=2.0 /><circle cx=137.2 cy=637.0 r=1.4 /><circle cx=137.2 cy=631.9 r=1.3 /><circle cx=137.2 cy=595.9 r=1.4 /><circle cx=142.8 cy=590.8 r=2.1 /><circle cx=148.3 cy=642.1 r=1.1 /><circle cx=153.9 cy=652.4 r=1.0 /><circle cx=153.9 cy=642.1 r=1.1 /><circle cx=159.4 cy=642.1 r=1.0 /><circle cx=159.4 cy=631.9 r=1.4 /><circle cx=165.0 cy=621.6 r=1.8 /><circle cx=181.6 cy=616.4 r=1.7 /><circle cx=214.9 cy=559.9 r=0.6 /><circle cx=118.7 cy=629.0 r=1.2 /><circle cx=129.4 cy=619.1 r=1.3 /><circle cx=129.4 cy=609.2 r=1.7 /><circle cx=134.8 cy=614.1 r=1.8 /><circle cx=140.1 cy=624.1 r=1.8 /><circle cx=150.8 cy=629.0 r=1.8 /><circle cx=156.2 cy=658.8 r=0.7 /><circle cx=156.2 cy=619.1 r=1.4 /><circle cx=106.5 cy=645.6 r=0.7 /><circle cx=116.9 cy=631.2 r=1.0 /><circle cx=122.1 cy=640.8 r=1.5 /></g>
<g fill="#306f81"><circle cx=209.0 cy=549.7 r=0.6 /><circle cx=126.2 cy=631.9 r=1.4 /><circle cx=142.8 cy=637.0 r=1.7 /><circle cx=142.8 cy=606.2 r=1.8 /><circle cx=148.3 cy=626.7 r=1.8 /><circle cx=148.3 cy=611.3 r=1.3 /><circle cx=198.3 cy=559.9 r=1.4 /><circle cx=209.4 cy=570.2 r=1.6 /><circle cx=124.0 cy=624.1 r=1.3 /><circle cx=134.8 cy=629.0 r=2.0 /><circle cx=134.8 cy=624.1 r=1.5 /><circle cx=134.8 cy=619.1 r=1.3 /><circle cx=145.5 cy=619.1 r=1.8 /><circle cx=150.8 cy=624.1 r=1.3 /><circle cx=150.8 cy=619.1 r=1.5 /><circle cx=161.6 cy=619.1 r=1.5 /><circle cx=166.9 cy=624.1 r=1.3 /><circle cx=166.9 cy=574.5 r=1.7 /></g>
<g fill="#316c80"><circle cx=214.7 cy=581.6 r=0.8 /><circle cx=232.0 cy=549.7 r=0.8 /><circle cx=131.7 cy=637.0 r=1.5 /><circle cx=131.7 cy=606.2 r=1.5 /><circle cx=148.3 cy=647.3 r=1.0 /><circle cx=153.9 cy=585.6 r=1.3 /><circle cx=165.0 cy=631.9 r=1.7 /><circle cx=165.0 cy=616.4 r=1.5 /><circle cx=165.0 cy=585.6 r=1.5 /><circle cx=165.0 cy=575.3 r=1.5 /><circle cx=170.6 cy=621.6 r=1.9 /><circle cx=176.1 cy=626.7 r=0.8 /><circle cx=203.8 cy=570.2 r=1.3 /><circle cx=209.4 cy=559.9 r=1.6 /><circle cx=214.9 cy=565.1 r=1.4 /><circle cx=145.5 cy=589.3 r=1.2 /><circle cx=156.2 cy=579.4 r=1.3 /><circle cx=161.6 cy=624.1 r=1.5 /><circle cx=161.6 cy=614.1 r=1.3 /><circle cx=172.3 cy=624.1 r=1.3 /><circle cx=209.8 cy=574.5 r=1.2 /><circle cx=127.3 cy=679.1 r=0.7 /><circle cx=127.3 cy=636.0 r=1.7 /></g>
<g fill="#336880"><circle cx=214.7 cy=571.0 r=1.2 /><circle cx=220.5 cy=581.6 r=0.8 /><circle cx=220.5 cy=576.3 r=0.9 /><circle cx=153.9 cy=611.3 r=1.8 /><circle cx=153.9 cy=590.8 r=1.4 /><circle cx=153.9 cy=580.5 r=1.4 /><circle cx=159.4 cy=611.3 r=1.5 /><circle cx=159.4 cy=585.6 r=1.6 /><circle cx=170.6 cy=626.7 r=1.5 /><circle cx=181.6 cy=621.6 r=1.2 /><circle cx=181.6 cy=590.8 r=1.3 /><circle cx=181.6 cy=559.9 r=0.8 /><circle cx=187.2 cy=565.1 r=1.3 /><circle cx=192.7 cy=570.2 r=1.2 /><circle cx=192.7 cy=559.9 r=1.4 /><circle cx=198.3 cy=590.8 r=1.3 /><circle cx=209.4 cy=565.1 r=1.4 /><circle cx=209.4 cy=554.8 r=1.2 /><circle cx=220.5 cy=611.3 r=0.7 /><circle cx=145.5 cy=579.4 r=0.6 /><circle cx=150.8 cy=584.4 r=1.3 /><circle cx=161.6 cy=629.0 r=1.3 /><circle cx=161.6 cy=589.3 r=1.3 /><circle cx=166.9 cy=629.0 r=1.9 /><circle cx=172.3 cy=629.0 r=2.4 /><circle cx=188.3 cy=604.2 r=1.2 /><circle cx=193.7 cy=589.3 r=1.2 /><circle cx=193.7 cy=549.7 r=0.6 /><circle cx=204.4 cy=574.5 r=1.2 /></g>
<g fill="#346480"><circle cx=203.2 cy=565.6 r=1.6 /><circle cx=148.3 cy=616.4 r=1.8 /><circle cx=148.3 cy=606.2 r=1.3 /><circle cx=148.3 cy=590.8 r=1.3 /><circle cx=153.9 cy=616.4 r=1.6 /><circle cx=159.4 cy=595.9 r=1.3 /><circle cx=176.1 cy=616.4 r=1.6 /><circle cx=187.2 cy=590.8 r=1.7 /><circle cx=198.3 cy=575.3 r=1.3 /><circle cx=203.8 cy=611.3 r=0.7 /><circle cx=209.4 cy=549.7 r=0.7 /><circle cx=214.9 cy=570.2 r=1.5 /><circle cx=150.8 cy=599.3 r=1.7 /><circle cx=199.1 cy=574.5 r=1.2 /><circle cx=204.4 cy=579.4 r=1.2 /><circle cx=111.7 cy=612.0 r=1.0 /></g>
<g fill="#35617f"><circle cx=203.2 cy=560.3 r=1.2 /><circle cx=209.0 cy=571.0 r=1.2 /><circle cx=209.0 cy=565.6 r=1.4 /><circle cx=220.5 cy=571.0 r=0.7 /><circle cx=159.4 cy=616.4 r=1.6 /><circle cx=165.0 cy=611.3 r=1.7 /><circle cx=165.0 cy=595.9 r=1.6 /><circle cx=170.6 cy=616.4 r=1.4 /><circle cx=170.6 cy=595.9 r=1.7 /><circle cx=170.6 cy=570.2 r=1.8 /><circle cx=176.1 cy=621.6 r=2.1 /><circle cx=176.1 cy=601.0 r=1.4 /><circle cx=187.2 cy=595.9 r=1.6 /><circle cx=203.8 cy=621.6 r=1.0 /><circle cx=203.8 cy=565.1 r=1.7 /><circle cx=209.4 cy=580.5 r=1.4 /><circle cx=209.4 cy=575.3 r=1.5 /><circle cx=140.1 cy=619.1 r=1.8 /><circle cx=156.2 cy=589.3 r=1.3 /><circle cx=161.6 cy=579.4 r=1.3 /><circle cx=161.6 cy=569.5 r=0.8 /><circle cx=172.3 cy=619.1 r=1.3 /><circle cx=172.3 cy=594.3 r=1.7 /><circle cx=177.6 cy=624.1 r=0.7 /><circle cx=183.0 cy=619.1 r=0.7 /><circle cx=183.0 cy=609.2 r=1.6 /><circle cx=188.3 cy=614.1 r=0.7 /><circle cx=193.7 cy=569.5 r=1.4 /><circle cx=199.1 cy=594.3 r=1.2 /><circle cx=204.4 cy=564.5 r=1.7 /><circle cx=209.8 cy=554.6 r=1.2 /><circle cx=215.1 cy=569.5 r=1.3 /></g>
<g fill="#365d7f"><circle cx=209.0 cy=576.3 r=1.2 /><circle cx=153.9 cy=606.2 r=2.7 /><circle cx=159.4 cy=575.3 r=1.4 /><circle cx=170.6 cy=611.3 r=1.4 /><circle cx=170.6 cy=580.5 r=1.5 /><circle cx=176.1 cy=580.5 r=1.5 /><circle cx=181.6 cy=580.5 r=1.2 /><circle cx=192.7 cy=565.1 r=1.4 /><circle cx=203.8 cy=559.9 r=1.3 /><circle cx=214.9 cy=575.3 r=1.5 /><circle cx=220.5 cy=575.3 r=0.8 /><circle cx=161.6 cy=584.4 r=1.2 /><circle cx=166.9 cy=594.3 r=1.2 /><circle cx=166.9 cy=584.4 r=1.3 /><circle cx=166.9 cy=579.4 r=1.2 /><circle cx=177.6 cy=569.5 r=1.2 /><circle cx=183.0 cy=604.2 r=1.3 /><circle cx=183.0 cy=569.5 r=1.3 /><circle cx=183.0 cy=564.5 r=1.4 /><circle cx=193.7 cy=559.6 r=1.2 /><circle cx=199.1 cy=599.3 r=0.7 /><circle cx=199.1 cy=579.4 r=1.5 /><circle cx=199.1 cy=564.5 r=1.2 /><circle cx=204.4 cy=559.6 r=1.4 /><circle cx=209.8 cy=584.4 r=0.8 /><circle cx=209.8 cy=579.4 r=1.4 /><circle cx=209.8 cy=564.5 r=1.1 /></g>
<g fill="#37597e"><circle cx=159.4 cy=606.2 r=1.8 /><circle cx=165.0 cy=580.5 r=1.5 /><circle cx=170.6 cy=585.6 r=1.8 /><circle cx=176.1 cy=585.6 r=1.3 /><circle cx=192.7 cy=590.8 r=1.7 /><circle cx=198.3 cy=595.9 r=1.7 /><circle cx=198.3 cy=565.1 r=1.4 /><circle cx=203.8 cy=580.5 r=1.3 /><circle cx=166.9 cy=619.1 r=1.3 /><circle cx=172.3 cy=614.1 r=1.3 /><circle cx=172.3 cy=579.4 r=1.2 /><circle cx=183.0 cy=614.1 r=1.4 /><circle cx=193.7 cy=574.5 r=1.6 /><circle cx=199.1 cy=609.2 r=0.6 /><circle cx=199.1 cy=589.3 r=1.2 /><circle cx=199.1 cy=569.5 r=1.6 /><circle cx=215.1 cy=579.4 r=0.6 /><circle cx=220.5 cy=544.7 r=0.6 /></g>
<g fill="#39557d"><circle cx=209.0 cy=581.6 r=1.2 /><circle cx=214.7 cy=576.3 r=1.2 /><circle cx=153.9 cy=601.0 r=1.4 /><circle cx=159.4 cy=601.0 r=1.3 /><circle cx=165.0 cy=590.8 r=1.6 /><circle cx=176.1 cy=611.3 r=1.5 /><circle cx=176.1 cy=570.2 r=1.5 /><circle cx=181.6 cy=606.2 r=1.3 /><circle cx=181.6 cy=575.3 r=1.3 /><circle cx=181.6 cy=565.1 r=1.2 /><circle cx=187.2 cy=575.3 r=1.4 /><circle cx=192.7 cy=595.9 r=1.4 /><circle cx=192.7 cy=575.3 r=1.6 /><circle cx=198.3 cy=601.0 r=0.8 /><circle cx=198.3 cy=585.6 r=1.4 /><circle cx=198.3 cy=570.2 r=1.9 /><circle cx=203.8 cy=575.3 r=1.3 /><circle cx=161.6 cy=574.5 r=1.2 /><circle cx=166.9 cy=589.3 r=1.5 /><circle cx=172.3 cy=604.2 r=1.3 /><circle cx=172.3 cy=574.5 r=1.3 /><circle cx=172.3 cy=569.5 r=1.2 /><circle cx=177.6 cy=609.2 r=1.3 /><circle cx=183.0 cy=599.3 r=1.4 /><circle cx=183.0 cy=589.3 r=1.2 /><circle cx=188.3 cy=569.5 r=1.2 /><circle cx=193.7 cy=604.2 r=0.6 /><circle cx=193.7 cy=599.3 r=2.2 /><circle cx=193.7 cy=594.3 r=1.3 /></g>
<g fill="#3a527c"><circle cx=153.9 cy=575.3 r=0.8 /><circle cx=165.0 cy=606.2 r=1.8 /><circle cx=170.6 cy=590.8 r=1.4 /><circle cx=170.6 cy=575.3 r=1.2 /><circle cx=187.2 cy=570.2 r=1.4 /><circle cx=192.7 cy=585.6 r=1.6 /><circle cx=161.6 cy=604.2 r=1.6 /><circle cx=161.6 cy=594.3 r=1.2 /><circle cx=166.9 cy=614.1 r=1.4 /><circle cx=177.6 cy=619.1 r=1.3 /><circle cx=177.6 cy=614.1 r=1.4 /><circle cx=177.6 cy=574.5 r=1.2 /><circle cx=188.3 cy=599.3 r=1.2 /><circle cx=193.7 cy=579.4 r=1.5 /><circle cx=193.7 cy=564.5 r=1.2 /><circle cx=204.4 cy=584.4 r=1.2 /><circle cx=204.4 cy=569.5 r=1.2 /></g>
<circle cx=129.4 cy=589.3 r=0.8 fill="#3aa477"/>
<g fill="#3b4e7b"><circle cx=181.6 cy=601.0 r=1.7 /><circle cx=187.2 cy=601.0 r=1.7 /><circle cx=203.8 cy=595.9 r=0.9 /><circle cx=166.9 cy=599.3 r=1.6 /><circle cx=172.3 cy=589.3 r=1.2 /><circle cx=172.3 cy=584.4 r=1.2 /><circle cx=177.6 cy=599.3 r=1.2 /><circle cx=177.6 cy=589.3 r=1.6 /><circle cx=183.0 cy=594.3 r=1.3 /><circle cx=188.3 cy=584.4 r=1.5 /><circle cx=188.3 cy=579.4 r=1.7 /><circle cx=188.3 cy=564.5 r=1.2 /><circle cx=204.4 cy=594.3 r=0.6 /></g>
<g fill="#3d497a"><circle cx=148.3 cy=601.0 r=1.3 /><circle cx=165.0 cy=601.0 r=1.5 /><circle cx=170.6 cy=606.2 r=1.3 /><circle cx=181.6 cy=595.9 r=1.3 /><circle cx=181.6 cy=585.6 r=1.6 /><circle cx=187.2 cy=585.6 r=1.4 /><circle cx=192.7 cy=580.5 r=1.4 /><circle cx=198.3 cy=580.5 r=1.3 /><circle cx=177.6 cy=604.2 r=1.5 /><circle cx=177.6 cy=594.3 r=2.5 /><circle cx=177.6 cy=584.4 r=1.5 /><circle cx=188.3 cy=594.3 r=1.2 /><circle cx=188.3 cy=589.3 r=1.3 /></g>
<g fill="#3e4579"><circle cx=176.1 cy=595.9 r=1.6 /><circle cx=176.1 cy=590.8 r=1.6 /><circle cx=172.3 cy=599.3 r=1.3 /><circle cx=188.3 cy=574.5 r=1.4 /></g>
<g fill="#3f4177"><circle cx=170.6 cy=631.9 r=0.9 /><circle cx=187.2 cy=580.5 r=1.6 /><circle cx=193.7 cy=584.4 r=1.2 /></g>
<g fill="#3fa775"><circle cx=145.5 cy=653.8 r=0.8 /><circle cx=75.5 cy=559.2 r=0.9 /></g>
<g fill="#403c75"><circle cx=137.2 cy=549.7 r=0.6 /><circle cx=153.9 cy=595.9 r=1.7 /><circle cx=183.0 cy=584.4 r=1.7 /><circle cx=215.1 cy=559.6 r=0.6 /></g>
<g fill="#413873"><circle cx=126.2 cy=637.0 r=1.6 /><circle cx=183.0 cy=579.4 r=1.3 /></g>
<circle cx=176.1 cy=606.2 r=2.0 fill="#422566"/>
<g fill="#422f6d"><circle cx=137.2 cy=626.7 r=1.8 /><circle cx=183.0 cy=574.5 r=1.2 /></g>
<g fill="#45aa73"><circle cx=181.6 cy=611.3 r=1.4 /><circle cx=187.2 cy=606.2 r=1.4 /></g>
<circle cx=209.8 cy=569.5 r=1.3 fill="#4cae70"/>
<g fill="#53b26d"><circle cx=129.4 cy=624.1 r=1.4 /><circle cx=134.8 cy=589.3 r=0.8 /><circle cx=106.5 cy=626.4 r=0.9 /></g>
<circle cx=176.1 cy=575.3 r=1.6 fill="#5ab56a"/>
<circle cx=127.3 cy=621.6 r=3.5 fill="#2f7681"/>
<circle cx=127.3 cy=602.4 r=1.3 fill="#2a8780"/>
<g fill="#2a8b80"><circle cx=132.4 cy=616.8 r=1.7 /><circle cx=115.1 cy=597.8 r=0.6 /></g>
<circle cx=184.7 cy=655.6 r=0.6 fill="#2a8e7f"/>
<g fill="#2b8481"><circle cx=158.3 cy=659.9 r=0.9 /><circle cx=168.7 cy=631.2 r=1.4 /></g>
<g fill="#2c8081"><circle cx=127.3 cy=612.0 r=1.2 /><circle cx=127.3 cy=568.8 r=0.6 /><circle cx=137.6 cy=597.6 r=1.3 /><circle cx=137.6 cy=592.8 r=1.3 /><circle cx=137.6 cy=588.0 r=0.8 /><circle cx=142.8 cy=669.5 r=1.0 /><circle cx=142.8 cy=640.8 r=1.7 /><circle cx=153.2 cy=640.8 r=1.1 /></g>
<circle cx=175.1 cy=640.8 r=0.6 fill="#2c967d"/>
<g fill="#2d7a81"><circle cx=137.6 cy=636.0 r=2.7 /><circle cx=142.8 cy=664.7 r=1.1 /><circle cx=153.2 cy=636.0 r=1.2 /><circle cx=158.3 cy=645.6 r=0.8 /><circle cx=158.3 cy=631.2 r=1.5 /><circle cx=158.3 cy=626.4 r=1.4 /><circle cx=220.5 cy=568.8 r=0.7 /></g>
<g fill="#2d7d81"><circle cx=127.3 cy=607.2 r=1.7 /><circle cx=132.4 cy=621.6 r=1.8 /><circle cx=132.4 cy=607.2 r=1.5 /><circle cx=132.4 cy=592.8 r=1.4 /><circle cx=132.4 cy=588.0 r=0.9 /><circle cx=137.6 cy=631.2 r=1.3 /><circle cx=148.0 cy=621.6 r=2.0 /><circle cx=153.2 cy=650.3 r=1.1 /><circle cx=163.5 cy=636.0 r=1.0 /><circle cx=163.5 cy=631.2 r=1.7 /><circle cx=163.5 cy=621.6 r=1.9 /><circle cx=168.7 cy=636.0 r=0.8 /><circle cx=101.3 cy=613.4 r=0.6 /></g>
<circle cx=127.6 cy=600.3 r=0.6 fill="#2e997c"/>
<g fill="#2f7281"><circle cx=127.3 cy=597.6 r=1.4 /><circle cx=132.4 cy=602.4 r=1.5 /><circle cx=137.6 cy=640.8 r=1.1 /><circle cx=137.6 cy=621.6 r=1.9 /><circle cx=142.8 cy=650.3 r=1.5 /><circle cx=142.8 cy=597.6 r=1.9 /><circle cx=142.8 cy=588.0 r=1.9 /><circle cx=148.0 cy=640.8 r=1.2 /><circle cx=148.0 cy=631.2 r=1.4 /><circle cx=148.0 cy=616.8 r=1.8 /><circle cx=153.2 cy=626.4 r=1.6 /><circle cx=153.2 cy=588.0 r=1.4 /><circle cx=153.2 cy=583.2 r=1.5 /><circle cx=158.3 cy=636.0 r=1.7 /><circle cx=179.1 cy=621.6 r=1.3 /></g>
<g fill="#2f7681"><circle cx=132.4 cy=640.8 r=1.3 /><circle cx=132.4 cy=636.0 r=1.3 /><circle cx=132.4 cy=631.2 r=1.8 /><circle cx=132.4 cy=597.6 r=1.5 /><circle cx=137.6 cy=655.1 r=0.8 /><circle cx=137.6 cy=645.6 r=1.0 /><circle cx=142.8 cy=645.6 r=1.7 /><circle cx=142.8 cy=631.2 r=1.8 /><circle cx=142.8 cy=583.2 r=1.2 /><circle cx=148.0 cy=583.2 r=1.5 /><circle cx=159.4 cy=577.5 r=0.6 /></g>
<g fill="#306f81"><circle cx=132.4 cy=626.4 r=1.6 /><circle cx=132.4 cy=612.0 r=1.8 /><circle cx=137.6 cy=602.4 r=1.3 /><circle cx=142.8 cy=621.6 r=1.8 /><circle cx=142.8 cy=592.8 r=2.2 /><circle cx=148.0 cy=645.6 r=1.1 /><circle cx=148.0 cy=626.4 r=2.0 /><circle cx=148.0 cy=602.4 r=1.3 /><circle cx=153.2 cy=621.6 r=1.8 /><circle cx=153.2 cy=607.2 r=1.5 /><circle cx=158.3 cy=640.8 r=1.1 /><circle cx=158.3 cy=588.0 r=1.4 /><circle cx=168.7 cy=645.6 r=1.3 /></g>
<g fill="#316c80"><circle cx=137.6 cy=612.0 r=1.3 /><circle cx=142.8 cy=626.4 r=1.9 /><circle cx=142.8 cy=616.8 r=1.8 /><circle cx=142.8 cy=602.4 r=1.9 /><circle cx=148.0 cy=612.0 r=1.6 /><circle cx=153.2 cy=645.6 r=1.0 /><circle cx=153.2 cy=631.2 r=1.8 /><circle cx=158.3 cy=650.3 r=1.0 /><circle cx=163.5 cy=626.4 r=1.5 /><circle cx=194.6 cy=559.2 r=1.3 /><circle cx=205.0 cy=559.2 r=1.3 /><circle cx=210.1 cy=549.7 r=0.6 /><circle cx=215.3 cy=554.5 r=0.9 /></g>
<circle cx=137.9 cy=600.8 r=0.6 fill="#319c7b"/>
<g fill="#336880"><circle cx=137.6 cy=616.8 r=1.8 /><circle cx=137.6 cy=607.2 r=1.4 /><circle cx=142.8 cy=612.0 r=1.8 /><circle cx=142.8 cy=568.8 r=1.1 /><circle cx=148.0 cy=636.0 r=1.3 /><circle cx=168.7 cy=626.4 r=1.3 /><circle cx=173.9 cy=616.8 r=1.7 /><circle cx=184.2 cy=612.0 r=1.6 /><circle cx=189.4 cy=664.7 r=0.9 /><circle cx=199.8 cy=568.8 r=1.7 /><circle cx=199.8 cy=559.2 r=1.5 /><circle cx=199.8 cy=554.5 r=0.6 /><circle cx=205.0 cy=554.5 r=0.7 /></g>
<g fill="#346480"><circle cx=132.4 cy=650.3 r=1.1 /><circle cx=142.8 cy=607.2 r=2.3 /><circle cx=148.0 cy=607.2 r=1.4 /><circle cx=148.0 cy=597.6 r=1.3 /><circle cx=148.0 cy=592.8 r=1.4 /><circle cx=158.3 cy=597.6 r=1.5 /><circle cx=158.3 cy=578.4 r=1.4 /><circle cx=163.5 cy=588.0 r=1.4 /><circle cx=168.7 cy=578.4 r=1.4 /><circle cx=173.9 cy=626.4 r=0.9 /><circle cx=179.1 cy=616.8 r=1.4 /><circle cx=184.2 cy=564.0 r=1.8 /><circle cx=205.0 cy=583.2 r=1.6 /><circle cx=210.1 cy=564.0 r=1.3 /></g>
<g fill="#35617f"><circle cx=142.8 cy=636.0 r=1.8 /><circle cx=153.2 cy=616.8 r=1.5 /><circle cx=153.2 cy=612.0 r=1.8 /><circle cx=153.2 cy=602.4 r=1.5 /><circle cx=153.2 cy=597.6 r=1.4 /><circle cx=158.3 cy=602.4 r=1.3 /><circle cx=158.3 cy=592.8 r=1.5 /><circle cx=158.3 cy=549.7 r=0.6 /><circle cx=163.5 cy=592.8 r=1.5 /><circle cx=163.5 cy=583.2 r=1.5 /><circle cx=168.7 cy=621.6 r=2.1 /><circle cx=168.7 cy=573.6 r=1.7 /><circle cx=173.9 cy=568.8 r=1.4 /><circle cx=194.6 cy=631.2 r=0.7 /><circle cx=205.0 cy=564.0 r=1.7 /><circle cx=210.1 cy=568.8 r=1.2 /><circle cx=210.1 cy=559.2 r=1.5 /><circle cx=210.1 cy=554.5 r=1.3 /></g>
<g fill="#365d7f"><circle cx=153.2 cy=592.8 r=1.5 /><circle cx=168.7 cy=607.2 r=1.3 /><circle cx=173.9 cy=612.0 r=1.5 /><circle cx=173.9 cy=597.6 r=2.7 /><circle cx=179.1 cy=564.0 r=0.7 /><circle cx=184.2 cy=583.2 r=2.0 /><circle cx=184.2 cy=568.8 r=1.3 /><circle cx=189.4 cy=612.0 r=1.0 /><circle cx=189.4 cy=592.8 r=1.4 /><circle cx=194.6 cy=592.8 r=1.4 /><circle cx=194.6 cy=564.0 r=1.3 /><circle cx=215.3 cy=568.8 r=1.5 /><circle cx=220.5 cy=616.8 r=0.6 /></g>
<circle cx=138.1 cy=658.0 r=0.6 fill="#36a079"/>
<g fill="#37597e"><circle cx=158.3 cy=583.2 r=1.3 /><circle cx=163.5 cy=607.2 r=1.5 /><circle cx=163.5 cy=602.4 r=1.7 /><circle cx=163.5 cy=578.4 r=1.4 /><circle cx=168.7 cy=616.8 r=1.3 /><circle cx=168.7 cy=597.6 r=2.2 /><circle cx=168.7 cy=592.8 r=2.6 /><circle cx=173.9 cy=631.2 r=0.8 /><circle cx=173.9 cy=602.4 r=1.5 /><circle cx=179.1 cy=607.2 r=1.3 /><circle cx=179.1 cy=568.8 r=1.5 /><circle cx=189.4 cy=573.6 r=1.4 /><circle cx=194.6 cy=597.6 r=1.7 /><circle cx=199.8 cy=578.4 r=1.2 /><circle cx=199.8 cy=573.6 r=1.2 /><circle cx=210.1 cy=573.6 r=1.3 /></g>
<g fill="#39557d"><circle cx=163.5 cy=597.6 r=1.4 /><circle cx=173.9 cy=607.2 r=2.0 /><circle cx=173.9 cy=583.2 r=1.3 /><circle cx=173.9 cy=578.4 r=1.5 /><circle cx=179.1 cy=612.0 r=1.5 /><circle cx=179.1 cy=588.0 r=1.7 /><circle cx=184.2 cy=588.0 r=1.3 /><circle cx=189.4 cy=621.6 r=1.1 /><circle cx=189.4 cy=564.0 r=1.3 /><circle cx=199.8 cy=564.0 r=1.2 /></g>
<g fill="#3a527c"><circle cx=158.3 cy=607.2 r=1.7 /><circle cx=168.7 cy=612.0 r=1.3 /><circle cx=168.7 cy=583.2 r=1.3 /><circle cx=173.9 cy=573.6 r=1.3 /><circle cx=179.1 cy=597.6 r=1.3 /><circle cx=184.2 cy=616.8 r=0.8 /><circle cx=194.6 cy=583.2 r=1.3 /><circle cx=199.8 cy=592.8 r=1.3 /><circle cx=210.1 cy=583.2 r=0.7 /><circle cx=210.1 cy=578.4 r=1.2 /><circle cx=215.3 cy=573.6 r=1.4 /></g>
<circle cx=132.4 cy=645.6 r=1.3 fill="#3aa477"/>
<g fill="#3b4e7b"><circle cx=168.7 cy=588.0 r=1.4 /><circle cx=173.9 cy=621.6 r=2.0 /><circle cx=173.9 cy=564.0 r=0.7 /><circle cx=179.1 cy=602.4 r=1.5 /><circle cx=184.2 cy=602.4 r=1.7 /><circle cx=184.2 cy=578.4 r=1.4 /><circle cx=184.2 cy=573.6 r=1.7 /><circle cx=189.4 cy=588.0 r=1.3 /><circle cx=189.4 cy=583.2 r=1.2 /><circle cx=199.8 cy=588.0 r=1.2 /><circle cx=205.0 cy=568.8 r=1.6 /></g>
<g fill="#3d497a"><circle cx=163.5 cy=612.0 r=1.7 /><circle cx=173.9 cy=592.8 r=1.6 /><circle cx=173.9 cy=588.0 r=1.3 /><circle cx=189.4 cy=597.6 r=1.4 /><circle cx=194.6 cy=573.6 r=1.8 /><circle cx=194.6 cy=568.8 r=1.4 /></g>
<g fill="#3e4579"><circle cx=179.1 cy=592.8 r=1.3 /><circle cx=179.1 cy=583.2 r=1.2 /><circle cx=184.2 cy=597.6 r=1.7 /><circle cx=184.2 cy=592.8 r=1.5 /><circle cx=189.4 cy=568.8 r=1.3 /><circle cx=194.6 cy=588.0 r=1.4 /><circle cx=194.6 cy=578.4 r=1.4 /><circle cx=199.8 cy=583.2 r=1.3 /></g>
<g fill="#3f4177"><circle cx=168.7 cy=602.4 r=1.4 /><circle cx=189.4 cy=578.4 r=1.8 /><circle cx=205.0 cy=573.6 r=1.4 /><circle cx=220.5 cy=602.4 r=0.8 /></g>
<circle cx=189.4 cy=602.4 r=1.7 fill="#403c75"/>
<g fill="#413873"><circle cx=179.1 cy=578.4 r=1.4 /><circle cx=184.2 cy=607.2 r=1.4 /></g>
<circle cx=127.3 cy=616.8 r=1.4 fill="#422f6d"/>
<g fill="#45aa73"><circle cx=163.5 cy=616.8 r=1.5 /><circle cx=163.5 cy=573.6 r=1.9 /></g>
<circle cx=137.6 cy=626.4 r=1.8 fill="#53b26d"/>
<circle cx=158.3 cy=612.0 r=1.3 fill="#63b866"/>
<g fill="#4cae70"><circle cx=112.7 cy=571.3 r=3.5 /><circle cx=86.0 cy=578.5 r=3.0 /><circle cx=162.0 cy=567.0 r=4.0 /></g>
<circle cx=101.4 cy=583.4 r=2.5 fill="#306f81"/>
<circle cx=206.6 cy=556.4 r=11 fill="#2a8e7f"/>
<circle cx=220.8 cy=548.9 r=7.5 fill="#53b26d"/>
<circle cx=220.8 cy=567.7 r=5.0 fill="#2e997c"/>
<circle cx=218.9 cy=572.5 r=4.0 fill="#319c7b"/>
<circle cx=200.0 cy=562.0 r=6.0 fill="#2a8e7f"/>
<circle cx=195.0 cy=566.0 r=5.0 fill="#2b8481"/>
<circle cx=153.8 cy=662.0 r=7.5 fill="#2e997c"/>
<circle cx=148.0 cy=654.5 r=2.0 fill="#2a8e7f"/>
<circle cx=75.0 cy=683.0 r=1.3 fill="#2b8481"/>
<circle cx=168.9 cy=664.3 r=1.5 fill="#2e997c"/>
<g fill="#4cae70"><circle cx=246.0 cy=549.7 r=1.5 /><circle cx=240.0 cy=549.7 r=1.5 /></g>
</g>
<g clip-path="url(#cr2)">
<circle cx=493.6 cy=693.5 r=1.3 fill="#2a8780"/>
<circle cx=489.0 cy=683.2 r=1.2 fill="#2a8b80"/>
<circle cx=498.2 cy=693.5 r=1.6 fill="#2b8481"/>
<g fill="#2c967d"><circle cx=489.0 cy=673.0 r=1.5 /><circle cx=498.2 cy=683.2 r=2.2 /><circle cx=498.2 cy=673.0 r=2.3 /></g>
<g fill="#2e997c"><circle cx=479.7 cy=688.4 r=1.1 /><circle cx=493.6 cy=688.4 r=1.3 /><circle cx=493.6 cy=678.1 r=1.8 /><circle cx=498.2 cy=688.4 r=1.8 /><circle cx=498.2 cy=678.1 r=2.2 /></g>
<g fill="#319c7b"><circle cx=479.7 cy=693.5 r=0.8 /><circle cx=493.6 cy=662.7 r=2.3 /></g>
<g fill="#36a079"><circle cx=475.0 cy=693.5 r=0.9 /><circle cx=489.0 cy=688.4 r=1.2 /></g>
<g fill="#3aa477"><circle cx=479.7 cy=683.2 r=1.1 /><circle cx=493.6 cy=673.0 r=2.1 /></g>
<g fill="#3fa775"><circle cx=470.4 cy=693.5 r=0.9 /><circle cx=484.3 cy=683.2 r=1.3 /><circle cx=489.0 cy=693.5 r=1.2 /><circle cx=498.2 cy=667.8 r=2.5 /></g>
<g fill="#45aa73"><circle cx=489.0 cy=678.1 r=1.8 /><circle cx=489.0 cy=667.8 r=2.0 /><circle cx=493.6 cy=667.8 r=2.5 /><circle cx=493.6 cy=657.5 r=1.9 /></g>
<g fill="#53b26d"><circle cx=475.0 cy=688.4 r=0.8 /><circle cx=484.3 cy=678.1 r=1.3 /><circle cx=493.6 cy=683.2 r=1.9 /></g>
<g fill="#5ab56a"><circle cx=470.4 cy=683.2 r=0.9 /><circle cx=484.3 cy=688.4 r=1.0 /></g>
<circle cx=484.3 cy=673.0 r=1.4 fill="#63b866"/>
<g fill="#6bbb62"><circle cx=479.7 cy=673.0 r=1.3 /><circle cx=484.3 cy=693.5 r=0.9 /></g>
<circle cx=475.0 cy=678.1 r=1.1 fill="#73be5e"/>
<g fill="#7bc15a"><circle cx=470.4 cy=688.4 r=0.8 /><circle cx=484.3 cy=667.8 r=1.7 /></g>
<circle cx=479.7 cy=678.1 r=1.0 fill="#85c455"/>
<g fill="#97c94c"><circle cx=475.0 cy=683.2 r=0.8 /><circle cx=489.0 cy=662.7 r=1.5 /></g>
<circle cx=498.2 cy=662.7 r=2.9 fill="#2c967d"/>
<circle cx=502.9 cy=693.5 r=1.6 fill="#2a8e7f"/>
<circle cx=502.9 cy=688.4 r=1.8 fill="#2b8481"/>
<circle cx=502.9 cy=683.2 r=2.0 fill="#2c8081"/>
<circle cx=498.2 cy=657.5 r=2.8 fill="#53b26d"/>
<circle cx=498.2 cy=652.4 r=2.4 fill="#63b866"/>
<circle cx=502.9 cy=678.1 r=2.9 fill="#2a8e7f"/>
<g fill="#2a8780"><circle cx=502.9 cy=673.0 r=3.3 /><circle cx=502.9 cy=667.8 r=2.7 /></g>
<circle cx=502.9 cy=662.7 r=3.3 fill="#5ab56a"/>
<circle cx=502.9 cy=657.5 r=3.3 fill="#3aa477"/>
<circle cx=507.6 cy=678.1 r=2.5 fill="#2b927e"/>
<g fill="#2c967d"><circle cx=507.6 cy=688.4 r=1.9 /><circle cx=507.6 cy=683.2 r=2.2 /></g>
<circle cx=507.6 cy=693.5 r=1.5 fill="#35617f"/>
<circle cx=502.9 cy=652.4 r=2.3 fill="#3aa477"/>
<circle cx=502.9 cy=647.3 r=2.0 fill="#45aa73"/>
<circle cx=507.6 cy=673.0 r=2.9 fill="#4cae70"/>
<circle cx=507.6 cy=667.8 r=3.4 fill="#2c8081"/>
<circle cx=507.6 cy=662.7 r=3.6 fill="#319c7b"/>
<g fill="#45aa73"><circle cx=507.6 cy=657.5 r=3.0 /><circle cx=507.6 cy=652.4 r=3.2 /></g>
<circle cx=512.2 cy=693.5 r=1.4 fill="#2a8780"/>
<circle cx=512.2 cy=688.4 r=2.3 fill="#2f7281"/>
<circle cx=512.2 cy=683.2 r=2.6 fill="#2f7681"/>
<circle cx=507.6 cy=642.1 r=1.8 fill="#36a079"/>
<circle cx=507.6 cy=647.3 r=2.6 fill="#45aa73"/>
<g fill="#2d7d81"><circle cx=512.2 cy=678.1 r=3.2 /><circle cx=512.2 cy=673.0 r=3.7 /></g>
<circle cx=512.2 cy=667.8 r=3.4 fill="#2c967d"/>
<g fill="#2a8e7f"><circle cx=512.2 cy=662.7 r=3.9 /><circle cx=512.2 cy=657.5 r=3.4 /></g>
<circle cx=512.2 cy=652.4 r=2.8 fill="#2c967d"/>
<circle cx=516.9 cy=683.2 r=2.6 fill="#2f7681"/>
<circle cx=516.9 cy=693.5 r=1.5 fill="#316c80"/>
<circle cx=512.2 cy=642.1 r=1.8 fill="#36a079"/>
<circle cx=516.9 cy=688.4 r=1.9 fill="#3b4e7b"/>
<circle cx=512.2 cy=647.3 r=2.4 fill="#3fa775"/>
<circle cx=512.2 cy=637.0 r=1.6 fill="#4cae70"/>
<circle cx=516.9 cy=678.1 r=2.8 fill="#2c8081"/>
<circle cx=516.9 cy=673.0 r=3.5 fill="#2f7281"/>
<circle cx=516.9 cy=667.8 r=4.0 fill="#2c967d"/>
<circle cx=516.9 cy=662.7 r=3.7 fill="#2a8780"/>
<circle cx=516.9 cy=657.5 r=3.4 fill="#3fa775"/>
<circle cx=516.9 cy=652.4 r=3.4 fill="#2e997c"/>
<circle cx=516.9 cy=637.0 r=1.9 fill="#2a8b80"/>
<circle cx=516.9 cy=647.3 r=2.3 fill="#2b927e"/>
<circle cx=521.5 cy=678.1 r=2.6 fill="#316c80"/>
<circle cx=516.9 cy=631.9 r=1.6 fill="#319c7b"/>
<circle cx=521.5 cy=683.2 r=2.6 fill="#336880"/>
<circle cx=521.5 cy=688.4 r=1.7 fill="#365d7f"/>
<circle cx=516.9 cy=642.1 r=2.5 fill="#36a079"/>
<circle cx=521.5 cy=693.5 r=1.5 fill="#39557d"/>
<circle cx=521.5 cy=673.0 r=3.0 fill="#2f7281"/>
<circle cx=521.5 cy=667.8 r=3.0 fill="#316c80"/>
<circle cx=521.5 cy=662.7 r=3.4 fill="#346480"/>
<circle cx=521.5 cy=657.5 r=3.2 fill="#2f7281"/>
<circle cx=521.5 cy=652.4 r=2.8 fill="#2a8780"/>
<circle cx=521.5 cy=647.3 r=2.9 fill="#2d7d81"/>
<g fill="#2a8780"><circle cx=521.5 cy=642.1 r=2.3 /><circle cx=521.5 cy=637.0 r=1.6 /></g>
<circle cx=526.2 cy=683.2 r=2.1 fill="#316c80"/>
<circle cx=521.5 cy=626.7 r=1.2 fill="#319c7b"/>
<g fill="#3a527c"><circle cx=526.2 cy=693.5 r=1.3 /><circle cx=526.2 cy=688.4 r=1.8 /></g>
<circle cx=521.5 cy=631.9 r=1.5 fill="#45aa73"/>
<circle cx=526.2 cy=678.1 r=3.0 fill="#3a527c"/>
<circle cx=526.2 cy=673.0 r=2.9 fill="#39557d"/>
<circle cx=526.2 cy=667.8 r=3.2 fill="#35617f"/>
<g fill="#2a8b80"><circle cx=526.2 cy=662.7 r=3.2 /><circle cx=526.2 cy=637.0 r=1.8 /></g>
<circle cx=526.2 cy=652.4 r=2.5 fill="#2a8e7f"/>
<g fill="#2c8081"><circle cx=526.2 cy=657.5 r=2.8 /><circle cx=526.2 cy=647.3 r=2.5 /></g>
<g fill="#2c967d"><circle cx=526.2 cy=642.1 r=2.1 /><circle cx=526.2 cy=631.9 r=1.7 /></g>
<circle cx=530.8 cy=683.2 r=1.8 fill="#35617f"/>
<circle cx=530.8 cy=678.1 r=2.1 fill="#39557d"/>
<circle cx=530.8 cy=688.4 r=1.5 fill="#3a527c"/>
<circle cx=530.8 cy=693.5 r=1.2 fill="#3e4579"/>
<circle cx=526.2 cy=626.7 r=1.3 fill="#5ab56a"/>
<circle cx=530.8 cy=673.0 r=2.9 fill="#2f7281"/>
<circle cx=530.8 cy=667.8 r=2.8 fill="#336880"/>
<circle cx=530.8 cy=662.7 r=3.0 fill="#2f7681"/>
<circle cx=530.8 cy=657.5 r=2.4 fill="#365d7f"/>
<circle cx=530.8 cy=652.4 r=2.9 fill="#2d7d81"/>
<g fill="#2a8780"><circle cx=535.5 cy=637.0 r=2.1 /><circle cx=535.5 cy=631.9 r=1.8 /><circle cx=535.5 cy=626.7 r=1.3 /></g>
<circle cx=530.8 cy=626.7 r=1.2 fill="#2a8b80"/>
<g fill="#2a8e7f"><circle cx=540.1 cy=626.7 r=1.7 /><circle cx=544.8 cy=637.0 r=2.2 /></g>
<circle cx=554.1 cy=616.4 r=1.2 fill="#2b8481"/>
<g fill="#2c8081"><circle cx=530.8 cy=631.9 r=1.8 /><circle cx=535.5 cy=647.3 r=2.2 /><circle cx=544.8 cy=616.4 r=1.3 /><circle cx=549.4 cy=626.7 r=1.4 /></g>
<g fill="#2d7a81"><circle cx=540.1 cy=647.3 r=2.3 /><circle cx=558.7 cy=611.3 r=1.1 /></g>
<g fill="#2d7d81"><circle cx=535.5 cy=652.4 r=2.1 /><circle cx=558.7 cy=606.2 r=0.8 /><circle cx=558.7 cy=601.0 r=0.9 /></g>
<g fill="#2f7281"><circle cx=535.5 cy=662.7 r=2.7 /><circle cx=544.8 cy=647.3 r=1.8 /><circle cx=554.1 cy=626.7 r=1.6 /></g>
<circle cx=563.4 cy=601.0 r=0.8 fill="#2f7681"/>
<g fill="#306f81"><circle cx=530.8 cy=642.1 r=2.1 /><circle cx=535.5 cy=673.0 r=2.1 /><circle cx=540.1 cy=652.4 r=1.8 /><circle cx=540.1 cy=637.0 r=1.8 /><circle cx=540.1 cy=631.9 r=2.0 /><circle cx=544.8 cy=621.6 r=1.2 /><circle cx=549.4 cy=637.0 r=1.7 /><circle cx=549.4 cy=616.4 r=1.1 /><circle cx=563.4 cy=611.3 r=0.9 /></g>
<g fill="#316c80"><circle cx=535.5 cy=642.1 r=1.9 /><circle cx=558.7 cy=626.7 r=1.3 /></g>
<circle cx=544.8 cy=626.7 r=1.9 fill="#319c7b"/>
<circle cx=535.5 cy=667.8 r=2.3 fill="#336880"/>
<g fill="#346480"><circle cx=530.8 cy=647.3 r=2.1 /><circle cx=540.1 cy=678.1 r=1.4 /><circle cx=549.4 cy=621.6 r=1.4 /><circle cx=563.4 cy=606.2 r=1.0 /><circle cx=568.0 cy=601.0 r=0.9 /></g>
<g fill="#35617f"><circle cx=535.5 cy=657.5 r=2.1 /><circle cx=544.8 cy=631.9 r=1.9 /></g>
<g fill="#365d7f"><circle cx=540.1 cy=657.5 r=2.2 /><circle cx=544.8 cy=662.7 r=1.8 /><circle cx=544.8 cy=652.4 r=1.8 /><circle cx=549.4 cy=642.1 r=2.2 /><circle cx=554.1 cy=637.0 r=1.8 /><circle cx=554.1 cy=631.9 r=1.8 /><circle cx=558.7 cy=616.4 r=1.1 /></g>
<circle cx=530.8 cy=637.0 r=1.9 fill="#36a079"/>
<g fill="#37597e"><circle cx=540.1 cy=662.7 r=2.0 /><circle cx=540.1 cy=642.1 r=1.8 /><circle cx=544.8 cy=642.1 r=2.0 /><circle cx=549.4 cy=662.7 r=1.6 /><circle cx=549.4 cy=652.4 r=1.9 /><circle cx=572.7 cy=621.6 r=0.9 /></g>
<g fill="#39557d"><circle cx=554.1 cy=652.4 r=1.3 /><circle cx=558.7 cy=642.1 r=1.8 /><circle cx=577.3 cy=611.3 r=0.8 /></g>
<g fill="#3a527c"><circle cx=535.5 cy=688.4 r=1.5 /><circle cx=540.1 cy=667.8 r=1.9 /><circle cx=544.8 cy=673.0 r=1.6 /><circle cx=549.4 cy=647.3 r=1.7 /><circle cx=549.4 cy=631.9 r=2.0 /><circle cx=554.1 cy=662.7 r=1.3 /><circle cx=558.7 cy=631.9 r=1.4 /><circle cx=563.4 cy=637.0 r=1.6 /><circle cx=563.4 cy=616.4 r=1.0 /><circle cx=568.0 cy=621.6 r=1.2 /><circle cx=568.0 cy=606.2 r=0.8 /><circle cx=572.7 cy=611.3 r=0.9 /></g>
<g fill="#3b0648"><circle cx=582.0 cy=616.4 r=0.8 /><circle cx=586.6 cy=616.4 r=0.9 /><circle cx=591.2 cy=631.9 r=0.7 /><circle cx=591.2 cy=611.3 r=0.8 /><circle cx=595.9 cy=626.7 r=0.7 /><circle cx=595.9 cy=621.6 r=0.7 /><circle cx=595.9 cy=606.2 r=0.9 /><circle cx=600.6 cy=621.6 r=0.8 /><circle cx=600.6 cy=616.4 r=0.8 /><circle cx=600.6 cy=606.2 r=0.8 /><circle cx=605.2 cy=611.3 r=0.7 /><circle cx=605.2 cy=606.2 r=0.9 /><circle cx=609.9 cy=611.3 r=0.9 /><circle cx=609.9 cy=606.2 r=0.8 /><circle cx=614.5 cy=606.2 r=0.8 /><circle cx=614.5 cy=601.0 r=0.8 /></g>
<g fill="#3b4e7b"><circle cx=535.5 cy=693.5 r=1.3 /><circle cx=535.5 cy=683.2 r=1.9 /><circle cx=540.1 cy=693.5 r=1.2 /><circle cx=544.8 cy=657.5 r=2.0 /><circle cx=549.4 cy=657.5 r=1.7 /><circle cx=554.1 cy=647.3 r=1.7 /><circle cx=563.4 cy=631.9 r=1.3 /><circle cx=563.4 cy=626.7 r=1.2 /><circle cx=563.4 cy=621.6 r=1.0 /><circle cx=568.0 cy=631.9 r=1.2 /><circle cx=577.3 cy=606.2 r=0.8 /><circle cx=582.0 cy=601.0 r=0.9 /></g>
<g fill="#3d0b4d"><circle cx=591.2 cy=626.7 r=0.8 /><circle cx=605.2 cy=616.4 r=0.9 /></g>
<g fill="#3d497a"><circle cx=540.1 cy=673.0 r=1.6 /><circle cx=554.1 cy=642.1 r=1.6 /><circle cx=558.7 cy=657.5 r=1.3 /><circle cx=558.7 cy=647.3 r=1.3 /><circle cx=558.7 cy=621.6 r=1.4 /><circle cx=568.0 cy=616.4 r=1.0 /><circle cx=572.7 cy=626.7 r=1.0 /><circle cx=572.7 cy=616.4 r=1.0 /><circle cx=577.3 cy=621.6 r=1.1 /><circle cx=586.6 cy=611.3 r=0.7 /></g>
<g fill="#3e1052"><circle cx=591.2 cy=606.2 r=0.8 /><circle cx=609.9 cy=601.0 r=0.7 /></g>
<g fill="#3e4579"><circle cx=540.1 cy=683.2 r=1.5 /><circle cx=544.8 cy=683.2 r=1.4 /><circle cx=549.4 cy=667.8 r=1.4 /><circle cx=554.1 cy=657.5 r=1.3 /><circle cx=558.7 cy=637.0 r=1.5 /><circle cx=563.4 cy=642.1 r=1.7 /><circle cx=568.0 cy=642.1 r=1.3 /><circle cx=582.0 cy=621.6 r=1.0 /><circle cx=582.0 cy=606.2 r=0.8 /></g>
<g fill="#3f4177"><circle cx=535.5 cy=678.1 r=1.7 /><circle cx=568.0 cy=611.3 r=1.0 /></g>
<g fill="#401657"><circle cx=558.7 cy=667.8 r=1.1 /><circle cx=572.7 cy=652.4 r=0.9 /></g>
<g fill="#403c75"><circle cx=540.1 cy=688.4 r=1.2 /><circle cx=544.8 cy=678.1 r=1.3 /><circle cx=549.4 cy=678.1 r=1.3 /><circle cx=558.7 cy=662.7 r=1.2 /><circle cx=563.4 cy=647.3 r=1.6 /><circle cx=577.3 cy=642.1 r=1.1 /><circle cx=577.3 cy=626.7 r=1.0 /><circle cx=577.3 cy=616.4 r=0.9 /><circle cx=577.3 cy=601.0 r=0.9 /></g>
<g fill="#411c5d"><circle cx=563.4 cy=662.7 r=1.1 /><circle cx=568.0 cy=652.4 r=1.2 /><circle cx=572.7 cy=631.9 r=1.1 /><circle cx=577.3 cy=647.3 r=1.0 /><circle cx=577.3 cy=637.0 r=1.2 /><circle cx=582.0 cy=642.1 r=1.0 /><circle cx=591.2 cy=621.6 r=0.8 /><circle cx=595.9 cy=601.0 r=0.7 /></g>
<g fill="#413873"><circle cx=554.1 cy=621.6 r=1.2 /><circle cx=586.6 cy=601.0 r=0.8 /></g>
<g fill="#422162"><circle cx=544.8 cy=667.8 r=1.4 /><circle cx=568.0 cy=647.3 r=1.1 /><circle cx=568.0 cy=637.0 r=1.5 /><circle cx=568.0 cy=626.7 r=1.1 /><circle cx=586.6 cy=621.6 r=0.9 /><circle cx=591.2 cy=616.4 r=0.9 /><circle cx=595.9 cy=616.4 r=0.7 /><circle cx=600.6 cy=611.3 r=0.8 /></g>
<g fill="#422566"><circle cx=554.1 cy=667.8 r=1.3 /><circle cx=577.3 cy=631.9 r=0.9 /><circle cx=586.6 cy=637.0 r=0.9 /><circle cx=605.2 cy=601.0 r=0.7 /></g>
<g fill="#422a69"><circle cx=572.7 cy=647.3 r=1.2 /><circle cx=572.7 cy=637.0 r=1.3 /><circle cx=582.0 cy=637.0 r=0.9 /><circle cx=582.0 cy=631.9 r=1.0 /><circle cx=586.6 cy=631.9 r=0.7 /><circle cx=591.2 cy=601.0 r=0.8 /><circle cx=600.6 cy=601.0 r=0.9 /></g>
<g fill="#422f6d"><circle cx=554.1 cy=673.0 r=1.2 /><circle cx=558.7 cy=652.4 r=1.6 /><circle cx=563.4 cy=657.5 r=1.1 /><circle cx=568.0 cy=657.5 r=1.2 /><circle cx=572.7 cy=642.1 r=1.2 /><circle cx=572.7 cy=606.2 r=1.0 /><circle cx=572.7 cy=601.0 r=0.8 /><circle cx=582.0 cy=611.3 r=0.8 /><circle cx=586.6 cy=626.7 r=0.9 /><circle cx=586.6 cy=606.2 r=0.9 /></g>
<g fill="#423470"><circle cx=549.4 cy=673.0 r=1.4 /><circle cx=563.4 cy=652.4 r=1.4 /><circle cx=582.0 cy=626.7 r=0.8 /><circle cx=595.9 cy=611.3 r=0.9 /></g>
<circle cx=512.2 cy=631.9 r=7.5 fill="#2e997c"/>
<circle cx=503.8 cy=682.7 r=13 fill="#2d7a81"/>
<circle cx=474.5 cy=685.3 r=7.0 fill="#3fa775"/>
<g fill="#45aa73"><circle cx=486.6 cy=689.4 r=6.0 /><circle cx=482.0 cy=675.5 r=4.5 /></g>
<circle cx=489.0 cy=667.8 r=4.0 fill="#3fa775"/>
<circle cx=493.6 cy=678.1 r=4.5 fill="#3aa477"/>
<circle cx=475.0 cy=673.0 r=3.5 fill="#45aa73"/>
<g fill="#bdd137"><circle cx=521.5 cy=687.3 r=5.0 /><circle cx=492.2 cy=693.5 r=4.0 /></g>
<circle cx=586.6 cy=652.4 r=2.2 fill="#2e997c"/>
<circle cx=614.5 cy=595.9 r=0.7 fill="#306f81"/>
<circle cx=595.9 cy=590.8 r=0.8 fill="#4cae70"/>
<g fill="#7bc15a"><circle cx=577.3 cy=590.8 r=0.8 /><circle cx=582.0 cy=590.8 r=0.8 /></g>
<circle cx=600.1 cy=549.1 r=1.5 fill="#b4cf3c"/>
<g fill="#423470"><circle cx=530.8 cy=673.0 r=3.2 /><circle cx=530.8 cy=678.1 r=3.2 /></g>
<circle cx=530.8 cy=667.8 r=3.0 fill="#403c75"/>
<g fill="#3f4177"><circle cx=528.9 cy=683.2 r=3.0 /><circle cx=535.5 cy=688.4 r=2.2 /></g>
<circle cx=540.1 cy=693.5 r=2.0 fill="#4cae70"/>
<circle cx=530.8 cy=693.5 r=2.5 fill="#abcd40"/>
<circle cx=526.2 cy=662.7 r=3.0 fill="#3b4e7b"/>
</g>
<rect x="65.10" y="513.70" width="233.10" height="179.80" fill="none" stroke="#3a3a3a" stroke-width="1.1"/>
<line x1="65.10" y1="693.50" x2="65.10" y2="699.10" stroke="#3a3a3a" stroke-width="1.1"/>
<text transform="translate(65.10,723.20) scale(1.240,1)" font-size="15.2" font-weight="bold" text-anchor="middle" fill="#111" stroke="#111" stroke-width="0.35">0.0</text>
<line x1="142.80" y1="693.50" x2="142.80" y2="699.10" stroke="#3a3a3a" stroke-width="1.1"/>
<text transform="translate(142.80,723.20) scale(1.240,1)" font-size="15.2" font-weight="bold" text-anchor="middle" fill="#111" stroke="#111" stroke-width="0.35">0.5</text>
<line x1="220.50" y1="693.50" x2="220.50" y2="699.10" stroke="#3a3a3a" stroke-width="1.1"/>
<text transform="translate(220.50,723.20) scale(1.240,1)" font-size="15.2" font-weight="bold" text-anchor="middle" fill="#111" stroke="#111" stroke-width="0.35">1.0</text>
<line x1="298.20" y1="693.50" x2="298.20" y2="699.10" stroke="#3a3a3a" stroke-width="1.1"/>
<text transform="translate(298.20,723.20) scale(1.240,1)" font-size="15.2" font-weight="bold" text-anchor="middle" fill="#111" stroke="#111" stroke-width="0.35">1.5</text>
<line x1="59.50" y1="693.50" x2="65.10" y2="693.50" stroke="#3a3a3a" stroke-width="1.1"/>
<text transform="translate(45.60,697.30) scale(1.240,1)" font-size="15.2" font-weight="bold" text-anchor="end" fill="#111" stroke="#111" stroke-width="0.35">0</text>
<line x1="59.50" y1="621.58" x2="65.10" y2="621.58" stroke="#3a3a3a" stroke-width="1.1"/>
<text transform="translate(45.60,625.38) scale(1.240,1)" font-size="15.2" font-weight="bold" text-anchor="end" fill="#111" stroke="#111" stroke-width="0.35">1</text>
<line x1="59.50" y1="549.66" x2="65.10" y2="549.66" stroke="#3a3a3a" stroke-width="1.1"/>
<text transform="translate(45.60,553.46) scale(1.240,1)" font-size="15.2" font-weight="bold" text-anchor="end" fill="#111" stroke="#111" stroke-width="0.35">2</text>
<text transform="translate(181.65,742.50) scale(1.050,1)" font-size="15" font-weight="normal" text-anchor="middle" fill="#111">O/C</text>
<text transform="translate(20.70,603.60) rotate(-90) scale(1.050,1)" font-size="15" font-weight="normal" text-anchor="middle" fill="#111">H/C</text>
<rect x="447.10" y="513.70" width="232.50" height="179.80" fill="none" stroke="#3a3a3a" stroke-width="1.1"/>
<line x1="447.10" y1="693.50" x2="447.10" y2="699.10" stroke="#3a3a3a" stroke-width="1.1"/>
<text transform="translate(447.10,723.20) scale(1.240,1)" font-size="15.2" font-weight="bold" text-anchor="middle" fill="#111" stroke="#111" stroke-width="0.35">0</text>
<line x1="493.60" y1="693.50" x2="493.60" y2="699.10" stroke="#3a3a3a" stroke-width="1.1"/>
<text transform="translate(493.60,723.20) scale(1.240,1)" font-size="15.2" font-weight="bold" text-anchor="middle" fill="#111" stroke="#111" stroke-width="0.35">10</text>
<line x1="540.10" y1="693.50" x2="540.10" y2="699.10" stroke="#3a3a3a" stroke-width="1.1"/>
<text transform="translate(540.10,723.20) scale(1.240,1)" font-size="15.2" font-weight="bold" text-anchor="middle" fill="#111" stroke="#111" stroke-width="0.35">20</text>
<line x1="586.60" y1="693.50" x2="586.60" y2="699.10" stroke="#3a3a3a" stroke-width="1.1"/>
<text transform="translate(586.60,723.20) scale(1.240,1)" font-size="15.2" font-weight="bold" text-anchor="middle" fill="#111" stroke="#111" stroke-width="0.35">30</text>
<line x1="633.10" y1="693.50" x2="633.10" y2="699.10" stroke="#3a3a3a" stroke-width="1.1"/>
<text transform="translate(633.10,723.20) scale(1.240,1)" font-size="15.2" font-weight="bold" text-anchor="middle" fill="#111" stroke="#111" stroke-width="0.35">40</text>
<line x1="679.60" y1="693.50" x2="679.60" y2="699.10" stroke="#3a3a3a" stroke-width="1.1"/>
<text transform="translate(679.60,723.20) scale(1.240,1)" font-size="15.2" font-weight="bold" text-anchor="middle" fill="#111" stroke="#111" stroke-width="0.35">50</text>
<line x1="441.50" y1="693.50" x2="447.10" y2="693.50" stroke="#3a3a3a" stroke-width="1.1"/>
<text transform="translate(427.60,697.30) scale(1.240,1)" font-size="15.2" font-weight="bold" text-anchor="end" fill="#111" stroke="#111" stroke-width="0.35">0</text>
<line x1="441.50" y1="642.13" x2="447.10" y2="642.13" stroke="#3a3a3a" stroke-width="1.1"/>
<text transform="translate(427.60,645.93) scale(1.240,1)" font-size="15.2" font-weight="bold" text-anchor="end" fill="#111" stroke="#111" stroke-width="0.35">10</text>
<line x1="441.50" y1="590.76" x2="447.10" y2="590.76" stroke="#3a3a3a" stroke-width="1.1"/>
<text transform="translate(427.60,594.56) scale(1.240,1)" font-size="15.2" font-weight="bold" text-anchor="end" fill="#111" stroke="#111" stroke-width="0.35">20</text>
<line x1="441.50" y1="539.39" x2="447.10" y2="539.39" stroke="#3a3a3a" stroke-width="1.1"/>
<text transform="translate(427.60,543.19) scale(1.240,1)" font-size="15.2" font-weight="bold" text-anchor="end" fill="#111" stroke="#111" stroke-width="0.35">30</text>
<text transform="translate(563.35,742.50) scale(1.110,1)" font-size="15" font-weight="normal" text-anchor="middle" fill="#111">C Number</text>
<text transform="translate(400.80,603.60) rotate(-90) scale(1.050,1)" font-size="15" font-weight="normal" text-anchor="middle" fill="#111">DBE</text>
<rect x="312.30" y="513.70" width="9.60" height="179.80" fill="url(#vg)" stroke="#222" stroke-width="0.9"/>
<text transform="translate(324.90,697.40) scale(1.100,1)" font-size="15.3" font-weight="normal" text-anchor="start" fill="#111">0</text>
<line x1="319.40" y1="675.52" x2="321.90" y2="675.52" stroke="#222" stroke-width="0.8"/>
<text transform="translate(324.90,679.42) scale(1.100,1)" font-size="15.3" font-weight="normal" text-anchor="start" fill="#111">80</text>
<line x1="319.40" y1="657.54" x2="321.90" y2="657.54" stroke="#222" stroke-width="0.8"/>
<text transform="translate(324.90,661.44) scale(1.100,1)" font-size="15.3" font-weight="normal" text-anchor="start" fill="#111">160</text>
<line x1="319.40" y1="639.56" x2="321.90" y2="639.56" stroke="#222" stroke-width="0.8"/>
<text transform="translate(324.90,643.46) scale(1.100,1)" font-size="15.3" font-weight="normal" text-anchor="start" fill="#111">240</text>
<line x1="319.40" y1="621.58" x2="321.90" y2="621.58" stroke="#222" stroke-width="0.8"/>
<text transform="translate(324.90,625.48) scale(1.100,1)" font-size="15.3" font-weight="normal" text-anchor="start" fill="#111">320</text>
<line x1="319.40" y1="603.60" x2="321.90" y2="603.60" stroke="#222" stroke-width="0.8"/>
<text transform="translate(324.90,607.50) scale(1.100,1)" font-size="15.3" font-weight="normal" text-anchor="start" fill="#111">400</text>
<line x1="319.40" y1="585.62" x2="321.90" y2="585.62" stroke="#222" stroke-width="0.8"/>
<text transform="translate(324.90,589.52) scale(1.100,1)" font-size="15.3" font-weight="normal" text-anchor="start" fill="#111">480</text>
<line x1="319.40" y1="567.64" x2="321.90" y2="567.64" stroke="#222" stroke-width="0.8"/>
<text transform="translate(324.90,571.54) scale(1.100,1)" font-size="15.3" font-weight="normal" text-anchor="start" fill="#111">560</text>
<line x1="319.40" y1="549.66" x2="321.90" y2="549.66" stroke="#222" stroke-width="0.8"/>
<text transform="translate(324.90,553.56) scale(1.100,1)" font-size="15.3" font-weight="normal" text-anchor="start" fill="#111">640</text>
<line x1="319.40" y1="531.68" x2="321.90" y2="531.68" stroke="#222" stroke-width="0.8"/>
<text transform="translate(324.90,535.58) scale(1.100,1)" font-size="15.3" font-weight="normal" text-anchor="start" fill="#111">720</text>
<text transform="translate(324.90,517.60) scale(1.100,1)" font-size="15.3" font-weight="normal" text-anchor="start" fill="#111">800</text>
<rect x="693.70" y="513.70" width="9.20" height="179.80" fill="url(#vg)" stroke="#222" stroke-width="0.9"/>
<text transform="translate(705.90,697.40) scale(1.100,1)" font-size="15.3" font-weight="normal" text-anchor="start" fill="#111">0</text>
<line x1="700.40" y1="675.52" x2="702.90" y2="675.52" stroke="#222" stroke-width="0.8"/>
<text transform="translate(705.90,679.42) scale(1.100,1)" font-size="15.3" font-weight="normal" text-anchor="start" fill="#111">2</text>
<line x1="700.40" y1="657.54" x2="702.90" y2="657.54" stroke="#222" stroke-width="0.8"/>
<text transform="translate(705.90,661.44) scale(1.100,1)" font-size="15.3" font-weight="normal" text-anchor="start" fill="#111">4</text>
<line x1="700.40" y1="639.56" x2="702.90" y2="639.56" stroke="#222" stroke-width="0.8"/>
<text transform="translate(705.90,643.46) scale(1.100,1)" font-size="15.3" font-weight="normal" text-anchor="start" fill="#111">6</text>
<line x1="700.40" y1="621.58" x2="702.90" y2="621.58" stroke="#222" stroke-width="0.8"/>
<text transform="translate(705.90,625.48) scale(1.100,1)" font-size="15.3" font-weight="normal" text-anchor="start" fill="#111">8</text>
<line x1="700.40" y1="603.60" x2="702.90" y2="603.60" stroke="#222" stroke-width="0.8"/>
<text transform="translate(705.90,607.50) scale(1.100,1)" font-size="15.3" font-weight="normal" text-anchor="start" fill="#111">10</text>
<line x1="700.40" y1="585.62" x2="702.90" y2="585.62" stroke="#222" stroke-width="0.8"/>
<text transform="translate(705.90,589.52) scale(1.100,1)" font-size="15.3" font-weight="normal" text-anchor="start" fill="#111">12</text>
<line x1="700.40" y1="567.64" x2="702.90" y2="567.64" stroke="#222" stroke-width="0.8"/>
<text transform="translate(705.90,571.54) scale(1.100,1)" font-size="15.3" font-weight="normal" text-anchor="start" fill="#111">14</text>
<line x1="700.40" y1="549.66" x2="702.90" y2="549.66" stroke="#222" stroke-width="0.8"/>
<text transform="translate(705.90,553.56) scale(1.100,1)" font-size="15.3" font-weight="normal" text-anchor="start" fill="#111">16</text>
<line x1="700.40" y1="531.68" x2="702.90" y2="531.68" stroke="#222" stroke-width="0.8"/>
<text transform="translate(705.90,535.58) scale(1.100,1)" font-size="15.3" font-weight="normal" text-anchor="start" fill="#111">18</text>
<text transform="translate(705.90,517.60) scale(1.100,1)" font-size="15.3" font-weight="normal" text-anchor="start" fill="#111">20</text>
<text transform="translate(369.20,603.60) rotate(-90) scale(1.030,1)" font-size="15.5" font-weight="normal" text-anchor="middle" fill="#111">Mass</text>
<text transform="translate(740.50,603.60) rotate(-90) scale(1.050,1)" font-size="15" font-weight="normal" text-anchor="middle" fill="#111">O #</text>
<text transform="translate(0.00,514.20) scale(1.030,1)" font-size="25" font-weight="bold" text-anchor="start" fill="#000">(c)</text>
<g clip-path="url(#cl3)">
<circle cx=91.8 cy=803.4 r=44 fill="#5ab56a"/>
<circle cx=82.0 cy=805.8 r=27 fill="#3fa775"/>
<circle cx=84.0 cy=806.0 r=20 fill="#3aa477"/>
<g fill="#2b8481"><circle cx=75.0 cy=803.4 r=0.7 /><circle cx=77.4 cy=803.4 r=0.7 /><circle cx=79.8 cy=803.4 r=0.7 /><circle cx=82.2 cy=803.4 r=0.7 /><circle cx=84.6 cy=803.4 r=0.7 /><circle cx=87.0 cy=803.4 r=0.7 /><circle cx=89.4 cy=803.4 r=0.7 /><circle cx=91.8 cy=803.4 r=0.7 /><circle cx=94.2 cy=803.4 r=0.7 /><circle cx=96.6 cy=803.4 r=0.7 /></g>
<g fill="#2d7a81"><circle cx=80.0 cy=808.0 r=0.8 /><circle cx=81.6 cy=808.5 r=0.8 /><circle cx=83.2 cy=808.9 r=0.8 /><circle cx=84.8 cy=809.4 r=0.8 /><circle cx=86.4 cy=809.8 r=0.8 /><circle cx=88.0 cy=810.2 r=0.8 /><circle cx=89.6 cy=810.7 r=0.8 /><circle cx=91.2 cy=811.1 r=0.8 /><circle cx=92.8 cy=811.6 r=0.8 /><circle cx=94.4 cy=812.0 r=0.8 /><circle cx=96.0 cy=812.5 r=0.8 /><circle cx=97.6 cy=813.0 r=0.8 /><circle cx=99.2 cy=813.4 r=0.8 /><circle cx=100.8 cy=813.9 r=0.8 /></g>
<circle cx=102.2 cy=836.5 r=5.0 fill="#2e997c"/>
<circle cx=112.7 cy=824.4 r=4.0 fill="#319c7b"/>
<circle cx=120.8 cy=822.8 r=3.0 fill="#2e997c"/>
<circle cx=107.4 cy=848.7 r=2.0 fill="#2a8e7f"/>
<circle cx=121.6 cy=855.1 r=2.0 fill="#2d7a81"/>
<circle cx=121.6 cy=841.7 r=2.5 fill="#4cae70"/>
<circle cx=153.6 cy=916.0 r=3.5 fill="#2e997c"/>
<circle cx=147.8 cy=908.4 r=2.0 fill="#2a8e7f"/>
<circle cx=151.5 cy=866.7 r=3.0 fill="#4cae70"/>
<g fill="#2a8780"><circle cx=159.6 cy=874.7 r=0.9 /><circle cx=123.1 cy=847.8 r=1.0 /></g>
<g fill="#2a8b80"><circle cx=165.0 cy=870.1 r=0.9 /><circle cx=142.6 cy=901.8 r=0.6 /></g>
<g fill="#2a8e7f"><circle cx=113.8 cy=863.5 r=1.8 /><circle cx=110.8 cy=878.8 r=1.8 /><circle cx=103.8 cy=860.7 r=1.6 /><circle cx=107.4 cy=848.4 r=2.0 /><circle cx=142.5 cy=803.0 r=1.5 /><circle cx=127.3 cy=803.0 r=1.0 /><circle cx=115.0 cy=835.0 r=1.8 /><circle cx=117.0 cy=850.0 r=1.3 /><circle cx=130.0 cy=830.0 r=1.2 /><circle cx=128.0 cy=858.5 r=1.1 /><circle cx=141.5 cy=851.0 r=0.9 /><circle cx=157.4 cy=897.6 r=0.8 /><circle cx=147.6 cy=886.4 r=0.8 /><circle cx=159.7 cy=892.7 r=0.9 /></g>
<g fill="#2b8481"><circle cx=97.0 cy=838.0 r=1.5 /><circle cx=88.0 cy=844.0 r=1.3 /><circle cx=92.0 cy=850.0 r=1.2 /><circle cx=112.9 cy=886.2 r=0.8 /><circle cx=118.8 cy=871.2 r=0.9 /><circle cx=128.8 cy=854.4 r=0.6 /><circle cx=117.0 cy=866.0 r=1.0 /><circle cx=121.7 cy=870.5 r=0.9 /><circle cx=71.3 cy=871.7 r=0.9 /><circle cx=71.3 cy=868.8 r=0.9 /><circle cx=71.3 cy=865.9 r=0.9 /><circle cx=71.3 cy=863.1 r=0.9 /><circle cx=71.3 cy=860.2 r=0.9 /><circle cx=71.3 cy=857.3 r=0.9 /><circle cx=71.3 cy=854.4 r=0.9 /><circle cx=71.3 cy=851.5 r=0.9 /><circle cx=71.3 cy=848.7 r=0.9 /></g>
<g fill="#2b927e"><circle cx=118.4 cy=848.4 r=0.8 /><circle cx=156.1 cy=903.2 r=1.0 /><circle cx=148.3 cy=859.3 r=1.1 /><circle cx=117.9 cy=851.5 r=1.0 /></g>
<g fill="#2c8081"><circle cx=122.2 cy=850.7 r=0.6 /><circle cx=123.1 cy=866.7 r=0.5 /></g>
<circle cx=159.2 cy=903.7 r=1.0 fill="#2c967d"/>
<g fill="#2d7a81"><circle cx=121.3 cy=855.4 r=2.2 /><circle cx=124.7 cy=857.1 r=0.8 /></g>
<g fill="#2d7d81"><circle cx=140.0 cy=860.0 r=0.6 /><circle cx=120.9 cy=868.8 r=0.7 /><circle cx=113.4 cy=873.5 r=0.6 /><circle cx=130.7 cy=873.9 r=1.0 /></g>
<g fill="#2e997c"><circle cx=203.4 cy=819.0 r=1.2 /><circle cx=178.0 cy=868.0 r=1.5 /><circle cx=168.4 cy=850.0 r=0.8 /><circle cx=119.0 cy=869.9 r=1.0 /><circle cx=112.0 cy=860.7 r=0.6 /><circle cx=140.1 cy=852.5 r=0.8 /><circle cx=159.5 cy=880.4 r=0.5 /></g>
<circle cx=178.2 cy=868.3 r=1.2 fill="#306f81"/>
<g fill="#319c7b"><circle cx=145.7 cy=852.4 r=0.6 /><circle cx=116.7 cy=872.9 r=1.0 /><circle cx=159.2 cy=884.2 r=0.9 /></g>
<g fill="#36a079"><circle cx=131.8 cy=903.8 r=0.6 /><circle cx=130.2 cy=841.3 r=0.7 /><circle cx=132.2 cy=882.7 r=0.6 /></g>
<g fill="#3aa477"><circle cx=104.5 cy=868.4 r=0.9 /><circle cx=122.7 cy=871.8 r=1.1 /><circle cx=104.9 cy=866.2 r=0.6 /></g>
<g fill="#3fa775"><circle cx=154.8 cy=868.3 r=0.6 /><circle cx=148.3 cy=886.8 r=0.9 /><circle cx=157.7 cy=849.7 r=0.8 /><circle cx=129.5 cy=862.5 r=1.0 /></g>
<circle cx=139.0 cy=854.5 r=0.7 fill="#45aa73"/>
<g fill="#4cae70"><circle cx=121.6 cy=842.4 r=2.5 /><circle cx=127.3 cy=860.7 r=1.5 /><circle cx=121.4 cy=868.3 r=2.0 /><circle cx=220.2 cy=803.1 r=1.2 /><circle cx=220.2 cy=826.7 r=0.8 /><circle cx=181.4 cy=803.0 r=0.8 /><circle cx=139.0 cy=874.4 r=0.7 /></g>
</g>
<g clip-path="url(#cr3)">
<circle cx=502.9 cy=942.1 r=46 fill="#bdd137"/>
<circle cx=512.2 cy=885.6 r=3.3 fill="#2e997c"/>
<g fill="#2c967d"><circle cx=549.4 cy=901.0 r=2.5 /><circle cx=549.4 cy=906.1 r=2.2 /></g>
<circle cx=515.0 cy=885.6 r=1.5 fill="#2e997c"/>
<g fill="#3aa477"><circle cx=525.7 cy=921.0 r=5.0 /><circle cx=521.0 cy=921.5 r=3.0 /></g>
<circle cx=511.7 cy=926.7 r=3.5 fill="#3fa775"/>
<circle cx=520.1 cy=926.7 r=2.0 fill="#3aa477"/>
<g fill="#3fa775"><circle cx=497.3 cy=926.7 r=2.5 /><circle cx=511.7 cy=931.8 r=3.0 /></g>
<circle cx=507.1 cy=931.8 r=2.0 fill="#3aa477"/>
<circle cx=530.8 cy=936.9 r=4.0 fill="#4cae70"/>
<circle cx=516.9 cy=890.7 r=1.1 fill="#2a8e7f"/>
<g fill="#2b927e"><circle cx=530.8 cy=890.7 r=1.1 /><circle cx=521.5 cy=931.8 r=1.0 /></g>
<g fill="#2c967d"><circle cx=526.2 cy=901.0 r=1.0 /><circle cx=530.8 cy=901.0 r=1.2 /><circle cx=572.7 cy=916.4 r=1.1 /><circle cx=530.8 cy=906.1 r=1.4 /><circle cx=502.9 cy=911.2 r=1.2 /><circle cx=512.2 cy=916.4 r=1.0 /><circle cx=502.9 cy=921.5 r=0.9 /></g>
<g fill="#2e997c"><circle cx=526.2 cy=895.8 r=1.0 /><circle cx=521.5 cy=901.0 r=1.3 /><circle cx=572.7 cy=906.1 r=1.2 /><circle cx=521.5 cy=906.1 r=1.1 /><circle cx=498.2 cy=916.4 r=1.1 /></g>
<g fill="#319c7b"><circle cx=516.9 cy=895.8 r=1.3 /><circle cx=521.5 cy=895.8 r=1.1 /><circle cx=530.8 cy=895.8 r=1.0 /><circle cx=540.1 cy=901.0 r=1.1 /><circle cx=568.0 cy=906.1 r=1.1 /><circle cx=572.7 cy=911.2 r=1.0 /><circle cx=586.6 cy=911.2 r=0.9 /><circle cx=484.3 cy=921.5 r=1.3 /><circle cx=493.6 cy=921.5 r=1.1 /><circle cx=540.1 cy=926.7 r=1.1 /><circle cx=512.2 cy=936.9 r=1.3 /></g>
<g fill="#36a079"><circle cx=540.1 cy=895.8 r=1.0 /><circle cx=535.5 cy=901.0 r=1.4 /><circle cx=544.8 cy=901.0 r=0.9 /><circle cx=582.0 cy=906.1 r=1.2 /><circle cx=540.1 cy=906.1 r=1.4 /><circle cx=530.8 cy=916.4 r=1.1 /></g>
<g fill="#3aa477"><circle cx=549.4 cy=895.8 r=1.3 /><circle cx=535.5 cy=911.2 r=1.0 /><circle cx=544.8 cy=921.5 r=1.1 /><circle cx=535.5 cy=942.1 r=1.3 /></g>
<circle cx=558.7 cy=942.1 r=1.2 fill="#3fa775"/>
<g fill="#45aa73"><circle cx=549.4 cy=942.1 r=1.1 /><circle cx=568.0 cy=936.9 r=0.9 /><circle cx=586.6 cy=936.9 r=1.1 /></g>
<g fill="#53b26d"><circle cx=526.2 cy=942.1 r=1.4 /><circle cx=582.0 cy=936.9 r=1.1 /></g>
<circle cx=563.4 cy=936.9 r=0.8 fill="#63b866"/>
<g fill="#6bbb62"><circle cx=540.1 cy=936.9 r=1.2 /><circle cx=549.4 cy=936.9 r=0.8 /></g>
<g fill="#73be5e"><circle cx=521.5 cy=942.1 r=1.0 /><circle cx=554.1 cy=942.1 r=1.0 /><circle cx=563.4 cy=942.1 r=1.2 /></g>
<g fill="#85c455"><circle cx=516.9 cy=942.1 r=1.0 /><circle cx=530.8 cy=942.1 r=1.1 /></g>
<g fill="#8ec650"><circle cx=540.1 cy=942.1 r=1.2 /><circle cx=568.0 cy=942.1 r=1.2 /></g>
<circle cx=558.7 cy=942.1 r=2.5 fill="#97c94c"/>
<g fill="#a0cb47"><circle cx=544.8 cy=942.1 r=1.1 /><circle cx=591.2 cy=936.9 r=0.9 /></g>
<g fill="#abcd40"><circle cx=554.1 cy=890.7 r=0.7 /><circle cx=572.7 cy=890.7 r=0.7 /><circle cx=591.2 cy=890.7 r=0.7 /><circle cx=600.6 cy=890.7 r=0.7 /><circle cx=595.9 cy=936.9 r=1.0 /></g>
<g fill="#b4cf3c"><circle cx=623.8 cy=880.4 r=0.7 /><circle cx=540.1 cy=885.6 r=0.8 /><circle cx=554.1 cy=885.6 r=0.8 /><circle cx=563.4 cy=885.6 r=0.8 /><circle cx=572.7 cy=885.6 r=0.8 /><circle cx=582.0 cy=885.6 r=0.8 /><circle cx=591.2 cy=885.6 r=0.8 /><circle cx=600.6 cy=885.6 r=0.8 /><circle cx=605.2 cy=885.6 r=0.8 /><circle cx=619.2 cy=885.6 r=0.8 /></g>
</g>
<rect x="65.10" y="767.40" width="233.10" height="179.80" fill="none" stroke="#3a3a3a" stroke-width="1.1"/>
<line x1="65.10" y1="947.20" x2="65.10" y2="952.80" stroke="#3a3a3a" stroke-width="1.1"/>
<text transform="translate(65.10,976.90) scale(1.240,1)" font-size="15.2" font-weight="bold" text-anchor="middle" fill="#111" stroke="#111" stroke-width="0.35">0.0</text>
<line x1="142.80" y1="947.20" x2="142.80" y2="952.80" stroke="#3a3a3a" stroke-width="1.1"/>
<text transform="translate(142.80,976.90) scale(1.240,1)" font-size="15.2" font-weight="bold" text-anchor="middle" fill="#111" stroke="#111" stroke-width="0.35">0.5</text>
<line x1="220.50" y1="947.20" x2="220.50" y2="952.80" stroke="#3a3a3a" stroke-width="1.1"/>
<text transform="translate(220.50,976.90) scale(1.240,1)" font-size="15.2" font-weight="bold" text-anchor="middle" fill="#111" stroke="#111" stroke-width="0.35">1.0</text>
<line x1="298.20" y1="947.20" x2="298.20" y2="952.80" stroke="#3a3a3a" stroke-width="1.1"/>
<text transform="translate(298.20,976.90) scale(1.240,1)" font-size="15.2" font-weight="bold" text-anchor="middle" fill="#111" stroke="#111" stroke-width="0.35">1.5</text>
<line x1="59.50" y1="947.20" x2="65.10" y2="947.20" stroke="#3a3a3a" stroke-width="1.1"/>
<text transform="translate(45.60,951.00) scale(1.240,1)" font-size="15.2" font-weight="bold" text-anchor="end" fill="#111" stroke="#111" stroke-width="0.35">0</text>
<line x1="59.50" y1="875.28" x2="65.10" y2="875.28" stroke="#3a3a3a" stroke-width="1.1"/>
<text transform="translate(45.60,879.08) scale(1.240,1)" font-size="15.2" font-weight="bold" text-anchor="end" fill="#111" stroke="#111" stroke-width="0.35">1</text>
<line x1="59.50" y1="803.36" x2="65.10" y2="803.36" stroke="#3a3a3a" stroke-width="1.1"/>
<text transform="translate(45.60,807.16) scale(1.240,1)" font-size="15.2" font-weight="bold" text-anchor="end" fill="#111" stroke="#111" stroke-width="0.35">2</text>
<text transform="translate(181.65,996.20) scale(1.050,1)" font-size="15" font-weight="normal" text-anchor="middle" fill="#111">O/C</text>
<text transform="translate(20.70,857.30) rotate(-90) scale(1.050,1)" font-size="15" font-weight="normal" text-anchor="middle" fill="#111">H/C</text>
<rect x="447.10" y="767.40" width="232.50" height="179.80" fill="none" stroke="#3a3a3a" stroke-width="1.1"/>
<line x1="447.10" y1="947.20" x2="447.10" y2="952.80" stroke="#3a3a3a" stroke-width="1.1"/>
<text transform="translate(447.10,976.90) scale(1.240,1)" font-size="15.2" font-weight="bold" text-anchor="middle" fill="#111" stroke="#111" stroke-width="0.35">0</text>
<line x1="493.60" y1="947.20" x2="493.60" y2="952.80" stroke="#3a3a3a" stroke-width="1.1"/>
<text transform="translate(493.60,976.90) scale(1.240,1)" font-size="15.2" font-weight="bold" text-anchor="middle" fill="#111" stroke="#111" stroke-width="0.35">10</text>
<line x1="540.10" y1="947.20" x2="540.10" y2="952.80" stroke="#3a3a3a" stroke-width="1.1"/>
<text transform="translate(540.10,976.90) scale(1.240,1)" font-size="15.2" font-weight="bold" text-anchor="middle" fill="#111" stroke="#111" stroke-width="0.35">20</text>
<line x1="586.60" y1="947.20" x2="586.60" y2="952.80" stroke="#3a3a3a" stroke-width="1.1"/>
<text transform="translate(586.60,976.90) scale(1.240,1)" font-size="15.2" font-weight="bold" text-anchor="middle" fill="#111" stroke="#111" stroke-width="0.35">30</text>
<line x1="633.10" y1="947.20" x2="633.10" y2="952.80" stroke="#3a3a3a" stroke-width="1.1"/>
<text transform="translate(633.10,976.90) scale(1.240,1)" font-size="15.2" font-weight="bold" text-anchor="middle" fill="#111" stroke="#111" stroke-width="0.35">40</text>
<line x1="679.60" y1="947.20" x2="679.60" y2="952.80" stroke="#3a3a3a" stroke-width="1.1"/>
<text transform="translate(679.60,976.90) scale(1.240,1)" font-size="15.2" font-weight="bold" text-anchor="middle" fill="#111" stroke="#111" stroke-width="0.35">50</text>
<line x1="441.50" y1="947.20" x2="447.10" y2="947.20" stroke="#3a3a3a" stroke-width="1.1"/>
<text transform="translate(427.60,951.00) scale(1.240,1)" font-size="15.2" font-weight="bold" text-anchor="end" fill="#111" stroke="#111" stroke-width="0.35">0</text>
<line x1="441.50" y1="895.83" x2="447.10" y2="895.83" stroke="#3a3a3a" stroke-width="1.1"/>
<text transform="translate(427.60,899.63) scale(1.240,1)" font-size="15.2" font-weight="bold" text-anchor="end" fill="#111" stroke="#111" stroke-width="0.35">10</text>
<line x1="441.50" y1="844.46" x2="447.10" y2="844.46" stroke="#3a3a3a" stroke-width="1.1"/>
<text transform="translate(427.60,848.26) scale(1.240,1)" font-size="15.2" font-weight="bold" text-anchor="end" fill="#111" stroke="#111" stroke-width="0.35">20</text>
<line x1="441.50" y1="793.09" x2="447.10" y2="793.09" stroke="#3a3a3a" stroke-width="1.1"/>
<text transform="translate(427.60,796.89) scale(1.240,1)" font-size="15.2" font-weight="bold" text-anchor="end" fill="#111" stroke="#111" stroke-width="0.35">30</text>
<text transform="translate(563.35,996.20) scale(1.110,1)" font-size="15" font-weight="normal" text-anchor="middle" fill="#111">C Number</text>
<text transform="translate(400.80,857.30) rotate(-90) scale(1.050,1)" font-size="15" font-weight="normal" text-anchor="middle" fill="#111">DBE</text>
<rect x="312.30" y="767.40" width="9.60" height="179.80" fill="url(#vg)" stroke="#222" stroke-width="0.9"/>
<text transform="translate(324.90,951.10) scale(1.100,1)" font-size="15.3" font-weight="normal" text-anchor="start" fill="#111">0</text>
<line x1="319.40" y1="929.22" x2="321.90" y2="929.22" stroke="#222" stroke-width="0.8"/>
<text transform="translate(324.90,933.12) scale(1.100,1)" font-size="15.3" font-weight="normal" text-anchor="start" fill="#111">80</text>
<line x1="319.40" y1="911.24" x2="321.90" y2="911.24" stroke="#222" stroke-width="0.8"/>
<text transform="translate(324.90,915.14) scale(1.100,1)" font-size="15.3" font-weight="normal" text-anchor="start" fill="#111">160</text>
<line x1="319.40" y1="893.26" x2="321.90" y2="893.26" stroke="#222" stroke-width="0.8"/>
<text transform="translate(324.90,897.16) scale(1.100,1)" font-size="15.3" font-weight="normal" text-anchor="start" fill="#111">240</text>
<line x1="319.40" y1="875.28" x2="321.90" y2="875.28" stroke="#222" stroke-width="0.8"/>
<text transform="translate(324.90,879.18) scale(1.100,1)" font-size="15.3" font-weight="normal" text-anchor="start" fill="#111">320</text>
<line x1="319.40" y1="857.30" x2="321.90" y2="857.30" stroke="#222" stroke-width="0.8"/>
<text transform="translate(324.90,861.20) scale(1.100,1)" font-size="15.3" font-weight="normal" text-anchor="start" fill="#111">400</text>
<line x1="319.40" y1="839.32" x2="321.90" y2="839.32" stroke="#222" stroke-width="0.8"/>
<text transform="translate(324.90,843.22) scale(1.100,1)" font-size="15.3" font-weight="normal" text-anchor="start" fill="#111">480</text>
<line x1="319.40" y1="821.34" x2="321.90" y2="821.34" stroke="#222" stroke-width="0.8"/>
<text transform="translate(324.90,825.24) scale(1.100,1)" font-size="15.3" font-weight="normal" text-anchor="start" fill="#111">560</text>
<line x1="319.40" y1="803.36" x2="321.90" y2="803.36" stroke="#222" stroke-width="0.8"/>
<text transform="translate(324.90,807.26) scale(1.100,1)" font-size="15.3" font-weight="normal" text-anchor="start" fill="#111">640</text>
<line x1="319.40" y1="785.38" x2="321.90" y2="785.38" stroke="#222" stroke-width="0.8"/>
<text transform="translate(324.90,789.28) scale(1.100,1)" font-size="15.3" font-weight="normal" text-anchor="start" fill="#111">720</text>
<text transform="translate(324.90,771.30) scale(1.100,1)" font-size="15.3" font-weight="normal" text-anchor="start" fill="#111">800</text>
<rect x="693.70" y="767.40" width="9.20" height="179.80" fill="url(#vg)" stroke="#222" stroke-width="0.9"/>
<text transform="translate(705.90,951.10) scale(1.100,1)" font-size="15.3" font-weight="normal" text-anchor="start" fill="#111">0</text>
<line x1="700.40" y1="929.22" x2="702.90" y2="929.22" stroke="#222" stroke-width="0.8"/>
<text transform="translate(705.90,933.12) scale(1.100,1)" font-size="15.3" font-weight="normal" text-anchor="start" fill="#111">2</text>
<line x1="700.40" y1="911.24" x2="702.90" y2="911.24" stroke="#222" stroke-width="0.8"/>
<text transform="translate(705.90,915.14) scale(1.100,1)" font-size="15.3" font-weight="normal" text-anchor="start" fill="#111">4</text>
<line x1="700.40" y1="893.26" x2="702.90" y2="893.26" stroke="#222" stroke-width="0.8"/>
<text transform="translate(705.90,897.16) scale(1.100,1)" font-size="15.3" font-weight="normal" text-anchor="start" fill="#111">6</text>
<line x1="700.40" y1="875.28" x2="702.90" y2="875.28" stroke="#222" stroke-width="0.8"/>
<text transform="translate(705.90,879.18) scale(1.100,1)" font-size="15.3" font-weight="normal" text-anchor="start" fill="#111">8</text>
<line x1="700.40" y1="857.30" x2="702.90" y2="857.30" stroke="#222" stroke-width="0.8"/>
<text transform="translate(705.90,861.20) scale(1.100,1)" font-size="15.3" font-weight="normal" text-anchor="start" fill="#111">10</text>
<line x1="700.40" y1="839.32" x2="702.90" y2="839.32" stroke="#222" stroke-width="0.8"/>
<text transform="translate(705.90,843.22) scale(1.100,1)" font-size="15.3" font-weight="normal" text-anchor="start" fill="#111">12</text>
<line x1="700.40" y1="821.34" x2="702.90" y2="821.34" stroke="#222" stroke-width="0.8"/>
<text transform="translate(705.90,825.24) scale(1.100,1)" font-size="15.3" font-weight="normal" text-anchor="start" fill="#111">14</text>
<line x1="700.40" y1="803.36" x2="702.90" y2="803.36" stroke="#222" stroke-width="0.8"/>
<text transform="translate(705.90,807.26) scale(1.100,1)" font-size="15.3" font-weight="normal" text-anchor="start" fill="#111">16</text>
<line x1="700.40" y1="785.38" x2="702.90" y2="785.38" stroke="#222" stroke-width="0.8"/>
<text transform="translate(705.90,789.28) scale(1.100,1)" font-size="15.3" font-weight="normal" text-anchor="start" fill="#111">18</text>
<text transform="translate(705.90,771.30) scale(1.100,1)" font-size="15.3" font-weight="normal" text-anchor="start" fill="#111">20</text>
<text transform="translate(369.20,857.30) rotate(-90) scale(1.030,1)" font-size="15.5" font-weight="normal" text-anchor="middle" fill="#111">Mass</text>
<text transform="translate(740.50,857.30) rotate(-90) scale(1.050,1)" font-size="15" font-weight="normal" text-anchor="middle" fill="#111">O #</text>
<text transform="translate(0.00,768.60) scale(1.030,1)" font-size="25" font-weight="bold" text-anchor="start" fill="#000">(d)</text>
</svg></body></html>
